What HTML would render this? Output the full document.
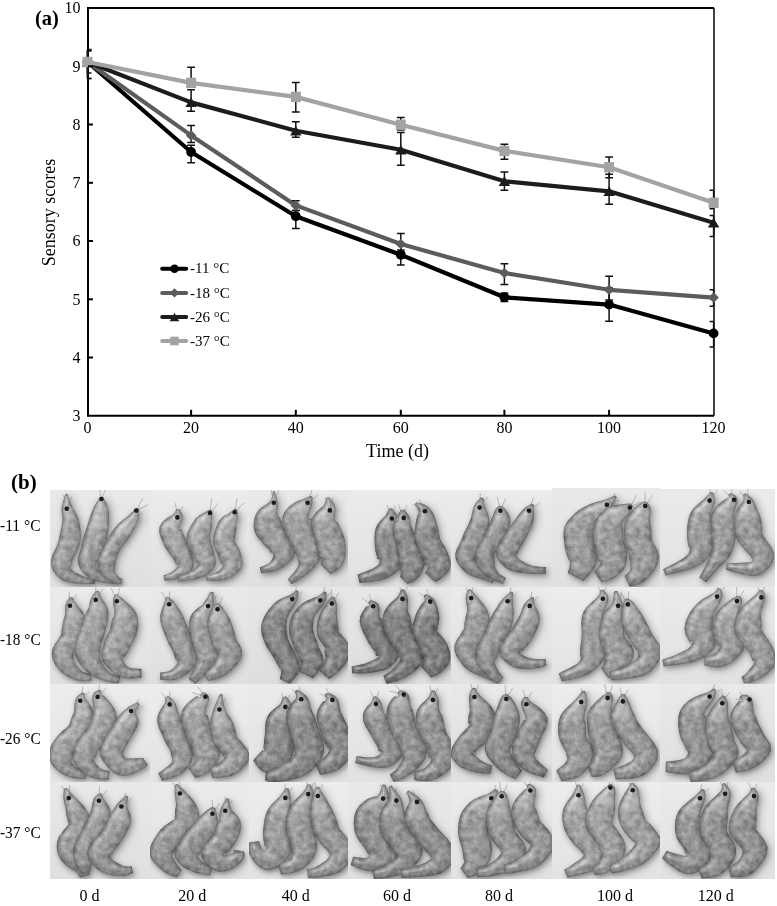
<!DOCTYPE html>
<html><head><meta charset="utf-8"><style>
html,body{margin:0;padding:0;background:#fff;}
svg{display:block;filter:grayscale(1);}
text{font-family:"Liberation Serif", serif;fill:#000;}
</style></head><body>
<svg width="777" height="906" viewBox="0 0 777 906">
<path d="M714.0 8.0V415.8" stroke="#2e2e2e" stroke-width="1.8" fill="none"/>
<path d="M714.0 415.8H88.0V8.0H714.0" stroke="#000" stroke-width="2" fill="none"/>
<polyline points="87.5,62.0 191.1,152.0 295.8,216.3 400.8,254.8 504.4,297.3 609.1,304.6 713.6,333.4" fill="none" stroke="#000000" stroke-width="4.2" stroke-linejoin="round"/>
<path d="M87.5 49.5V78.6M87.5 49.5H91.5M87.5 78.6H91.5" stroke="#111" stroke-width="1.5" fill="none"/>
<path d="M191.1 145.3V162.8M187.2 145.3H195.0M187.2 162.8H195.0" stroke="#111" stroke-width="1.5" fill="none"/>
<path d="M295.8 210.6V228.4M291.9 210.6H299.7M291.9 228.4H299.7" stroke="#111" stroke-width="1.5" fill="none"/>
<path d="M400.8 244V265M396.9 244H404.7M396.9 265H404.7" stroke="#111" stroke-width="1.5" fill="none"/>
<path d="M504.4 293V301.4M500.5 293H508.3M500.5 301.4H508.3" stroke="#111" stroke-width="1.5" fill="none"/>
<path d="M609.1 288V321.2M605.2 288H613.0M605.2 321.2H613.0" stroke="#111" stroke-width="1.5" fill="none"/>
<path d="M713.6 321.5V346.9M709.6 321.5H713.6M709.6 346.9H713.6" stroke="#111" stroke-width="1.5" fill="none"/>
<circle cx="87.5" cy="62.0" r="4.9" fill="#000"/>
<circle cx="191.1" cy="152.0" r="4.9" fill="#000"/>
<circle cx="295.8" cy="216.3" r="4.9" fill="#000"/>
<circle cx="400.8" cy="254.8" r="4.9" fill="#000"/>
<circle cx="504.4" cy="297.3" r="4.9" fill="#000"/>
<circle cx="609.1" cy="304.6" r="4.9" fill="#000"/>
<circle cx="713.6" cy="333.4" r="4.9" fill="#000"/>
<polyline points="87.5,62.0 191.1,135.4 295.8,205.4 400.8,244.0 504.4,273.0 609.1,289.8 713.6,297.6" fill="none" stroke="#5c5c5c" stroke-width="4.2" stroke-linejoin="round"/>
<path d="M87.5 50V78.6M87.5 50H91.5M87.5 78.6H91.5" stroke="#111" stroke-width="1.5" fill="none"/>
<path d="M191.1 125.5V142.5M187.2 125.5H195.0M187.2 142.5H195.0" stroke="#111" stroke-width="1.5" fill="none"/>
<path d="M295.8 200.7V210.6M291.9 200.7H299.7M291.9 210.6H299.7" stroke="#111" stroke-width="1.5" fill="none"/>
<path d="M400.8 233.5V250M396.9 233.5H404.7M396.9 250H404.7" stroke="#111" stroke-width="1.5" fill="none"/>
<path d="M504.4 263.7V284.6M500.5 263.7H508.3M500.5 284.6H508.3" stroke="#111" stroke-width="1.5" fill="none"/>
<path d="M609.1 276.3V300M605.2 276.3H613.0M605.2 300H613.0" stroke="#111" stroke-width="1.5" fill="none"/>
<path d="M713.6 289.7V306.2M709.6 289.7H713.6M709.6 306.2H713.6" stroke="#111" stroke-width="1.5" fill="none"/>
<path d="M87.5 56.7L92.8 62.0L87.5 67.3L82.2 62.0Z" fill="#5c5c5c"/>
<path d="M191.1 130.1L196.4 135.4L191.1 140.7L185.8 135.4Z" fill="#5c5c5c"/>
<path d="M295.8 200.1L301.1 205.4L295.8 210.7L290.5 205.4Z" fill="#5c5c5c"/>
<path d="M400.8 238.7L406.1 244.0L400.8 249.3L395.5 244.0Z" fill="#5c5c5c"/>
<path d="M504.4 267.7L509.7 273.0L504.4 278.3L499.1 273.0Z" fill="#5c5c5c"/>
<path d="M609.1 284.5L614.4 289.8L609.1 295.1L603.8 289.8Z" fill="#5c5c5c"/>
<path d="M713.6 292.3L718.9 297.6L713.6 302.9L708.3 297.6Z" fill="#5c5c5c"/>
<polyline points="87.5,62.0 191.1,102.4 295.8,130.7 400.8,149.7 504.4,181.3 609.1,191.3 713.6,222.7" fill="none" stroke="#1c1c1c" stroke-width="4.2" stroke-linejoin="round"/>
<path d="M87.5 62V73M87.5 62H91.5M87.5 73H91.5" stroke="#111" stroke-width="1.5" fill="none"/>
<path d="M191.1 89.8V111.2M187.2 89.8H195.0M187.2 111.2H195.0" stroke="#111" stroke-width="1.5" fill="none"/>
<path d="M295.8 121.8V137.3M291.9 121.8H299.7M291.9 137.3H299.7" stroke="#111" stroke-width="1.5" fill="none"/>
<path d="M400.8 132.4V165.2M396.9 132.4H404.7M396.9 165.2H404.7" stroke="#111" stroke-width="1.5" fill="none"/>
<path d="M504.4 172.1V190.2M500.5 172.1H508.3M500.5 190.2H508.3" stroke="#111" stroke-width="1.5" fill="none"/>
<path d="M609.1 174.2V204.2M605.2 174.2H613.0M605.2 204.2H613.0" stroke="#111" stroke-width="1.5" fill="none"/>
<path d="M713.6 215.4V236.6M709.6 215.4H713.6M709.6 236.6H713.6" stroke="#111" stroke-width="1.5" fill="none"/>
<path d="M87.5 57.0L93.2 66.7L81.8 66.7Z" fill="#1c1c1c"/>
<path d="M191.1 97.4L196.8 107.1L185.4 107.1Z" fill="#1c1c1c"/>
<path d="M295.8 125.7L301.5 135.4L290.1 135.4Z" fill="#1c1c1c"/>
<path d="M400.8 144.7L406.5 154.4L395.1 154.4Z" fill="#1c1c1c"/>
<path d="M504.4 176.3L510.1 186.0L498.7 186.0Z" fill="#1c1c1c"/>
<path d="M609.1 186.3L614.8 196.0L603.4 196.0Z" fill="#1c1c1c"/>
<path d="M713.6 217.7L719.3 227.4L707.9 227.4Z" fill="#1c1c1c"/>
<polyline points="87.5,62.0 191.1,82.9 295.8,96.9 400.8,124.8 504.4,150.9 609.1,167.2 713.6,202.8" fill="none" stroke="#a3a3a3" stroke-width="4.2" stroke-linejoin="round"/>
<path d="M87.5 51V62M87.5 51H91.5M87.5 62H91.5" stroke="#111" stroke-width="1.5" fill="none"/>
<path d="M191.1 67.2V84M187.2 67.2H195.0M187.2 84H195.0" stroke="#111" stroke-width="1.5" fill="none"/>
<path d="M295.8 82.6V111.9M291.9 82.6H299.7M291.9 111.9H299.7" stroke="#111" stroke-width="1.5" fill="none"/>
<path d="M400.8 117.5V130M396.9 117.5H404.7M396.9 130H404.7" stroke="#111" stroke-width="1.5" fill="none"/>
<path d="M504.4 144.3V159.2M500.5 144.3H508.3M500.5 159.2H508.3" stroke="#111" stroke-width="1.5" fill="none"/>
<path d="M609.1 156.9V177.7M605.2 156.9H613.0M605.2 177.7H613.0" stroke="#111" stroke-width="1.5" fill="none"/>
<path d="M713.6 190.3V208.8M709.6 190.3H713.6M709.6 208.8H713.6" stroke="#111" stroke-width="1.5" fill="none"/>
<rect x="82.5" y="56.8" width="10" height="10.4" fill="#a3a3a3"/>
<rect x="186.1" y="77.7" width="10" height="10.4" fill="#a3a3a3"/>
<rect x="290.8" y="91.7" width="10" height="10.4" fill="#a3a3a3"/>
<rect x="395.8" y="119.6" width="10" height="10.4" fill="#a3a3a3"/>
<rect x="499.4" y="145.7" width="10" height="10.4" fill="#a3a3a3"/>
<rect x="604.1" y="162.0" width="10" height="10.4" fill="#a3a3a3"/>
<rect x="708.6" y="197.6" width="10" height="10.4" fill="#a3a3a3"/>
<text x="80.5" y="421.2" text-anchor="end" font-size="16">3</text>
<path d="M88.0 357.5H93.0" stroke="#000" stroke-width="2"/>
<text x="80.5" y="362.9" text-anchor="end" font-size="16">4</text>
<path d="M88.0 299.3H93.0" stroke="#000" stroke-width="2"/>
<text x="80.5" y="304.7" text-anchor="end" font-size="16">5</text>
<path d="M88.0 241.0H93.0" stroke="#000" stroke-width="2"/>
<text x="80.5" y="246.4" text-anchor="end" font-size="16">6</text>
<path d="M88.0 182.8H93.0" stroke="#000" stroke-width="2"/>
<text x="80.5" y="188.2" text-anchor="end" font-size="16">7</text>
<path d="M88.0 124.5H93.0" stroke="#000" stroke-width="2"/>
<text x="80.5" y="129.9" text-anchor="end" font-size="16">8</text>
<path d="M88.0 66.3H93.0" stroke="#000" stroke-width="2"/>
<text x="80.5" y="71.7" text-anchor="end" font-size="16">9</text>
<text x="80.5" y="13.4" text-anchor="end" font-size="16">10</text>
<text x="87.5" y="432.8" text-anchor="middle" font-size="16">0</text>
<path d="M191.1 415.8V409.8" stroke="#000" stroke-width="2"/>
<text x="191.1" y="432.8" text-anchor="middle" font-size="16">20</text>
<path d="M295.8 415.8V409.8" stroke="#000" stroke-width="2"/>
<text x="295.8" y="432.8" text-anchor="middle" font-size="16">40</text>
<path d="M400.8 415.8V409.8" stroke="#000" stroke-width="2"/>
<text x="400.8" y="432.8" text-anchor="middle" font-size="16">60</text>
<path d="M504.4 415.8V409.8" stroke="#000" stroke-width="2"/>
<text x="504.4" y="432.8" text-anchor="middle" font-size="16">80</text>
<path d="M609.1 415.8V409.8" stroke="#000" stroke-width="2"/>
<text x="609.1" y="432.8" text-anchor="middle" font-size="16">100</text>
<text x="713.6" y="432.8" text-anchor="middle" font-size="16">120</text>
<text x="397.5" y="456.7" text-anchor="middle" font-size="18">Time (d)</text>
<text transform="translate(54.5,212.6) rotate(-90)" text-anchor="middle" font-size="18">Sensory scores</text>
<text x="35" y="24.8" font-size="20.5" font-weight="bold">(a)</text>
<path d="M162.2 268.7H186.2" stroke="#000000" stroke-width="4" stroke-linecap="round"/>
<circle cx="174.5" cy="268.7" r="4.3" fill="#000000"/>
<text x="190" y="273.4" font-size="15">-11 °C</text>
<path d="M162.2 292.9H186.2" stroke="#5c5c5c" stroke-width="4" stroke-linecap="round"/>
<path d="M174.5 288.2L179.2 292.9L174.5 297.59999999999997L169.8 292.9Z" fill="#5c5c5c"/>
<text x="190" y="297.6" font-size="15">-18 °C</text>
<path d="M162.2 317.0H186.2" stroke="#1c1c1c" stroke-width="4" stroke-linecap="round"/>
<path d="M174.5 312.7L179.3 321.3L169.7 321.3Z" fill="#1c1c1c"/>
<text x="190" y="321.7" font-size="15">-26 °C</text>
<path d="M162.2 341.0H186.2" stroke="#a3a3a3" stroke-width="4" stroke-linecap="round"/>
<rect x="170.2" y="336.7" width="8.6" height="8.6" fill="#a3a3a3"/>
<text x="190" y="345.7" font-size="15">-37 °C</text>
<defs><filter id="bl" x="-50%" y="-50%" width="200%" height="200%"><feGaussianBlur stdDeviation="0.6"/></filter>
<filter id="bl2" x="-50%" y="-50%" width="200%" height="200%"><feGaussianBlur stdDeviation="1.8"/></filter>
<filter id="gsh" x="-30%" y="-30%" width="160%" height="160%"><feGaussianBlur stdDeviation="4.5"/><feOffset dx="2.5" dy="3"/></filter>
<filter id="shr" x="-30%" y="-30%" width="160%" height="160%" color-interpolation-filters="sRGB">
<feGaussianBlur in="SourceAlpha" stdDeviation="2.2" result="b"/>
<feOffset in="b" dx="1.2" dy="1.5" result="o"/>
<feFlood flood-color="#000" flood-opacity="0.28"/>
<feComposite in2="o" operator="in" result="sh"/>
<feGaussianBlur in="SourceAlpha" stdDeviation="1.8" result="ib"/>
<feComposite in="SourceAlpha" in2="ib" operator="out" result="edge"/>
<feFlood flood-color="#1a1a1a" flood-opacity="0.7"/>
<feComposite in2="edge" operator="in" result="edgec"/>
<feTurbulence type="fractalNoise" baseFrequency="0.18" numOctaves="3" seed="3" result="n"/>
<feColorMatrix in="n" type="matrix" values="1.3 0 0 0 -0.05  1.3 0 0 0 -0.05  1.3 0 0 0 -0.05  0 0 0 0 0.22" result="nw"/>
<feComposite in="nw" in2="SourceAlpha" operator="in" result="tex"/>
<feGaussianBlur in="SourceGraphic" stdDeviation="0.5" result="sg"/>
<feGaussianBlur in="SourceAlpha" stdDeviation="3" result="hb"/>
<feSpecularLighting in="hb" surfaceScale="5" specularConstant="0.55" specularExponent="10" lighting-color="#ffffff" result="spec"><feDistantLight azimuth="235" elevation="40"/></feSpecularLighting>
<feComposite in="spec" in2="SourceAlpha" operator="in" result="specIn"/>
<feMerge><feMergeNode in="sg"/><feMergeNode in="tex"/></feMerge>
<feComposite in2="specIn" operator="arithmetic" k1="0" k2="1" k3="0.35" k4="0" result="lit"/>
<feMerge><feMergeNode in="sh"/><feMergeNode in="lit"/><feMergeNode in="edgec"/></feMerge>
</filter>
<clipPath id="c00"><rect x="50" y="490" width="100" height="97"/></clipPath>
<clipPath id="c01"><rect x="150" y="490" width="99" height="97"/></clipPath>
<clipPath id="c02"><rect x="249" y="490" width="99" height="97"/></clipPath>
<clipPath id="c03"><rect x="348" y="490" width="103" height="97"/></clipPath>
<clipPath id="c04"><rect x="451" y="490" width="101" height="97"/></clipPath>
<clipPath id="c05"><rect x="552" y="488" width="108" height="99"/></clipPath>
<clipPath id="c06"><rect x="660" y="489" width="115" height="98"/></clipPath>
<clipPath id="c10"><rect x="50" y="587" width="100" height="97"/></clipPath>
<clipPath id="c11"><rect x="150" y="587" width="99" height="97"/></clipPath>
<clipPath id="c12"><rect x="249" y="587" width="99" height="97"/></clipPath>
<clipPath id="c13"><rect x="348" y="587" width="103" height="97"/></clipPath>
<clipPath id="c14"><rect x="451" y="587" width="101" height="97"/></clipPath>
<clipPath id="c15"><rect x="552" y="587" width="108" height="97"/></clipPath>
<clipPath id="c16"><rect x="660" y="587" width="115" height="97"/></clipPath>
<clipPath id="c20"><rect x="50" y="684" width="100" height="98"/></clipPath>
<clipPath id="c21"><rect x="150" y="684" width="99" height="98"/></clipPath>
<clipPath id="c22"><rect x="249" y="684" width="99" height="98"/></clipPath>
<clipPath id="c23"><rect x="348" y="684" width="103" height="98"/></clipPath>
<clipPath id="c24"><rect x="451" y="684" width="101" height="98"/></clipPath>
<clipPath id="c25"><rect x="552" y="684" width="108" height="98"/></clipPath>
<clipPath id="c26"><rect x="660" y="684" width="115" height="98"/></clipPath>
<clipPath id="c30"><rect x="50" y="782" width="100" height="97"/></clipPath>
<clipPath id="c31"><rect x="150" y="782" width="99" height="97"/></clipPath>
<clipPath id="c32"><rect x="249" y="782" width="99" height="97"/></clipPath>
<clipPath id="c33"><rect x="348" y="782" width="103" height="97"/></clipPath>
<clipPath id="c34"><rect x="451" y="782" width="101" height="97"/></clipPath>
<clipPath id="c35"><rect x="552" y="782" width="108" height="97"/></clipPath>
<clipPath id="c36"><rect x="660" y="782" width="115" height="97"/></clipPath>
</defs>
<linearGradient id="g00" x1="0" y1="0" x2="0" y2="1"><stop offset="0" stop-color="#e9e9e9"/><stop offset="1" stop-color="#dfdfdf"/></linearGradient>
<g clip-path="url(#c00)"><rect x="50" y="490" width="100" height="97" fill="url(#g00)"/>
<g transform="translate(50,490)">
<g filter="url(#gsh)" opacity="0.22">
<path d="M13.7 4.0 L13.3 5.5 L12.7 7.6 L12.0 10.1 L11.3 12.9 L10.8 15.9 L10.6 18.9 L11.0 21.9 L11.6 24.6 L12.1 26.9 L12.4 29.0 L12.4 30.8 L12.2 32.7 L11.8 35.2 L11.4 38.0 L10.8 40.9 L10.1 43.7 L9.5 46.5 L9.0 48.9 L8.5 51.1 L7.6 54.0 L6.2 57.2 L4.5 60.8 L2.6 64.8 L1.4 69.2 L1.1 73.3 L1.7 77.0 L3.0 80.6 L5.2 83.8 L7.8 86.5 L10.6 89.1 L14.1 91.0 L17.8 92.1 L21.4 92.8 L24.9 93.2 L28.2 93.4 L31.1 93.7 L33.8 94.0 L36.6 94.1 L39.2 94.1 L41.5 94.1 L43.4 94.1 L44.7 94.1 L45.3 89.9 L43.9 89.6 L42.0 89.2 L39.9 88.7 L37.6 88.0 L35.2 87.3 L32.9 86.3 L30.4 85.1 L27.6 83.8 L24.8 82.3 L22.5 80.8 L20.9 79.4 L20.2 78.3 L20.0 77.5 L20.3 76.4 L21.0 75.5 L21.4 74.6 L21.7 73.5 L21.8 72.4 L22.0 71.1 L22.6 68.9 L24.1 65.9 L25.9 62.4 L28.0 58.5 L29.6 54.1 L30.4 49.9 L30.6 45.9 L30.5 42.0 L30.2 38.2 L29.7 34.7 L29.0 31.3 L28.1 27.9 L26.9 24.8 L25.7 22.4 L24.7 20.3 L24.0 18.6 L23.4 17.1 L22.7 15.1 L22.0 12.7 L21.2 10.1 L20.6 7.7 L20.1 5.6 L19.7 4.0Z" fill="#000"/>
<path d="M47.5 6.8 L46.9 8.1 L46.0 9.8 L45.0 11.7 L43.9 13.8 L42.9 16.0 L41.9 18.3 L41.1 20.8 L40.3 23.8 L39.5 26.9 L38.7 30.1 L37.9 33.3 L37.1 36.3 L36.2 39.4 L35.2 42.5 L34.2 45.7 L33.2 48.8 L32.3 51.8 L31.7 54.4 L31.5 56.5 L31.1 58.7 L30.2 61.2 L29.1 64.2 L27.9 67.9 L27.8 72.2 L28.9 76.0 L30.6 79.2 L32.8 81.8 L35.1 84.3 L37.5 86.5 L40.2 88.5 L43.5 90.0 L46.9 91.1 L50.4 91.9 L53.8 92.5 L57.0 93.0 L59.7 93.3 L62.2 93.5 L64.6 93.5 L66.7 93.3 L68.4 93.1 L69.8 92.9 L70.8 92.8 L70.8 88.6 L69.7 88.4 L68.3 88.3 L66.7 88.1 L65.0 87.8 L63.2 87.4 L61.3 86.7 L59.0 85.7 L56.2 84.5 L53.4 83.2 L50.8 81.7 L48.7 80.2 L47.4 78.9 L46.5 77.7 L45.8 76.3 L45.5 74.8 L45.8 73.4 L46.3 72.3 L46.8 71.8 L47.1 71.8 L47.3 71.2 L48.1 69.7 L49.6 67.6 L51.5 64.9 L53.3 61.6 L54.5 58.3 L55.4 55.0 L56.2 51.5 L56.9 48.0 L57.5 44.4 L58.1 40.9 L58.6 37.3 L59.1 33.7 L59.5 30.1 L59.7 26.7 L59.8 23.4 L59.7 20.3 L59.3 17.4 L58.6 14.7 L57.7 12.2 L56.8 10.1 L56.0 8.4 L55.5 7.2Z" fill="#000"/>
<path d="M84.7 17.0 L83.7 18.0 L82.5 19.4 L81.0 21.0 L79.5 22.7 L78.1 24.3 L76.7 25.8 L75.2 27.2 L73.4 28.8 L71.5 30.6 L69.4 32.7 L67.2 35.0 L65.2 37.4 L63.3 40.0 L61.5 42.7 L59.8 45.6 L58.1 48.6 L56.4 51.5 L54.8 54.3 L53.3 56.9 L51.9 59.5 L50.5 62.2 L49.3 64.9 L48.3 67.9 L47.7 71.1 L47.7 74.3 L48.3 77.4 L49.3 80.2 L50.7 82.7 L52.2 84.9 L54.1 86.8 L56.0 88.8 L58.2 90.2 L60.2 91.3 L62.2 92.0 L63.9 92.5 L65.4 93.0 L66.8 93.4 L68.3 93.6 L69.5 93.6 L70.5 93.6 L71.2 93.5 L71.6 93.5 L72.4 89.3 L71.8 89.1 L71.1 88.8 L70.5 88.5 L69.8 88.2 L69.3 87.7 L68.6 87.0 L67.7 86.1 L66.7 84.9 L65.7 83.7 L64.9 82.5 L64.4 81.5 L64.3 80.6 L64.5 79.3 L64.7 77.9 L64.8 76.5 L65.1 75.1 L65.3 73.9 L65.5 72.9 L65.6 71.7 L65.9 70.2 L66.3 68.3 L66.9 66.2 L67.8 64.0 L68.8 61.7 L70.0 59.5 L71.5 57.1 L73.4 54.7 L75.3 52.3 L77.1 49.9 L78.8 47.6 L80.3 45.4 L81.9 43.2 L83.5 40.9 L85.1 38.5 L86.7 36.0 L88.1 33.4 L89.3 30.7 L90.1 28.0 L90.7 25.5 L91.0 23.2 L91.1 21.4 L91.3 20.0Z" fill="#000"/>
</g>
<g filter="url(#shr)">
<path d="M15.7 4.0 L15.1 5.5 L14.4 7.6 L13.5 10.1 L12.7 12.9 L12.0 15.8 L11.6 18.8 L11.7 21.7 L12.1 24.4 L12.5 26.8 L12.6 28.9 L12.5 30.8 L12.2 32.7 L11.8 35.2 L11.3 38.0 L10.7 40.9 L10.1 43.7 L9.5 46.5 L9.0 48.9 L8.5 51.1 L7.6 54.0 L6.2 57.2 L4.5 60.8 L2.6 64.8 L1.4 69.2 L1.1 73.3 L1.7 77.0 L3.0 80.6 L5.2 83.8 L7.8 86.5 L10.6 89.1 L14.1 91.0 L17.8 92.1 L21.4 92.8 L24.9 93.2 L28.2 93.4 L31.1 93.7 L33.8 94.0 L36.6 94.1 L39.2 94.1 L41.5 94.1 L43.4 94.1 L44.7 94.1 L45.3 89.9 L43.9 89.6 L42.0 89.2 L39.9 88.7 L37.6 88.0 L35.2 87.3 L32.9 86.3 L30.4 85.1 L27.6 83.8 L24.8 82.3 L22.5 80.8 L20.9 79.4 L20.2 78.3 L20.0 77.5 L20.3 76.4 L21.0 75.5 L21.4 74.6 L21.7 73.5 L21.8 72.4 L22.0 71.1 L22.6 68.9 L24.1 65.9 L25.9 62.4 L28.0 58.5 L29.6 54.1 L30.4 49.9 L30.7 45.9 L30.6 42.0 L30.2 38.2 L29.7 34.7 L29.0 31.3 L28.0 27.9 L26.7 24.9 L25.3 22.5 L24.1 20.5 L23.2 18.8 L22.4 17.2 L21.5 15.2 L20.6 12.7 L19.7 10.1 L18.9 7.7 L18.2 5.5 L17.7 4.0Z" fill="#8e8e8e"/>
<path d="M10.3 46.9Q19.7 49.7 29.5 49.5M7.6 54.2Q16.2 59.6 26.0 62.2M3.4 64.3Q11.7 69.3 21.2 71.6M3.4 79.7Q12.3 79.5 20.6 76.4M13.3 91.0Q18.7 86.1 21.6 79.4M24.8 93.4Q27.7 88.9 27.7 83.5" stroke="#5a5a5a" stroke-width="0.9" stroke-opacity="0.22" fill="none"/>
</g>
<path d="M15.9 4.0 L15.5 5.5 L14.8 7.6 L14.1 10.1 L13.5 12.9 L12.9 15.8 L12.7 18.6 L12.7 21.5 L13.0 24.5 L13.4 27.4 L13.8 30.1 L14.1 32.2 L14.3 33.8 L26.9 30.2 L26.2 28.7 L25.3 26.7 L24.2 24.4 L23.2 21.9 L22.2 19.5 L21.3 17.4 L20.6 15.2 L19.8 12.7 L19.1 10.1 L18.5 7.7 L17.9 5.5 L17.5 4.0Z" fill="#ffffff" opacity="0.22" filter="url(#bl2)"/>
<path d="M16.7 18.7L13.7 4.7M16.7 18.7L21.7 6.7" stroke="#8a8a8a" stroke-width="0.9" stroke-opacity="0.6" fill="none"/>
<circle cx="16.7" cy="18.7" r="2.3" fill="#1a1a1a" filter="url(#bl)"/>
<g filter="url(#shr)">
<path d="M50.1 6.9 L49.3 8.2 L48.3 9.8 L47.0 11.8 L45.7 13.9 L44.4 16.1 L43.3 18.4 L42.2 21.0 L41.1 23.9 L40.1 27.0 L39.0 30.2 L38.0 33.3 L37.1 36.3 L36.1 39.4 L35.1 42.5 L34.1 45.7 L33.1 48.8 L32.3 51.8 L31.7 54.4 L31.5 56.5 L31.1 58.7 L30.2 61.2 L29.1 64.2 L27.9 67.9 L27.8 72.2 L28.9 76.0 L30.6 79.2 L32.8 81.8 L35.1 84.3 L37.5 86.5 L40.2 88.5 L43.5 90.0 L46.9 91.1 L50.4 91.9 L53.8 92.5 L57.0 93.0 L59.7 93.3 L62.2 93.5 L64.6 93.5 L66.7 93.3 L68.4 93.1 L69.8 92.9 L70.8 92.8 L70.8 88.6 L69.7 88.4 L68.3 88.3 L66.7 88.1 L65.0 87.8 L63.2 87.4 L61.3 86.7 L59.0 85.7 L56.2 84.5 L53.4 83.2 L50.8 81.7 L48.7 80.2 L47.4 78.9 L46.5 77.7 L45.8 76.3 L45.5 74.8 L45.8 73.4 L46.3 72.3 L46.8 71.8 L47.1 71.8 L47.3 71.2 L48.1 69.7 L49.6 67.6 L51.5 64.9 L53.3 61.6 L54.5 58.3 L55.4 55.0 L56.3 51.6 L57.0 48.0 L57.6 44.4 L58.1 40.9 L58.5 37.3 L58.8 33.6 L58.9 30.0 L58.9 26.5 L58.7 23.2 L58.3 20.2 L57.7 17.3 L56.8 14.6 L55.7 12.1 L54.5 10.0 L53.6 8.3 L52.9 7.1Z" fill="#8e8e8e"/>
<path d="M34.8 46.0Q44.8 50.1 55.5 51.3M32.2 54.9Q42.1 59.4 52.8 61.1M29.6 63.8Q37.6 69.1 46.8 71.6M30.7 78.5Q38.7 77.7 45.7 74.0M39.6 88.4Q44.9 84.7 48.0 79.0M53.7 92.7Q56.5 89.0 56.4 84.3" stroke="#5a5a5a" stroke-width="0.9" stroke-opacity="0.22" fill="none"/>
</g>
<path d="M50.4 7.0 L49.8 8.2 L48.9 9.9 L47.9 11.8 L46.8 14.0 L45.7 16.2 L44.8 18.6 L43.8 21.3 L42.7 24.8 L41.6 28.4 L40.6 31.9 L39.7 35.0 L39.1 37.1 L56.1 40.1 L56.3 37.9 L56.5 34.7 L56.7 31.0 L56.9 27.1 L57.0 23.3 L56.8 20.0 L56.4 17.2 L55.7 14.5 L54.8 12.1 L53.9 10.0 L53.1 8.3 L52.6 7.0Z" fill="#ffffff" opacity="0.22" filter="url(#bl2)"/>
<path d="M51.5 9.0L48.5 -5.0M51.5 9.0L56.5 -3.0" stroke="#8a8a8a" stroke-width="0.9" stroke-opacity="0.6" fill="none"/>
<circle cx="51.5" cy="9" r="2.3" fill="#1a1a1a" filter="url(#bl)"/>
<g filter="url(#shr)">
<path d="M86.9 18.0 L85.8 18.9 L84.3 20.2 L82.7 21.7 L80.9 23.3 L79.2 24.9 L77.6 26.4 L75.9 27.7 L73.9 29.2 L71.8 30.9 L69.6 32.8 L67.3 35.0 L65.2 37.4 L63.3 40.0 L61.5 42.7 L59.7 45.6 L58.1 48.6 L56.4 51.5 L54.8 54.3 L53.3 56.9 L51.9 59.5 L50.5 62.2 L49.3 64.9 L48.3 67.9 L47.7 71.1 L47.7 74.3 L48.3 77.4 L49.3 80.2 L50.7 82.7 L52.2 84.9 L54.1 86.8 L56.0 88.8 L58.2 90.2 L60.2 91.3 L62.2 92.0 L63.9 92.5 L65.4 93.0 L66.8 93.4 L68.3 93.6 L69.5 93.6 L70.5 93.6 L71.2 93.5 L71.6 93.5 L72.4 89.3 L71.8 89.1 L71.1 88.8 L70.5 88.5 L69.8 88.2 L69.3 87.7 L68.6 87.0 L67.7 86.1 L66.7 84.9 L65.7 83.7 L64.9 82.5 L64.4 81.5 L64.3 80.6 L64.5 79.3 L64.7 77.9 L64.8 76.5 L65.1 75.1 L65.3 73.9 L65.5 72.9 L65.6 71.7 L65.9 70.2 L66.3 68.3 L66.9 66.2 L67.8 64.0 L68.8 61.7 L70.0 59.5 L71.6 57.1 L73.4 54.8 L75.3 52.4 L77.2 49.9 L78.8 47.6 L80.3 45.3 L81.7 43.0 L83.2 40.6 L84.6 38.1 L86.0 35.5 L87.2 32.8 L88.2 30.1 L88.8 27.4 L89.0 24.7 L89.1 22.4 L89.1 20.4 L89.1 19.0Z" fill="#8e8e8e"/>
<path d="M61.1 42.4Q67.5 48.8 75.7 52.7M56.2 51.2Q62.4 56.8 70.2 59.8M52.1 59.4Q58.8 64.2 66.7 66.3M49.0 67.7Q56.6 71.3 64.9 72.0M49.1 76.9Q56.8 77.8 64.3 75.6M55.5 88.6Q61.1 86.3 65.0 81.7" stroke="#5a5a5a" stroke-width="0.9" stroke-opacity="0.22" fill="none"/>
</g>
<path d="M87.1 18.1 L86.1 19.1 L84.8 20.5 L83.3 22.0 L81.7 23.8 L80.1 25.5 L78.6 27.0 L76.8 28.7 L74.6 30.8 L72.3 32.9 L70.1 35.0 L68.2 36.8 L66.8 38.1 L77.2 46.9 L78.2 45.3 L79.7 43.2 L81.4 40.5 L83.2 37.7 L84.9 34.9 L86.2 32.2 L87.3 29.6 L88.0 27.0 L88.4 24.4 L88.6 22.2 L88.8 20.3 L88.9 18.9Z" fill="#ffffff" opacity="0.22" filter="url(#bl2)"/>
<path d="M86.2 20.6L93.0 8.0M86.2 20.6L97.8 14.7" stroke="#8a8a8a" stroke-width="0.9" stroke-opacity="0.6" fill="none"/>
<circle cx="86.2" cy="20.6" r="2.3" fill="#1a1a1a" filter="url(#bl)"/>
</g></g>
<linearGradient id="g01" x1="0" y1="0" x2="0" y2="1"><stop offset="0" stop-color="#ebebeb"/><stop offset="1" stop-color="#e1e1e1"/></linearGradient>
<g clip-path="url(#c01)"><rect x="150" y="490" width="99" height="97" fill="url(#g01)"/>
<g transform="translate(150,490)">
<g filter="url(#gsh)" opacity="0.22">
<path d="M24.0 19.0 L23.7 20.1 L23.4 21.3 L22.9 22.6 L22.3 23.6 L21.7 24.5 L21.5 24.8 L21.2 25.3 L19.7 26.0 L17.7 27.3 L15.2 29.4 L12.0 32.4 L9.5 37.2 L9.4 42.2 L10.4 46.2 L11.7 49.7 L13.1 52.7 L14.4 55.5 L15.6 58.1 L17.4 60.8 L19.4 63.4 L21.2 65.7 L22.7 67.8 L23.7 69.5 L24.4 71.0 L25.1 72.5 L25.8 73.9 L26.1 74.7 L26.3 74.9 L26.8 74.6 L28.1 74.5 L28.5 75.0 L28.0 76.1 L26.9 77.5 L25.4 79.0 L23.8 80.4 L22.4 81.6 L21.1 82.5 L19.5 83.3 L17.8 84.0 L16.1 84.6 L14.6 85.1 L13.5 85.5 L14.5 90.5 L15.6 90.5 L17.2 90.4 L19.1 90.4 L21.3 90.2 L23.7 89.8 L26.0 89.2 L28.3 88.5 L30.7 87.6 L33.2 86.6 L35.7 85.2 L38.2 83.4 L40.7 80.9 L43.0 77.8 L43.8 74.3 L43.5 71.3 L42.9 68.7 L42.3 66.4 L41.6 64.0 L40.4 61.3 L39.0 58.5 L37.8 55.9 L36.7 53.4 L36.0 51.1 L35.4 48.9 L34.4 46.5 L33.2 43.9 L32.4 41.6 L31.8 39.8 L31.7 38.9 L31.3 39.2 L29.9 39.8 L28.9 39.0 L29.4 37.4 L30.5 35.3 L31.8 32.8 L33.3 30.0 L34.0 27.1 L33.9 24.6 L33.4 22.5 L32.8 20.9 L32.3 19.7 L32.0 19.0Z" fill="#000"/>
<path d="M58.0 18.3 L57.2 18.9 L56.1 19.7 L54.8 20.6 L53.4 21.6 L52.1 22.6 L51.1 23.5 L50.4 24.0 L49.8 24.4 L48.9 25.1 L47.7 26.3 L46.3 27.7 L45.1 29.3 L43.9 31.2 L42.5 33.5 L40.7 36.3 L38.9 39.7 L37.2 43.6 L36.4 48.4 L37.1 53.3 L38.7 57.3 L40.4 60.5 L41.9 63.1 L42.9 65.2 L43.7 67.1 L44.7 69.3 L45.9 71.3 L46.5 72.7 L46.7 73.3 L47.0 72.8 L48.0 72.2 L49.0 72.7 L48.8 73.7 L48.0 75.0 L46.9 76.5 L45.4 78.0 L43.7 79.4 L41.6 80.7 L38.7 82.2 L35.4 83.5 L32.2 84.7 L29.4 85.7 L27.4 86.5 L28.6 91.5 L30.7 91.3 L33.6 91.0 L37.2 90.6 L41.0 90.1 L44.7 89.5 L48.1 88.6 L51.0 87.5 L53.8 86.3 L56.4 84.8 L58.9 82.9 L61.2 80.6 L64.0 77.8 L65.7 73.8 L65.7 69.8 L64.9 66.8 L64.1 64.4 L63.7 62.4 L63.3 60.3 L62.4 57.6 L61.3 54.7 L60.5 52.1 L60.2 50.1 L60.3 48.7 L60.4 48.4 L60.1 47.8 L60.0 46.2 L60.1 43.9 L60.6 41.4 L61.3 38.9 L61.9 36.7 L62.1 35.2 L61.8 34.4 L61.7 33.8 L62.0 33.1 L62.4 31.9 L62.9 30.5 L63.3 29.0 L63.5 27.4 L63.7 25.7 L63.8 24.1 L63.9 22.7 L64.0 21.7Z" fill="#000"/>
<path d="M82.6 17.6 L81.8 18.4 L80.6 19.6 L79.3 21.0 L77.9 22.4 L76.7 23.7 L75.9 24.6 L75.5 24.8 L75.0 24.9 L74.0 25.6 L72.5 27.0 L70.6 28.9 L69.0 31.1 L67.7 33.6 L66.5 36.4 L65.3 39.7 L64.2 43.3 L63.3 47.2 L62.9 51.6 L63.7 56.0 L65.3 59.6 L66.9 62.4 L67.9 64.5 L68.2 66.1 L68.4 67.5 L69.1 69.5 L70.1 71.6 L70.7 73.2 L71.0 74.1 L71.4 74.0 L72.5 73.4 L73.9 73.8 L73.7 74.9 L73.1 76.3 L72.0 77.9 L70.7 79.4 L69.3 80.7 L67.7 81.8 L65.3 82.8 L62.6 83.7 L59.8 84.4 L57.4 85.0 L55.7 85.5 L56.3 90.5 L58.0 90.6 L60.5 90.7 L63.5 90.8 L66.7 90.9 L70.1 90.7 L73.3 90.1 L76.2 89.2 L79.1 88.2 L81.9 86.8 L84.7 85.0 L87.3 82.5 L90.5 79.4 L92.3 75.0 L92.4 70.8 L91.7 67.4 L90.9 64.5 L90.3 62.2 L89.6 59.9 L88.2 57.1 L86.4 54.7 L85.3 52.8 L84.8 51.4 L84.8 50.7 L84.9 50.4 L84.7 49.5 L84.8 47.4 L85.1 44.9 L85.6 42.2 L86.1 39.7 L86.4 37.7 L86.2 36.7 L85.7 36.3 L85.7 35.9 L86.2 35.0 L87.1 33.4 L88.1 31.4 L88.8 29.4 L89.1 27.3 L89.2 25.2 L89.3 23.3 L89.4 21.6 L89.4 20.4Z" fill="#000"/>
</g>
<g filter="url(#shr)">
<path d="M26.6 19.0 L26.1 20.0 L25.5 21.2 L24.8 22.5 L23.9 23.8 L23.0 24.7 L22.4 25.2 L21.7 25.7 L20.1 26.3 L17.9 27.6 L15.4 29.5 L12.1 32.4 L9.5 37.2 L9.3 42.2 L10.3 46.2 L11.7 49.7 L13.1 52.7 L14.3 55.5 L15.6 58.1 L17.4 60.8 L19.4 63.4 L21.2 65.7 L22.7 67.8 L23.7 69.5 L24.4 71.0 L25.1 72.5 L25.8 73.9 L26.1 74.7 L26.3 74.9 L26.8 74.6 L28.1 74.5 L28.5 75.0 L28.0 76.1 L26.9 77.5 L25.4 79.0 L23.8 80.4 L22.4 81.6 L21.1 82.5 L19.5 83.3 L17.8 84.0 L16.1 84.6 L14.6 85.1 L13.5 85.5 L14.5 90.5 L15.6 90.5 L17.2 90.4 L19.1 90.4 L21.3 90.2 L23.7 89.8 L26.0 89.2 L28.3 88.5 L30.7 87.6 L33.2 86.6 L35.7 85.2 L38.2 83.4 L40.7 80.9 L43.0 77.8 L43.8 74.3 L43.5 71.3 L42.9 68.7 L42.3 66.4 L41.6 64.0 L40.4 61.3 L39.0 58.5 L37.8 55.9 L36.7 53.4 L36.0 51.1 L35.4 48.9 L34.4 46.5 L33.3 43.9 L32.4 41.6 L31.9 39.8 L31.7 38.8 L31.3 39.2 L29.8 39.8 L28.8 38.8 L29.2 37.2 L30.1 35.0 L31.2 32.4 L32.4 29.6 L32.8 26.8 L32.3 24.4 L31.5 22.5 L30.6 21.0 L29.9 19.8 L29.4 19.0Z" fill="#949494"/>
<path d="M14.5 55.4Q25.0 52.3 34.3 46.5M19.0 63.5Q28.8 59.7 37.1 53.3M23.9 69.8Q32.8 66.7 40.3 61.0M26.4 74.0Q34.8 72.7 42.3 68.5M27.8 75.3Q32.5 80.4 39.0 83.1M23.6 80.2Q24.7 85.2 28.5 88.7" stroke="#5a5a5a" stroke-width="0.9" stroke-opacity="0.22" fill="none"/>
</g>
<path d="M26.9 19.0 L26.5 19.9 L26.0 21.2 L25.5 22.5 L24.7 23.8 L24.0 24.9 L23.3 25.8 L22.3 26.9 L20.8 28.4 L19.0 29.9 L17.1 31.5 L15.4 32.9 L14.3 33.9 L26.5 42.5 L27.0 41.1 L27.8 39.1 L28.8 36.7 L29.7 34.1 L30.7 31.5 L31.5 29.0 L31.8 26.6 L31.5 24.4 L30.8 22.5 L30.1 21.0 L29.5 19.8 L29.1 19.0Z" fill="#ffffff" opacity="0.22" filter="url(#bl2)"/>
<path d="M27.4 27.4L25.4 13.2M27.4 27.4L33.2 15.8" stroke="#8a8a8a" stroke-width="0.9" stroke-opacity="0.6" fill="none"/>
<circle cx="27.4" cy="27.4" r="2.3" fill="#1a1a1a" filter="url(#bl)"/>
<g filter="url(#shr)">
<path d="M59.9 19.4 L59.0 19.9 L57.8 20.6 L56.3 21.4 L54.7 22.3 L53.2 23.2 L52.0 24.0 L51.1 24.4 L50.3 24.7 L49.2 25.4 L47.9 26.4 L46.4 27.8 L45.1 29.3 L43.9 31.2 L42.4 33.5 L40.6 36.3 L38.8 39.7 L37.2 43.6 L36.4 48.4 L37.1 53.3 L38.7 57.3 L40.4 60.5 L41.9 63.1 L42.9 65.2 L43.7 67.1 L44.7 69.3 L45.9 71.3 L46.5 72.7 L46.7 73.3 L47.0 72.8 L48.0 72.2 L49.0 72.7 L48.8 73.7 L48.0 75.0 L46.9 76.5 L45.4 78.0 L43.7 79.4 L41.6 80.7 L38.7 82.2 L35.4 83.5 L32.2 84.7 L29.4 85.7 L27.4 86.5 L28.6 91.5 L30.7 91.3 L33.6 91.0 L37.2 90.6 L41.0 90.1 L44.7 89.5 L48.1 88.6 L51.0 87.5 L53.8 86.3 L56.4 84.8 L58.9 82.9 L61.2 80.6 L64.0 77.8 L65.7 73.8 L65.7 69.8 L64.9 66.8 L64.1 64.4 L63.7 62.4 L63.3 60.3 L62.4 57.6 L61.3 54.7 L60.5 52.1 L60.2 50.1 L60.3 48.7 L60.4 48.4 L60.1 47.8 L60.0 46.2 L60.2 43.9 L60.7 41.4 L61.4 38.9 L61.9 36.7 L62.0 35.2 L61.6 34.3 L61.4 33.6 L61.4 32.7 L61.7 31.5 L62.0 30.0 L62.2 28.4 L62.2 26.6 L62.2 24.8 L62.1 23.1 L62.1 21.6 L62.1 20.6Z" fill="#949494"/>
<path d="M39.1 56.6Q49.8 55.1 59.8 50.7M43.4 65.4Q53.3 62.8 62.0 57.4M46.2 71.3Q55.5 69.2 63.8 64.4M48.3 73.2Q54.4 78.0 62.0 80.2M46.4 76.4Q49.1 82.3 54.2 86.4M38.5 81.9Q38.4 86.6 41.1 90.4" stroke="#5a5a5a" stroke-width="0.9" stroke-opacity="0.22" fill="none"/>
</g>
<path d="M60.2 19.5 L59.3 20.1 L58.2 20.9 L56.9 21.8 L55.5 22.8 L54.1 23.8 L52.9 24.6 L51.9 25.5 L50.8 26.5 L49.8 27.4 L48.9 28.3 L48.1 29.0 L47.5 29.5 L59.5 36.5 L59.6 35.7 L59.9 34.7 L60.2 33.5 L60.5 32.1 L60.8 30.7 L61.1 29.4 L61.3 27.9 L61.4 26.2 L61.6 24.5 L61.7 22.8 L61.8 21.5 L61.8 20.5Z" fill="#ffffff" opacity="0.22" filter="url(#bl2)"/>
<path d="M60.0 23.0L61.6 8.8M60.0 23.0L68.5 13.2" stroke="#8a8a8a" stroke-width="0.9" stroke-opacity="0.6" fill="none"/>
<circle cx="60" cy="23" r="2.3" fill="#1a1a1a" filter="url(#bl)"/>
<g filter="url(#shr)">
<path d="M84.8 18.5 L83.9 19.3 L82.5 20.4 L81.0 21.7 L79.4 23.0 L77.9 24.2 L76.8 25.1 L76.2 25.3 L75.4 25.3 L74.3 25.8 L72.7 27.1 L70.7 28.9 L69.0 31.1 L67.7 33.5 L66.5 36.4 L65.3 39.7 L64.1 43.3 L63.3 47.2 L62.9 51.6 L63.7 56.0 L65.3 59.6 L66.9 62.4 L67.9 64.5 L68.2 66.1 L68.4 67.5 L69.1 69.5 L70.1 71.6 L70.7 73.2 L71.0 74.1 L71.4 74.0 L72.5 73.4 L73.9 73.8 L73.7 74.9 L73.1 76.3 L72.0 77.9 L70.7 79.4 L69.3 80.7 L67.7 81.8 L65.3 82.8 L62.6 83.7 L59.8 84.4 L57.4 85.0 L55.7 85.5 L56.3 90.5 L58.0 90.6 L60.5 90.7 L63.5 90.8 L66.7 90.9 L70.1 90.7 L73.3 90.1 L76.2 89.2 L79.1 88.2 L81.9 86.8 L84.7 85.0 L87.3 82.5 L90.5 79.4 L92.3 75.0 L92.4 70.8 L91.7 67.4 L90.9 64.5 L90.3 62.2 L89.6 59.9 L88.2 57.1 L86.4 54.7 L85.3 52.8 L84.8 51.4 L84.8 50.7 L84.9 50.4 L84.8 49.5 L84.8 47.4 L85.2 44.9 L85.7 42.2 L86.2 39.7 L86.4 37.7 L86.1 36.6 L85.5 36.1 L85.4 35.6 L85.7 34.5 L86.4 32.9 L87.2 30.9 L87.6 28.9 L87.6 26.7 L87.6 24.5 L87.4 22.5 L87.3 20.7 L87.2 19.5Z" fill="#949494"/>
<path d="M64.0 50.6Q73.8 52.5 83.8 51.4M67.8 64.8Q77.9 60.9 86.5 54.5M70.6 71.6Q81.0 69.5 90.4 64.6M72.4 75.2Q82.0 76.0 91.3 73.8M72.5 76.3Q76.4 82.6 82.5 86.8M67.3 81.6Q67.4 86.7 70.4 90.8" stroke="#5a5a5a" stroke-width="0.9" stroke-opacity="0.22" fill="none"/>
</g>
<path d="M85.1 18.6 L84.2 19.4 L83.0 20.6 L81.6 22.0 L80.2 23.4 L78.8 24.7 L77.8 25.7 L76.9 26.6 L75.8 27.5 L74.7 28.3 L73.7 29.1 L72.8 29.9 L72.1 30.5 L83.3 38.3 L83.5 37.6 L83.9 36.5 L84.5 35.2 L85.0 33.6 L85.6 32.0 L86.2 30.3 L86.6 28.4 L86.8 26.3 L86.9 24.2 L86.9 22.3 L86.9 20.6 L86.9 19.4Z" fill="#ffffff" opacity="0.22" filter="url(#bl2)"/>
<path d="M84.7 22.3L87.0 8.2M84.7 22.3L93.8 13.0" stroke="#8a8a8a" stroke-width="0.9" stroke-opacity="0.6" fill="none"/>
<circle cx="84.7" cy="22.3" r="2.3" fill="#1a1a1a" filter="url(#bl)"/>
</g></g>
<linearGradient id="g02" x1="0" y1="0" x2="0" y2="1"><stop offset="0" stop-color="#e9e9e9"/><stop offset="1" stop-color="#dfdfdf"/></linearGradient>
<g clip-path="url(#c02)"><rect x="249" y="490" width="99" height="97" fill="url(#g02)"/>
<g transform="translate(249,490)">
<g filter="url(#gsh)" opacity="0.22">
<path d="M22.8 1.4 L22.6 2.7 L22.4 4.4 L22.1 6.4 L21.6 8.4 L20.9 10.2 L20.1 11.5 L19.0 12.6 L17.5 13.8 L15.4 15.2 L12.8 17.1 L9.9 19.7 L7.5 23.3 L6.1 26.7 L5.2 30.2 L4.7 33.9 L4.9 38.0 L5.8 42.2 L8.1 46.6 L11.4 50.6 L14.3 54.1 L17.0 56.8 L19.3 58.8 L20.7 60.1 L21.1 60.7 L20.9 61.4 L21.0 62.0 L21.1 62.2 L21.6 62.2 L22.4 62.2 L23.4 62.6 L24.4 63.7 L24.6 65.2 L24.2 67.0 L23.4 68.8 L22.5 70.6 L21.5 72.1 L20.3 73.2 L18.5 74.3 L16.4 75.3 L14.2 76.2 L12.2 76.8 L10.8 77.4 L12.2 83.2 L13.6 83.1 L15.7 82.9 L18.2 82.6 L21.0 82.3 L24.0 81.7 L26.9 80.7 L29.6 79.5 L32.2 78.2 L34.9 76.6 L37.5 74.6 L40.1 72.4 L42.8 69.8 L44.8 66.6 L46.0 63.0 L46.3 59.3 L45.8 55.6 L44.6 52.3 L42.5 48.9 L40.0 45.2 L37.5 41.9 L35.2 39.3 L33.4 37.2 L32.3 35.8 L32.7 35.0 L33.2 34.4 L33.0 33.4 L32.6 32.2 L32.1 30.8 L31.5 29.1 L30.7 27.7 L29.5 26.7 L28.6 24.9 L28.3 22.5 L28.6 19.8 L29.2 16.9 L29.5 13.9 L29.3 11.0 L28.8 8.4 L28.2 6.0 L27.6 4.0 L27.1 2.4 L26.8 1.2Z" fill="#000"/>
<path d="M59.5 4.6 L58.8 5.0 L57.9 5.6 L56.8 6.3 L55.5 7.1 L54.1 8.0 L52.7 8.8 L50.9 9.6 L48.6 10.7 L45.7 12.2 L42.6 14.5 L39.0 17.6 L35.3 22.1 L33.6 27.4 L33.5 32.2 L34.3 36.4 L35.3 40.2 L36.4 43.4 L37.7 46.8 L39.7 50.4 L42.0 53.6 L43.9 56.3 L45.2 58.6 L45.8 60.2 L45.7 61.1 L45.8 61.8 L46.2 62.7 L46.7 63.7 L47.2 64.8 L47.7 66.2 L48.1 67.7 L48.6 69.1 L49.1 70.3 L49.5 71.7 L49.8 73.2 L49.6 74.8 L49.0 76.4 L47.9 78.5 L46.1 80.9 L44.1 83.4 L42.0 85.8 L40.2 87.9 L38.9 89.4 L42.7 94.0 L44.4 93.0 L46.8 91.6 L49.6 89.9 L52.6 88.0 L55.5 86.1 L58.0 84.2 L60.1 82.3 L62.1 80.6 L64.1 78.8 L66.1 76.8 L67.7 74.6 L69.1 72.3 L70.3 69.9 L71.3 67.2 L72.1 64.2 L72.5 60.9 L72.4 57.4 L71.5 53.5 L69.7 49.6 L67.6 46.3 L66.0 43.5 L64.8 41.0 L64.4 38.9 L64.3 37.2 L63.9 35.1 L63.3 32.7 L63.0 30.7 L62.8 29.3 L62.5 28.6 L61.5 28.9 L59.7 28.6 L59.2 27.1 L59.8 25.0 L60.9 22.5 L62.2 19.8 L63.3 17.2 L64.1 15.0 L64.5 13.1 L64.8 11.5 L65.0 10.1 L65.1 9.1 L65.3 8.2Z" fill="#000"/>
<path d="M75.1 8.2 L74.9 9.5 L74.7 11.1 L74.2 12.8 L73.7 14.5 L72.9 15.8 L72.2 16.6 L71.6 17.3 L70.5 18.5 L68.7 20.4 L66.3 23.0 L63.7 26.7 L62.2 31.8 L62.5 37.0 L63.5 41.3 L64.7 44.9 L65.7 48.0 L66.2 50.5 L66.5 52.4 L66.8 54.4 L67.4 56.4 L67.8 58.0 L68.2 59.4 L68.6 60.6 L68.8 61.7 L69.1 63.0 L69.3 64.4 L69.6 65.8 L69.9 67.0 L70.2 68.1 L71.0 68.6 L72.3 69.1 L72.8 69.8 L72.7 70.8 L72.4 72.0 L71.9 73.3 L71.4 74.3 L81.4 83.7 L82.1 83.4 L83.3 83.1 L85.0 82.2 L87.0 80.9 L89.3 79.0 L92.0 76.6 L93.7 73.9 L94.8 71.3 L95.7 68.6 L96.2 65.9 L96.6 63.1 L96.8 60.3 L96.7 57.4 L96.4 54.6 L96.1 52.0 L95.6 49.5 L95.0 47.1 L94.1 44.4 L92.7 41.2 L91.2 38.1 L89.9 35.5 L89.0 33.3 L88.6 31.9 L88.2 31.8 L87.3 31.9 L86.3 30.7 L86.0 28.6 L86.4 26.0 L87.2 22.9 L87.8 19.4 L87.4 16.1 L86.5 13.3 L85.4 11.1 L84.3 9.2 L83.5 7.9 L82.9 7.0Z" fill="#000"/>
</g>
<g filter="url(#shr)">
<path d="M24.1 1.3 L23.8 2.6 L23.6 4.3 L23.2 6.3 L22.6 8.4 L21.8 10.3 L20.8 11.7 L19.6 12.8 L17.9 14.0 L15.7 15.4 L13.0 17.2 L10.0 19.8 L7.5 23.3 L6.1 26.7 L5.1 30.2 L4.7 33.9 L4.8 38.0 L5.8 42.2 L8.1 46.6 L11.4 50.6 L14.3 54.1 L17.0 56.8 L19.3 58.8 L20.7 60.1 L21.1 60.7 L20.9 61.4 L21.0 62.0 L21.1 62.2 L21.6 62.2 L22.4 62.2 L23.4 62.6 L24.4 63.7 L24.6 65.2 L24.2 67.0 L23.4 68.8 L22.5 70.6 L21.5 72.1 L20.3 73.2 L18.5 74.3 L16.4 75.3 L14.2 76.2 L12.2 76.8 L10.8 77.4 L12.2 83.2 L13.6 83.1 L15.7 82.9 L18.2 82.6 L21.0 82.3 L24.0 81.7 L26.9 80.7 L29.6 79.5 L32.2 78.2 L34.9 76.6 L37.5 74.6 L40.1 72.4 L42.8 69.8 L44.8 66.6 L46.0 63.0 L46.3 59.3 L45.8 55.6 L44.6 52.3 L42.5 48.9 L40.0 45.2 L37.5 41.9 L35.2 39.3 L33.4 37.2 L32.3 35.8 L32.7 35.0 L33.2 34.4 L33.1 33.4 L32.7 32.2 L32.1 30.8 L31.5 29.1 L30.7 27.7 L29.4 26.6 L28.4 24.8 L28.1 22.3 L28.3 19.6 L28.6 16.7 L28.8 13.7 L28.5 10.9 L27.8 8.4 L27.1 6.1 L26.5 4.1 L25.9 2.4 L25.5 1.3Z" fill="#8a8a8a"/>
<path d="M6.5 41.1Q19.8 39.8 32.5 35.5M13.4 54.3Q24.8 46.8 34.3 37.1M20.7 61.2Q31.4 53.8 40.0 44.1M22.4 62.9Q34.0 62.2 45.0 58.6M23.9 64.2Q31.6 69.4 40.6 71.9M22.1 70.5Q24.9 76.1 30.0 79.6" stroke="#5a5a5a" stroke-width="0.9" stroke-opacity="0.22" fill="none"/>
</g>
<path d="M24.2 1.3 L24.0 2.6 L23.8 4.3 L23.6 6.3 L23.1 8.4 L22.5 10.3 L21.6 11.9 L20.3 13.5 L18.5 15.3 L16.5 17.2 L14.5 19.0 L12.7 20.5 L11.3 21.7 L26.9 29.3 L26.9 27.7 L27.1 25.3 L27.4 22.4 L27.7 19.3 L27.9 16.3 L28.0 13.5 L27.8 10.8 L27.3 8.4 L26.7 6.1 L26.2 4.1 L25.7 2.5 L25.4 1.3Z" fill="#ffffff" opacity="0.22" filter="url(#bl2)"/>
<path d="M24.8 12.7L21.8 -1.3M24.8 12.7L29.8 0.7" stroke="#8a8a8a" stroke-width="0.9" stroke-opacity="0.6" fill="none"/>
<circle cx="24.8" cy="12.7" r="2.3" fill="#1a1a1a" filter="url(#bl)"/>
<g filter="url(#shr)">
<path d="M61.4 5.8 L60.6 6.2 L59.5 6.7 L58.2 7.2 L56.7 7.9 L55.1 8.7 L53.5 9.4 L51.6 10.1 L49.0 11.1 L46.0 12.5 L42.8 14.7 L39.1 17.7 L35.3 22.1 L33.5 27.4 L33.5 32.2 L34.2 36.4 L35.3 40.2 L36.4 43.5 L37.7 46.8 L39.7 50.4 L42.0 53.6 L43.9 56.3 L45.2 58.6 L45.8 60.2 L45.7 61.1 L45.8 61.8 L46.2 62.7 L46.7 63.7 L47.2 64.8 L47.7 66.2 L48.1 67.7 L48.6 69.1 L49.1 70.3 L49.5 71.7 L49.8 73.2 L49.6 74.8 L49.0 76.4 L47.9 78.5 L46.1 80.9 L44.1 83.4 L42.0 85.8 L40.2 87.9 L38.9 89.4 L42.7 94.0 L44.4 93.0 L46.8 91.6 L49.6 89.9 L52.6 88.0 L55.5 86.1 L58.0 84.2 L60.1 82.3 L62.1 80.6 L64.1 78.8 L66.1 76.8 L67.7 74.6 L69.1 72.3 L70.3 69.9 L71.3 67.2 L72.1 64.2 L72.5 60.9 L72.4 57.4 L71.5 53.5 L69.7 49.6 L67.6 46.3 L66.0 43.5 L64.8 41.0 L64.4 38.9 L64.3 37.2 L63.9 35.1 L63.4 32.7 L63.1 30.7 L62.9 29.3 L62.6 28.6 L61.5 28.9 L59.6 28.6 L59.0 27.0 L59.5 24.7 L60.4 22.1 L61.6 19.3 L62.5 16.6 L63.1 14.3 L63.3 12.3 L63.4 10.6 L63.4 9.1 L63.4 7.9 L63.4 7.0Z" fill="#8a8a8a"/>
<path d="M37.2 43.1Q50.6 40.7 63.1 35.5M43.5 56.6Q55.7 51.2 66.4 43.2M46.8 61.7Q59.1 58.7 70.4 52.9M48.3 65.3Q59.2 67.5 70.2 66.7M49.3 70.8Q57.1 75.0 65.9 76.3M47.5 78.4Q50.7 83.4 55.9 86.2" stroke="#5a5a5a" stroke-width="0.9" stroke-opacity="0.22" fill="none"/>
</g>
<path d="M61.6 5.9 L60.9 6.3 L59.9 6.9 L58.7 7.6 L57.4 8.4 L55.9 9.2 L54.3 10.3 L52.3 11.6 L49.8 13.3 L47.1 15.2 L44.6 17.0 L42.4 18.6 L40.9 19.7 L55.9 31.3 L56.6 29.6 L57.6 27.1 L58.7 24.1 L59.9 21.1 L60.9 18.2 L61.7 15.7 L62.3 13.7 L62.7 11.9 L62.9 10.3 L63.0 8.9 L63.1 7.8 L63.2 6.9Z" fill="#ffffff" opacity="0.22" filter="url(#bl2)"/>
<path d="M58.6 12.7L63.3 -0.8M58.6 12.7L69.1 5.0" stroke="#8a8a8a" stroke-width="0.9" stroke-opacity="0.6" fill="none"/>
<circle cx="58.6" cy="12.7" r="2.3" fill="#1a1a1a" filter="url(#bl)"/>
<g filter="url(#shr)">
<path d="M77.6 7.8 L77.3 9.0 L76.8 10.7 L76.2 12.5 L75.4 14.3 L74.4 15.9 L73.4 16.8 L72.5 17.6 L71.1 18.8 L69.1 20.6 L66.5 23.1 L63.9 26.7 L62.2 31.8 L62.4 37.0 L63.4 41.3 L64.6 44.9 L65.6 48.0 L66.2 50.5 L66.5 52.4 L66.8 54.4 L67.4 56.4 L67.8 58.0 L68.2 59.4 L68.6 60.6 L68.8 61.7 L69.1 63.0 L69.3 64.4 L69.6 65.8 L69.9 67.0 L70.2 68.1 L71.0 68.6 L72.3 69.1 L72.8 69.8 L72.7 70.8 L72.4 72.0 L71.9 73.3 L71.4 74.3 L81.4 83.7 L82.1 83.4 L83.3 83.1 L85.0 82.2 L87.0 80.9 L89.3 79.0 L92.0 76.6 L93.7 73.9 L94.8 71.3 L95.7 68.6 L96.2 65.9 L96.6 63.1 L96.8 60.3 L96.7 57.4 L96.4 54.6 L96.1 52.0 L95.6 49.5 L95.0 47.1 L94.1 44.4 L92.7 41.2 L91.2 38.1 L90.0 35.4 L89.1 33.3 L88.6 31.9 L88.2 31.8 L87.1 31.9 L86.0 30.6 L85.6 28.4 L85.8 25.7 L86.3 22.6 L86.6 19.2 L85.9 16.0 L84.8 13.5 L83.4 11.4 L82.1 9.7 L81.1 8.3 L80.4 7.4Z" fill="#8a8a8a"/>
<path d="M64.0 40.6Q76.7 38.7 88.5 34.0M66.1 47.9Q79.0 44.5 90.8 38.2M67.4 52.5Q80.8 49.8 93.2 44.3M69.0 58.0Q82.3 56.5 94.9 52.0M70.5 63.3Q82.9 64.6 95.2 62.8M70.9 67.6Q82.2 70.6 93.8 70.7" stroke="#5a5a5a" stroke-width="0.9" stroke-opacity="0.22" fill="none"/>
</g>
<path d="M77.9 7.8 L77.6 9.0 L77.3 10.6 L76.9 12.4 L76.3 14.2 L75.5 15.9 L74.7 17.2 L73.6 18.6 L72.2 20.6 L70.5 22.8 L68.8 25.0 L67.3 26.9 L66.1 28.3 L84.3 35.3 L84.3 33.6 L84.5 31.2 L84.8 28.3 L85.1 25.1 L85.3 21.9 L85.3 18.8 L84.8 16.0 L83.8 13.6 L82.7 11.5 L81.6 9.8 L80.7 8.4 L80.1 7.4Z" fill="#ffffff" opacity="0.22" filter="url(#bl2)"/>
<path d="M80.9 20.4L75.9 7.0M80.9 20.4L84.1 7.8" stroke="#8a8a8a" stroke-width="0.9" stroke-opacity="0.6" fill="none"/>
<circle cx="80.9" cy="20.4" r="2.3" fill="#1a1a1a" filter="url(#bl)"/>
</g></g>
<linearGradient id="g03" x1="0" y1="0" x2="0" y2="1"><stop offset="0" stop-color="#ebebeb"/><stop offset="1" stop-color="#e1e1e1"/></linearGradient>
<g clip-path="url(#c03)"><rect x="348" y="490" width="103" height="97" fill="url(#g03)"/>
<g transform="translate(348,490)">
<g filter="url(#gsh)" opacity="0.22">
<path d="M37.5 19.2 L37.3 20.4 L37.1 21.8 L36.8 23.3 L36.3 24.7 L35.7 25.9 L35.3 26.5 L35.0 27.0 L34.4 28.0 L33.0 29.6 L31.2 31.8 L29.2 34.7 L27.7 38.5 L27.0 42.3 L26.7 45.9 L26.6 49.4 L26.7 52.8 L26.9 55.9 L27.1 59.0 L27.8 62.5 L28.7 65.7 L29.3 68.1 L29.4 69.5 L29.4 69.5 L30.0 68.9 L31.1 69.1 L32.1 70.2 L32.1 71.2 L31.8 72.4 L31.0 73.9 L29.7 75.4 L27.5 77.0 L24.0 78.9 L19.9 80.7 L15.7 82.3 L12.1 83.7 L9.5 84.8 L11.7 93.0 L14.3 92.7 L18.2 92.3 L22.8 91.8 L27.7 91.1 L32.4 90.2 L36.7 89.0 L40.3 87.5 L43.6 85.8 L46.7 83.6 L49.3 80.9 L52.3 78.2 L54.8 74.3 L55.9 69.3 L55.3 64.7 L54.2 61.3 L53.3 58.7 L52.8 56.7 L52.5 55.0 L52.0 52.6 L51.4 49.7 L50.8 47.0 L50.2 44.5 L49.8 42.5 L49.3 41.1 L48.7 40.3 L48.3 39.0 L48.4 37.2 L49.0 35.1 L49.9 32.6 L50.7 29.5 L50.6 26.5 L50.0 23.9 L49.2 21.8 L48.4 20.1 L47.7 18.8 L47.3 18.0Z" fill="#000"/>
<path d="M49.4 20.4 L49.2 21.3 L48.8 22.5 L48.4 23.8 L47.9 25.2 L47.5 26.6 L47.0 27.8 L46.6 28.8 L46.1 30.1 L45.5 32.2 L44.8 34.8 L44.5 38.1 L44.8 41.8 L45.7 45.5 L46.7 49.1 L47.7 52.5 L48.5 55.6 L49.0 58.4 L49.2 60.7 L49.4 62.9 L49.8 65.2 L50.1 67.1 L50.4 68.9 L50.5 70.4 L50.7 71.6 L50.9 72.6 L51.1 73.9 L51.2 75.3 L51.4 76.7 L51.5 78.2 L51.9 79.4 L52.8 80.5 L53.0 81.5 L52.9 82.8 L52.7 84.3 L52.3 85.6 L52.0 86.7 L59.4 93.7 L60.3 93.4 L61.6 93.1 L63.4 92.5 L65.5 91.4 L67.6 89.7 L70.1 87.8 L71.8 85.7 L73.2 83.5 L74.5 80.9 L75.5 78.1 L76.3 75.0 L76.7 71.6 L76.7 68.3 L76.3 65.2 L75.7 62.1 L75.0 59.2 L74.0 56.3 L72.8 53.3 L71.1 50.0 L69.1 46.9 L67.3 44.0 L65.7 41.4 L64.6 39.2 L64.0 37.8 L63.7 36.9 L63.4 35.8 L63.2 34.5 L63.1 32.8 L63.2 30.6 L63.0 28.2 L62.5 26.0 L61.8 24.2 L61.1 22.6 L60.4 21.3 L59.8 20.2 L59.4 19.4Z" fill="#000"/>
<path d="M65.5 16.0 L66.4 17.1 L67.5 18.6 L68.6 20.1 L69.5 21.7 L70.0 23.1 L69.5 24.2 L68.8 25.3 L68.3 26.9 L68.0 28.9 L67.7 31.4 L67.5 34.2 L67.3 36.8 L67.1 39.0 L66.8 41.2 L66.5 43.8 L66.4 46.8 L66.7 50.2 L67.6 53.9 L69.2 57.4 L70.9 60.5 L72.3 63.0 L73.4 65.3 L74.0 67.1 L74.5 68.9 L75.5 71.0 L76.6 73.2 L77.4 74.9 L77.7 75.9 L77.9 76.0 L78.6 74.8 L80.4 74.4 L80.9 75.7 L80.2 77.5 L79.2 79.5 L78.0 81.4 L77.2 82.9 L87.2 92.1 L88.4 91.4 L90.3 90.3 L92.7 88.7 L95.4 86.5 L98.5 83.6 L101.8 79.2 L102.7 73.9 L102.0 69.6 L100.8 66.2 L99.7 63.3 L98.8 60.9 L97.9 58.5 L96.4 55.9 L94.6 53.4 L93.1 51.2 L92.2 49.4 L91.7 47.9 L91.6 46.9 L91.4 45.9 L91.1 44.5 L90.7 42.6 L90.3 40.2 L89.8 37.5 L89.1 34.8 L88.4 32.4 L87.8 29.8 L87.1 27.0 L86.1 24.0 L84.7 20.9 L82.5 17.8 L79.8 15.4 L77.2 13.5 L74.7 12.3 L72.5 11.5 L70.8 11.0 L69.7 10.6Z" fill="#000"/>
</g>
<g filter="url(#shr)">
<path d="M40.7 18.8 L40.3 19.9 L39.7 21.4 L39.0 23.0 L38.2 24.6 L37.2 25.9 L36.5 26.7 L35.8 27.3 L34.9 28.3 L33.4 29.8 L31.5 31.9 L29.3 34.7 L27.7 38.5 L26.9 42.3 L26.6 45.9 L26.6 49.4 L26.7 52.8 L26.8 55.9 L27.1 59.0 L27.8 62.5 L28.7 65.7 L29.3 68.1 L29.4 69.5 L29.4 69.5 L30.0 68.9 L31.1 69.1 L32.1 70.2 L32.1 71.2 L31.8 72.4 L31.0 73.9 L29.7 75.4 L27.5 77.0 L24.0 78.9 L19.9 80.7 L15.7 82.3 L12.1 83.7 L9.5 84.8 L11.7 93.0 L14.3 92.7 L18.2 92.3 L22.8 91.8 L27.7 91.1 L32.4 90.2 L36.7 89.0 L40.3 87.5 L43.6 85.8 L46.7 83.6 L49.3 80.9 L52.3 78.2 L54.8 74.3 L55.9 69.3 L55.3 64.7 L54.2 61.3 L53.3 58.7 L52.8 56.7 L52.5 55.0 L52.0 52.6 L51.4 49.7 L50.8 47.0 L50.3 44.5 L49.8 42.5 L49.3 41.1 L48.6 40.2 L48.1 38.9 L48.0 37.0 L48.4 34.8 L49.1 32.3 L49.5 29.3 L49.1 26.4 L48.1 24.1 L46.9 22.1 L45.8 20.5 L44.8 19.3 L44.1 18.4Z" fill="#767676"/>
<path d="M28.0 55.7Q39.6 55.7 50.9 52.7M29.5 65.4Q41.4 63.7 52.5 59.0M30.8 70.8Q42.8 70.9 54.5 68.0M31.2 71.4Q38.5 78.6 47.6 83.4M29.0 75.3Q31.9 83.0 37.4 89.1M19.7 80.4Q19.9 86.6 22.9 92.1" stroke="#5a5a5a" stroke-width="0.9" stroke-opacity="0.22" fill="none"/>
</g>
<path d="M41.0 18.8 L40.7 19.9 L40.3 21.3 L39.8 22.9 L39.2 24.6 L38.4 26.0 L37.7 27.0 L36.9 28.3 L35.8 30.0 L34.5 31.9 L33.2 33.7 L31.9 35.4 L31.0 36.7 L46.0 42.9 L46.2 41.6 L46.5 39.6 L47.1 37.1 L47.6 34.4 L48.0 31.7 L48.3 29.0 L47.9 26.4 L47.1 24.1 L46.1 22.2 L45.2 20.6 L44.3 19.3 L43.8 18.4Z" fill="#ffffff" opacity="0.22" filter="url(#bl2)"/>
<path d="M43.8 28.5L38.9 15.1M43.8 28.5L47.1 15.9" stroke="#8a8a8a" stroke-width="0.9" stroke-opacity="0.6" fill="none"/>
<circle cx="43.8" cy="28.5" r="2.3" fill="#1a1a1a" filter="url(#bl)"/>
<g filter="url(#shr)">
<path d="M52.7 20.1 L52.2 21.0 L51.5 22.2 L50.7 23.6 L49.8 25.1 L49.0 26.6 L48.2 27.8 L47.5 28.9 L46.8 30.3 L45.9 32.2 L45.1 34.8 L44.6 38.1 L44.8 41.8 L45.6 45.5 L46.7 49.1 L47.6 52.5 L48.5 55.7 L49.0 58.4 L49.2 60.7 L49.4 62.9 L49.8 65.2 L50.1 67.1 L50.4 68.9 L50.5 70.4 L50.7 71.6 L50.9 72.6 L51.1 73.9 L51.2 75.3 L51.4 76.7 L51.5 78.2 L51.9 79.4 L52.8 80.5 L53.0 81.5 L52.9 82.8 L52.7 84.3 L52.3 85.6 L52.0 86.7 L59.4 93.7 L60.3 93.4 L61.6 93.1 L63.4 92.5 L65.5 91.4 L67.6 89.7 L70.1 87.8 L71.8 85.7 L73.2 83.5 L74.5 80.9 L75.5 78.1 L76.3 75.0 L76.7 71.6 L76.7 68.3 L76.3 65.2 L75.7 62.1 L75.0 59.2 L74.0 56.3 L72.8 53.3 L71.1 50.0 L69.2 46.9 L67.3 44.0 L65.8 41.4 L64.6 39.2 L64.0 37.8 L63.6 36.9 L63.1 35.8 L62.7 34.4 L62.4 32.7 L62.2 30.5 L61.8 28.2 L61.0 26.1 L59.9 24.4 L58.8 22.8 L57.7 21.5 L56.8 20.5 L56.1 19.7Z" fill="#767676"/>
<path d="M47.8 52.4Q58.1 49.6 67.2 44.1M49.5 58.6Q60.6 55.6 70.6 49.9M50.8 65.1Q62.8 63.6 74.0 59.2M51.6 69.0Q63.6 68.5 75.1 65.0M52.1 73.3Q63.5 75.3 75.1 74.4M51.9 77.2Q61.9 81.5 72.7 83.0" stroke="#5a5a5a" stroke-width="0.9" stroke-opacity="0.22" fill="none"/>
</g>
<path d="M53.0 20.0 L52.6 20.9 L52.1 22.1 L51.5 23.5 L50.8 25.0 L50.2 26.5 L49.6 28.0 L49.0 29.7 L48.4 31.8 L47.8 34.0 L47.2 36.1 L46.8 38.0 L46.4 39.3 L62.4 40.3 L62.2 39.0 L62.0 37.1 L61.7 34.8 L61.3 32.4 L60.9 30.1 L60.4 28.0 L59.8 26.1 L58.9 24.4 L58.0 22.9 L57.1 21.6 L56.3 20.6 L55.8 19.8Z" fill="#ffffff" opacity="0.22" filter="url(#bl2)"/>
<path d="M55.7 27.9L50.5 14.6M55.7 27.9L58.7 15.3" stroke="#8a8a8a" stroke-width="0.9" stroke-opacity="0.6" fill="none"/>
<circle cx="55.7" cy="27.9" r="2.3" fill="#1a1a1a" filter="url(#bl)"/>
<g filter="url(#shr)">
<path d="M66.9 14.2 L67.6 15.4 L68.6 17.0 L69.7 18.8 L70.5 20.7 L70.9 22.3 L70.5 23.7 L69.7 25.0 L69.1 26.7 L68.5 28.9 L68.0 31.4 L67.6 34.2 L67.3 36.8 L67.0 39.0 L66.7 41.2 L66.5 43.8 L66.4 46.8 L66.7 50.2 L67.6 53.9 L69.2 57.4 L70.9 60.5 L72.3 63.0 L73.4 65.3 L74.0 67.1 L74.5 68.9 L75.5 71.0 L76.6 73.2 L77.4 74.9 L77.7 75.9 L77.9 76.0 L78.6 74.8 L80.4 74.4 L80.9 75.7 L80.2 77.5 L79.2 79.5 L78.0 81.4 L77.2 82.9 L87.2 92.1 L88.4 91.4 L90.3 90.3 L92.7 88.7 L95.4 86.5 L98.5 83.6 L101.8 79.2 L102.7 73.9 L102.0 69.6 L100.8 66.2 L99.7 63.3 L98.8 60.9 L97.9 58.5 L96.4 55.9 L94.6 53.4 L93.1 51.2 L92.2 49.4 L91.7 47.9 L91.6 46.9 L91.5 45.9 L91.2 44.5 L90.8 42.6 L90.4 40.2 L89.8 37.5 L89.1 34.8 L88.3 32.4 L87.5 29.9 L86.6 27.0 L85.4 24.1 L83.8 21.1 L81.5 18.3 L78.8 16.1 L76.2 14.6 L73.7 13.6 L71.4 13.1 L69.6 12.7 L68.3 12.4Z" fill="#767676"/>
<path d="M67.7 43.6Q78.7 44.7 89.6 42.8M68.2 52.9Q79.9 51.9 91.0 47.9M71.9 63.2Q83.5 58.4 93.5 51.1M74.7 69.0Q86.8 65.1 97.7 58.4M78.0 75.1Q89.7 71.9 100.2 66.0M79.4 76.7Q90.2 78.5 101.0 77.3" stroke="#5a5a5a" stroke-width="0.9" stroke-opacity="0.22" fill="none"/>
</g>
<path d="M67.0 14.1 L67.8 15.2 L68.9 16.6 L70.1 18.3 L71.1 20.1 L71.7 21.7 L71.5 23.1 L71.0 24.7 L70.7 27.0 L70.3 29.6 L69.9 32.3 L69.6 34.8 L69.5 36.7 L86.9 34.9 L86.4 33.4 L85.8 31.1 L84.9 28.1 L83.9 24.9 L82.5 21.8 L80.5 18.9 L78.0 16.7 L75.6 15.2 L73.3 14.2 L71.1 13.5 L69.4 13.0 L68.2 12.5Z" fill="#ffffff" opacity="0.22" filter="url(#bl2)"/>
<path d="M76.9 21.2L64.3 14.4M76.9 21.2L71.0 9.6" stroke="#8a8a8a" stroke-width="0.9" stroke-opacity="0.6" fill="none"/>
<circle cx="76.9" cy="21.2" r="2.3" fill="#1a1a1a" filter="url(#bl)"/>
</g></g>
<linearGradient id="g04" x1="0" y1="0" x2="0" y2="1"><stop offset="0" stop-color="#ebebeb"/><stop offset="1" stop-color="#e1e1e1"/></linearGradient>
<g clip-path="url(#c04)"><rect x="451" y="490" width="101" height="97" fill="url(#g04)"/>
<g transform="translate(451,490)">
<g filter="url(#gsh)" opacity="0.22">
<path d="M27.6 6.7 L27.0 7.5 L26.1 8.7 L25.0 10.3 L23.9 12.2 L22.7 14.4 L21.7 17.0 L21.0 19.8 L20.6 22.6 L20.3 25.2 L19.9 27.4 L19.4 29.2 L19.0 30.6 L18.3 32.4 L17.3 34.5 L16.2 36.9 L14.8 39.5 L13.4 42.2 L12.3 44.7 L11.6 47.1 L10.6 49.7 L9.2 52.6 L7.5 55.8 L5.6 59.4 L4.4 63.8 L4.6 68.3 L6.0 72.1 L7.9 75.1 L10.0 77.7 L11.9 80.0 L14.1 82.1 L16.8 84.0 L19.7 85.5 L22.6 86.7 L25.4 87.5 L27.9 88.3 L30.1 89.0 L32.3 89.8 L34.6 90.6 L36.7 91.3 L38.7 91.9 L40.2 92.4 L41.4 92.8 L44.4 86.6 L43.3 85.9 L41.9 85.0 L40.3 83.9 L38.5 82.7 L36.7 81.4 L34.9 80.0 L32.9 78.5 L30.8 76.9 L28.7 75.4 L27.0 73.8 L25.7 72.5 L24.9 71.3 L24.2 70.1 L23.4 68.8 L23.3 67.5 L23.6 66.6 L24.0 66.1 L24.2 66.2 L24.1 65.8 L24.5 64.5 L25.8 62.4 L27.6 60.0 L29.9 57.1 L31.9 54.1 L33.3 51.1 L34.4 48.1 L35.5 44.9 L36.6 41.5 L37.5 38.1 L38.2 34.4 L38.5 30.5 L38.1 27.0 L37.4 24.0 L36.7 21.6 L36.0 19.7 L35.5 18.2 L35.1 16.8 L34.9 15.0 L34.8 13.3 L34.7 11.6 L34.8 10.1 L34.8 8.9Z" fill="#000"/>
<path d="M45.4 16.0 L45.1 16.5 L44.6 17.1 L44.1 17.8 L43.5 18.7 L42.9 19.7 L42.4 21.2 L42.0 23.2 L41.7 25.0 L41.3 26.6 L40.8 27.9 L40.4 29.0 L40.1 30.0 L39.5 31.6 L38.6 33.9 L37.3 36.5 L35.8 39.4 L34.3 42.2 L33.0 44.8 L32.1 47.1 L30.9 49.4 L29.4 52.0 L27.6 54.7 L25.7 57.9 L24.2 61.8 L23.7 65.8 L24.1 69.4 L25.0 72.7 L26.2 75.6 L27.5 78.1 L29.2 80.3 L31.3 82.3 L33.3 84.2 L35.5 85.7 L37.6 87.0 L39.6 88.0 L41.5 89.1 L43.5 90.2 L45.6 91.3 L47.6 92.2 L49.3 93.0 L50.7 93.6 L51.7 94.0 L54.9 88.0 L53.8 87.4 L52.5 86.6 L50.9 85.8 L49.3 84.8 L48.0 83.7 L46.9 82.5 L45.9 81.1 L45.0 79.4 L44.3 77.7 L43.8 76.1 L43.5 74.7 L43.6 73.1 L43.5 71.5 L43.4 69.8 L43.3 68.3 L43.3 67.1 L43.4 66.2 L43.4 65.6 L43.3 64.9 L43.6 63.5 L44.7 61.6 L46.3 59.4 L48.3 56.8 L50.2 54.0 L51.7 51.1 L53.1 48.2 L54.7 45.0 L56.2 41.8 L57.6 38.5 L58.7 35.0 L59.3 31.4 L59.1 28.1 L58.5 25.4 L57.7 23.3 L57.0 21.8 L56.4 20.8 L55.9 19.7 L55.3 18.7 L54.7 17.8 L54.2 17.1 L53.7 16.5 L53.4 16.0Z" fill="#000"/>
<path d="M79.0 12.5 L78.4 13.0 L77.5 13.7 L76.4 14.6 L75.1 15.6 L73.8 16.8 L72.4 18.2 L71.0 19.8 L69.7 21.4 L68.5 23.1 L67.4 24.7 L66.3 26.4 L65.1 28.3 L63.7 30.5 L61.8 33.0 L59.6 35.7 L57.4 38.6 L55.3 41.5 L53.5 44.1 L52.2 46.5 L50.9 48.8 L49.3 51.2 L47.6 54.0 L45.9 57.4 L45.0 61.5 L45.3 65.5 L46.7 69.0 L48.8 72.0 L51.3 74.6 L53.7 77.0 L56.5 78.9 L59.8 80.4 L63.2 81.4 L66.8 82.2 L70.4 82.7 L73.8 83.1 L77.1 83.5 L80.5 83.7 L84.0 83.9 L87.3 84.0 L90.4 84.0 L92.9 84.0 L94.7 84.0 L95.1 77.2 L93.2 77.1 L90.6 76.9 L87.7 76.7 L84.6 76.4 L81.6 75.9 L78.9 75.1 L76.3 74.0 L73.5 72.6 L70.8 71.1 L68.5 69.5 L66.7 67.9 L65.7 66.7 L65.2 65.7 L64.9 64.8 L65.2 64.0 L66.0 63.4 L66.6 63.1 L66.8 63.3 L66.7 63.4 L66.5 62.8 L67.0 61.4 L68.1 59.5 L69.7 57.2 L71.3 54.7 L72.6 52.0 L74.1 49.1 L75.7 46.0 L77.4 42.8 L79.0 39.6 L80.5 36.7 L81.7 34.0 L82.5 31.5 L83.1 29.2 L83.4 27.1 L83.6 25.3 L83.6 23.8 L83.8 22.2 L83.9 20.7 L84.2 19.3 L84.4 18.0 L84.6 16.9 L84.8 16.1Z" fill="#000"/>
</g>
<g filter="url(#shr)">
<path d="M29.9 7.4 L29.2 8.2 L28.1 9.4 L26.8 10.8 L25.3 12.5 L23.9 14.6 L22.7 17.1 L21.8 19.8 L21.3 22.6 L20.7 25.1 L20.2 27.4 L19.5 29.2 L19.0 30.6 L18.3 32.4 L17.3 34.5 L16.1 36.9 L14.8 39.5 L13.4 42.2 L12.3 44.7 L11.6 47.1 L10.6 49.7 L9.2 52.6 L7.5 55.8 L5.6 59.4 L4.4 63.8 L4.6 68.3 L6.0 72.1 L7.9 75.1 L10.0 77.7 L11.9 80.0 L14.1 82.1 L16.8 84.0 L19.7 85.5 L22.6 86.7 L25.4 87.5 L27.9 88.3 L30.1 89.0 L32.3 89.8 L34.6 90.6 L36.7 91.3 L38.7 91.9 L40.2 92.4 L41.4 92.8 L44.4 86.6 L43.3 85.9 L41.9 85.0 L40.3 83.9 L38.5 82.7 L36.7 81.4 L34.9 80.0 L32.9 78.5 L30.8 76.9 L28.7 75.4 L27.0 73.8 L25.7 72.5 L24.9 71.3 L24.2 70.1 L23.4 68.8 L23.3 67.5 L23.6 66.6 L24.0 66.1 L24.2 66.2 L24.1 65.8 L24.5 64.5 L25.8 62.4 L27.6 60.0 L29.9 57.1 L31.9 54.1 L33.3 51.1 L34.4 48.1 L35.6 44.9 L36.6 41.6 L37.6 38.1 L38.2 34.4 L38.3 30.5 L37.8 27.0 L36.9 24.1 L36.0 21.6 L35.2 19.7 L34.5 18.1 L33.9 16.5 L33.4 14.6 L33.0 12.7 L32.8 10.9 L32.6 9.4 L32.5 8.2Z" fill="#828282"/>
<path d="M13.5 42.3Q22.7 48.0 33.1 51.0M10.1 49.5Q18.4 56.1 28.1 60.2M6.4 58.8Q14.2 64.0 23.3 66.4M7.6 74.6Q16.2 72.7 23.6 68.1M16.1 84.0Q22.4 79.3 26.4 72.5M25.2 87.8Q29.4 82.9 30.9 76.6" stroke="#5a5a5a" stroke-width="0.9" stroke-opacity="0.22" fill="none"/>
</g>
<path d="M30.2 7.5 L29.5 8.4 L28.6 9.5 L27.4 11.0 L26.1 12.8 L24.9 14.8 L23.9 17.1 L23.1 19.8 L22.4 22.7 L21.8 25.8 L21.3 28.6 L20.9 31.0 L20.6 32.6 L36.6 32.4 L36.2 30.6 L35.7 28.3 L35.0 25.6 L34.4 22.8 L33.8 20.2 L33.3 18.1 L32.9 16.3 L32.6 14.4 L32.4 12.5 L32.3 10.8 L32.3 9.3 L32.2 8.1Z" fill="#ffffff" opacity="0.22" filter="url(#bl2)"/>
<path d="M28.6 17.6L29.3 3.3M28.6 17.6L36.5 7.3" stroke="#8a8a8a" stroke-width="0.9" stroke-opacity="0.6" fill="none"/>
<circle cx="28.6" cy="17.6" r="2.3" fill="#1a1a1a" filter="url(#bl)"/>
<g filter="url(#shr)">
<path d="M48.0 16.0 L47.5 16.5 L46.8 17.1 L46.0 17.8 L45.1 18.7 L44.2 19.7 L43.5 21.2 L42.9 23.1 L42.3 25.0 L41.7 26.6 L41.1 27.9 L40.5 29.0 L40.1 30.0 L39.5 31.6 L38.5 33.9 L37.2 36.5 L35.8 39.3 L34.3 42.2 L33.0 44.8 L32.1 47.1 L30.9 49.4 L29.4 52.0 L27.6 54.7 L25.7 57.9 L24.2 61.8 L23.7 65.8 L24.1 69.4 L25.0 72.7 L26.2 75.6 L27.5 78.1 L29.2 80.3 L31.3 82.3 L33.3 84.2 L35.5 85.7 L37.6 87.0 L39.6 88.0 L41.5 89.1 L43.5 90.2 L45.6 91.3 L47.6 92.2 L49.3 93.0 L50.7 93.6 L51.7 94.0 L54.9 88.0 L53.8 87.4 L52.5 86.6 L50.9 85.8 L49.3 84.8 L48.0 83.7 L46.9 82.5 L45.9 81.1 L45.0 79.4 L44.3 77.7 L43.8 76.1 L43.5 74.7 L43.6 73.1 L43.5 71.5 L43.4 69.8 L43.3 68.3 L43.3 67.1 L43.4 66.2 L43.4 65.6 L43.3 64.9 L43.6 63.5 L44.7 61.6 L46.3 59.4 L48.3 56.8 L50.2 54.0 L51.7 51.1 L53.2 48.2 L54.7 45.0 L56.2 41.8 L57.6 38.5 L58.7 35.0 L59.2 31.4 L58.9 28.1 L58.0 25.4 L57.0 23.3 L56.1 21.9 L55.3 20.8 L54.6 19.7 L53.7 18.7 L52.8 17.8 L52.0 17.1 L51.3 16.5 L50.8 16.0Z" fill="#828282"/>
<path d="M32.8 44.9Q40.9 50.7 50.4 53.9M29.1 51.6Q36.2 58.0 45.0 62.0M26.3 57.4Q33.8 62.8 42.7 65.5M25.6 72.1Q34.4 72.0 42.7 68.9M29.0 80.0Q37.0 78.1 43.8 73.4M37.3 87.1Q42.4 84.3 45.3 79.3" stroke="#5a5a5a" stroke-width="0.9" stroke-opacity="0.22" fill="none"/>
</g>
<path d="M48.3 16.0 L47.9 16.5 L47.3 17.1 L46.7 17.8 L46.0 18.7 L45.3 19.7 L44.6 21.0 L44.0 22.7 L43.4 24.8 L42.8 27.1 L42.2 29.3 L41.7 31.2 L41.4 32.5 L57.4 32.5 L57.1 31.2 L56.6 29.3 L56.0 27.1 L55.4 24.8 L54.8 22.7 L54.2 21.0 L53.5 19.7 L52.8 18.7 L52.1 17.8 L51.5 17.1 L50.9 16.5 L50.5 16.0Z" fill="#ffffff" opacity="0.22" filter="url(#bl2)"/>
<path d="M49.4 20.8L46.4 6.8M49.4 20.8L54.4 8.8" stroke="#8a8a8a" stroke-width="0.9" stroke-opacity="0.6" fill="none"/>
<circle cx="49.4" cy="20.8" r="2.3" fill="#1a1a1a" filter="url(#bl)"/>
<g filter="url(#shr)">
<path d="M80.9 13.7 L80.1 14.1 L79.1 14.7 L77.8 15.4 L76.3 16.3 L74.8 17.4 L73.2 18.6 L71.7 20.1 L70.2 21.7 L68.9 23.2 L67.6 24.8 L66.4 26.5 L65.1 28.3 L63.6 30.4 L61.7 32.9 L59.6 35.7 L57.4 38.6 L55.3 41.5 L53.5 44.1 L52.2 46.5 L50.9 48.8 L49.3 51.2 L47.6 54.0 L45.9 57.4 L45.0 61.5 L45.3 65.5 L46.7 69.0 L48.8 72.0 L51.3 74.6 L53.7 77.0 L56.5 78.9 L59.8 80.4 L63.2 81.4 L66.8 82.2 L70.4 82.7 L73.8 83.1 L77.1 83.5 L80.5 83.7 L84.0 83.9 L87.3 84.0 L90.4 84.0 L92.9 84.0 L94.7 84.0 L95.1 77.2 L93.2 77.1 L90.6 76.9 L87.7 76.7 L84.6 76.4 L81.6 75.9 L78.9 75.1 L76.3 74.0 L73.5 72.6 L70.8 71.1 L68.5 69.5 L66.7 67.9 L65.7 66.7 L65.2 65.7 L64.9 64.8 L65.2 64.0 L66.0 63.4 L66.6 63.1 L66.8 63.3 L66.7 63.4 L66.5 62.8 L67.0 61.4 L68.1 59.5 L69.7 57.2 L71.3 54.7 L72.6 52.0 L74.1 49.1 L75.8 46.0 L77.4 42.8 L79.0 39.7 L80.5 36.7 L81.6 34.0 L82.3 31.4 L82.7 29.0 L82.9 26.9 L82.9 25.0 L82.8 23.4 L82.8 21.7 L82.8 20.0 L82.8 18.4 L82.8 17.0 L82.9 15.8 L82.9 14.9Z" fill="#828282"/>
<path d="M53.1 43.9Q61.6 50.7 71.7 54.9M49.2 50.8Q57.4 57.6 67.2 61.8M47.1 68.1Q56.6 67.7 65.6 64.3M55.7 78.9Q62.2 73.8 66.5 66.7M66.5 82.4Q70.2 77.2 71.1 70.8M76.9 83.7Q79.5 79.7 79.1 74.9" stroke="#5a5a5a" stroke-width="0.9" stroke-opacity="0.22" fill="none"/>
</g>
<path d="M81.1 13.8 L80.4 14.3 L79.4 14.9 L78.3 15.7 L77.0 16.7 L75.6 17.8 L74.2 19.1 L72.8 20.7 L71.2 22.7 L69.6 24.7 L68.2 26.7 L67.0 28.4 L66.1 29.5 L79.5 35.5 L79.8 34.0 L80.2 32.0 L80.7 29.6 L81.1 27.2 L81.5 24.8 L81.8 22.9 L82.0 21.3 L82.1 19.7 L82.3 18.1 L82.4 16.8 L82.6 15.7 L82.7 14.8Z" fill="#ffffff" opacity="0.22" filter="url(#bl2)"/>
<path d="M78.0 20.8L82.6 7.3M78.0 20.8L88.5 13.1" stroke="#8a8a8a" stroke-width="0.9" stroke-opacity="0.6" fill="none"/>
<circle cx="78" cy="20.8" r="2.3" fill="#1a1a1a" filter="url(#bl)"/>
</g></g>
<linearGradient id="g05" x1="0" y1="0" x2="0" y2="1"><stop offset="0" stop-color="#e9e9e9"/><stop offset="1" stop-color="#dfdfdf"/></linearGradient>
<g clip-path="url(#c05)"><rect x="552" y="488" width="108" height="99" fill="url(#g05)"/>
<g transform="translate(552,490)">
<g filter="url(#gsh)" opacity="0.22">
<path d="M61.7 3.8 L60.4 4.5 L58.8 5.4 L56.9 6.4 L54.9 7.5 L52.7 8.5 L50.6 9.4 L48.5 10.2 L46.1 11.0 L43.4 11.9 L40.6 13.0 L37.6 14.3 L34.9 15.7 L32.5 17.0 L29.7 18.5 L26.4 20.5 L22.9 23.2 L19.3 26.9 L15.2 31.5 L12.3 37.2 L11.5 42.6 L11.6 47.4 L12.1 51.6 L12.6 55.0 L13.0 58.3 L13.9 62.1 L15.1 65.6 L16.0 68.2 L16.3 69.7 L16.4 70.1 L16.9 69.7 L17.8 70.4 L18.1 72.6 L17.9 75.4 L17.3 78.3 L16.4 80.9 L15.8 82.9 L31.4 91.1 L32.5 89.8 L34.3 87.8 L36.7 85.2 L39.3 82.1 L42.1 78.4 L44.3 73.7 L45.0 68.3 L44.3 63.8 L43.3 60.4 L42.7 58.0 L42.6 56.3 L42.6 54.5 L42.4 51.6 L42.1 48.4 L41.9 45.6 L41.8 43.6 L41.6 42.6 L40.4 42.5 L39.4 42.1 L40.0 41.2 L41.4 39.7 L43.5 37.8 L46.1 35.5 L48.5 33.1 L50.3 30.9 L52.0 28.9 L53.8 26.7 L55.6 24.5 L57.4 22.2 L59.2 20.0 L60.8 17.8 L62.3 15.5 L63.6 13.4 L64.7 11.5 L65.7 9.9 L66.3 8.8Z" fill="#000"/>
<path d="M77.8 11.4 L76.8 11.6 L75.4 11.8 L73.8 12.1 L71.9 12.5 L69.9 13.0 L67.9 13.5 L66.0 13.9 L63.6 14.3 L60.6 15.0 L57.1 16.3 L53.4 18.6 L50.0 21.9 L46.7 25.4 L44.4 29.0 L42.7 33.0 L41.6 37.0 L40.9 41.1 L40.6 45.7 L41.2 50.7 L42.4 55.1 L43.6 58.8 L44.5 61.8 L44.9 63.8 L45.0 65.3 L45.3 67.0 L45.6 68.9 L45.9 70.1 L46.4 70.7 L47.4 71.0 L49.1 71.4 L49.3 72.0 L48.6 73.6 L47.1 75.7 L45.3 77.9 L43.4 79.9 L42.1 81.4 L49.7 92.6 L51.3 92.1 L53.8 91.4 L57.0 90.3 L60.6 88.8 L64.3 86.6 L67.7 83.2 L71.3 79.6 L73.4 75.6 L74.4 71.7 L74.7 68.1 L74.8 65.0 L74.6 61.5 L73.7 57.4 L72.5 53.5 L71.4 50.3 L70.7 47.6 L70.6 45.9 L70.6 44.9 L70.6 43.5 L70.6 41.6 L70.7 39.8 L70.6 38.0 L70.4 36.4 L69.6 35.3 L69.4 34.7 L69.7 33.7 L70.8 32.1 L72.3 30.3 L74.2 28.4 L76.1 26.5 L77.5 24.8 L78.6 23.2 L79.7 21.8 L80.7 20.5 L81.6 19.4 L82.2 18.6Z" fill="#000"/>
<path d="M89.5 10.6 L88.9 11.0 L88.1 11.5 L87.2 12.1 L86.3 12.9 L85.2 13.8 L84.2 14.9 L83.1 16.3 L81.6 18.1 L79.6 20.5 L77.5 23.3 L75.4 26.6 L73.7 30.4 L72.6 34.2 L72.0 38.0 L71.8 41.8 L71.8 45.6 L72.1 49.4 L72.7 53.5 L74.1 58.0 L75.9 61.9 L77.1 64.9 L77.5 67.1 L77.1 68.0 L76.8 67.8 L77.2 68.4 L77.8 70.1 L78.2 72.3 L78.4 74.7 L78.6 77.0 L78.7 78.6 L78.7 79.5 L78.1 80.7 L76.9 82.1 L75.3 83.5 L73.7 84.8 L72.4 85.9 L77.8 96.5 L79.1 96.3 L81.0 96.0 L83.7 95.3 L86.9 94.3 L90.4 92.5 L93.7 89.8 L96.6 86.9 L99.3 84.0 L101.9 80.6 L104.2 76.8 L105.9 72.4 L106.8 67.2 L105.8 61.5 L103.7 57.0 L101.6 53.7 L100.3 51.2 L99.8 49.5 L99.7 48.3 L99.5 46.5 L99.3 44.1 L99.2 41.7 L99.1 39.3 L99.0 37.1 L98.7 35.2 L98.4 33.5 L98.2 31.3 L98.3 28.8 L98.7 26.2 L99.3 23.5 L99.8 21.1 L99.9 19.0 L99.8 17.4 L99.5 16.0 L99.1 14.9 L98.8 14.1 L98.5 13.4Z" fill="#000"/>
</g>
<g filter="url(#shr)">
<path d="M63.2 5.4 L61.9 6.0 L60.2 6.7 L58.1 7.6 L55.8 8.5 L53.5 9.4 L51.3 10.2 L49.0 10.9 L46.4 11.5 L43.7 12.3 L40.7 13.2 L37.7 14.3 L34.9 15.7 L32.4 16.9 L29.6 18.4 L26.4 20.5 L22.9 23.2 L19.3 26.9 L15.2 31.5 L12.3 37.2 L11.5 42.6 L11.6 47.4 L12.1 51.6 L12.6 55.0 L13.0 58.3 L13.9 62.1 L15.1 65.6 L16.0 68.2 L16.3 69.7 L16.4 70.1 L16.9 69.7 L17.8 70.4 L18.1 72.6 L17.9 75.4 L17.3 78.3 L16.4 80.9 L15.8 82.9 L31.4 91.1 L32.5 89.8 L34.3 87.8 L36.7 85.2 L39.3 82.1 L42.1 78.4 L44.3 73.7 L45.0 68.3 L44.3 63.8 L43.3 60.4 L42.7 58.0 L42.6 56.3 L42.6 54.5 L42.4 51.6 L42.1 48.4 L41.9 45.6 L41.8 43.6 L41.6 42.6 L40.4 42.5 L39.4 42.1 L40.0 41.2 L41.5 39.7 L43.6 37.8 L46.1 35.6 L48.5 33.1 L50.3 30.9 L51.9 28.6 L53.5 26.3 L55.2 23.9 L56.9 21.6 L58.5 19.2 L60.0 16.8 L61.3 14.5 L62.5 12.2 L63.4 10.1 L64.2 8.4 L64.8 7.2Z" fill="#888888"/>
<path d="M26.3 19.6Q32.7 31.0 41.6 40.5M16.2 30.0Q27.0 38.3 39.4 44.0M13.1 46.9Q26.8 48.0 40.4 46.2M14.4 57.8Q28.0 57.9 41.2 55.0M16.9 68.1Q30.1 65.7 42.4 60.5M18.0 71.4Q30.6 73.2 43.2 72.0" stroke="#5a5a5a" stroke-width="0.9" stroke-opacity="0.22" fill="none"/>
</g>
<path d="M63.3 5.6 L62.1 6.2 L60.5 7.1 L58.5 8.1 L56.4 9.1 L54.2 10.2 L52.0 11.1 L49.5 12.1 L46.7 13.2 L43.7 14.4 L40.8 15.6 L38.3 16.5 L36.5 17.2 L46.9 31.6 L48.1 30.1 L49.8 28.1 L51.8 25.7 L54.0 23.1 L56.0 20.6 L57.8 18.3 L59.3 16.1 L60.8 13.9 L62.0 11.7 L63.1 9.8 L64.0 8.2 L64.7 7.0Z" fill="#ffffff" opacity="0.22" filter="url(#bl2)"/>
<path d="M54.9 14.7L63.2 3.0M54.9 14.7L67.1 10.2" stroke="#8a8a8a" stroke-width="0.9" stroke-opacity="0.6" fill="none"/>
<circle cx="54.9" cy="14.7" r="2.3" fill="#1a1a1a" filter="url(#bl)"/>
<g filter="url(#shr)">
<path d="M79.2 13.7 L78.1 13.8 L76.6 13.8 L74.9 13.8 L72.8 14.0 L70.6 14.2 L68.5 14.5 L66.4 14.7 L63.9 14.9 L60.8 15.4 L57.3 16.6 L53.5 18.7 L50.0 21.9 L46.7 25.3 L44.3 29.0 L42.6 32.9 L41.5 37.0 L40.9 41.1 L40.6 45.7 L41.2 50.7 L42.4 55.1 L43.6 58.8 L44.5 61.8 L44.9 63.8 L45.0 65.3 L45.3 67.0 L45.6 68.9 L45.9 70.1 L46.4 70.7 L47.4 71.0 L49.1 71.4 L49.3 72.0 L48.6 73.6 L47.1 75.7 L45.3 77.9 L43.4 79.9 L42.1 81.4 L49.7 92.6 L51.3 92.1 L53.8 91.4 L57.0 90.3 L60.6 88.8 L64.3 86.6 L67.7 83.2 L71.3 79.6 L73.4 75.6 L74.4 71.7 L74.7 68.1 L74.8 65.0 L74.6 61.5 L73.7 57.4 L72.5 53.5 L71.4 50.3 L70.7 47.6 L70.6 45.9 L70.6 44.9 L70.6 43.5 L70.7 41.7 L70.7 39.8 L70.7 38.0 L70.4 36.5 L69.6 35.3 L69.3 34.7 L69.6 33.4 L70.5 31.7 L72.0 29.7 L73.8 27.6 L75.5 25.5 L76.7 23.6 L77.7 21.8 L78.7 20.1 L79.5 18.5 L80.2 17.2 L80.8 16.3Z" fill="#888888"/>
<path d="M42.9 36.7Q55.8 40.8 69.3 42.0M42.4 49.5Q56.0 49.8 69.4 47.0M44.4 58.4Q58.0 56.0 70.6 50.6M46.5 65.7Q60.1 64.9 73.1 61.1M47.3 70.8Q60.1 72.4 73.0 71.0M48.2 72.3Q55.9 80.4 65.4 86.2" stroke="#5a5a5a" stroke-width="0.9" stroke-opacity="0.22" fill="none"/>
</g>
<path d="M79.4 14.0 L78.3 14.1 L76.9 14.3 L75.2 14.5 L73.3 14.8 L71.2 15.1 L69.1 15.7 L66.7 16.4 L63.9 17.4 L61.0 18.4 L58.2 19.4 L55.9 20.3 L54.3 20.8 L65.3 36.4 L66.4 35.0 L68.0 33.1 L69.8 30.8 L71.7 28.5 L73.5 26.2 L74.9 24.3 L76.1 22.7 L77.2 21.0 L78.3 19.5 L79.2 18.1 L80.0 16.9 L80.6 16.0Z" fill="#ffffff" opacity="0.22" filter="url(#bl2)"/>
<path d="M77.9 17.5L84.6 4.9M77.9 17.5L89.4 11.5" stroke="#8a8a8a" stroke-width="0.9" stroke-opacity="0.6" fill="none"/>
<circle cx="77.9" cy="17.5" r="2.3" fill="#1a1a1a" filter="url(#bl)"/>
<g filter="url(#shr)">
<path d="M92.4 11.5 L91.6 11.9 L90.6 12.3 L89.4 12.8 L88.1 13.5 L86.7 14.3 L85.4 15.4 L84.0 16.7 L82.2 18.5 L80.1 20.7 L77.8 23.4 L75.5 26.6 L73.7 30.4 L72.5 34.2 L71.9 37.9 L71.7 41.8 L71.8 45.6 L72.1 49.4 L72.7 53.5 L74.1 58.0 L75.9 61.9 L77.1 64.9 L77.5 67.1 L77.1 68.0 L76.8 67.8 L77.2 68.4 L77.8 70.1 L78.2 72.3 L78.4 74.7 L78.6 77.0 L78.7 78.6 L78.7 79.5 L78.1 80.7 L76.9 82.1 L75.3 83.5 L73.7 84.8 L72.4 85.9 L77.8 96.5 L79.1 96.3 L81.0 96.0 L83.7 95.3 L86.9 94.3 L90.4 92.5 L93.7 89.8 L96.6 86.9 L99.3 84.0 L101.9 80.6 L104.2 76.8 L105.9 72.4 L106.8 67.2 L105.8 61.5 L103.7 57.0 L101.6 53.7 L100.3 51.2 L99.8 49.5 L99.7 48.3 L99.5 46.5 L99.4 44.1 L99.3 41.7 L99.2 39.3 L99.1 37.1 L98.7 35.2 L98.2 33.4 L97.9 31.2 L97.8 28.6 L98.0 25.9 L98.4 23.1 L98.6 20.6 L98.5 18.5 L98.0 16.8 L97.3 15.3 L96.6 14.1 L96.0 13.2 L95.6 12.5Z" fill="#888888"/>
<path d="M73.1 45.2Q85.6 46.4 98.0 44.5M74.5 57.0Q87.3 55.2 99.3 50.5M78.2 67.5Q91.2 63.4 102.9 56.5M78.4 69.2Q92.0 69.0 105.2 65.8M78.6 73.0Q89.6 77.9 101.5 79.9M77.8 79.0Q85.4 85.5 94.6 89.4" stroke="#5a5a5a" stroke-width="0.9" stroke-opacity="0.22" fill="none"/>
</g>
<path d="M92.7 11.6 L92.1 12.0 L91.2 12.5 L90.2 13.1 L89.1 13.8 L87.9 14.7 L86.6 16.0 L85.2 17.8 L83.4 20.2 L81.6 22.9 L79.8 25.5 L78.3 27.7 L77.2 29.3 L95.2 36.3 L95.5 34.5 L95.9 31.8 L96.4 28.7 L96.8 25.5 L97.2 22.5 L97.4 20.0 L97.3 18.1 L97.0 16.5 L96.5 15.1 L96.0 14.0 L95.6 13.1 L95.3 12.4Z" fill="#ffffff" opacity="0.22" filter="url(#bl2)"/>
<path d="M93.2 16.0L93.0 1.7M93.2 16.0L100.5 5.2" stroke="#8a8a8a" stroke-width="0.9" stroke-opacity="0.6" fill="none"/>
<circle cx="93.2" cy="16" r="2.3" fill="#1a1a1a" filter="url(#bl)"/>
</g></g>
<linearGradient id="g06" x1="0" y1="0" x2="0" y2="1"><stop offset="0" stop-color="#ebebeb"/><stop offset="1" stop-color="#e1e1e1"/></linearGradient>
<g clip-path="url(#c06)"><rect x="660" y="489" width="115" height="98" fill="url(#g06)"/>
<g transform="translate(660,490)">
<g filter="url(#gsh)" opacity="0.22">
<path d="M48.0 1.6 L47.5 2.5 L46.9 3.5 L46.2 4.6 L45.5 5.6 L44.7 6.7 L44.0 7.8 L43.0 9.1 L41.2 10.7 L39.1 12.7 L36.7 15.1 L33.9 17.9 L31.4 21.5 L29.6 25.3 L28.6 29.1 L27.9 32.7 L27.5 36.1 L27.2 39.2 L27.0 42.3 L27.0 46.0 L27.4 49.6 L27.8 52.6 L28.1 54.8 L28.4 56.0 L29.1 56.8 L29.7 58.0 L30.1 59.5 L29.9 60.8 L29.2 62.4 L28.0 64.2 L26.1 66.1 L23.3 68.4 L19.2 70.8 L14.6 73.4 L10.0 75.7 L6.0 77.8 L3.2 79.2 L5.6 85.6 L8.6 84.8 L13.0 83.8 L18.1 82.5 L23.5 81.1 L28.6 79.5 L33.1 77.9 L36.7 76.2 L39.9 74.4 L42.9 72.3 L45.6 69.7 L48.4 67.0 L50.9 63.6 L52.8 59.2 L53.4 54.7 L53.4 50.8 L53.2 47.5 L53.1 44.8 L53.0 42.5 L52.9 39.6 L52.7 36.6 L52.5 33.8 L52.2 31.4 L51.9 29.4 L51.4 27.7 L51.0 26.0 L51.0 23.8 L51.8 21.3 L52.9 18.7 L54.0 16.0 L55.2 13.4 L56.0 10.9 L56.3 8.6 L56.2 6.7 L56.1 5.1 L55.8 4.0 L55.6 3.2Z" fill="#000"/>
<path d="M66.8 5.8 L67.1 6.8 L67.6 7.8 L67.6 8.5 L66.8 9.0 L65.9 8.6 L65.6 8.0 L65.3 8.5 L63.6 9.7 L61.2 11.6 L58.5 14.2 L55.2 17.4 L52.3 21.8 L50.9 26.8 L50.6 31.4 L50.9 35.5 L51.2 39.2 L51.5 42.2 L51.6 44.8 L51.6 47.6 L51.7 50.5 L51.7 53.1 L51.8 55.6 L51.9 57.8 L52.0 59.7 L52.1 61.6 L51.8 63.6 L50.8 65.7 L49.6 68.0 L48.3 70.4 L46.9 73.0 L45.6 75.7 L44.1 78.4 L42.7 81.2 L41.3 83.7 L40.2 85.9 L39.4 87.4 L46.4 92.2 L47.6 90.8 L49.1 88.9 L50.9 86.7 L52.9 84.3 L54.9 81.9 L56.7 79.8 L58.4 78.0 L60.3 76.3 L62.4 74.3 L64.6 72.1 L67.0 69.5 L69.4 66.5 L71.2 63.1 L72.6 59.7 L73.7 56.3 L74.5 52.9 L75.1 49.6 L75.6 46.0 L75.8 41.9 L75.8 37.8 L75.7 34.1 L75.5 31.0 L75.4 28.7 L74.9 27.4 L74.1 26.0 L73.9 23.7 L74.7 21.1 L75.7 18.3 L77.0 15.2 L78.4 12.0 L78.5 8.2 L77.0 5.3 L75.0 3.6 L73.7 2.6 L72.8 2.2 L72.4 2.0Z" fill="#000"/>
<path d="M81.3 5.6 L81.7 6.6 L82.1 7.8 L82.3 9.1 L82.2 10.5 L81.8 11.8 L81.1 12.8 L80.2 14.0 L79.0 15.8 L77.7 18.1 L76.2 21.0 L75.0 24.5 L74.3 28.1 L74.0 31.5 L74.0 34.9 L74.2 38.8 L74.9 42.9 L76.2 47.3 L78.5 51.9 L82.0 56.2 L85.1 60.1 L88.0 63.2 L90.4 65.5 L91.4 67.0 L90.7 67.2 L90.7 66.8 L91.4 67.3 L92.2 68.4 L92.7 69.8 L92.5 70.7 L92.7 71.2 L92.4 71.7 L90.8 72.3 L88.1 72.6 L84.9 72.8 L81.7 72.8 L78.8 72.9 L76.4 73.1 L74.2 73.2 L72.0 73.2 L70.1 73.1 L68.4 73.1 L67.1 73.0 L66.1 79.8 L67.2 80.1 L68.8 80.6 L70.8 81.2 L73.0 81.9 L75.5 82.5 L78.0 83.1 L80.6 83.7 L83.7 84.5 L87.3 85.2 L91.1 85.8 L95.3 85.9 L99.7 84.8 L103.6 82.5 L106.7 79.6 L109.8 76.4 L112.3 72.5 L113.8 67.7 L113.5 62.0 L110.8 56.8 L107.9 52.6 L105.5 49.0 L103.4 45.9 L101.9 43.6 L102.1 41.7 L102.3 40.0 L102.1 37.8 L101.8 35.4 L101.4 32.6 L100.9 29.7 L100.3 27.1 L99.5 25.0 L98.6 22.7 L97.7 20.1 L96.9 17.2 L96.0 14.2 L94.9 11.2 L93.4 8.5 L91.8 6.4 L90.2 4.8 L88.9 3.6 L88.0 2.8 L87.5 2.2Z" fill="#000"/>
</g>
<g filter="url(#shr)">
<path d="M50.5 2.1 L49.8 2.9 L49.0 3.9 L48.0 4.9 L46.9 6.1 L45.8 7.2 L44.8 8.2 L43.6 9.5 L41.7 11.0 L39.4 12.9 L36.9 15.2 L34.0 18.0 L31.4 21.5 L29.6 25.3 L28.5 29.1 L27.8 32.7 L27.4 36.1 L27.2 39.2 L27.0 42.3 L27.0 46.0 L27.4 49.6 L27.8 52.6 L28.1 54.8 L28.4 56.0 L29.1 56.8 L29.7 58.0 L30.1 59.5 L29.9 60.8 L29.2 62.4 L28.0 64.2 L26.1 66.1 L23.3 68.4 L19.2 70.8 L14.6 73.4 L10.0 75.7 L6.0 77.8 L3.2 79.2 L5.6 85.6 L8.6 84.8 L13.0 83.8 L18.1 82.5 L23.5 81.1 L28.6 79.5 L33.1 77.9 L36.7 76.2 L39.9 74.4 L42.9 72.3 L45.6 69.7 L48.4 67.0 L50.9 63.6 L52.8 59.2 L53.4 54.7 L53.4 50.8 L53.2 47.5 L53.1 44.8 L53.0 42.5 L52.9 39.6 L52.8 36.6 L52.5 33.8 L52.3 31.4 L51.9 29.4 L51.4 27.7 L50.9 26.0 L50.8 23.7 L51.5 21.1 L52.5 18.4 L53.4 15.6 L54.4 13.0 L54.9 10.4 L54.8 8.2 L54.4 6.3 L53.9 4.7 L53.5 3.6 L53.1 2.7Z" fill="#8a8a8a"/>
<path d="M28.5 39.2Q40.1 40.9 51.7 39.5M28.6 49.5Q40.4 50.1 51.9 47.7M29.5 57.8Q39.7 61.7 50.5 62.6M29.1 61.0Q35.5 67.8 43.7 72.1M22.9 68.1Q24.6 74.6 29.0 79.7M14.4 73.1Q15.0 78.5 18.3 82.8" stroke="#5a5a5a" stroke-width="0.9" stroke-opacity="0.22" fill="none"/>
</g>
<path d="M50.7 2.2 L50.2 3.0 L49.5 4.0 L48.6 5.1 L47.7 6.3 L46.7 7.5 L45.7 8.8 L44.3 10.5 L42.4 12.6 L40.2 15.0 L38.1 17.3 L36.3 19.3 L35.0 20.7 L47.8 28.5 L48.4 26.7 L49.4 24.2 L50.5 21.2 L51.7 18.1 L52.7 15.1 L53.5 12.4 L54.0 10.1 L54.0 8.0 L53.8 6.2 L53.4 4.7 L53.1 3.5 L52.9 2.6Z" fill="#ffffff" opacity="0.22" filter="url(#bl2)"/>
<path d="M49.6 10.6L50.3 -3.7M49.6 10.6L57.5 0.3" stroke="#8a8a8a" stroke-width="0.9" stroke-opacity="0.6" fill="none"/>
<circle cx="49.6" cy="10.6" r="2.3" fill="#1a1a1a" filter="url(#bl)"/>
<g filter="url(#shr)">
<path d="M68.6 4.6 L68.7 5.5 L69.0 6.6 L69.0 7.6 L68.2 8.5 L67.1 8.6 L66.6 8.3 L65.9 8.9 L64.1 10.1 L61.5 11.8 L58.7 14.3 L55.3 17.4 L52.3 21.8 L50.8 26.8 L50.6 31.4 L50.8 35.5 L51.2 39.2 L51.5 42.2 L51.6 44.8 L51.6 47.6 L51.7 50.5 L51.7 53.1 L51.8 55.6 L51.9 57.8 L52.0 59.7 L52.1 61.6 L51.8 63.6 L50.8 65.7 L49.6 68.0 L48.3 70.4 L46.9 73.0 L45.6 75.7 L44.1 78.4 L42.7 81.2 L41.3 83.7 L40.2 85.9 L39.4 87.4 L46.4 92.2 L47.6 90.8 L49.1 88.9 L50.9 86.7 L52.9 84.3 L54.9 81.9 L56.7 79.8 L58.4 78.0 L60.3 76.3 L62.4 74.3 L64.6 72.1 L67.0 69.5 L69.4 66.5 L71.2 63.1 L72.6 59.7 L73.7 56.3 L74.5 52.9 L75.1 49.6 L75.6 46.0 L75.9 41.9 L75.8 37.8 L75.7 34.1 L75.6 31.0 L75.4 28.7 L74.9 27.4 L74.0 26.0 L73.7 23.6 L74.4 20.9 L75.3 18.0 L76.3 14.9 L77.4 11.7 L77.2 8.3 L75.6 5.8 L73.7 4.5 L72.3 3.8 L71.2 3.5 L70.6 3.2Z" fill="#8a8a8a"/>
<path d="M52.4 39.2Q63.6 40.0 74.6 37.7M52.8 45.2Q63.6 46.9 74.4 45.6M52.7 53.5Q62.5 56.2 72.7 55.9M52.1 60.3Q60.2 64.5 69.3 65.9M50.4 65.6Q55.8 71.2 62.8 74.5M46.7 72.7Q50.9 77.6 56.9 80.1" stroke="#5a5a5a" stroke-width="0.9" stroke-opacity="0.22" fill="none"/>
</g>
<path d="M68.8 4.4 L69.0 5.3 L69.3 6.3 L69.5 7.3 L69.0 8.2 L68.2 8.5 L67.6 8.7 L66.6 9.9 L64.8 12.0 L62.6 14.4 L60.2 16.7 L58.1 18.8 L56.6 20.3 L70.6 28.9 L71.2 27.0 L72.1 24.3 L73.3 21.0 L74.6 17.6 L75.6 14.3 L76.4 11.3 L76.2 8.3 L74.8 6.0 L73.2 4.8 L71.9 4.1 L71.0 3.7 L70.4 3.4Z" fill="#ffffff" opacity="0.22" filter="url(#bl2)"/>
<path d="M74.0 9.8L63.2 0.4M74.0 9.8L70.8 -2.8" stroke="#8a8a8a" stroke-width="0.9" stroke-opacity="0.6" fill="none"/>
<circle cx="74" cy="9.8" r="2.3" fill="#1a1a1a" filter="url(#bl)"/>
<g filter="url(#shr)">
<path d="M83.3 4.5 L83.5 5.5 L83.7 6.8 L83.8 8.3 L83.6 9.9 L83.0 11.4 L82.1 12.7 L81.0 14.0 L79.7 15.8 L78.1 18.2 L76.5 21.0 L75.1 24.5 L74.3 28.1 L74.0 31.5 L73.9 34.9 L74.2 38.8 L74.9 42.9 L76.2 47.3 L78.5 51.9 L82.0 56.2 L85.1 60.1 L88.0 63.2 L90.4 65.5 L91.4 67.0 L90.7 67.2 L90.7 66.8 L91.4 67.3 L92.2 68.4 L92.7 69.8 L92.5 70.7 L92.7 71.2 L92.4 71.7 L90.8 72.3 L88.1 72.6 L84.9 72.8 L81.7 72.8 L78.8 72.9 L76.4 73.1 L74.2 73.2 L72.0 73.2 L70.1 73.1 L68.4 73.1 L67.1 73.0 L66.1 79.8 L67.2 80.1 L68.8 80.6 L70.8 81.2 L73.0 81.9 L75.5 82.5 L78.0 83.1 L80.6 83.7 L83.7 84.5 L87.3 85.2 L91.1 85.8 L95.3 85.9 L99.7 84.8 L103.6 82.5 L106.7 79.6 L109.8 76.4 L112.3 72.5 L113.8 67.7 L113.5 62.0 L110.8 56.8 L107.9 52.6 L105.5 49.0 L103.4 45.9 L101.9 43.6 L102.1 41.7 L102.3 40.0 L102.1 37.8 L101.9 35.4 L101.5 32.6 L101.0 29.7 L100.3 27.1 L99.4 25.0 L98.4 22.7 L97.3 20.1 L96.2 17.2 L95.1 14.2 L93.9 11.3 L92.2 8.8 L90.4 7.0 L88.7 5.6 L87.3 4.6 L86.2 3.9 L85.5 3.3Z" fill="#8a8a8a"/>
<path d="M78.3 50.8Q90.8 48.2 102.3 42.8M87.5 63.6Q97.7 57.2 106.0 48.5M91.7 68.1Q101.9 63.2 110.4 55.7M92.0 69.3Q100.5 73.8 110.0 75.6M91.4 71.6Q92.4 79.3 96.3 86.0M84.9 72.4Q82.8 78.5 83.7 84.8" stroke="#5a5a5a" stroke-width="0.9" stroke-opacity="0.22" fill="none"/>
</g>
<path d="M83.5 4.4 L83.7 5.4 L84.0 6.6 L84.3 8.1 L84.2 9.6 L83.9 11.2 L83.3 12.6 L82.5 14.4 L81.4 16.9 L80.1 19.8 L78.8 22.6 L77.7 25.1 L77.0 26.9 L97.6 28.3 L97.1 26.6 L96.4 24.0 L95.6 20.8 L94.7 17.5 L93.8 14.3 L92.7 11.4 L91.3 9.1 L89.7 7.3 L88.2 5.9 L86.9 4.8 L85.9 4.0 L85.3 3.4Z" fill="#ffffff" opacity="0.22" filter="url(#bl2)"/>
<path d="M88.8 12.0L79.5 1.1M88.8 12.0L87.5 -0.9" stroke="#8a8a8a" stroke-width="0.9" stroke-opacity="0.6" fill="none"/>
<circle cx="88.8" cy="12" r="2.3" fill="#1a1a1a" filter="url(#bl)"/>
</g></g>
<linearGradient id="g10" x1="0" y1="0" x2="0" y2="1"><stop offset="0" stop-color="#ebebeb"/><stop offset="1" stop-color="#e1e1e1"/></linearGradient>
<g clip-path="url(#c10)"><rect x="50" y="587" width="100" height="97" fill="url(#g10)"/>
<g transform="translate(50,587)">
<g filter="url(#gsh)" opacity="0.22">
<path d="M17.2 10.0 L16.9 10.7 L16.3 11.8 L15.7 13.3 L15.0 15.1 L14.4 17.3 L14.2 19.8 L14.3 22.6 L14.6 25.2 L14.7 27.7 L14.5 29.8 L14.0 31.5 L13.5 32.8 L13.1 34.4 L12.8 36.5 L12.4 38.7 L12.0 40.9 L11.7 43.0 L11.5 44.8 L11.6 46.5 L10.6 48.5 L9.0 51.1 L7.0 54.2 L4.5 57.7 L2.4 62.2 L1.8 66.8 L2.3 70.9 L3.6 74.7 L5.3 77.9 L7.5 80.8 L9.8 83.4 L12.4 86.0 L15.3 88.1 L18.5 89.9 L21.6 91.3 L24.6 92.5 L27.6 93.5 L30.6 94.1 L33.5 94.2 L36.1 94.1 L38.3 93.8 L40.0 93.5 L41.1 93.4 L41.3 86.6 L39.9 86.4 L38.2 86.2 L36.3 86.0 L34.5 85.6 L32.9 85.0 L31.6 84.1 L30.2 82.8 L28.5 81.0 L26.9 79.0 L25.4 77.0 L24.3 75.1 L23.6 73.6 L23.3 72.0 L23.2 70.3 L23.3 68.9 L23.4 67.7 L23.6 66.9 L23.4 66.6 L23.0 66.1 L23.4 64.6 L25.0 62.6 L27.2 59.9 L29.7 56.7 L32.3 53.0 L33.9 49.3 L34.9 45.7 L35.5 42.2 L35.9 38.6 L35.8 35.2 L35.5 31.6 L34.4 27.9 L32.8 24.7 L31.1 22.2 L29.6 20.2 L28.5 18.6 L27.8 17.6 L27.2 16.5 L26.6 15.3 L26.1 14.0 L25.7 12.8 L25.4 11.6 L25.2 10.6Z" fill="#000"/>
<path d="M43.7 3.3 L43.3 4.1 L42.6 5.3 L41.9 6.8 L41.0 8.6 L40.2 10.6 L39.5 13.0 L39.1 15.6 L38.8 18.1 L38.5 20.2 L37.9 21.9 L37.3 23.2 L36.8 24.4 L36.2 26.0 L35.3 28.3 L34.3 31.0 L33.0 33.9 L31.8 37.1 L30.7 40.1 L29.8 42.8 L28.8 45.6 L27.4 48.9 L26.0 52.5 L24.8 56.8 L24.3 61.6 L24.9 66.1 L26.1 70.2 L27.8 73.8 L30.0 77.0 L32.3 79.8 L34.8 82.5 L37.4 85.0 L40.4 87.2 L43.5 89.1 L46.7 90.7 L49.8 92.1 L52.9 93.3 L56.1 94.3 L59.3 94.9 L62.4 95.4 L65.1 95.7 L67.3 95.9 L68.8 96.0 L70.2 89.4 L68.6 88.9 L66.5 88.3 L64.0 87.6 L61.6 86.7 L59.4 85.6 L57.7 84.3 L56.2 82.6 L54.6 80.6 L53.1 78.3 L51.9 76.0 L50.9 73.9 L50.2 71.9 L49.8 70.0 L49.7 67.9 L49.7 66.0 L49.9 64.4 L50.1 63.0 L50.3 62.0 L50.4 61.1 L50.5 59.5 L51.1 57.1 L52.0 54.2 L53.3 50.9 L54.3 47.5 L55.1 44.4 L55.8 41.2 L56.6 37.9 L57.4 34.4 L58.1 30.8 L58.4 27.0 L58.2 23.2 L57.3 19.9 L56.1 17.3 L55.0 15.3 L54.2 13.9 L53.5 12.8 L52.9 11.5 L52.5 10.0 L52.1 8.4 L51.8 6.9 L51.7 5.5 L51.5 4.5Z" fill="#000"/>
<path d="M62.0 8.9 L61.9 9.6 L61.8 10.5 L61.8 11.7 L61.8 13.1 L61.9 14.8 L62.2 16.9 L62.9 19.3 L63.6 22.0 L64.1 24.7 L64.2 27.2 L63.8 29.3 L63.1 30.6 L62.4 31.7 L62.0 33.2 L61.6 34.8 L61.2 36.6 L60.8 38.5 L60.4 40.1 L60.3 41.4 L60.0 43.0 L59.1 45.0 L57.8 47.4 L56.2 50.1 L55.0 52.9 L54.4 55.3 L53.7 57.8 L52.6 60.9 L51.5 64.8 L51.2 69.6 L52.8 74.8 L55.9 78.6 L58.9 81.6 L61.9 84.4 L65.1 86.7 L68.5 88.8 L72.1 90.4 L76.1 91.3 L80.0 91.5 L83.7 91.3 L87.0 91.0 L89.6 90.6 L91.4 90.4 L91.4 82.0 L89.4 81.8 L86.7 81.7 L83.7 81.5 L80.8 81.1 L78.5 80.5 L77.1 79.6 L75.9 78.3 L74.5 76.4 L73.2 74.3 L72.3 72.1 L72.3 70.1 L73.4 69.2 L74.4 69.8 L74.7 70.0 L75.1 69.1 L76.0 67.5 L77.5 65.2 L78.8 62.9 L79.6 61.0 L80.3 59.1 L81.5 56.9 L83.1 54.2 L84.9 51.0 L86.4 47.5 L87.2 44.1 L87.7 40.8 L88.0 37.3 L87.9 33.6 L87.4 29.9 L86.1 26.0 L84.0 22.3 L81.4 19.2 L79.0 16.7 L76.7 14.6 L75.0 12.9 L73.8 11.5 L72.8 10.4 L71.8 9.4 L71.0 8.5 L70.3 7.7 L69.7 7.0 L69.2 6.5Z" fill="#000"/>
</g>
<g filter="url(#shr)">
<path d="M19.8 10.2 L19.3 11.0 L18.5 12.0 L17.5 13.4 L16.6 15.1 L15.7 17.2 L15.2 19.7 L15.1 22.4 L15.2 25.1 L15.1 27.5 L14.7 29.8 L14.1 31.4 L13.5 32.8 L13.1 34.4 L12.7 36.5 L12.4 38.7 L12.0 40.9 L11.7 43.0 L11.5 44.8 L11.6 46.5 L10.6 48.5 L9.0 51.1 L7.0 54.2 L4.5 57.7 L2.4 62.2 L1.8 66.8 L2.3 70.9 L3.6 74.7 L5.3 77.9 L7.5 80.8 L9.8 83.4 L12.4 86.0 L15.3 88.1 L18.5 89.9 L21.6 91.3 L24.6 92.5 L27.6 93.5 L30.6 94.1 L33.5 94.2 L36.1 94.1 L38.3 93.8 L40.0 93.5 L41.1 93.4 L41.3 86.6 L39.9 86.4 L38.2 86.2 L36.3 86.0 L34.5 85.6 L32.9 85.0 L31.6 84.1 L30.2 82.8 L28.5 81.0 L26.9 79.0 L25.4 77.0 L24.3 75.1 L23.6 73.6 L23.3 72.0 L23.2 70.3 L23.3 68.9 L23.4 67.7 L23.6 66.9 L23.4 66.6 L23.0 66.1 L23.4 64.6 L25.0 62.6 L27.2 59.9 L29.7 56.7 L32.3 53.0 L33.9 49.3 L34.9 45.7 L35.6 42.2 L35.9 38.6 L35.9 35.2 L35.5 31.6 L34.3 28.0 L32.6 24.8 L30.7 22.3 L29.1 20.4 L27.8 18.9 L26.8 17.7 L25.9 16.6 L25.0 15.3 L24.2 13.9 L23.5 12.5 L23.0 11.3 L22.6 10.4Z" fill="#8e8e8e"/>
<path d="M11.6 45.6Q21.4 50.3 32.2 52.2M8.5 50.6Q16.1 58.0 25.5 63.0M3.5 61.3Q12.4 65.8 22.3 67.5M5.4 77.4Q14.8 75.5 23.2 70.9M11.7 85.9Q19.3 81.7 25.0 75.2M21.2 91.5Q26.3 87.1 28.9 80.9" stroke="#5a5a5a" stroke-width="0.9" stroke-opacity="0.22" fill="none"/>
</g>
<path d="M20.1 10.2 L19.6 11.0 L19.0 12.1 L18.2 13.5 L17.4 15.1 L16.7 17.1 L16.3 19.4 L16.2 22.0 L16.2 24.8 L16.2 27.8 L16.3 30.6 L16.3 32.9 L16.3 34.5 L32.7 29.9 L31.8 28.5 L30.6 26.5 L29.2 24.2 L27.9 21.8 L26.6 19.7 L25.7 18.0 L24.9 16.7 L24.2 15.3 L23.6 13.8 L23.0 12.5 L22.6 11.3 L22.3 10.4Z" fill="#ffffff" opacity="0.22" filter="url(#bl2)"/>
<path d="M20.0 18.7L19.0 4.4M20.0 18.7L26.6 7.5" stroke="#8a8a8a" stroke-width="0.9" stroke-opacity="0.6" fill="none"/>
<circle cx="20" cy="18.7" r="2.3" fill="#1a1a1a" filter="url(#bl)"/>
<g filter="url(#shr)">
<path d="M46.2 3.7 L45.6 4.5 L44.7 5.7 L43.7 7.1 L42.6 8.8 L41.5 10.7 L40.6 13.0 L39.9 15.5 L39.4 18.0 L38.9 20.1 L38.2 21.8 L37.4 23.2 L36.8 24.4 L36.1 26.0 L35.2 28.3 L34.2 31.0 L33.0 33.9 L31.7 37.1 L30.7 40.1 L29.8 42.8 L28.8 45.6 L27.4 48.9 L26.0 52.5 L24.8 56.8 L24.3 61.6 L24.9 66.1 L26.1 70.2 L27.8 73.8 L30.0 77.0 L32.3 79.8 L34.8 82.5 L37.4 85.0 L40.4 87.2 L43.5 89.1 L46.7 90.7 L49.8 92.1 L52.9 93.3 L56.1 94.3 L59.3 94.9 L62.4 95.4 L65.1 95.7 L67.3 95.9 L68.8 96.0 L70.2 89.4 L68.6 88.9 L66.5 88.3 L64.0 87.6 L61.6 86.7 L59.4 85.6 L57.7 84.3 L56.2 82.6 L54.6 80.6 L53.1 78.3 L51.9 76.0 L50.9 73.9 L50.2 71.9 L49.8 70.0 L49.7 67.9 L49.7 66.0 L49.9 64.4 L50.1 63.0 L50.3 62.0 L50.4 61.1 L50.5 59.5 L51.1 57.1 L52.0 54.2 L53.3 50.9 L54.3 47.5 L55.1 44.4 L55.9 41.2 L56.7 37.9 L57.5 34.4 L58.1 30.8 L58.4 27.0 L58.1 23.2 L57.0 20.0 L55.7 17.4 L54.4 15.4 L53.3 14.0 L52.4 12.8 L51.7 11.4 L50.9 9.8 L50.3 8.1 L49.7 6.5 L49.3 5.1 L49.0 4.1Z" fill="#8e8e8e"/>
<path d="M30.3 43.2Q41.1 48.3 52.8 50.5M27.0 52.3Q37.8 57.4 49.6 59.7M26.0 65.3Q37.6 66.1 49.0 63.8M29.9 76.5Q40.4 73.8 49.8 68.4M39.8 87.3Q47.2 82.7 52.5 75.9M49.4 92.2Q54.2 88.2 56.5 82.5" stroke="#5a5a5a" stroke-width="0.9" stroke-opacity="0.22" fill="none"/>
</g>
<path d="M46.5 3.7 L46.0 4.6 L45.2 5.8 L44.4 7.2 L43.4 8.9 L42.5 10.8 L41.7 12.9 L41.1 15.3 L40.6 17.9 L40.0 20.6 L39.6 23.1 L39.2 25.1 L38.9 26.6 L56.3 24.8 L55.7 23.4 L54.9 21.4 L53.9 19.2 L52.9 16.8 L52.0 14.7 L51.3 12.9 L50.6 11.4 L50.1 9.7 L49.6 8.0 L49.2 6.4 L48.9 5.1 L48.7 4.1Z" fill="#ffffff" opacity="0.22" filter="url(#bl2)"/>
<path d="M45.7 12.9L45.7 -1.4M45.7 12.9L53.1 2.2" stroke="#8a8a8a" stroke-width="0.9" stroke-opacity="0.6" fill="none"/>
<circle cx="45.7" cy="12.9" r="2.3" fill="#1a1a1a" filter="url(#bl)"/>
<g filter="url(#shr)">
<path d="M64.3 8.1 L64.1 8.9 L63.8 9.9 L63.4 11.1 L63.2 12.6 L63.0 14.4 L63.1 16.5 L63.6 19.0 L64.1 21.7 L64.4 24.5 L64.4 27.1 L63.9 29.3 L63.1 30.6 L62.4 31.7 L61.9 33.2 L61.6 34.8 L61.2 36.6 L60.8 38.5 L60.4 40.1 L60.3 41.4 L60.0 43.0 L59.1 45.0 L57.8 47.4 L56.2 50.1 L55.0 52.9 L54.4 55.3 L53.7 57.8 L52.6 60.9 L51.5 64.8 L51.2 69.6 L52.8 74.8 L55.9 78.6 L58.9 81.6 L61.9 84.4 L65.1 86.7 L68.5 88.8 L72.1 90.4 L76.1 91.3 L80.0 91.5 L83.7 91.3 L87.0 91.0 L89.6 90.6 L91.4 90.4 L91.4 82.0 L89.4 81.8 L86.7 81.7 L83.7 81.5 L80.8 81.1 L78.5 80.5 L77.1 79.6 L75.9 78.3 L74.5 76.4 L73.2 74.3 L72.3 72.1 L72.3 70.1 L73.4 69.2 L74.4 69.8 L74.7 70.0 L75.1 69.1 L76.0 67.5 L77.5 65.2 L78.8 62.9 L79.6 61.0 L80.3 59.1 L81.5 56.9 L83.1 54.2 L84.9 51.0 L86.4 47.5 L87.2 44.1 L87.8 40.8 L88.1 37.3 L88.0 33.6 L87.4 29.9 L86.1 26.0 L83.9 22.3 L81.2 19.3 L78.6 16.9 L76.3 14.9 L74.3 13.2 L72.9 11.9 L71.7 10.8 L70.4 9.9 L69.3 9.1 L68.3 8.4 L67.5 7.8 L66.9 7.3Z" fill="#8e8e8e"/>
<path d="M60.5 42.2Q72.1 47.7 84.7 50.2M57.7 47.1Q68.4 54.6 80.4 59.4M54.0 57.8Q64.3 64.0 75.8 67.5M53.3 73.2Q63.3 73.5 72.9 70.8M61.3 84.3Q68.5 80.5 73.8 74.3M71.3 90.4Q75.9 85.8 77.9 79.6" stroke="#5a5a5a" stroke-width="0.9" stroke-opacity="0.22" fill="none"/>
</g>
<path d="M64.6 8.0 L64.5 8.8 L64.2 9.7 L64.0 10.9 L63.9 12.3 L63.9 14.0 L64.0 15.9 L64.3 18.4 L64.8 21.3 L65.4 24.5 L66.0 27.6 L66.4 30.2 L66.8 32.0 L82.4 24.6 L81.2 23.2 L79.5 21.1 L77.5 18.8 L75.4 16.4 L73.5 14.2 L72.0 12.5 L70.8 11.2 L69.7 10.1 L68.7 9.3 L67.9 8.5 L67.2 7.9 L66.6 7.4Z" fill="#ffffff" opacity="0.22" filter="url(#bl2)"/>
<path d="M66.9 14.2L61.2 1.1M66.9 14.2L69.4 1.5" stroke="#8a8a8a" stroke-width="0.9" stroke-opacity="0.6" fill="none"/>
<circle cx="66.9" cy="14.2" r="2.3" fill="#1a1a1a" filter="url(#bl)"/>
</g></g>
<linearGradient id="g11" x1="0" y1="0" x2="0" y2="1"><stop offset="0" stop-color="#e9e9e9"/><stop offset="1" stop-color="#dfdfdf"/></linearGradient>
<g clip-path="url(#c11)"><rect x="150" y="587" width="99" height="97" fill="url(#g11)"/>
<g transform="translate(150,587)">
<g filter="url(#gsh)" opacity="0.22">
<path d="M13.2 11.6 L13.2 12.4 L13.3 13.4 L13.2 14.6 L13.1 15.8 L12.8 17.2 L12.4 18.7 L11.9 20.4 L11.3 22.5 L10.6 25.0 L10.2 28.1 L10.2 31.5 L10.7 35.1 L11.7 38.7 L12.9 42.3 L14.2 45.9 L15.7 49.4 L17.0 52.6 L18.3 55.7 L19.8 58.7 L21.4 61.5 L22.6 63.9 L23.5 65.9 L23.9 67.4 L24.2 68.6 L24.6 69.8 L25.1 71.1 L25.6 72.2 L26.2 73.1 L27.0 74.0 L27.8 75.0 L27.6 76.1 L26.8 77.5 L25.6 79.1 L24.1 80.7 L22.5 82.1 L21.1 83.1 L19.7 83.9 L17.8 84.6 L15.7 85.0 L13.5 85.3 L11.5 85.6 L10.1 85.8 L10.3 92.6 L11.7 92.7 L13.6 93.0 L16.0 93.2 L18.8 93.3 L21.8 93.2 L24.7 92.7 L27.6 91.7 L30.3 90.6 L33.1 89.2 L35.9 87.6 L38.6 85.5 L41.0 83.0 L43.6 80.3 L45.5 77.2 L46.7 73.8 L47.4 70.5 L47.5 67.2 L47.2 63.8 L46.3 60.3 L44.9 57.0 L43.5 54.1 L42.2 51.4 L41.2 48.9 L40.3 46.3 L39.1 43.3 L37.7 40.1 L36.3 36.8 L34.9 33.7 L33.7 30.9 L32.7 28.5 L31.8 26.6 L30.7 24.6 L29.5 22.4 L28.3 20.2 L27.0 17.9 L25.8 15.7 L24.5 13.8 L23.3 12.2 L22.2 11.0 L21.2 10.0 L20.5 9.3 L20.0 8.8Z" fill="#000"/>
<path d="M58.7 4.0 L58.0 5.5 L57.0 7.5 L55.8 9.9 L54.5 12.3 L53.3 14.6 L52.2 16.5 L51.3 17.8 L49.8 19.1 L47.8 20.7 L45.4 22.9 L42.5 25.9 L40.2 30.2 L39.4 34.8 L39.3 39.1 L39.6 43.2 L40.1 47.0 L40.5 50.3 L41.1 53.6 L42.0 57.2 L43.2 60.5 L44.2 63.2 L44.8 65.2 L45.0 66.3 L45.4 66.6 L46.1 67.2 L46.7 68.6 L46.9 70.6 L46.7 73.0 L45.9 75.5 L45.1 78.0 L44.3 80.4 L43.1 83.0 L41.8 85.6 L40.5 88.1 L39.4 90.2 L38.6 91.8 L45.4 96.8 L46.6 95.6 L48.3 93.9 L50.4 91.9 L52.6 89.7 L54.8 87.3 L56.9 85.0 L58.7 83.1 L60.7 81.1 L63.0 78.8 L65.4 76.2 L67.7 72.8 L69.2 68.4 L69.5 63.6 L68.7 59.4 L67.7 56.0 L66.9 53.1 L66.4 50.7 L65.9 48.4 L65.3 45.4 L64.4 42.2 L63.5 39.1 L62.9 36.5 L62.3 34.5 L61.8 33.4 L60.8 32.7 L60.1 31.4 L60.4 29.6 L61.3 27.3 L62.4 24.6 L63.8 21.7 L64.6 18.7 L65.1 15.7 L65.5 12.7 L65.7 10.0 L65.9 7.8 L66.1 6.2Z" fill="#000"/>
<path d="M63.5 15.9 L63.2 16.5 L62.8 17.2 L62.2 18.2 L61.7 19.5 L61.1 21.0 L60.5 22.7 L59.9 24.5 L59.1 26.6 L58.3 29.0 L57.6 31.8 L57.2 34.8 L57.3 38.0 L57.7 41.3 L58.4 44.7 L59.3 48.0 L60.3 51.3 L61.2 54.4 L62.4 57.6 L64.0 60.9 L65.7 63.8 L66.7 66.0 L66.6 67.2 L66.1 67.1 L66.2 65.9 L67.2 65.8 L67.7 67.2 L67.4 69.1 L66.4 71.2 L65.2 73.4 L64.2 75.3 L63.0 77.1 L61.4 79.2 L59.3 81.4 L57.2 83.5 L55.3 85.4 L53.9 86.7 L58.1 94.1 L59.9 93.6 L62.4 93.0 L65.6 92.2 L69.0 91.1 L72.6 89.6 L75.8 87.7 L78.7 85.5 L81.3 83.2 L84.0 80.5 L86.7 77.5 L89.6 74.0 L91.8 69.1 L91.9 63.3 L90.0 58.7 L88.0 55.5 L86.5 53.1 L85.8 51.2 L85.4 49.4 L84.8 47.0 L83.8 44.1 L82.9 41.1 L82.0 38.2 L81.1 35.6 L80.3 33.4 L79.5 31.5 L78.5 29.5 L77.4 27.6 L76.3 25.6 L75.3 23.7 L74.5 21.9 L73.8 20.6 L73.1 19.4 L72.6 18.4 L72.1 17.6 L71.8 16.8 L71.5 16.1Z" fill="#000"/>
</g>
<g filter="url(#shr)">
<path d="M15.4 10.7 L15.3 11.5 L15.1 12.6 L14.8 13.9 L14.5 15.3 L14.0 16.9 L13.4 18.5 L12.7 20.2 L11.9 22.4 L11.1 25.0 L10.4 28.0 L10.3 31.4 L10.7 35.1 L11.6 38.7 L12.8 42.3 L14.2 45.9 L15.6 49.4 L17.0 52.6 L18.3 55.7 L19.8 58.7 L21.4 61.5 L22.6 63.9 L23.5 65.9 L23.9 67.4 L24.2 68.6 L24.6 69.8 L25.1 71.1 L25.6 72.2 L26.2 73.1 L27.0 74.0 L27.8 75.0 L27.6 76.1 L26.8 77.5 L25.6 79.1 L24.1 80.7 L22.5 82.1 L21.1 83.1 L19.7 83.9 L17.8 84.6 L15.7 85.0 L13.5 85.3 L11.5 85.6 L10.1 85.8 L10.3 92.6 L11.7 92.7 L13.6 93.0 L16.0 93.2 L18.8 93.3 L21.8 93.2 L24.7 92.7 L27.6 91.7 L30.3 90.6 L33.1 89.2 L35.9 87.6 L38.6 85.5 L41.0 83.0 L43.6 80.3 L45.5 77.2 L46.7 73.8 L47.4 70.5 L47.5 67.2 L47.2 63.8 L46.3 60.3 L44.9 57.0 L43.5 54.1 L42.2 51.4 L41.2 48.9 L40.3 46.3 L39.1 43.3 L37.7 40.1 L36.3 36.8 L35.0 33.7 L33.8 30.8 L32.7 28.5 L31.7 26.6 L30.5 24.6 L29.1 22.5 L27.7 20.3 L26.2 18.0 L24.8 15.9 L23.3 14.1 L21.9 12.7 L20.5 11.7 L19.4 10.8 L18.5 10.2 L17.8 9.7Z" fill="#8a8a8a"/>
<path d="M17.3 52.5Q28.6 49.4 38.8 43.4M21.4 61.5Q32.5 57.8 42.3 51.4M24.7 67.8Q35.6 65.3 45.4 59.9M26.6 72.8Q36.1 74.5 45.7 73.2M26.9 76.3Q32.2 82.0 39.3 85.3M22.1 81.9Q23.7 87.6 27.9 91.9" stroke="#5a5a5a" stroke-width="0.9" stroke-opacity="0.22" fill="none"/>
</g>
<path d="M15.6 10.6 L15.6 11.4 L15.5 12.5 L15.4 13.7 L15.2 15.1 L14.9 16.6 L14.6 18.3 L14.2 20.4 L13.8 23.2 L13.4 26.2 L12.9 29.1 L12.6 31.6 L12.4 33.4 L31.0 30.2 L30.2 28.7 L29.1 26.4 L27.8 23.7 L26.3 20.9 L24.9 18.3 L23.6 16.1 L22.4 14.4 L21.1 13.0 L20.0 11.9 L19.0 11.0 L18.1 10.3 L17.6 9.8Z" fill="#ffffff" opacity="0.22" filter="url(#bl2)"/>
<path d="M19.1 17.2L11.6 5.0M19.1 17.2L19.8 4.2" stroke="#8a8a8a" stroke-width="0.9" stroke-opacity="0.6" fill="none"/>
<circle cx="19.1" cy="17.2" r="2.3" fill="#1a1a1a" filter="url(#bl)"/>
<g filter="url(#shr)">
<path d="M61.1 4.7 L60.2 6.1 L59.0 8.1 L57.5 10.4 L56.0 12.8 L54.4 15.1 L53.1 16.9 L51.9 18.2 L50.2 19.4 L48.1 20.9 L45.6 23.0 L42.6 26.0 L40.2 30.2 L39.3 34.8 L39.2 39.1 L39.5 43.2 L40.0 47.0 L40.5 50.3 L41.1 53.6 L42.0 57.2 L43.2 60.5 L44.2 63.2 L44.8 65.2 L45.0 66.3 L45.4 66.6 L46.1 67.2 L46.7 68.6 L46.9 70.6 L46.7 73.0 L45.9 75.5 L45.1 78.0 L44.3 80.4 L43.1 83.0 L41.8 85.6 L40.5 88.1 L39.4 90.2 L38.6 91.8 L45.4 96.8 L46.6 95.6 L48.3 93.9 L50.4 91.9 L52.6 89.7 L54.8 87.3 L56.9 85.0 L58.7 83.1 L60.7 81.1 L63.0 78.8 L65.4 76.2 L67.7 72.8 L69.2 68.4 L69.5 63.6 L68.7 59.4 L67.7 56.0 L66.9 53.1 L66.4 50.7 L65.9 48.4 L65.3 45.4 L64.4 42.2 L63.6 39.1 L62.9 36.5 L62.4 34.5 L61.8 33.4 L60.7 32.7 L59.9 31.3 L60.1 29.4 L60.8 27.0 L61.8 24.2 L62.9 21.3 L63.5 18.3 L63.7 15.2 L63.7 12.2 L63.7 9.4 L63.7 7.1 L63.7 5.5Z" fill="#8a8a8a"/>
<path d="M40.6 42.8Q51.8 42.6 62.6 39.5M41.5 50.2Q53.2 49.4 64.3 45.6M43.9 60.2Q55.5 58.2 66.2 53.4M46.3 67.0Q57.5 66.4 68.2 62.8M46.7 70.9Q54.3 76.1 63.2 78.6M44.8 77.8Q50.2 82.8 57.2 85.2" stroke="#5a5a5a" stroke-width="0.9" stroke-opacity="0.22" fill="none"/>
</g>
<path d="M61.4 4.8 L60.6 6.2 L59.5 8.2 L58.2 10.6 L56.7 13.0 L55.3 15.4 L54.0 17.4 L52.5 19.3 L50.8 21.3 L49.0 23.3 L47.2 25.2 L45.6 26.8 L44.4 28.0 L57.6 35.6 L58.0 34.1 L58.6 31.9 L59.5 29.4 L60.4 26.5 L61.3 23.6 L62.0 20.8 L62.6 18.0 L62.9 15.0 L63.1 12.0 L63.3 9.3 L63.3 7.0 L63.4 5.4Z" fill="#ffffff" opacity="0.22" filter="url(#bl2)"/>
<path d="M58.0 19.1L59.3 4.8M58.0 19.1L66.4 9.2" stroke="#8a8a8a" stroke-width="0.9" stroke-opacity="0.6" fill="none"/>
<circle cx="58" cy="19.1" r="2.3" fill="#1a1a1a" filter="url(#bl)"/>
<g filter="url(#shr)">
<path d="M66.1 16.0 L65.6 16.5 L64.9 17.3 L64.1 18.2 L63.3 19.5 L62.4 20.9 L61.6 22.6 L60.7 24.4 L59.7 26.5 L58.7 29.0 L57.9 31.7 L57.3 34.8 L57.3 38.0 L57.7 41.4 L58.4 44.7 L59.3 48.1 L60.3 51.3 L61.2 54.4 L62.4 57.6 L64.0 60.9 L65.7 63.8 L66.7 66.0 L66.6 67.2 L66.1 67.1 L66.2 65.9 L67.2 65.8 L67.7 67.2 L67.4 69.1 L66.4 71.2 L65.2 73.4 L64.2 75.3 L63.0 77.1 L61.4 79.2 L59.3 81.4 L57.2 83.5 L55.3 85.4 L53.9 86.7 L58.1 94.1 L59.9 93.6 L62.4 93.0 L65.6 92.2 L69.0 91.1 L72.6 89.6 L75.8 87.7 L78.7 85.5 L81.3 83.2 L84.0 80.5 L86.7 77.5 L89.6 74.0 L91.8 69.1 L91.9 63.3 L90.0 58.7 L88.0 55.5 L86.5 53.1 L85.8 51.2 L85.4 49.4 L84.8 47.0 L83.9 44.0 L83.0 41.1 L82.1 38.2 L81.2 35.6 L80.3 33.4 L79.4 31.5 L78.2 29.6 L77.0 27.6 L75.7 25.6 L74.5 23.7 L73.4 22.0 L72.5 20.6 L71.6 19.4 L70.7 18.4 L70.0 17.5 L69.4 16.7 L68.9 16.0Z" fill="#8a8a8a"/>
<path d="M61.9 54.2Q73.5 52.1 84.1 47.2M64.0 60.4Q75.5 57.4 85.9 51.7M67.5 67.9Q79.0 64.3 89.2 58.0M67.2 67.7Q76.6 73.7 87.3 77.0M65.8 71.1Q73.0 78.4 82.0 83.3M62.4 77.1Q66.7 84.4 73.2 89.7" stroke="#5a5a5a" stroke-width="0.9" stroke-opacity="0.22" fill="none"/>
</g>
<path d="M66.4 16.0 L66.0 16.6 L65.4 17.3 L64.8 18.3 L64.1 19.4 L63.4 20.9 L62.8 22.6 L62.1 24.8 L61.5 27.4 L60.8 30.1 L60.2 32.8 L59.7 35.1 L59.3 36.7 L78.3 34.7 L77.6 33.2 L76.6 31.1 L75.5 28.7 L74.3 26.1 L73.2 23.8 L72.2 22.0 L71.5 20.6 L70.7 19.4 L70.1 18.4 L69.5 17.4 L69.0 16.7 L68.6 16.0Z" fill="#ffffff" opacity="0.22" filter="url(#bl2)"/>
<path d="M67.5 22.3L64.5 8.3M67.5 22.3L72.5 10.3" stroke="#8a8a8a" stroke-width="0.9" stroke-opacity="0.6" fill="none"/>
<circle cx="67.5" cy="22.3" r="2.3" fill="#1a1a1a" filter="url(#bl)"/>
</g></g>
<linearGradient id="g12" x1="0" y1="0" x2="0" y2="1"><stop offset="0" stop-color="#e7e7e7"/><stop offset="1" stop-color="#dddddd"/></linearGradient>
<g clip-path="url(#c12)"><rect x="249" y="587" width="99" height="97" fill="url(#g12)"/>
<g transform="translate(249,587)">
<g filter="url(#gsh)" opacity="0.22">
<path d="M45.7 2.3 L44.9 3.1 L43.9 4.1 L42.7 5.2 L41.6 6.3 L40.2 7.3 L38.9 8.1 L37.3 8.9 L35.2 9.9 L32.7 11.1 L29.9 12.7 L27.0 14.8 L24.3 17.3 L22.0 20.1 L19.8 22.7 L17.6 25.7 L15.7 28.9 L14.0 32.5 L12.7 36.5 L12.2 40.6 L12.4 44.5 L13.1 48.2 L14.1 51.5 L15.2 54.5 L16.5 57.6 L18.3 60.9 L20.4 63.9 L22.2 66.7 L23.9 69.3 L25.1 71.6 L26.2 73.7 L27.6 75.9 L29.0 78.0 L29.9 79.7 L30.4 80.9 L30.5 81.4 L30.8 81.3 L31.6 81.6 L32.1 83.3 L32.2 85.6 L31.8 88.1 L31.3 90.3 L30.8 92.0 L40.6 96.6 L41.5 95.5 L43.0 93.9 L45.0 91.8 L47.2 89.2 L49.4 85.9 L50.8 81.7 L50.6 77.4 L49.6 73.9 L48.2 71.0 L47.0 68.5 L46.1 66.2 L45.2 63.9 L43.8 61.2 L42.1 58.5 L40.6 55.9 L39.5 53.5 L38.8 51.3 L38.5 49.4 L38.1 47.4 L37.7 45.3 L37.5 43.5 L37.4 42.1 L37.4 40.9 L37.3 39.9 L37.1 38.7 L37.1 36.9 L37.4 34.8 L37.9 32.6 L38.5 30.3 L39.3 28.5 L40.1 26.9 L41.1 25.1 L42.6 23.0 L44.3 20.8 L46.1 18.5 L47.7 16.1 L48.9 13.6 L49.8 11.4 L50.4 9.4 L50.8 7.7 L51.0 6.3 L51.1 5.3Z" fill="#000"/>
<path d="M73.6 3.7 L72.8 4.4 L71.8 5.4 L70.8 6.4 L69.8 7.5 L68.5 8.4 L67.1 9.2 L65.2 10.1 L62.7 11.2 L59.5 12.7 L56.1 14.5 L52.6 16.9 L49.4 20.0 L46.7 23.3 L44.4 26.5 L42.5 30.1 L41.2 34.0 L40.3 38.0 L40.0 42.3 L40.5 46.9 L41.7 51.2 L43.0 55.0 L44.3 58.3 L45.3 61.2 L46.3 64.0 L47.7 67.0 L49.2 69.7 L50.2 71.9 L50.5 73.4 L50.4 74.0 L50.4 73.6 L51.1 73.8 L51.6 75.5 L51.6 77.9 L51.2 80.5 L50.5 82.8 L50.0 84.6 L64.0 91.2 L64.9 89.9 L66.4 88.1 L68.4 85.7 L70.7 82.7 L73.0 79.0 L74.4 74.2 L73.9 69.2 L72.4 65.4 L70.8 62.4 L69.6 60.0 L68.9 58.0 L68.3 55.8 L67.3 53.0 L66.0 50.0 L65.0 47.3 L64.4 44.8 L64.1 43.0 L64.0 41.7 L63.9 40.3 L63.9 38.5 L64.0 36.6 L64.1 34.7 L64.3 32.7 L64.6 31.0 L65.3 29.4 L66.7 27.5 L68.8 25.2 L71.1 22.8 L73.4 20.2 L75.5 17.6 L77.0 15.0 L78.0 12.6 L78.7 10.6 L79.0 8.8 L79.1 7.5 L79.2 6.5Z" fill="#000"/>
<path d="M80.6 9.4 L80.2 10.1 L79.8 10.8 L79.2 11.6 L78.6 12.6 L77.9 13.8 L77.1 15.2 L76.2 16.9 L75.0 19.1 L73.6 21.6 L72.1 24.4 L70.7 27.5 L69.7 30.6 L68.9 33.6 L68.3 36.5 L67.9 39.7 L67.7 43.1 L68.0 46.6 L69.2 50.6 L71.6 54.4 L73.8 57.6 L75.5 60.0 L76.8 61.8 L76.9 62.9 L76.0 63.2 L75.6 63.6 L75.6 64.5 L75.8 65.5 L76.0 66.7 L76.2 68.0 L76.6 69.5 L76.8 71.4 L75.8 73.8 L74.4 76.6 L72.8 79.4 L71.4 81.9 L70.3 83.8 L80.1 92.0 L81.6 90.8 L83.9 89.1 L86.7 86.9 L89.6 84.4 L92.5 81.4 L95.4 78.3 L97.6 75.1 L99.1 71.7 L100.1 68.1 L100.5 64.4 L100.2 60.7 L99.0 56.6 L96.4 52.6 L93.8 49.5 L91.7 47.1 L90.2 45.5 L89.5 44.4 L89.8 43.6 L89.8 42.7 L89.5 41.3 L89.2 39.5 L88.9 37.4 L88.6 35.2 L88.3 33.0 L88.1 30.8 L88.0 28.4 L88.0 25.7 L88.1 23.0 L88.3 20.3 L88.5 18.0 L88.4 16.0 L88.3 14.4 L88.1 13.1 L87.8 12.0 L87.6 11.2 L87.4 10.6Z" fill="#000"/>
</g>
<g filter="url(#shr)">
<path d="M47.5 3.3 L46.6 4.0 L45.4 4.9 L44.1 5.9 L42.6 7.0 L41.1 7.9 L39.5 8.7 L37.8 9.4 L35.6 10.3 L32.9 11.4 L30.1 12.8 L27.1 14.8 L24.3 17.3 L22.0 20.0 L19.7 22.7 L17.6 25.7 L15.7 28.9 L14.0 32.5 L12.7 36.5 L12.2 40.6 L12.4 44.5 L13.1 48.2 L14.1 51.5 L15.2 54.5 L16.5 57.6 L18.3 60.9 L20.4 63.9 L22.2 66.7 L23.9 69.3 L25.1 71.6 L26.2 73.7 L27.6 75.9 L29.0 78.0 L29.9 79.7 L30.4 80.9 L30.5 81.4 L30.8 81.3 L31.6 81.6 L32.1 83.3 L32.2 85.6 L31.8 88.1 L31.3 90.3 L30.8 92.0 L40.6 96.6 L41.5 95.5 L43.0 93.9 L45.0 91.8 L47.2 89.2 L49.4 85.9 L50.8 81.7 L50.6 77.4 L49.6 73.9 L48.2 71.0 L47.0 68.5 L46.1 66.2 L45.2 63.9 L43.8 61.2 L42.1 58.5 L40.6 55.9 L39.5 53.5 L38.8 51.3 L38.5 49.4 L38.1 47.4 L37.7 45.3 L37.5 43.5 L37.4 42.1 L37.4 40.9 L37.3 39.9 L37.1 38.7 L37.2 36.9 L37.5 34.9 L38.0 32.6 L38.6 30.3 L39.3 28.5 L40.0 26.8 L41.0 24.9 L42.4 22.7 L44.0 20.4 L45.6 18.0 L47.1 15.5 L48.1 13.0 L48.7 10.7 L49.1 8.7 L49.2 6.9 L49.3 5.4 L49.3 4.3Z" fill="#707070"/>
<path d="M14.9 32.2Q25.1 37.0 36.1 39.0M14.1 47.5Q25.5 47.3 36.6 44.2M16.8 57.1Q28.0 54.9 38.2 49.9M23.5 69.6Q33.8 65.2 42.5 58.2M27.4 75.9Q37.5 72.4 46.3 66.3M31.5 82.1Q41.0 80.8 49.6 76.7" stroke="#5a5a5a" stroke-width="0.9" stroke-opacity="0.22" fill="none"/>
</g>
<path d="M47.6 3.4 L46.8 4.1 L45.8 5.1 L44.6 6.2 L43.3 7.3 L41.8 8.4 L40.2 9.4 L38.3 10.6 L35.9 12.1 L33.2 13.6 L30.6 15.1 L28.4 16.4 L26.8 17.4 L36.8 28.4 L37.9 27.0 L39.4 24.9 L41.2 22.4 L43.2 19.8 L44.9 17.2 L46.4 14.8 L47.4 12.5 L48.1 10.3 L48.6 8.4 L48.9 6.7 L49.0 5.2 L49.2 4.2Z" fill="#ffffff" opacity="0.22" filter="url(#bl2)"/>
<path d="M43.3 12.1L48.1 -1.4M43.3 12.1L53.8 4.5" stroke="#8a8a8a" stroke-width="0.9" stroke-opacity="0.6" fill="none"/>
<circle cx="43.3" cy="12.1" r="2.3" fill="#1a1a1a" filter="url(#bl)"/>
<g filter="url(#shr)">
<path d="M75.4 4.6 L74.6 5.3 L73.4 6.2 L72.2 7.1 L70.9 8.2 L69.3 9.1 L67.7 9.8 L65.7 10.6 L63.0 11.7 L59.8 13.0 L56.2 14.7 L52.7 17.0 L49.4 20.0 L46.6 23.2 L44.3 26.5 L42.5 30.1 L41.2 34.0 L40.3 38.0 L40.0 42.3 L40.5 46.9 L41.7 51.2 L43.0 55.0 L44.3 58.3 L45.3 61.2 L46.3 64.0 L47.7 67.0 L49.2 69.7 L50.2 71.9 L50.5 73.4 L50.4 74.0 L50.4 73.6 L51.1 73.8 L51.6 75.5 L51.6 77.9 L51.2 80.5 L50.5 82.8 L50.0 84.6 L64.0 91.2 L64.9 89.9 L66.4 88.1 L68.4 85.7 L70.7 82.7 L73.0 79.0 L74.4 74.2 L73.9 69.2 L72.4 65.4 L70.8 62.4 L69.6 60.0 L68.9 58.0 L68.3 55.8 L67.3 53.0 L66.0 50.0 L65.0 47.3 L64.4 44.8 L64.1 43.0 L64.0 41.7 L63.9 40.3 L64.0 38.5 L64.1 36.7 L64.2 34.7 L64.4 32.7 L64.6 31.0 L65.3 29.4 L66.6 27.3 L68.5 24.9 L70.8 22.3 L73.0 19.6 L74.9 17.0 L76.2 14.3 L76.9 11.9 L77.3 9.8 L77.4 8.1 L77.4 6.6 L77.4 5.6Z" fill="#707070"/>
<path d="M43.3 29.8Q52.8 34.8 63.3 37.0M41.2 41.5Q51.9 43.5 62.8 42.5M43.5 54.5Q54.5 52.5 64.6 47.7M45.8 61.2Q56.8 58.5 66.8 53.1M50.4 72.1Q61.2 68.5 70.6 62.2M51.7 75.0Q62.6 75.4 73.1 72.8" stroke="#5a5a5a" stroke-width="0.9" stroke-opacity="0.22" fill="none"/>
</g>
<path d="M75.6 4.7 L74.8 5.4 L73.8 6.4 L72.7 7.4 L71.5 8.5 L70.0 9.6 L68.4 10.6 L66.2 11.9 L63.3 13.6 L60.0 15.4 L56.9 17.1 L54.2 18.6 L52.3 19.7 L61.7 31.3 L63.1 29.7 L65.2 27.3 L67.6 24.6 L70.1 21.6 L72.4 18.8 L74.2 16.2 L75.5 13.8 L76.3 11.5 L76.8 9.6 L77.0 7.9 L77.1 6.5 L77.2 5.5Z" fill="#ffffff" opacity="0.22" filter="url(#bl2)"/>
<path d="M71.3 13.4L76.1 -0.1M71.3 13.4L81.8 5.8" stroke="#8a8a8a" stroke-width="0.9" stroke-opacity="0.6" fill="none"/>
<circle cx="71.3" cy="13.4" r="2.3" fill="#1a1a1a" filter="url(#bl)"/>
<g filter="url(#shr)">
<path d="M82.8 9.8 L82.3 10.4 L81.6 11.1 L80.8 11.9 L79.9 12.9 L79.0 14.1 L78.0 15.4 L76.9 17.1 L75.5 19.2 L73.9 21.7 L72.3 24.5 L70.8 27.5 L69.7 30.6 L68.8 33.6 L68.2 36.5 L67.8 39.7 L67.7 43.1 L68.0 46.6 L69.2 50.6 L71.6 54.4 L73.8 57.6 L75.5 60.0 L76.8 61.8 L76.9 62.9 L76.0 63.2 L75.6 63.6 L75.6 64.5 L75.8 65.5 L76.0 66.7 L76.2 68.0 L76.6 69.5 L76.8 71.4 L75.8 73.8 L74.4 76.6 L72.8 79.4 L71.4 81.9 L70.3 83.8 L80.1 92.0 L81.6 90.8 L83.9 89.1 L86.7 86.9 L89.6 84.4 L92.5 81.4 L95.4 78.3 L97.6 75.1 L99.1 71.7 L100.1 68.1 L100.5 64.4 L100.2 60.7 L99.0 56.6 L96.4 52.6 L93.8 49.5 L91.7 47.1 L90.2 45.5 L89.5 44.4 L89.8 43.6 L89.8 42.7 L89.5 41.3 L89.2 39.5 L88.9 37.5 L88.7 35.2 L88.3 33.0 L88.0 30.8 L87.8 28.3 L87.7 25.6 L87.7 22.8 L87.7 20.1 L87.6 17.8 L87.4 15.8 L86.9 14.2 L86.4 12.8 L85.9 11.7 L85.5 10.9 L85.2 10.2Z" fill="#707070"/>
<path d="M68.7 42.6Q78.7 43.7 88.5 41.8M70.9 53.7Q81.1 50.7 90.2 45.1M76.6 62.6Q86.2 56.8 94.0 48.7M76.8 64.2Q88.2 63.6 99.0 60.2M76.6 68.8Q86.5 73.0 97.2 74.4M75.2 73.7Q81.8 80.3 90.2 84.4" stroke="#5a5a5a" stroke-width="0.9" stroke-opacity="0.22" fill="none"/>
</g>
<path d="M83.0 9.8 L82.6 10.4 L82.1 11.1 L81.4 12.0 L80.6 13.0 L79.8 14.2 L78.9 15.7 L77.9 17.7 L76.5 20.3 L75.2 23.2 L73.8 25.9 L72.7 28.3 L71.9 30.0 L86.1 33.6 L86.2 31.8 L86.3 29.1 L86.5 26.0 L86.6 22.9 L86.7 19.9 L86.7 17.5 L86.5 15.6 L86.2 14.0 L85.9 12.7 L85.5 11.7 L85.2 10.8 L85.0 10.2Z" fill="#ffffff" opacity="0.22" filter="url(#bl2)"/>
<path d="M82.8 16.6L82.4 2.3M82.8 16.6L89.9 5.7" stroke="#8a8a8a" stroke-width="0.9" stroke-opacity="0.6" fill="none"/>
<circle cx="82.8" cy="16.6" r="2.3" fill="#1a1a1a" filter="url(#bl)"/>
</g></g>
<linearGradient id="g13" x1="0" y1="0" x2="0" y2="1"><stop offset="0" stop-color="#e7e7e7"/><stop offset="1" stop-color="#dddddd"/></linearGradient>
<g clip-path="url(#c13)"><rect x="348" y="587" width="103" height="97" fill="url(#g13)"/>
<g transform="translate(348,587)">
<g filter="url(#gsh)" opacity="0.22">
<path d="M18.6 18.0 L19.3 18.7 L20.0 19.4 L20.4 19.9 L20.2 20.1 L19.3 20.1 L18.2 19.5 L17.8 19.4 L16.9 20.7 L15.4 22.8 L13.6 25.8 L12.0 29.9 L11.7 34.8 L12.9 39.4 L14.4 43.3 L16.1 46.8 L17.7 50.2 L19.2 53.2 L20.6 56.0 L22.6 58.7 L24.4 61.5 L26.1 63.6 L27.4 65.3 L27.7 66.5 L27.6 67.2 L27.9 68.0 L28.3 68.7 L28.8 68.7 L29.9 68.4 L31.5 68.5 L32.0 68.6 L31.5 69.4 L29.8 70.7 L27.3 72.2 L24.4 73.6 L21.4 74.8 L18.7 75.9 L16.1 76.9 L13.4 77.6 L10.5 78.2 L7.8 78.8 L5.4 79.2 L3.7 79.5 L4.3 86.3 L6.0 86.3 L8.4 86.3 L11.3 86.4 L14.5 86.4 L17.8 86.2 L21.1 85.9 L24.3 85.4 L27.8 84.8 L31.5 84.1 L35.2 83.2 L38.7 81.9 L42.2 80.0 L45.2 77.1 L48.3 73.9 L50.0 70.1 L50.3 66.5 L50.1 63.3 L49.4 60.2 L47.7 56.9 L45.6 54.0 L44.1 51.3 L42.6 49.0 L41.3 47.0 L40.4 44.8 L38.9 42.3 L37.2 39.5 L35.6 36.9 L34.3 34.4 L33.6 32.5 L33.3 31.6 L32.8 31.3 L32.1 30.1 L31.8 28.0 L31.9 25.4 L32.3 22.5 L32.2 18.9 L30.5 15.5 L28.2 13.5 L26.4 12.2 L24.9 11.5 L24.1 11.3 L23.8 11.2Z" fill="#000"/>
<path d="M50.4 3.0 L50.2 4.0 L50.0 5.3 L49.6 6.7 L49.1 8.1 L48.5 9.3 L47.8 10.3 L46.8 11.4 L45.3 13.0 L43.3 15.0 L40.9 17.5 L38.4 20.7 L36.4 24.5 L35.3 28.3 L34.7 31.9 L34.4 35.9 L34.7 40.0 L35.5 44.3 L37.4 48.9 L40.4 53.1 L43.2 57.0 L45.5 60.0 L47.5 62.4 L48.7 63.9 L48.4 65.2 L48.6 66.5 L49.1 67.9 L49.5 68.8 L50.0 69.4 L50.8 69.7 L52.1 70.0 L53.1 71.1 L52.6 72.6 L51.5 74.5 L50.0 76.6 L48.2 78.7 L46.5 80.6 L44.9 82.3 L43.0 83.9 L40.8 85.4 L38.7 86.8 L36.8 88.0 L35.4 88.9 L38.8 96.7 L40.4 96.3 L42.5 95.8 L45.2 95.1 L48.2 94.2 L51.3 93.1 L54.3 91.8 L57.1 90.4 L60.0 88.8 L63.0 87.0 L66.1 84.8 L69.1 81.9 L72.5 78.6 L75.1 74.4 L76.4 70.0 L76.6 65.7 L76.2 61.7 L75.2 58.0 L73.6 54.2 L70.7 50.3 L68.2 46.7 L65.9 43.8 L64.0 41.6 L63.0 39.9 L63.4 38.7 L63.6 37.6 L63.4 36.1 L63.1 34.3 L62.7 32.3 L62.3 30.2 L61.8 28.5 L61.0 27.0 L60.3 25.0 L60.1 22.4 L60.2 19.6 L60.7 16.6 L61.0 13.5 L60.9 10.6 L60.5 8.1 L59.8 6.1 L59.2 4.4 L58.7 3.3 L58.4 2.4Z" fill="#000"/>
<path d="M74.3 10.1 L74.7 11.1 L75.2 12.1 L75.6 13.1 L75.7 14.1 L75.0 15.0 L74.1 15.6 L73.3 16.5 L72.4 18.1 L71.2 20.2 L70.0 22.5 L68.8 25.0 L67.9 27.2 L67.3 29.1 L66.7 31.3 L65.7 34.2 L64.7 37.7 L63.9 42.1 L64.3 47.4 L66.3 52.3 L68.8 56.1 L70.6 59.2 L72.0 61.7 L72.4 63.6 L72.1 65.0 L72.3 66.8 L72.8 68.8 L73.0 70.4 L73.2 71.3 L73.4 71.4 L74.6 70.5 L76.8 70.5 L76.9 71.6 L76.2 73.5 L75.1 75.7 L73.9 77.8 L72.9 79.4 L83.5 90.4 L84.8 89.8 L87.0 88.9 L89.8 87.5 L93.0 85.4 L96.3 82.3 L100.4 78.1 L102.2 72.8 L102.3 68.1 L101.5 64.1 L100.4 60.6 L99.3 57.6 L97.7 54.4 L95.1 51.0 L92.5 48.1 L90.5 45.7 L89.1 44.0 L89.0 42.9 L89.5 42.8 L89.6 42.9 L89.4 42.0 L89.6 40.1 L90.1 37.6 L90.9 34.5 L91.3 31.2 L91.1 28.2 L90.7 25.4 L90.2 22.5 L89.6 19.5 L88.9 16.6 L87.9 13.6 L86.2 10.9 L84.1 9.0 L82.5 7.6 L81.1 6.7 L80.1 6.2 L79.5 5.9Z" fill="#000"/>
</g>
<g filter="url(#shr)">
<path d="M20.3 15.8 L20.7 16.6 L21.2 17.5 L21.5 18.4 L21.4 19.2 L20.5 19.6 L19.3 19.5 L18.5 19.6 L17.4 20.8 L15.8 22.9 L13.8 25.9 L12.1 29.9 L11.7 34.8 L12.8 39.4 L14.3 43.3 L16.0 46.9 L17.7 50.2 L19.2 53.2 L20.6 56.0 L22.6 58.7 L24.4 61.5 L26.1 63.6 L27.4 65.3 L27.7 66.5 L27.6 67.2 L27.9 68.0 L28.3 68.7 L28.8 68.7 L29.9 68.4 L31.5 68.5 L32.0 68.6 L31.5 69.4 L29.8 70.7 L27.3 72.2 L24.4 73.6 L21.4 74.8 L18.7 75.9 L16.1 76.9 L13.4 77.6 L10.5 78.2 L7.8 78.8 L5.4 79.2 L3.7 79.5 L4.3 86.3 L6.0 86.3 L8.4 86.3 L11.3 86.4 L14.5 86.4 L17.8 86.2 L21.1 85.9 L24.3 85.4 L27.8 84.8 L31.5 84.1 L35.2 83.2 L38.7 81.9 L42.2 80.0 L45.2 77.1 L48.3 73.9 L50.0 70.1 L50.3 66.5 L50.1 63.3 L49.4 60.2 L47.7 56.9 L45.6 54.0 L44.1 51.3 L42.6 49.0 L41.3 47.0 L40.4 44.8 L38.9 42.3 L37.2 39.5 L35.6 36.8 L34.4 34.4 L33.6 32.5 L33.3 31.6 L32.7 31.3 L31.9 30.0 L31.4 27.9 L31.4 25.3 L31.5 22.3 L31.1 18.9 L29.3 16.0 L27.0 14.4 L25.2 13.7 L23.7 13.4 L22.7 13.4 L22.1 13.4Z" fill="#666666"/>
<path d="M20.2 56.0Q31.2 51.7 40.8 44.8M25.6 64.1Q35.9 58.7 44.5 50.8M28.9 68.2Q39.4 67.1 49.1 63.1M30.9 69.1Q36.1 75.5 43.3 79.5M27.0 71.9Q28.0 78.7 31.8 84.4M18.5 75.7Q18.4 81.3 21.3 86.1" stroke="#5a5a5a" stroke-width="0.9" stroke-opacity="0.22" fill="none"/>
</g>
<path d="M20.5 15.5 L20.9 16.2 L21.5 17.1 L21.9 17.9 L22.0 18.7 L21.3 19.3 L20.5 19.5 L19.7 20.5 L18.7 22.6 L17.4 25.0 L16.1 27.5 L15.0 29.7 L14.1 31.3 L30.9 35.1 L30.8 33.5 L30.7 31.0 L30.8 28.0 L30.7 24.8 L30.5 21.8 L29.9 18.9 L28.4 16.4 L26.5 14.9 L24.9 14.1 L23.5 13.8 L22.5 13.7 L21.9 13.7Z" fill="#ffffff" opacity="0.22" filter="url(#bl2)"/>
<path d="M25.2 19.2L13.7 10.6M25.2 19.2L21.1 6.9" stroke="#8a8a8a" stroke-width="0.9" stroke-opacity="0.6" fill="none"/>
<circle cx="25.2" cy="19.2" r="2.3" fill="#1a1a1a" filter="url(#bl)"/>
<g filter="url(#shr)">
<path d="M53.0 2.8 L52.6 3.8 L52.1 5.1 L51.5 6.6 L50.7 8.1 L49.8 9.4 L48.8 10.6 L47.6 11.7 L45.8 13.2 L43.6 15.1 L41.1 17.5 L38.5 20.7 L36.4 24.5 L35.2 28.3 L34.6 31.9 L34.4 35.9 L34.6 40.0 L35.5 44.3 L37.4 48.9 L40.4 53.1 L43.2 57.0 L45.5 60.0 L47.5 62.4 L48.7 63.9 L48.4 65.2 L48.6 66.5 L49.1 67.9 L49.5 68.8 L50.0 69.4 L50.8 69.7 L52.1 70.0 L53.1 71.1 L52.6 72.6 L51.5 74.5 L50.0 76.6 L48.2 78.7 L46.5 80.6 L44.9 82.3 L43.0 83.9 L40.8 85.4 L38.7 86.8 L36.8 88.0 L35.4 88.9 L38.8 96.7 L40.4 96.3 L42.5 95.8 L45.2 95.1 L48.2 94.2 L51.3 93.1 L54.3 91.8 L57.1 90.4 L60.0 88.8 L63.0 87.0 L66.1 84.8 L69.1 81.9 L72.5 78.6 L75.1 74.4 L76.4 70.0 L76.6 65.7 L76.2 61.7 L75.2 58.0 L73.6 54.2 L70.7 50.3 L68.2 46.7 L65.9 43.8 L64.0 41.6 L63.0 39.9 L63.4 38.7 L63.6 37.6 L63.4 36.1 L63.2 34.3 L62.8 32.3 L62.4 30.2 L61.8 28.5 L60.9 27.0 L60.1 24.9 L59.7 22.3 L59.7 19.3 L59.9 16.3 L60.0 13.2 L59.6 10.5 L58.9 8.1 L58.0 6.2 L57.1 4.6 L56.3 3.5 L55.8 2.6Z" fill="#666666"/>
<path d="M37.4 47.6Q50.8 45.2 63.4 40.0M44.9 60.5Q56.6 53.1 66.5 43.4M49.0 65.9Q61.7 61.0 73.0 53.5M51.3 70.3Q63.3 71.2 75.0 69.0M51.8 72.6Q58.4 79.8 66.9 84.7M47.8 78.4Q51.4 85.5 57.4 90.7" stroke="#5a5a5a" stroke-width="0.9" stroke-opacity="0.22" fill="none"/>
</g>
<path d="M53.3 2.8 L53.0 3.8 L52.6 5.1 L52.2 6.5 L51.5 8.1 L50.8 9.5 L49.9 10.9 L48.6 12.6 L46.9 14.8 L45.0 17.2 L43.0 19.5 L41.3 21.5 L40.1 23.0 L58.1 30.0 L58.2 28.2 L58.3 25.6 L58.5 22.4 L58.8 19.0 L58.9 15.8 L58.9 12.9 L58.7 10.4 L58.1 8.1 L57.3 6.2 L56.6 4.7 L55.9 3.5 L55.5 2.6Z" fill="#ffffff" opacity="0.22" filter="url(#bl2)"/>
<path d="M54.4 11.9L51.4 -2.1M54.4 11.9L59.4 -0.1" stroke="#8a8a8a" stroke-width="0.9" stroke-opacity="0.6" fill="none"/>
<circle cx="54.4" cy="11.9" r="2.3" fill="#1a1a1a" filter="url(#bl)"/>
<g filter="url(#shr)">
<path d="M76.0 8.8 L76.2 9.7 L76.6 10.9 L76.9 12.1 L76.8 13.4 L76.1 14.6 L75.2 15.4 L74.2 16.5 L73.0 18.2 L71.7 20.2 L70.3 22.5 L68.9 25.0 L67.9 27.2 L67.3 29.1 L66.6 31.3 L65.7 34.2 L64.6 37.7 L63.9 42.1 L64.3 47.4 L66.3 52.3 L68.8 56.1 L70.6 59.2 L72.0 61.7 L72.4 63.6 L72.1 65.0 L72.3 66.8 L72.8 68.8 L73.0 70.4 L73.2 71.3 L73.4 71.4 L74.6 70.5 L76.8 70.5 L76.9 71.6 L76.2 73.5 L75.1 75.7 L73.9 77.8 L72.9 79.4 L83.5 90.4 L84.8 89.8 L87.0 88.9 L89.8 87.5 L93.0 85.4 L96.3 82.3 L100.4 78.1 L102.2 72.8 L102.3 68.1 L101.5 64.1 L100.4 60.6 L99.3 57.6 L97.7 54.4 L95.1 51.0 L92.5 48.1 L90.5 45.7 L89.1 44.0 L89.0 42.9 L89.5 42.8 L89.6 42.9 L89.5 42.0 L89.7 40.1 L90.2 37.6 L90.9 34.5 L91.3 31.2 L91.0 28.2 L90.5 25.4 L89.8 22.4 L89.0 19.5 L88.0 16.6 L86.8 13.8 L85.0 11.3 L82.9 9.7 L81.2 8.6 L79.7 8.0 L78.6 7.6 L77.8 7.2Z" fill="#666666"/>
<path d="M65.8 37.3Q76.7 41.3 88.3 42.4M66.2 51.2Q78.1 49.0 89.1 44.1M71.5 62.3Q83.1 56.1 93.0 47.4M72.7 65.5Q85.5 61.1 97.1 53.9M74.3 70.7Q87.7 68.7 100.3 63.8M75.0 72.5Q87.3 75.8 100.0 76.1" stroke="#5a5a5a" stroke-width="0.9" stroke-opacity="0.22" fill="none"/>
</g>
<path d="M76.2 8.6 L76.5 9.5 L76.9 10.6 L77.3 11.8 L77.5 13.0 L77.0 14.3 L76.3 15.2 L75.5 16.6 L74.5 18.8 L73.3 21.4 L72.0 24.0 L70.9 26.3 L70.2 28.0 L89.0 30.4 L88.7 28.8 L88.3 26.3 L87.8 23.2 L87.3 20.0 L86.6 16.9 L85.7 14.0 L84.2 11.7 L82.3 10.1 L80.8 9.0 L79.4 8.3 L78.4 7.8 L77.6 7.4Z" fill="#ffffff" opacity="0.22" filter="url(#bl2)"/>
<path d="M82.2 14.6L71.1 5.6M82.2 14.6L78.6 2.1" stroke="#8a8a8a" stroke-width="0.9" stroke-opacity="0.6" fill="none"/>
<circle cx="82.2" cy="14.6" r="2.3" fill="#1a1a1a" filter="url(#bl)"/>
</g></g>
<linearGradient id="g14" x1="0" y1="0" x2="0" y2="1"><stop offset="0" stop-color="#ebebeb"/><stop offset="1" stop-color="#e1e1e1"/></linearGradient>
<g clip-path="url(#c14)"><rect x="451" y="587" width="101" height="97" fill="url(#g14)"/>
<g transform="translate(451,587)">
<g filter="url(#gsh)" opacity="0.22">
<path d="M14.4 3.4 L14.2 4.3 L14.0 5.4 L13.8 7.0 L13.7 8.8 L13.7 10.9 L14.0 13.3 L14.6 16.0 L15.3 18.7 L15.8 21.4 L16.0 24.0 L15.8 26.1 L15.3 27.8 L14.9 29.6 L14.5 31.6 L14.0 33.5 L13.6 35.4 L13.3 37.1 L13.4 38.5 L13.8 40.1 L12.7 42.3 L10.9 45.2 L8.7 48.8 L5.9 52.8 L3.6 58.1 L3.6 63.8 L5.2 68.4 L7.4 72.0 L9.6 75.0 L11.5 77.7 L13.6 80.1 L16.2 82.4 L19.1 84.3 L22.1 85.9 L25.1 87.3 L28.0 88.5 L30.8 89.6 L33.7 90.8 L36.8 91.9 L39.9 92.9 L42.6 93.7 L44.9 94.4 L46.4 94.9 L49.8 87.1 L48.2 86.3 L46.1 85.2 L43.7 83.9 L41.2 82.5 L38.8 81.0 L36.8 79.4 L35.0 77.6 L33.2 75.7 L31.5 73.6 L30.1 71.7 L29.0 69.8 L28.0 68.1 L26.8 66.3 L25.5 64.5 L24.8 62.8 L24.8 61.5 L25.1 61.0 L25.0 61.5 L24.4 61.5 L25.0 60.0 L27.2 57.8 L29.8 55.0 L32.8 51.4 L36.0 47.3 L37.7 43.0 L38.5 39.0 L38.7 35.1 L38.4 31.4 L37.7 27.8 L36.7 24.2 L35.0 20.5 L32.9 17.3 L30.8 14.6 L28.9 12.3 L27.5 10.4 L26.4 8.9 L25.6 7.5 L24.7 6.2 L23.9 4.9 L23.2 3.7 L22.5 2.7 L22.0 1.8Z" fill="#000"/>
<path d="M58.0 3.5 L57.3 4.3 L56.3 5.3 L55.0 6.6 L53.6 8.1 L52.0 10.0 L50.4 12.0 L48.9 14.3 L47.4 16.8 L46.0 19.3 L44.6 21.8 L43.3 24.3 L42.1 26.6 L40.8 29.1 L39.5 31.7 L38.2 34.4 L36.9 37.0 L35.8 39.5 L34.9 41.8 L34.1 43.9 L33.2 46.2 L32.0 48.6 L30.5 51.1 L28.9 53.9 L27.4 56.9 L26.4 59.7 L25.7 62.4 L25.0 65.3 L24.5 68.5 L24.5 72.0 L25.4 75.7 L27.1 79.1 L29.3 81.9 L31.5 84.1 L33.4 86.1 L35.2 87.8 L36.9 89.4 L38.7 91.1 L40.7 92.7 L42.5 94.0 L44.2 95.2 L45.6 96.1 L46.5 96.7 L52.3 90.5 L51.5 89.5 L50.4 88.3 L49.3 86.8 L48.1 85.3 L47.1 83.7 L46.3 82.2 L45.5 80.4 L44.6 78.4 L43.9 76.5 L43.8 74.6 L44.2 73.2 L44.8 72.5 L45.3 72.0 L45.7 71.3 L46.1 70.2 L46.6 68.8 L47.3 67.1 L48.0 65.3 L48.6 63.7 L49.4 61.9 L50.7 59.8 L52.4 57.5 L54.3 54.8 L56.1 51.8 L57.6 48.8 L58.7 45.7 L59.7 42.5 L60.6 39.4 L61.3 36.3 L61.9 33.2 L62.4 30.0 L62.7 26.9 L62.9 23.9 L62.9 21.1 L62.8 18.7 L62.8 16.6 L62.8 14.6 L63.0 12.7 L63.2 11.0 L63.6 9.3 L63.9 7.9 L64.2 6.9Z" fill="#000"/>
<path d="M78.5 8.9 L78.0 9.6 L77.1 10.6 L75.9 11.9 L74.6 13.5 L73.2 15.4 L71.9 17.8 L70.9 20.6 L70.2 23.2 L69.6 25.5 L68.9 27.3 L68.3 28.7 L67.8 29.7 L67.2 31.1 L66.2 33.1 L65.0 35.2 L63.7 37.5 L62.2 39.9 L60.9 42.1 L59.7 43.9 L58.0 45.9 L55.9 48.5 L53.7 51.5 L51.2 55.1 L48.5 59.6 L48.1 65.0 L49.7 69.4 L52.6 72.7 L55.2 75.3 L57.9 77.4 L60.8 79.2 L64.1 80.5 L67.5 81.2 L70.9 81.7 L74.2 81.8 L77.3 81.9 L80.3 81.8 L83.3 81.5 L86.4 81.0 L89.2 80.4 L91.8 79.7 L93.9 79.1 L95.3 78.8 L94.5 72.0 L92.8 72.1 L90.7 72.2 L88.2 72.2 L85.6 72.2 L83.1 72.0 L80.9 71.6 L78.6 71.0 L76.1 70.2 L73.6 69.3 L71.5 68.3 L69.9 67.3 L69.2 66.4 L68.8 65.5 L68.6 64.6 L69.0 63.8 L70.2 63.4 L71.2 63.9 L71.1 65.2 L70.2 65.4 L70.8 64.4 L72.5 62.6 L74.7 60.3 L77.2 57.4 L79.5 54.1 L81.3 51.2 L82.9 48.3 L84.4 45.3 L85.8 42.1 L87.1 38.9 L88.2 35.3 L88.7 31.5 L88.4 27.9 L87.7 25.0 L86.9 22.8 L86.1 21.1 L85.5 20.0 L85.1 18.8 L84.8 17.3 L84.8 15.7 L84.9 14.2 L85.1 12.9 L85.3 11.9Z" fill="#000"/>
</g>
<g filter="url(#shr)">
<path d="M16.9 2.9 L16.6 3.8 L16.1 5.0 L15.6 6.6 L15.2 8.4 L14.9 10.6 L14.9 13.0 L15.3 15.7 L15.8 18.5 L16.2 21.3 L16.2 23.9 L15.9 26.1 L15.3 27.8 L14.8 29.6 L14.4 31.6 L14.0 33.5 L13.6 35.4 L13.3 37.1 L13.4 38.5 L13.8 40.1 L12.7 42.3 L10.9 45.2 L8.7 48.8 L5.9 52.8 L3.6 58.1 L3.6 63.8 L5.2 68.4 L7.4 72.0 L9.6 75.0 L11.5 77.7 L13.6 80.1 L16.2 82.4 L19.1 84.3 L22.1 85.9 L25.1 87.3 L28.0 88.5 L30.8 89.6 L33.7 90.8 L36.8 91.9 L39.9 92.9 L42.6 93.7 L44.9 94.4 L46.4 94.9 L49.8 87.1 L48.2 86.3 L46.1 85.2 L43.7 83.9 L41.2 82.5 L38.8 81.0 L36.8 79.4 L35.0 77.6 L33.2 75.7 L31.5 73.6 L30.1 71.7 L29.0 69.8 L28.0 68.1 L26.8 66.3 L25.5 64.5 L24.8 62.8 L24.8 61.5 L25.1 61.0 L25.0 61.5 L24.4 61.5 L25.0 60.0 L27.2 57.8 L29.8 55.0 L32.8 51.4 L36.0 47.3 L37.8 43.0 L38.5 39.0 L38.8 35.1 L38.5 31.4 L37.8 27.8 L36.7 24.2 L34.9 20.6 L32.7 17.4 L30.5 14.8 L28.4 12.5 L26.8 10.7 L25.5 9.2 L24.4 7.9 L23.2 6.5 L22.1 5.3 L21.1 4.1 L20.2 3.1 L19.5 2.3Z" fill="#868686"/>
<path d="M12.9 40.6Q22.6 47.1 33.7 50.9M10.4 44.8Q18.1 52.7 27.6 58.3M4.9 56.8Q13.8 61.2 23.7 62.8M8.9 75.0Q18.3 71.0 26.2 64.5M18.5 84.5Q25.7 79.0 30.7 71.5M27.7 88.7Q32.7 83.9 35.3 77.4" stroke="#5a5a5a" stroke-width="0.9" stroke-opacity="0.22" fill="none"/>
</g>
<path d="M17.1 2.8 L16.9 3.7 L16.6 4.9 L16.3 6.5 L16.0 8.2 L15.8 10.3 L15.9 12.5 L16.2 15.2 L16.7 18.2 L17.2 21.5 L17.7 24.6 L18.1 27.2 L18.4 29.0 L33.6 23.0 L32.5 21.4 L31.0 19.2 L29.3 16.7 L27.5 14.0 L25.8 11.6 L24.5 9.7 L23.4 8.1 L22.4 6.7 L21.4 5.4 L20.6 4.2 L19.8 3.2 L19.3 2.4Z" fill="#ffffff" opacity="0.22" filter="url(#bl2)"/>
<path d="M20.2 11.1L14.1 -1.8M20.2 11.1L22.3 -1.7" stroke="#8a8a8a" stroke-width="0.9" stroke-opacity="0.6" fill="none"/>
<circle cx="20.2" cy="11.1" r="2.3" fill="#1a1a1a" filter="url(#bl)"/>
<g filter="url(#shr)">
<path d="M60.0 4.6 L59.2 5.3 L58.0 6.2 L56.5 7.4 L54.9 8.8 L53.1 10.4 L51.4 12.4 L49.7 14.6 L48.0 17.0 L46.4 19.4 L44.8 21.9 L43.4 24.3 L42.1 26.6 L40.8 29.1 L39.4 31.7 L38.1 34.3 L36.9 37.0 L35.8 39.5 L34.9 41.8 L34.1 43.9 L33.2 46.2 L32.0 48.6 L30.5 51.1 L28.9 53.9 L27.4 56.9 L26.4 59.7 L25.7 62.4 L25.0 65.3 L24.5 68.5 L24.5 72.0 L25.4 75.7 L27.1 79.1 L29.3 81.9 L31.5 84.1 L33.4 86.1 L35.2 87.8 L36.9 89.4 L38.7 91.1 L40.7 92.7 L42.5 94.0 L44.2 95.2 L45.6 96.1 L46.5 96.7 L52.3 90.5 L51.5 89.5 L50.4 88.3 L49.3 86.8 L48.1 85.3 L47.1 83.7 L46.3 82.2 L45.5 80.4 L44.6 78.4 L43.9 76.5 L43.8 74.6 L44.2 73.2 L44.8 72.5 L45.3 72.0 L45.7 71.3 L46.1 70.2 L46.6 68.8 L47.3 67.1 L48.0 65.3 L48.6 63.7 L49.4 61.9 L50.7 59.8 L52.4 57.5 L54.3 54.8 L56.1 51.8 L57.6 48.8 L58.8 45.7 L59.8 42.5 L60.6 39.4 L61.3 36.3 L61.9 33.2 L62.3 30.0 L62.5 26.8 L62.5 23.8 L62.3 21.0 L62.1 18.4 L61.8 16.2 L61.7 14.2 L61.7 12.1 L61.8 10.2 L61.9 8.4 L62.1 6.9 L62.2 5.8Z" fill="#868686"/>
<path d="M37.2 37.2Q47.3 42.7 58.5 45.4M33.8 44.1Q43.5 50.7 54.7 54.6M30.3 50.7Q39.2 57.8 49.6 62.3M26.4 62.3Q35.6 67.0 45.9 68.9M26.1 74.8Q35.2 75.6 44.1 73.4M33.0 86.2Q39.8 83.5 45.0 78.3" stroke="#5a5a5a" stroke-width="0.9" stroke-opacity="0.22" fill="none"/>
</g>
<path d="M60.2 4.7 L59.5 5.5 L58.4 6.4 L57.0 7.7 L55.5 9.1 L54.0 10.8 L52.4 12.8 L50.8 15.1 L49.2 17.9 L47.5 20.8 L46.0 23.6 L44.7 26.0 L43.9 27.6 L60.1 32.2 L60.3 30.3 L60.4 27.6 L60.5 24.5 L60.6 21.3 L60.7 18.3 L60.8 15.8 L60.8 13.8 L61.0 11.8 L61.2 9.9 L61.5 8.2 L61.8 6.8 L62.0 5.7Z" fill="#ffffff" opacity="0.22" filter="url(#bl2)"/>
<path d="M56.6 14.3L60.1 0.4M56.6 14.3L66.4 5.8" stroke="#8a8a8a" stroke-width="0.9" stroke-opacity="0.6" fill="none"/>
<circle cx="56.6" cy="14.3" r="2.3" fill="#1a1a1a" filter="url(#bl)"/>
<g filter="url(#shr)">
<path d="M80.7 9.9 L80.0 10.6 L78.9 11.4 L77.5 12.6 L76.0 14.0 L74.4 15.7 L72.9 18.0 L71.7 20.6 L70.8 23.2 L70.0 25.5 L69.2 27.4 L68.4 28.7 L67.8 29.7 L67.1 31.1 L66.1 33.0 L65.0 35.2 L63.6 37.5 L62.2 39.9 L60.9 42.1 L59.7 43.9 L58.0 45.9 L55.9 48.5 L53.7 51.5 L51.2 55.1 L48.5 59.6 L48.1 65.0 L49.7 69.4 L52.6 72.7 L55.2 75.3 L57.9 77.4 L60.8 79.2 L64.1 80.5 L67.5 81.2 L70.9 81.7 L74.2 81.8 L77.3 81.9 L80.3 81.8 L83.3 81.5 L86.4 81.0 L89.2 80.4 L91.8 79.7 L93.9 79.1 L95.3 78.8 L94.5 72.0 L92.8 72.1 L90.7 72.2 L88.2 72.2 L85.6 72.2 L83.1 72.0 L80.9 71.6 L78.6 71.0 L76.1 70.2 L73.6 69.3 L71.5 68.3 L69.9 67.3 L69.2 66.4 L68.8 65.5 L68.6 64.6 L69.0 63.8 L70.2 63.4 L71.2 63.9 L71.1 65.2 L70.2 65.4 L70.8 64.4 L72.5 62.6 L74.7 60.3 L77.2 57.4 L79.5 54.1 L81.3 51.2 L82.9 48.3 L84.5 45.3 L85.9 42.2 L87.2 38.9 L88.2 35.3 L88.6 31.4 L88.2 27.9 L87.3 25.0 L86.2 22.8 L85.3 21.1 L84.5 19.8 L83.9 18.4 L83.4 16.8 L83.2 15.0 L83.1 13.4 L83.1 12.0 L83.1 10.9Z" fill="#868686"/>
<path d="M60.2 42.1Q69.4 49.4 80.2 54.1M55.5 48.0Q63.2 56.7 72.9 63.2M49.8 58.4Q59.2 63.8 69.8 66.4M54.4 75.0Q62.8 71.2 69.5 64.9M67.0 81.5Q70.9 75.3 71.9 68.0M77.1 82.2Q79.4 76.6 78.8 70.7" stroke="#5a5a5a" stroke-width="0.9" stroke-opacity="0.22" fill="none"/>
</g>
<path d="M81.0 10.0 L80.3 10.7 L79.3 11.6 L78.1 12.8 L76.7 14.3 L75.3 16.0 L74.1 18.1 L73.0 20.5 L72.0 23.2 L71.1 26.0 L70.4 28.6 L69.7 30.8 L69.2 32.2 L86.8 32.8 L86.4 31.2 L85.8 29.0 L85.2 26.5 L84.5 23.9 L83.8 21.5 L83.3 19.7 L82.9 18.2 L82.7 16.5 L82.6 14.8 L82.7 13.2 L82.8 11.8 L82.8 10.8Z" fill="#ffffff" opacity="0.22" filter="url(#bl2)"/>
<path d="M78.7 18.9L80.8 4.7M78.7 18.9L87.6 9.4" stroke="#8a8a8a" stroke-width="0.9" stroke-opacity="0.6" fill="none"/>
<circle cx="78.7" cy="18.9" r="2.3" fill="#1a1a1a" filter="url(#bl)"/>
</g></g>
<linearGradient id="g15" x1="0" y1="0" x2="0" y2="1"><stop offset="0" stop-color="#ededed"/><stop offset="1" stop-color="#e3e3e3"/></linearGradient>
<g clip-path="url(#c15)"><rect x="552" y="587" width="108" height="97" fill="url(#g15)"/>
<g transform="translate(552,587)">
<g filter="url(#gsh)" opacity="0.22">
<path d="M45.7 3.9 L45.9 5.1 L46.0 6.5 L45.8 7.7 L45.4 8.7 L44.8 9.4 L44.5 9.7 L44.0 10.7 L42.3 12.4 L40.0 14.6 L37.3 17.4 L34.2 20.8 L31.4 25.1 L29.9 30.0 L29.5 34.6 L29.6 38.7 L29.7 42.5 L29.8 45.7 L29.7 48.6 L29.4 51.7 L29.1 54.9 L28.7 57.6 L28.4 59.9 L28.3 61.7 L28.2 63.5 L28.1 65.6 L28.2 67.7 L28.7 69.6 L28.9 71.3 L28.5 72.8 L27.6 74.4 L25.5 76.4 L21.9 78.7 L17.7 81.0 L13.3 83.2 L9.5 85.0 L6.8 86.4 L9.8 94.4 L12.6 93.8 L16.7 92.9 L21.6 91.8 L26.8 90.5 L31.9 88.9 L36.4 87.0 L40.2 84.5 L43.4 81.8 L46.4 79.0 L49.0 76.1 L50.9 73.2 L52.4 70.1 L53.6 66.4 L54.2 62.4 L54.3 58.7 L54.1 55.3 L53.8 52.1 L53.7 48.8 L53.5 44.9 L53.2 41.0 L52.9 37.5 L52.6 34.5 L52.4 32.1 L52.0 30.5 L51.5 28.8 L51.6 26.2 L52.7 23.5 L54.1 20.4 L55.6 17.3 L57.1 13.9 L57.5 10.2 L56.8 7.1 L55.5 4.9 L54.3 3.3 L53.5 2.3 L53.1 1.7Z" fill="#000"/>
<path d="M60.0 4.6 L59.9 6.3 L59.8 8.6 L59.5 11.3 L59.2 14.0 L58.7 16.4 L58.1 18.1 L57.5 19.0 L56.7 19.9 L55.6 21.1 L54.0 22.9 L52.1 25.4 L50.6 28.5 L49.6 31.7 L48.6 35.1 L47.8 38.9 L47.2 43.1 L46.8 47.5 L47.2 52.5 L49.1 57.5 L51.5 61.5 L53.3 64.5 L53.9 66.8 L53.0 67.7 L51.9 66.5 L52.1 65.5 L52.7 66.0 L53.0 67.4 L53.0 69.2 L52.6 71.3 L52.3 72.8 L52.3 73.9 L52.3 75.2 L51.8 76.8 L51.0 78.5 L50.2 80.1 L49.4 81.4 L56.4 91.0 L57.5 90.9 L59.3 90.8 L61.6 90.4 L64.4 89.6 L67.4 88.0 L70.1 85.8 L72.3 83.5 L74.5 81.2 L76.9 78.4 L79.3 74.8 L81.2 70.3 L81.7 64.3 L79.5 58.3 L76.3 54.4 L73.8 51.7 L72.4 49.6 L72.2 48.3 L72.4 47.7 L72.2 46.5 L71.9 44.2 L71.8 41.3 L71.8 38.3 L71.9 35.2 L71.8 32.7 L71.4 31.0 L70.9 29.5 L70.9 27.7 L71.3 25.4 L71.8 22.7 L71.9 19.5 L71.5 16.3 L70.8 13.2 L69.9 10.2 L69.1 7.5 L68.4 5.3 L68.0 3.8Z" fill="#000"/>
<path d="M70.6 13.4 L70.5 14.0 L70.4 14.7 L70.2 15.5 L70.0 16.5 L69.8 17.7 L69.6 19.3 L69.4 21.4 L69.1 24.0 L69.0 27.1 L69.0 30.5 L69.4 34.0 L70.3 37.5 L71.5 40.8 L72.9 44.0 L74.4 47.1 L76.0 50.1 L77.5 52.9 L79.3 55.8 L81.5 58.8 L83.6 61.5 L85.4 63.6 L86.6 65.0 L86.2 65.8 L85.6 65.5 L85.6 65.3 L85.9 66.0 L86.2 67.3 L86.2 68.8 L85.8 70.2 L85.3 71.2 L84.8 72.0 L83.6 73.1 L81.9 74.4 L79.7 75.7 L77.1 77.0 L74.5 78.3 L71.8 79.6 L68.7 80.9 L65.4 82.1 L62.2 83.2 L59.5 84.1 L57.5 84.8 L59.3 93.2 L61.3 93.0 L64.2 92.8 L67.6 92.6 L71.3 92.3 L75.1 91.8 L78.5 91.3 L81.6 90.8 L84.7 90.3 L88.0 89.6 L91.4 88.5 L94.9 86.9 L98.3 84.6 L101.1 81.8 L103.6 78.7 L106.0 75.5 L107.9 71.8 L109.1 67.5 L109.2 62.5 L107.4 57.6 L104.7 54.0 L102.7 50.9 L101.0 48.4 L99.6 46.4 L98.7 44.4 L97.6 42.0 L96.2 39.4 L94.8 36.7 L93.5 34.1 L92.2 31.6 L91.1 29.3 L89.9 27.1 L88.5 24.8 L86.9 22.3 L85.3 19.8 L83.8 17.5 L82.4 15.5 L81.2 13.9 L80.1 12.8 L79.2 11.9 L78.4 11.3 L77.9 10.9 L77.4 10.6Z" fill="#000"/>
</g>
<g filter="url(#shr)">
<path d="M48.1 3.2 L48.0 4.3 L47.9 5.7 L47.6 7.2 L46.9 8.5 L46.1 9.4 L45.4 10.0 L44.6 11.1 L42.8 12.7 L40.3 14.8 L37.5 17.6 L34.2 20.8 L31.4 25.1 L29.9 30.0 L29.4 34.6 L29.5 38.7 L29.7 42.5 L29.8 45.7 L29.7 48.6 L29.4 51.7 L29.1 54.9 L28.7 57.6 L28.4 59.9 L28.3 61.7 L28.2 63.5 L28.1 65.6 L28.2 67.7 L28.7 69.6 L28.9 71.3 L28.5 72.8 L27.6 74.4 L25.5 76.4 L21.9 78.7 L17.7 81.0 L13.3 83.2 L9.5 85.0 L6.8 86.4 L9.8 94.4 L12.6 93.8 L16.7 92.9 L21.6 91.8 L26.8 90.5 L31.9 88.9 L36.4 87.0 L40.2 84.5 L43.4 81.8 L46.4 79.0 L49.0 76.1 L50.9 73.2 L52.4 70.1 L53.6 66.4 L54.2 62.4 L54.3 58.7 L54.1 55.3 L53.8 52.1 L53.7 48.8 L53.5 44.9 L53.2 41.0 L52.9 37.5 L52.7 34.5 L52.5 32.1 L52.0 30.5 L51.4 28.7 L51.4 26.1 L52.4 23.3 L53.6 20.1 L55.0 16.9 L56.2 13.6 L56.2 10.1 L55.2 7.4 L53.8 5.4 L52.4 4.0 L51.3 3.1 L50.7 2.4Z" fill="#8a8a8a"/>
<path d="M30.9 42.5Q41.6 43.3 52.1 41.0M30.6 51.7Q41.6 53.4 52.6 52.2M29.6 60.4Q41.2 62.7 53.0 61.9M28.4 68.3Q38.1 73.3 48.8 75.5M26.7 74.6Q30.9 81.7 37.3 86.8M21.6 78.4Q23.0 85.2 27.1 90.8" stroke="#5a5a5a" stroke-width="0.9" stroke-opacity="0.22" fill="none"/>
</g>
<path d="M48.4 3.1 L48.3 4.2 L48.4 5.6 L48.2 7.0 L47.7 8.4 L47.1 9.5 L46.5 10.5 L45.3 12.1 L43.5 14.5 L41.2 17.3 L38.9 19.9 L36.8 22.2 L35.3 23.9 L48.1 31.7 L48.8 29.7 L50.0 26.9 L51.5 23.5 L52.9 19.9 L54.2 16.4 L55.1 13.1 L55.2 10.1 L54.4 7.5 L53.1 5.6 L51.9 4.2 L51.0 3.2 L50.4 2.5Z" fill="#ffffff" opacity="0.22" filter="url(#bl2)"/>
<path d="M50.8 11.8L45.7 -1.6M50.8 11.8L53.9 -0.8" stroke="#8a8a8a" stroke-width="0.9" stroke-opacity="0.6" fill="none"/>
<circle cx="50.8" cy="11.8" r="2.3" fill="#1a1a1a" filter="url(#bl)"/>
<g filter="url(#shr)">
<path d="M62.6 4.3 L62.3 6.0 L61.9 8.4 L61.4 11.1 L60.8 13.9 L60.0 16.4 L59.1 18.2 L58.2 19.2 L57.3 20.1 L56.0 21.2 L54.2 23.0 L52.2 25.5 L50.6 28.5 L49.5 31.7 L48.6 35.1 L47.8 38.9 L47.1 43.1 L46.8 47.5 L47.2 52.5 L49.1 57.5 L51.5 61.5 L53.3 64.5 L53.9 66.8 L53.0 67.7 L51.9 66.5 L52.1 65.5 L52.7 66.0 L53.0 67.4 L53.0 69.2 L52.6 71.3 L52.3 72.8 L52.3 73.9 L52.3 75.2 L51.8 76.8 L51.0 78.5 L50.2 80.1 L49.4 81.4 L56.4 91.0 L57.5 90.9 L59.3 90.8 L61.6 90.4 L64.4 89.6 L67.4 88.0 L70.1 85.8 L72.3 83.5 L74.5 81.2 L76.9 78.4 L79.3 74.8 L81.2 70.3 L81.7 64.3 L79.5 58.3 L76.3 54.4 L73.8 51.7 L72.4 49.6 L72.2 48.3 L72.4 47.7 L72.2 46.5 L72.0 44.2 L71.9 41.3 L71.9 38.3 L72.0 35.2 L71.8 32.7 L71.3 31.0 L70.7 29.4 L70.5 27.5 L70.7 25.2 L71.0 22.5 L70.9 19.4 L70.2 16.3 L69.2 13.3 L68.1 10.4 L67.0 7.8 L66.0 5.6 L65.4 4.1Z" fill="#8a8a8a"/>
<path d="M48.9 38.8Q59.6 41.6 70.7 41.5M48.1 46.9Q59.5 48.5 71.0 47.1M50.9 61.2Q62.7 56.9 73.1 49.9M53.9 67.5Q65.9 61.8 76.3 53.6M53.1 67.0Q65.6 71.8 78.8 73.8M51.9 71.1Q61.7 78.7 72.9 83.7" stroke="#5a5a5a" stroke-width="0.9" stroke-opacity="0.22" fill="none"/>
</g>
<path d="M62.9 4.3 L62.7 6.0 L62.4 8.3 L62.1 11.0 L61.6 13.8 L61.0 16.4 L60.3 18.3 L59.4 19.9 L58.3 21.6 L57.0 23.3 L55.7 25.0 L54.4 26.5 L53.5 27.7 L68.9 33.5 L68.9 32.2 L69.0 30.3 L69.3 27.9 L69.6 25.2 L69.8 22.3 L69.7 19.3 L69.2 16.3 L68.4 13.4 L67.4 10.5 L66.5 7.9 L65.7 5.7 L65.1 4.1Z" fill="#ffffff" opacity="0.22" filter="url(#bl2)"/>
<path d="M66.1 18.8L61.1 5.4M66.1 18.8L69.3 6.2" stroke="#8a8a8a" stroke-width="0.9" stroke-opacity="0.6" fill="none"/>
<circle cx="66.1" cy="18.8" r="2.3" fill="#1a1a1a" filter="url(#bl)"/>
<g filter="url(#shr)">
<path d="M72.8 12.5 L72.6 13.1 L72.3 13.9 L71.9 14.8 L71.4 16.0 L71.0 17.4 L70.6 19.1 L70.1 21.2 L69.7 23.9 L69.4 27.0 L69.3 30.4 L69.5 34.0 L70.3 37.5 L71.4 40.8 L72.8 44.0 L74.3 47.1 L75.9 50.1 L77.5 52.9 L79.3 55.8 L81.5 58.8 L83.6 61.5 L85.4 63.6 L86.6 65.0 L86.2 65.8 L85.6 65.5 L85.6 65.3 L85.9 66.0 L86.2 67.3 L86.2 68.8 L85.8 70.2 L85.3 71.2 L84.8 72.0 L83.6 73.1 L81.9 74.4 L79.7 75.7 L77.1 77.0 L74.5 78.3 L71.8 79.6 L68.7 80.9 L65.4 82.1 L62.2 83.2 L59.5 84.1 L57.5 84.8 L59.3 93.2 L61.3 93.0 L64.2 92.8 L67.6 92.6 L71.3 92.3 L75.1 91.8 L78.5 91.3 L81.6 90.8 L84.7 90.3 L88.0 89.6 L91.4 88.5 L94.9 86.9 L98.3 84.6 L101.1 81.8 L103.6 78.7 L106.0 75.5 L107.9 71.8 L109.1 67.5 L109.2 62.5 L107.4 57.6 L104.7 54.0 L102.7 50.9 L101.0 48.4 L99.6 46.4 L98.7 44.4 L97.6 42.0 L96.3 39.3 L94.9 36.7 L93.6 34.0 L92.3 31.5 L91.1 29.3 L89.8 27.2 L88.3 24.8 L86.5 22.4 L84.8 20.0 L83.0 17.7 L81.4 15.7 L80.0 14.3 L78.7 13.3 L77.6 12.6 L76.6 12.1 L75.8 11.8 L75.2 11.5Z" fill="#8a8a8a"/>
<path d="M80.7 58.8Q91.4 53.8 100.4 46.4M86.5 65.9Q96.5 60.7 104.8 53.1M86.5 67.0Q96.7 70.4 107.3 70.8M84.3 71.4Q90.8 79.0 99.3 84.4M81.4 74.0Q83.6 82.6 88.4 89.9M71.5 79.3Q72.0 86.1 75.3 92.1" stroke="#5a5a5a" stroke-width="0.9" stroke-opacity="0.22" fill="none"/>
</g>
<path d="M73.0 12.4 L72.9 13.0 L72.7 13.7 L72.4 14.6 L72.1 15.7 L71.9 17.0 L71.7 18.8 L71.6 21.2 L71.6 24.3 L71.6 27.7 L71.7 31.1 L71.8 34.0 L71.9 36.0 L89.5 30.8 L88.5 29.1 L87.0 26.6 L85.3 23.7 L83.5 20.8 L81.8 18.1 L80.3 16.0 L79.1 14.6 L78.0 13.5 L77.0 12.8 L76.1 12.3 L75.5 11.9 L75.0 11.6Z" fill="#ffffff" opacity="0.22" filter="url(#bl2)"/>
<path d="M75.8 17.4L68.5 5.1M75.8 17.4L76.7 4.4" stroke="#8a8a8a" stroke-width="0.9" stroke-opacity="0.6" fill="none"/>
<circle cx="75.8" cy="17.4" r="2.3" fill="#1a1a1a" filter="url(#bl)"/>
</g></g>
<linearGradient id="g16" x1="0" y1="0" x2="0" y2="1"><stop offset="0" stop-color="#ebebeb"/><stop offset="1" stop-color="#e1e1e1"/></linearGradient>
<g clip-path="url(#c16)"><rect x="660" y="587" width="115" height="97" fill="url(#g16)"/>
<g transform="translate(660,587)">
<g filter="url(#gsh)" opacity="0.22">
<path d="M55.3 0.9 L54.8 1.9 L54.3 3.0 L53.8 3.9 L53.3 4.6 L52.8 5.4 L52.1 6.2 L50.5 7.2 L48.1 8.5 L45.2 10.3 L42.0 12.4 L38.7 15.1 L35.7 18.3 L32.8 21.5 L30.5 24.8 L28.4 28.4 L26.7 32.3 L25.3 36.4 L24.5 41.4 L25.4 47.1 L27.7 51.6 L29.5 54.6 L30.3 56.5 L29.9 56.5 L30.1 54.5 L31.7 53.7 L32.9 54.5 L32.8 55.6 L32.2 57.0 L31.2 58.6 L30.0 60.1 L28.6 61.4 L26.7 62.7 L24.3 64.0 L21.7 65.3 L19.0 66.5 L16.4 67.6 L13.8 68.7 L11.1 69.8 L8.4 70.7 L5.9 71.6 L3.8 72.3 L2.2 72.9 L3.8 79.5 L5.4 79.3 L7.6 79.0 L10.3 78.7 L13.3 78.3 L16.3 77.9 L19.2 77.4 L22.0 76.9 L25.0 76.5 L28.2 75.9 L31.5 75.2 L34.8 74.3 L38.0 73.1 L40.9 71.8 L43.8 70.3 L46.7 68.4 L49.5 65.8 L52.8 62.8 L55.7 57.9 L55.7 51.5 L53.8 46.9 L52.3 43.9 L51.7 41.8 L52.2 41.1 L52.5 41.4 L52.3 40.8 L52.3 38.9 L52.4 36.6 L52.6 34.1 L53.0 31.5 L53.1 29.1 L53.8 27.0 L55.0 24.6 L56.7 21.8 L58.5 18.9 L60.3 15.9 L61.9 13.0 L63.2 10.2 L63.9 7.7 L64.0 5.5 L63.7 3.8 L63.3 2.7 L63.1 2.1Z" fill="#000"/>
<path d="M74.0 8.8 L73.7 9.6 L73.3 10.3 L72.9 10.4 L72.5 10.4 L72.1 10.6 L71.6 11.2 L70.4 12.2 L68.4 13.7 L66.0 15.7 L63.3 18.1 L60.4 20.9 L57.5 24.2 L55.5 27.8 L54.1 31.4 L53.2 35.0 L52.7 38.6 L52.6 42.2 L52.9 46.3 L54.2 50.9 L56.2 54.8 L57.5 57.7 L58.1 59.5 L57.9 59.5 L58.7 57.8 L60.5 57.7 L60.6 58.9 L59.8 60.6 L58.6 62.4 L57.1 64.2 L56.0 65.5 L55.0 66.5 L53.2 67.5 L50.9 68.3 L48.4 68.9 L46.0 69.3 L44.3 69.8 L44.5 78.2 L46.1 78.6 L48.3 79.1 L51.2 79.7 L54.6 80.2 L58.4 80.2 L62.4 79.5 L65.9 78.2 L69.4 76.5 L72.8 74.5 L76.2 71.8 L79.5 68.4 L83.3 63.6 L84.4 57.0 L83.0 51.7 L81.3 48.0 L80.3 45.2 L80.1 43.4 L80.3 42.5 L80.3 41.1 L80.1 39.1 L79.8 37.2 L79.5 35.3 L79.2 33.5 L78.7 32.0 L78.1 30.2 L78.3 27.8 L79.2 25.1 L80.3 22.4 L81.3 19.6 L82.4 17.0 L83.2 14.8 L83.5 12.7 L83.2 10.9 L82.7 9.7 L82.3 9.3 L82.0 9.2Z" fill="#000"/>
<path d="M96.6 3.2 L96.4 4.2 L96.2 5.2 L95.7 5.9 L95.2 6.5 L94.7 7.0 L94.2 7.8 L93.2 9.1 L91.1 10.9 L88.5 13.3 L85.7 16.0 L82.5 19.1 L79.7 22.7 L77.8 26.3 L76.2 29.9 L75.0 33.9 L74.3 38.4 L74.5 43.2 L76.1 48.5 L79.3 53.3 L82.4 57.3 L85.2 60.7 L87.7 63.5 L89.6 65.6 L90.3 67.5 L90.9 69.4 L91.7 71.4 L92.1 72.8 L92.3 73.6 L92.7 73.7 L93.8 73.5 L95.1 74.3 L94.6 75.8 L93.3 77.8 L91.6 80.0 L89.8 82.1 L88.3 84.0 L87.2 85.4 L86.1 86.6 L84.9 87.6 L83.7 88.6 L82.5 89.4 L81.6 90.1 L84.2 96.3 L85.2 96.2 L86.5 96.1 L88.4 95.8 L90.5 95.4 L92.9 94.6 L95.3 93.6 L97.7 92.4 L100.5 91.1 L103.6 89.3 L106.7 87.1 L109.8 84.1 L113.4 80.5 L115.4 75.8 L115.8 71.2 L115.1 67.1 L113.9 63.6 L112.6 60.3 L110.9 56.9 L108.4 53.2 L105.9 49.5 L103.6 46.3 L101.7 43.6 L100.9 41.5 L101.5 40.3 L101.8 39.6 L101.7 38.5 L101.4 36.9 L101.2 35.0 L101.1 32.7 L100.9 30.5 L100.6 28.3 L100.8 25.5 L101.9 22.4 L103.2 19.2 L104.5 16.0 L105.8 13.0 L106.6 10.1 L106.6 7.5 L106.1 5.4 L105.4 4.0 L104.9 3.2 L104.6 2.8Z" fill="#000"/>
</g>
<g filter="url(#shr)">
<path d="M57.8 1.3 L57.2 2.1 L56.5 3.2 L55.7 4.2 L54.7 5.1 L53.8 5.9 L52.8 6.7 L51.0 7.6 L48.5 8.9 L45.5 10.5 L42.1 12.6 L38.7 15.2 L35.7 18.3 L32.8 21.5 L30.4 24.8 L28.4 28.4 L26.6 32.2 L25.3 36.4 L24.5 41.4 L25.4 47.1 L27.7 51.6 L29.5 54.6 L30.3 56.5 L29.9 56.5 L30.1 54.5 L31.7 53.7 L32.9 54.5 L32.8 55.6 L32.2 57.0 L31.2 58.6 L30.0 60.1 L28.6 61.4 L26.7 62.7 L24.3 64.0 L21.7 65.3 L19.0 66.5 L16.4 67.6 L13.8 68.7 L11.1 69.8 L8.4 70.7 L5.9 71.6 L3.8 72.3 L2.2 72.9 L3.8 79.5 L5.4 79.3 L7.6 79.0 L10.3 78.7 L13.3 78.3 L16.3 77.9 L19.2 77.4 L22.0 76.9 L25.0 76.5 L28.2 75.9 L31.5 75.2 L34.8 74.3 L38.0 73.1 L40.9 71.8 L43.8 70.3 L46.7 68.4 L49.5 65.8 L52.8 62.8 L55.7 57.9 L55.7 51.5 L53.8 46.9 L52.3 43.9 L51.7 41.8 L52.2 41.1 L52.5 41.4 L52.3 40.8 L52.3 38.9 L52.4 36.6 L52.7 34.1 L53.0 31.5 L53.1 29.1 L53.7 27.0 L54.8 24.5 L56.4 21.6 L58.1 18.5 L59.8 15.5 L61.2 12.5 L62.2 9.7 L62.4 7.2 L62.1 5.2 L61.5 3.6 L60.9 2.5 L60.6 1.7Z" fill="#8c8c8c"/>
<path d="M26.6 35.9Q38.5 40.0 51.0 41.2M27.8 50.8Q40.2 48.1 51.6 42.6M31.2 56.6Q43.0 57.7 54.6 55.8M31.5 56.9Q36.9 64.7 44.5 70.4M26.3 62.4Q27.7 69.6 31.9 75.5M18.9 66.1Q19.1 72.1 22.1 77.3" stroke="#5a5a5a" stroke-width="0.9" stroke-opacity="0.22" fill="none"/>
</g>
<path d="M58.1 1.3 L57.6 2.2 L57.0 3.2 L56.3 4.3 L55.5 5.3 L54.7 6.3 L53.6 7.4 L51.7 8.8 L49.0 10.7 L45.9 12.9 L42.9 15.0 L40.3 16.8 L38.4 18.1 L50.4 29.3 L51.5 27.4 L53.2 24.7 L55.2 21.4 L57.2 18.0 L59.0 14.7 L60.4 11.8 L61.3 9.3 L61.7 7.0 L61.5 5.1 L61.0 3.5 L60.6 2.5 L60.3 1.7Z" fill="#ffffff" opacity="0.22" filter="url(#bl2)"/>
<path d="M57.0 9.6L57.8 -4.7M57.0 9.6L65.0 -0.7" stroke="#8a8a8a" stroke-width="0.9" stroke-opacity="0.6" fill="none"/>
<circle cx="57" cy="9.6" r="2.3" fill="#1a1a1a" filter="url(#bl)"/>
<g filter="url(#shr)">
<path d="M76.6 8.9 L76.1 9.5 L75.5 10.1 L74.8 10.5 L74.0 10.7 L73.2 11.0 L72.4 11.6 L71.0 12.6 L68.9 14.0 L66.3 15.9 L63.5 18.2 L60.5 20.9 L57.5 24.2 L55.4 27.8 L54.1 31.4 L53.2 35.0 L52.7 38.6 L52.6 42.2 L52.9 46.3 L54.2 50.9 L56.2 54.8 L57.5 57.7 L58.1 59.5 L57.9 59.5 L58.7 57.8 L60.5 57.7 L60.6 58.9 L59.8 60.6 L58.6 62.4 L57.1 64.2 L56.0 65.5 L55.0 66.5 L53.2 67.5 L50.9 68.3 L48.4 68.9 L46.0 69.3 L44.3 69.8 L44.5 78.2 L46.1 78.6 L48.3 79.1 L51.2 79.7 L54.6 80.2 L58.4 80.2 L62.4 79.5 L65.9 78.2 L69.4 76.5 L72.8 74.5 L76.2 71.8 L79.5 68.4 L83.3 63.6 L84.4 57.0 L83.0 51.7 L81.3 48.0 L80.3 45.2 L80.1 43.4 L80.3 42.5 L80.3 41.1 L80.1 39.1 L79.9 37.2 L79.6 35.3 L79.3 33.6 L78.7 32.0 L78.0 30.1 L78.1 27.7 L78.9 24.9 L79.8 22.0 L80.8 19.2 L81.6 16.6 L82.1 14.3 L81.9 12.4 L81.3 10.8 L80.5 9.8 L79.9 9.4 L79.4 9.1Z" fill="#8c8c8c"/>
<path d="M53.9 41.8Q66.4 43.2 78.9 41.5M54.8 49.8Q67.5 48.6 79.5 44.6M59.0 60.0Q71.1 57.0 82.0 51.2M59.6 58.7Q69.4 64.4 80.4 67.4M57.9 62.3Q62.8 70.5 70.0 76.7M54.3 66.3Q55.3 73.9 59.2 80.4" stroke="#5a5a5a" stroke-width="0.9" stroke-opacity="0.22" fill="none"/>
</g>
<path d="M76.9 9.0 L76.5 9.5 L76.0 10.1 L75.4 10.5 L74.8 10.9 L74.1 11.3 L73.2 12.2 L71.8 13.6 L69.6 15.7 L67.2 18.0 L64.8 20.3 L62.7 22.2 L61.3 23.6 L74.9 32.6 L75.6 30.7 L76.6 28.0 L77.8 24.9 L78.9 21.6 L80.0 18.5 L80.8 16.0 L81.2 14.0 L81.1 12.2 L80.7 10.8 L80.0 9.9 L79.5 9.4 L79.1 9.0Z" fill="#ffffff" opacity="0.22" filter="url(#bl2)"/>
<path d="M77.0 14.1L76.7 -0.2M77.0 14.1L84.2 3.3" stroke="#8a8a8a" stroke-width="0.9" stroke-opacity="0.6" fill="none"/>
<circle cx="77" cy="14.1" r="2.3" fill="#1a1a1a" filter="url(#bl)"/>
<g filter="url(#shr)">
<path d="M99.2 3.1 L98.8 3.9 L98.3 4.9 L97.6 5.8 L96.8 6.6 L95.9 7.3 L95.1 8.2 L93.8 9.5 L91.5 11.2 L88.8 13.5 L85.9 16.1 L82.6 19.2 L79.7 22.7 L77.7 26.3 L76.2 29.8 L74.9 33.9 L74.3 38.4 L74.5 43.2 L76.1 48.5 L79.3 53.3 L82.4 57.3 L85.2 60.7 L87.7 63.5 L89.6 65.6 L90.3 67.5 L90.9 69.4 L91.7 71.4 L92.1 72.8 L92.3 73.6 L92.7 73.7 L93.8 73.5 L95.1 74.3 L94.6 75.8 L93.3 77.8 L91.6 80.0 L89.8 82.1 L88.3 84.0 L87.2 85.4 L86.1 86.6 L84.9 87.6 L83.7 88.6 L82.5 89.4 L81.6 90.1 L84.2 96.3 L85.2 96.2 L86.5 96.1 L88.4 95.8 L90.5 95.4 L92.9 94.6 L95.3 93.6 L97.7 92.4 L100.5 91.1 L103.6 89.3 L106.7 87.1 L109.8 84.1 L113.4 80.5 L115.4 75.8 L115.8 71.2 L115.1 67.1 L113.9 63.6 L112.6 60.3 L110.9 56.9 L108.4 53.2 L105.9 49.5 L103.6 46.3 L101.7 43.6 L100.9 41.5 L101.5 40.3 L101.8 39.6 L101.7 38.5 L101.5 36.9 L101.2 35.0 L101.1 32.7 L100.9 30.5 L100.5 28.2 L100.6 25.4 L101.6 22.2 L102.8 18.9 L103.9 15.6 L104.9 12.6 L105.4 9.8 L105.0 7.4 L104.2 5.5 L103.3 4.3 L102.5 3.5 L102.0 2.9Z" fill="#8c8c8c"/>
<path d="M75.7 42.1Q88.3 42.9 100.7 40.7M81.6 57.3Q92.9 51.7 102.6 43.6M89.4 66.5Q99.9 60.6 108.6 52.3M92.3 71.6Q103.3 68.9 113.3 63.4M93.9 75.0Q103.3 78.5 113.3 79.0M91.3 79.8Q94.9 86.5 100.9 91.3" stroke="#5a5a5a" stroke-width="0.9" stroke-opacity="0.22" fill="none"/>
</g>
<path d="M99.5 3.1 L99.2 3.9 L98.8 4.9 L98.3 5.8 L97.6 6.7 L96.9 7.6 L96.0 8.7 L94.5 10.4 L92.3 12.9 L89.8 15.6 L87.2 18.3 L84.9 20.6 L83.4 22.3 L97.2 30.9 L98.0 28.8 L99.1 25.8 L100.5 22.3 L101.9 18.6 L103.1 15.1 L104.0 12.1 L104.4 9.6 L104.2 7.3 L103.5 5.6 L102.8 4.3 L102.1 3.5 L101.7 2.9Z" fill="#ffffff" opacity="0.22" filter="url(#bl2)"/>
<path d="M101.4 10.4L96.9 -3.2M101.4 10.4L105.1 -2.1" stroke="#8a8a8a" stroke-width="0.9" stroke-opacity="0.6" fill="none"/>
<circle cx="101.4" cy="10.4" r="2.3" fill="#1a1a1a" filter="url(#bl)"/>
</g></g>
<linearGradient id="g20" x1="0" y1="0" x2="0" y2="1"><stop offset="0" stop-color="#ededed"/><stop offset="1" stop-color="#e3e3e3"/></linearGradient>
<g clip-path="url(#c20)"><rect x="50" y="684" width="100" height="98" fill="url(#g20)"/>
<g transform="translate(50,684)">
<g filter="url(#gsh)" opacity="0.22">
<path d="M30.2 7.5 L29.7 8.0 L28.9 8.8 L27.7 10.0 L26.3 11.6 L24.9 13.9 L24.0 16.8 L23.8 20.0 L23.8 23.1 L23.8 26.0 L23.6 28.5 L23.1 30.4 L22.5 31.6 L22.0 33.0 L21.4 34.7 L20.9 36.4 L20.3 38.1 L19.8 39.8 L19.2 41.3 L18.2 42.4 L16.4 44.0 L13.8 46.1 L10.8 48.7 L7.6 52.0 L4.7 56.0 L2.1 59.8 L0.4 63.6 L-0.5 67.7 L-0.8 71.9 L-0.2 76.1 L1.6 80.3 L4.7 83.8 L7.6 86.6 L10.5 88.7 L13.4 90.4 L16.3 91.7 L19.2 92.8 L22.4 93.7 L25.7 94.3 L28.8 94.6 L31.5 94.7 L33.8 94.8 L35.3 94.9 L36.7 86.5 L35.1 86.1 L32.9 85.6 L30.4 84.9 L28.0 84.2 L26.0 83.2 L24.6 82.2 L23.3 80.9 L22.0 79.2 L20.9 77.5 L20.3 76.0 L20.4 74.8 L21.6 74.1 L22.5 73.7 L23.0 72.9 L23.3 71.8 L23.6 70.4 L23.8 68.9 L23.7 67.6 L24.4 66.7 L26.0 65.3 L28.4 63.3 L31.3 60.8 L34.5 57.6 L37.4 53.9 L39.8 50.4 L41.6 47.1 L43.0 43.6 L43.9 40.1 L44.4 36.6 L44.5 32.8 L43.8 28.7 L42.5 25.0 L41.0 21.9 L39.6 19.4 L38.7 17.6 L38.0 16.6 L37.4 15.9 L36.9 14.9 L36.5 13.8 L36.4 12.6 L36.7 11.4 L36.8 10.5Z" fill="#000"/>
<path d="M47.2 4.7 L46.8 5.0 L46.1 5.4 L44.7 6.4 L43.0 8.1 L41.6 10.8 L41.2 14.2 L41.9 17.6 L42.7 20.9 L43.3 24.2 L43.4 27.1 L43.0 29.4 L42.2 30.7 L41.6 32.1 L41.1 34.0 L40.6 36.0 L40.0 38.0 L39.6 40.0 L39.6 41.6 L39.2 42.7 L37.9 44.1 L35.8 46.2 L33.2 48.8 L30.3 52.2 L27.6 56.2 L25.2 59.8 L23.7 63.5 L22.7 67.4 L22.3 71.7 L22.9 76.1 L24.9 80.6 L28.2 84.1 L31.2 87.1 L34.3 89.4 L37.5 91.2 L40.5 92.8 L43.5 94.0 L46.7 95.0 L49.9 95.5 L52.8 95.7 L55.4 95.7 L57.3 95.6 L58.7 95.6 L59.7 87.2 L58.2 86.8 L56.2 86.5 L54.1 86.0 L52.1 85.3 L50.3 84.5 L49.1 83.6 L47.8 82.1 L46.2 80.2 L44.8 78.2 L43.7 76.3 L43.3 74.8 L44.5 73.8 L45.5 73.5 L46.0 72.9 L46.2 71.9 L46.5 70.5 L47.0 68.9 L47.0 67.4 L47.6 66.6 L49.1 65.4 L51.5 63.5 L54.5 61.0 L57.7 57.7 L60.8 53.6 L63.4 49.6 L65.0 45.7 L66.1 41.5 L66.7 37.3 L66.7 33.0 L66.0 28.5 L64.1 23.8 L61.6 20.0 L59.0 16.9 L56.9 14.4 L55.4 12.5 L54.8 11.6 L54.2 11.6 L53.4 11.4 L52.7 10.8 L52.6 10.0 L52.9 9.0 L53.2 8.1Z" fill="#000"/>
<path d="M86.5 16.8 L85.5 17.3 L84.1 18.1 L82.2 19.2 L80.2 20.4 L78.1 22.0 L76.0 23.9 L73.6 26.0 L71.7 28.2 L70.2 30.0 L69.0 31.5 L68.2 32.6 L67.6 33.8 L66.6 35.7 L65.0 38.0 L63.0 40.8 L60.9 43.8 L58.7 46.9 L56.8 49.9 L55.5 52.4 L54.2 55.0 L52.5 58.0 L50.8 61.6 L49.6 66.3 L50.2 71.6 L52.3 76.0 L55.0 79.6 L57.6 83.1 L60.7 86.3 L64.3 89.1 L69.1 91.3 L74.4 91.8 L79.0 91.0 L83.0 89.6 L86.6 88.1 L89.4 86.6 L91.6 85.5 L93.5 84.6 L95.2 83.5 L96.5 82.4 L97.3 81.4 L97.5 80.9 L97.6 80.7 L92.8 73.7 L92.0 74.0 L91.4 74.3 L91.0 74.3 L90.6 74.2 L90.0 74.1 L88.6 74.1 L86.1 74.2 L83.0 74.4 L79.8 74.5 L77.0 74.4 L75.2 74.0 L75.1 73.5 L75.2 73.2 L74.4 72.3 L73.4 70.9 L72.6 69.3 L72.7 67.8 L73.4 67.4 L73.8 68.2 L73.6 68.3 L73.6 67.3 L74.3 65.5 L75.6 63.2 L77.0 60.7 L78.0 58.3 L79.5 55.7 L81.3 52.8 L83.1 49.7 L85.0 46.6 L86.8 43.4 L88.2 40.0 L88.6 36.9 L88.4 34.4 L87.8 32.6 L87.0 31.3 L86.2 30.1 L86.4 28.8 L87.1 27.3 L88.2 25.7 L89.3 24.2 L90.3 22.9 L91.1 21.8Z" fill="#000"/>
</g>
<g filter="url(#shr)">
<path d="M32.3 8.5 L31.6 9.0 L30.6 9.7 L29.3 10.7 L27.7 12.1 L26.2 14.1 L25.1 16.8 L24.6 19.9 L24.4 23.0 L24.3 25.9 L23.9 28.5 L23.2 30.4 L22.5 31.6 L21.9 33.0 L21.3 34.7 L20.8 36.3 L20.3 38.0 L19.8 39.8 L19.2 41.3 L18.2 42.4 L16.4 44.0 L13.8 46.1 L10.8 48.7 L7.6 52.0 L4.7 56.0 L2.1 59.8 L0.4 63.6 L-0.5 67.7 L-0.8 71.9 L-0.2 76.1 L1.6 80.3 L4.7 83.8 L7.6 86.6 L10.5 88.7 L13.4 90.4 L16.3 91.7 L19.2 92.8 L22.4 93.7 L25.7 94.3 L28.8 94.6 L31.5 94.7 L33.8 94.8 L35.3 94.9 L36.7 86.5 L35.1 86.1 L32.9 85.6 L30.4 84.9 L28.0 84.2 L26.0 83.2 L24.6 82.2 L23.3 80.9 L22.0 79.2 L20.9 77.5 L20.3 76.0 L20.4 74.8 L21.6 74.1 L22.5 73.7 L23.0 72.9 L23.3 71.8 L23.6 70.4 L23.8 68.9 L23.7 67.6 L24.4 66.7 L26.0 65.3 L28.4 63.3 L31.3 60.8 L34.5 57.6 L37.4 53.9 L39.8 50.4 L41.7 47.1 L43.1 43.6 L44.0 40.1 L44.4 36.6 L44.5 32.8 L43.7 28.7 L42.2 25.0 L40.6 22.0 L39.1 19.6 L37.8 17.8 L36.9 16.6 L36.1 15.7 L35.4 14.5 L34.9 13.1 L34.7 11.7 L34.7 10.5 L34.7 9.5Z" fill="#8c8c8c"/>
<path d="M18.2 41.7Q27.5 48.9 38.4 53.5M13.4 45.6Q19.9 55.7 28.8 63.8M4.8 54.9Q13.3 63.0 23.6 68.7M0.6 67.3Q11.0 71.2 22.1 72.2M3.9 83.1Q13.1 80.7 21.1 75.5M15.9 91.8Q21.0 87.1 23.7 80.7" stroke="#5a5a5a" stroke-width="0.9" stroke-opacity="0.22" fill="none"/>
</g>
<path d="M32.6 8.6 L31.9 9.2 L31.0 9.9 L29.8 10.9 L28.5 12.3 L27.2 14.2 L26.2 16.7 L25.8 19.6 L25.5 22.8 L25.3 26.2 L25.2 29.4 L25.1 32.0 L25.0 33.8 L42.0 30.6 L41.2 28.9 L40.1 26.4 L38.9 23.7 L37.6 20.9 L36.6 18.4 L35.8 16.7 L35.1 15.5 L34.6 14.2 L34.4 12.9 L34.3 11.5 L34.4 10.3 L34.4 9.4Z" fill="#ffffff" opacity="0.22" filter="url(#bl2)"/>
<path d="M30.2 16.7L33.0 2.7M30.2 16.7L39.5 7.6" stroke="#8a8a8a" stroke-width="0.9" stroke-opacity="0.6" fill="none"/>
<circle cx="30.2" cy="16.7" r="2.3" fill="#1a1a1a" filter="url(#bl)"/>
<g filter="url(#shr)">
<path d="M49.1 5.8 L48.5 6.1 L47.6 6.5 L46.2 7.2 L44.4 8.5 L42.9 10.8 L42.3 14.0 L42.6 17.4 L43.2 20.7 L43.6 24.0 L43.7 27.1 L43.1 29.4 L42.2 30.7 L41.5 32.1 L41.0 34.0 L40.5 36.0 L40.0 38.0 L39.6 40.0 L39.6 41.6 L39.2 42.7 L37.9 44.1 L35.8 46.2 L33.2 48.8 L30.3 52.2 L27.6 56.2 L25.2 59.8 L23.7 63.5 L22.7 67.4 L22.3 71.7 L22.9 76.1 L24.9 80.6 L28.2 84.1 L31.2 87.1 L34.3 89.4 L37.5 91.2 L40.5 92.8 L43.5 94.0 L46.7 95.0 L49.9 95.5 L52.8 95.7 L55.4 95.7 L57.3 95.6 L58.7 95.6 L59.7 87.2 L58.2 86.8 L56.2 86.5 L54.1 86.0 L52.1 85.3 L50.3 84.5 L49.1 83.6 L47.8 82.1 L46.2 80.2 L44.8 78.2 L43.7 76.3 L43.3 74.8 L44.5 73.8 L45.5 73.5 L46.0 72.9 L46.2 71.9 L46.5 70.5 L47.0 68.9 L47.0 67.4 L47.6 66.6 L49.1 65.4 L51.5 63.5 L54.5 61.0 L57.7 57.7 L60.8 53.6 L63.4 49.6 L65.1 45.7 L66.2 41.5 L66.7 37.3 L66.7 33.0 L66.0 28.5 L64.0 23.8 L61.3 20.1 L58.7 17.1 L56.4 14.6 L54.7 12.8 L53.7 11.8 L52.9 11.5 L52.0 10.9 L51.2 10.0 L51.1 8.9 L51.2 7.9 L51.3 7.0Z" fill="#8c8c8c"/>
<path d="M38.8 42.3Q49.6 49.0 61.6 52.9M35.3 45.7Q42.6 55.9 52.0 64.0M27.7 55.1Q36.4 63.0 46.9 68.5M23.8 67.0Q34.1 71.1 45.1 72.3M27.4 83.6Q36.5 80.8 44.2 75.4M40.1 92.9Q45.3 88.3 48.1 81.9" stroke="#5a5a5a" stroke-width="0.9" stroke-opacity="0.22" fill="none"/>
</g>
<path d="M49.4 5.9 L48.8 6.3 L47.9 6.7 L46.7 7.5 L45.2 8.8 L43.9 10.9 L43.4 13.7 L43.5 16.8 L43.9 20.4 L44.5 24.2 L45.1 27.8 L45.5 30.8 L45.8 32.9 L62.4 26.3 L61.1 24.5 L59.3 22.0 L57.3 19.1 L55.4 16.3 L53.7 13.7 L52.6 12.1 L51.9 11.4 L51.2 10.7 L50.7 9.7 L50.7 8.7 L50.9 7.7 L51.0 6.9Z" fill="#ffffff" opacity="0.22" filter="url(#bl2)"/>
<path d="M47.6 12.9L50.0 -1.2M47.6 12.9L56.7 3.6" stroke="#8a8a8a" stroke-width="0.9" stroke-opacity="0.6" fill="none"/>
<circle cx="47.6" cy="12.9" r="2.3" fill="#1a1a1a" filter="url(#bl)"/>
<g filter="url(#shr)">
<path d="M88.0 18.4 L86.9 18.9 L85.3 19.5 L83.3 20.3 L81.2 21.4 L78.9 22.7 L76.7 24.4 L74.3 26.3 L72.3 28.3 L70.6 30.1 L69.3 31.6 L68.3 32.6 L67.6 33.8 L66.6 35.6 L64.9 38.0 L62.9 40.7 L60.9 43.8 L58.7 46.9 L56.8 49.9 L55.5 52.4 L54.2 55.0 L52.5 58.0 L50.8 61.6 L49.6 66.3 L50.2 71.6 L52.3 76.0 L55.0 79.6 L57.6 83.1 L60.7 86.3 L64.3 89.1 L69.1 91.3 L74.4 91.8 L79.0 91.0 L83.0 89.6 L86.6 88.1 L89.4 86.6 L91.6 85.5 L93.5 84.6 L95.2 83.5 L96.5 82.4 L97.3 81.4 L97.5 80.9 L97.6 80.7 L92.8 73.7 L92.0 74.0 L91.4 74.3 L91.0 74.3 L90.6 74.2 L90.0 74.1 L88.6 74.1 L86.1 74.2 L83.0 74.4 L79.8 74.5 L77.0 74.4 L75.2 74.0 L75.1 73.5 L75.2 73.2 L74.4 72.3 L73.4 70.9 L72.6 69.3 L72.7 67.8 L73.4 67.4 L73.8 68.2 L73.6 68.3 L73.6 67.3 L74.3 65.5 L75.6 63.2 L77.0 60.7 L78.0 58.3 L79.5 55.7 L81.3 52.8 L83.2 49.8 L85.0 46.6 L86.8 43.4 L88.1 40.0 L88.4 36.9 L88.0 34.3 L87.2 32.5 L86.3 31.0 L85.5 29.6 L85.6 28.1 L86.2 26.3 L87.1 24.5 L88.1 22.8 L89.0 21.3 L89.6 20.2Z" fill="#8c8c8c"/>
<path d="M58.5 46.4Q67.6 53.9 78.3 58.8M54.1 54.8Q63.5 61.6 74.4 65.8M51.0 65.0Q61.4 68.7 72.4 69.4M56.8 82.9Q66.3 78.2 74.2 71.1M67.5 91.2Q73.4 83.1 76.7 73.6M82.9 90.1Q82.9 81.8 80.0 74.0" stroke="#5a5a5a" stroke-width="0.9" stroke-opacity="0.22" fill="none"/>
</g>
<path d="M88.2 18.6 L87.1 19.1 L85.5 19.8 L83.7 20.8 L81.7 21.9 L79.6 23.2 L77.6 24.9 L75.5 26.8 L73.6 29.0 L71.8 31.3 L70.3 33.4 L69.2 35.0 L68.3 36.0 L86.1 41.2 L86.0 39.6 L85.8 37.5 L85.5 35.3 L85.2 33.0 L84.9 30.9 L84.6 29.1 L84.9 27.6 L85.7 25.8 L86.7 24.1 L87.8 22.5 L88.8 21.1 L89.4 20.0Z" fill="#ffffff" opacity="0.22" filter="url(#bl2)"/>
<path d="M81.1 27.0L88.9 15.0M81.1 27.0L93.1 22.1" stroke="#8a8a8a" stroke-width="0.9" stroke-opacity="0.6" fill="none"/>
<circle cx="81.1" cy="27" r="2.3" fill="#1a1a1a" filter="url(#bl)"/>
</g></g>
<linearGradient id="g21" x1="0" y1="0" x2="0" y2="1"><stop offset="0" stop-color="#ededed"/><stop offset="1" stop-color="#e3e3e3"/></linearGradient>
<g clip-path="url(#c21)"><rect x="150" y="684" width="99" height="98" fill="url(#g21)"/>
<g transform="translate(150,684)">
<g filter="url(#gsh)" opacity="0.22">
<path d="M12.6 14.7 L13.0 15.6 L13.4 16.7 L13.6 17.9 L13.6 19.0 L13.3 20.1 L12.8 21.1 L12.0 22.2 L11.0 23.9 L9.7 26.3 L8.4 29.5 L7.4 33.3 L7.4 37.6 L8.3 41.7 L9.7 45.4 L11.1 48.8 L12.6 52.0 L14.0 54.9 L15.3 57.8 L16.9 60.8 L18.6 63.6 L19.9 66.0 L20.7 67.9 L20.9 69.2 L21.0 70.1 L21.2 71.3 L21.4 72.6 L21.8 73.8 L22.2 75.0 L22.7 76.5 L22.4 77.5 L21.4 79.1 L19.2 81.2 L16.2 83.6 L13.1 85.8 L10.3 87.8 L8.3 89.2 L12.1 96.8 L14.3 96.1 L17.6 95.2 L21.5 94.0 L25.7 92.5 L29.9 90.6 L33.6 88.1 L36.4 84.9 L39.2 81.9 L41.1 78.4 L42.2 74.8 L42.7 71.3 L42.6 67.5 L41.8 63.5 L40.2 59.9 L38.7 56.8 L37.4 54.1 L36.5 51.7 L35.7 49.2 L34.7 46.4 L33.6 43.3 L32.6 40.4 L31.8 37.7 L31.2 35.4 L30.8 33.8 L30.2 32.5 L29.5 30.8 L28.7 28.5 L28.0 25.8 L27.4 22.8 L26.6 19.7 L25.4 17.0 L24.1 14.9 L22.7 13.3 L21.6 12.1 L21.0 11.3 L20.6 10.7Z" fill="#000"/>
<path d="M48.3 13.5 L49.0 14.3 L49.5 15.0 L49.1 15.1 L47.5 14.4 L45.9 12.6 L46.0 11.4 L45.6 12.0 L43.8 13.4 L41.2 15.6 L38.2 18.5 L34.7 22.2 L31.9 27.3 L31.1 32.8 L31.5 37.5 L32.4 41.8 L33.6 45.7 L34.7 49.2 L35.9 52.7 L37.6 56.6 L39.6 60.2 L41.2 63.4 L42.3 66.0 L42.6 67.8 L42.5 68.7 L42.6 69.5 L43.0 70.5 L43.6 71.5 L44.3 72.7 L44.9 74.0 L45.7 75.1 L45.7 76.0 L44.9 77.6 L43.4 79.4 L41.7 81.3 L40.0 83.0 L38.7 84.3 L45.3 94.1 L46.8 93.6 L49.0 92.9 L51.8 91.8 L54.9 90.4 L58.3 88.3 L61.3 85.5 L64.2 82.6 L66.5 79.6 L68.3 76.1 L69.5 72.2 L69.9 68.2 L69.5 63.7 L68.0 59.1 L65.9 55.2 L63.9 51.9 L62.4 48.9 L61.5 46.4 L60.9 44.1 L60.1 41.3 L59.2 38.3 L58.6 35.6 L58.2 33.3 L57.9 31.8 L57.3 31.3 L56.1 30.6 L55.6 28.5 L56.2 25.7 L57.3 22.8 L58.5 19.7 L60.0 16.6 L60.6 12.8 L58.5 9.1 L56.0 7.2 L54.3 6.5 L53.7 6.6 L53.7 6.9Z" fill="#000"/>
<path d="M68.4 9.6 L67.7 11.2 L66.8 13.4 L65.6 16.1 L64.5 19.1 L63.3 22.3 L62.4 25.4 L61.7 28.4 L61.0 31.3 L60.4 34.3 L60.0 37.3 L59.8 40.3 L59.8 43.3 L60.1 46.2 L60.7 49.3 L61.5 52.5 L62.7 55.9 L64.1 59.2 L66.4 62.8 L69.1 66.4 L71.7 69.7 L74.0 72.2 L75.5 73.9 L75.5 74.5 L73.9 73.1 L74.1 71.0 L75.4 70.7 L76.0 71.4 L75.6 72.4 L74.7 73.7 L73.9 75.0 L72.7 76.3 L70.4 78.1 L67.5 79.9 L64.4 81.7 L61.6 83.2 L59.6 84.3 L62.6 94.1 L64.7 93.9 L67.9 93.8 L71.7 93.5 L75.9 93.0 L80.1 92.2 L84.1 90.6 L87.4 88.7 L90.3 86.4 L93.1 83.6 L96.1 80.4 L98.8 75.9 L99.3 69.5 L96.2 63.8 L93.1 60.0 L90.6 57.1 L88.4 54.8 L86.9 53.2 L86.4 51.8 L86.3 50.1 L85.8 48.0 L85.2 45.7 L84.5 43.3 L83.7 40.8 L82.8 38.3 L81.7 36.0 L80.6 33.9 L79.4 31.9 L78.3 29.8 L77.3 27.7 L76.4 25.6 L75.7 23.2 L75.2 20.4 L74.8 17.5 L74.6 14.7 L74.4 12.2 L74.2 10.4Z" fill="#000"/>
</g>
<g filter="url(#shr)">
<path d="M15.2 13.4 L15.3 14.4 L15.4 15.6 L15.4 17.0 L15.1 18.4 L14.6 19.8 L13.8 21.0 L12.8 22.2 L11.6 24.0 L10.1 26.4 L8.6 29.5 L7.5 33.3 L7.4 37.6 L8.3 41.7 L9.6 45.4 L11.1 48.8 L12.6 52.0 L14.0 54.9 L15.3 57.8 L16.9 60.8 L18.6 63.6 L19.9 66.0 L20.7 67.9 L20.9 69.2 L21.0 70.1 L21.2 71.3 L21.4 72.6 L21.8 73.8 L22.2 75.0 L22.7 76.5 L22.4 77.5 L21.4 79.1 L19.2 81.2 L16.2 83.6 L13.1 85.8 L10.3 87.8 L8.3 89.2 L12.1 96.8 L14.3 96.1 L17.6 95.2 L21.5 94.0 L25.7 92.5 L29.9 90.6 L33.6 88.1 L36.4 84.9 L39.2 81.9 L41.1 78.4 L42.2 74.8 L42.7 71.3 L42.6 67.5 L41.8 63.5 L40.2 59.9 L38.7 56.8 L37.4 54.1 L36.5 51.7 L35.7 49.2 L34.8 46.4 L33.6 43.3 L32.7 40.4 L31.9 37.7 L31.2 35.4 L30.8 33.8 L30.1 32.5 L29.2 30.8 L28.3 28.4 L27.5 25.7 L26.6 22.8 L25.6 19.8 L24.1 17.4 L22.5 15.5 L21.0 14.2 L19.6 13.2 L18.7 12.5 L18.0 12.0Z" fill="#8a8a8a"/>
<path d="M12.9 51.8Q23.7 49.0 33.4 43.5M16.8 60.5Q27.3 57.6 36.5 52.0M21.1 68.2Q31.1 65.2 39.8 59.5M22.3 71.7Q32.0 72.8 41.6 70.8M21.9 76.9Q28.9 82.0 37.2 84.5M18.8 81.0Q21.2 87.7 26.1 92.7" stroke="#5a5a5a" stroke-width="0.9" stroke-opacity="0.22" fill="none"/>
</g>
<path d="M15.5 13.3 L15.6 14.2 L15.9 15.4 L16.0 16.7 L15.9 18.1 L15.5 19.6 L15.0 20.9 L14.3 22.7 L13.3 25.3 L12.2 28.1 L11.1 30.9 L10.2 33.3 L9.5 35.1 L28.7 36.3 L28.2 34.6 L27.6 32.0 L27.0 29.0 L26.2 25.7 L25.3 22.6 L24.4 19.9 L23.2 17.6 L21.8 15.8 L20.4 14.5 L19.2 13.5 L18.3 12.7 L17.7 12.1Z" fill="#ffffff" opacity="0.22" filter="url(#bl2)"/>
<path d="M19.7 20.4L11.7 8.5M19.7 20.4L19.9 7.4" stroke="#8a8a8a" stroke-width="0.9" stroke-opacity="0.6" fill="none"/>
<circle cx="19.7" cy="20.4" r="2.3" fill="#1a1a1a" filter="url(#bl)"/>
<g filter="url(#shr)">
<path d="M50.1 11.3 L50.3 12.1 L50.7 13.0 L50.4 13.6 L49.1 13.6 L47.4 12.6 L47.0 11.8 L46.3 12.4 L44.3 13.8 L41.5 15.9 L38.4 18.6 L34.8 22.2 L31.9 27.3 L31.0 32.8 L31.4 37.6 L32.4 41.9 L33.6 45.7 L34.7 49.2 L35.9 52.7 L37.6 56.6 L39.6 60.2 L41.2 63.4 L42.3 66.0 L42.6 67.8 L42.5 68.7 L42.6 69.5 L43.0 70.5 L43.6 71.5 L44.3 72.7 L44.9 74.0 L45.7 75.1 L45.7 76.0 L44.9 77.6 L43.4 79.4 L41.7 81.3 L40.0 83.0 L38.7 84.3 L45.3 94.1 L46.8 93.6 L49.0 92.9 L51.8 91.8 L54.9 90.4 L58.3 88.3 L61.3 85.5 L64.2 82.6 L66.5 79.6 L68.3 76.1 L69.5 72.2 L69.9 68.2 L69.5 63.7 L68.0 59.1 L65.9 55.2 L63.9 51.9 L62.4 48.9 L61.5 46.4 L60.9 44.1 L60.1 41.3 L59.2 38.3 L58.6 35.5 L58.2 33.3 L57.9 31.8 L57.3 31.3 L56.0 30.6 L55.4 28.4 L55.8 25.5 L56.8 22.5 L57.8 19.3 L59.0 16.2 L59.1 12.7 L57.0 9.9 L54.7 8.7 L53.2 8.5 L52.4 8.8 L51.9 9.1Z" fill="#8a8a8a"/>
<path d="M34.3 45.3Q46.8 43.4 58.5 38.7M37.7 56.0Q50.1 52.9 61.4 47.0M41.2 63.5Q53.3 58.9 64.0 51.7M43.8 69.4Q56.4 67.6 68.2 63.0M44.6 72.4Q55.8 75.3 67.3 75.2M44.7 75.7Q52.8 81.6 62.3 84.9" stroke="#5a5a5a" stroke-width="0.9" stroke-opacity="0.22" fill="none"/>
</g>
<path d="M50.2 11.1 L50.5 11.8 L50.9 12.5 L50.8 13.1 L49.9 13.2 L48.6 12.6 L48.1 12.4 L47.0 13.6 L45.1 15.8 L42.8 18.4 L40.4 20.9 L38.3 23.2 L36.8 24.8 L52.4 33.8 L53.0 31.8 L53.9 28.9 L55.1 25.4 L56.2 21.8 L57.2 18.5 L57.9 15.6 L57.9 12.7 L56.2 10.2 L54.3 9.2 L52.9 9.0 L52.2 9.2 L51.8 9.3Z" fill="#ffffff" opacity="0.22" filter="url(#bl2)"/>
<path d="M55.4 12.7L41.7 8.4M55.4 12.7L47.4 2.4" stroke="#8a8a8a" stroke-width="0.9" stroke-opacity="0.6" fill="none"/>
<circle cx="55.4" cy="12.7" r="2.3" fill="#1a1a1a" filter="url(#bl)"/>
<g filter="url(#shr)">
<path d="M70.3 9.8 L69.5 11.4 L68.4 13.7 L67.2 16.3 L65.8 19.3 L64.5 22.4 L63.5 25.4 L62.5 28.4 L61.6 31.3 L60.8 34.3 L60.2 37.3 L59.9 40.3 L59.8 43.3 L60.1 46.2 L60.6 49.3 L61.4 52.6 L62.6 55.9 L64.1 59.2 L66.4 62.8 L69.1 66.4 L71.7 69.7 L74.0 72.2 L75.5 73.9 L75.5 74.5 L73.9 73.1 L74.1 71.0 L75.4 70.7 L76.0 71.4 L75.6 72.4 L74.7 73.7 L73.9 75.0 L72.7 76.3 L70.4 78.1 L67.5 79.9 L64.4 81.7 L61.6 83.2 L59.6 84.3 L62.6 94.1 L64.7 93.9 L67.9 93.8 L71.7 93.5 L75.9 93.0 L80.1 92.2 L84.1 90.6 L87.4 88.7 L90.3 86.4 L93.1 83.6 L96.1 80.4 L98.8 75.9 L99.3 69.5 L96.2 63.8 L93.1 60.0 L90.6 57.1 L88.4 54.8 L86.9 53.2 L86.4 51.8 L86.3 50.1 L85.8 48.0 L85.2 45.7 L84.5 43.3 L83.7 40.8 L82.8 38.3 L81.6 36.1 L80.3 34.0 L79.0 31.9 L77.6 29.9 L76.4 27.7 L75.3 25.6 L74.5 23.1 L73.8 20.3 L73.3 17.2 L72.9 14.4 L72.6 11.9 L72.3 10.2Z" fill="#8a8a8a"/>
<path d="M62.1 52.1Q73.7 50.6 84.5 46.1M65.7 62.1Q77.0 58.7 87.1 52.5M73.6 72.7Q83.3 65.7 91.0 56.5M75.5 75.0Q87.1 72.7 97.7 67.6M74.7 72.5Q82.0 80.6 91.2 86.3M71.9 76.1Q75.1 85.0 80.9 92.3" stroke="#5a5a5a" stroke-width="0.9" stroke-opacity="0.22" fill="none"/>
</g>
<path d="M70.5 9.9 L69.8 11.5 L68.9 13.7 L67.8 16.4 L66.6 19.4 L65.5 22.5 L64.6 25.5 L64.0 28.7 L63.4 32.0 L63.0 35.2 L62.6 38.2 L62.2 40.6 L61.9 42.2 L80.7 39.4 L79.9 37.7 L78.8 35.5 L77.5 33.0 L76.2 30.4 L75.1 27.8 L74.2 25.5 L73.5 23.0 L73.0 20.2 L72.7 17.2 L72.4 14.3 L72.3 11.9 L72.1 10.1Z" fill="#ffffff" opacity="0.22" filter="url(#bl2)"/>
<path d="M69.4 25.5L68.1 11.2M69.4 25.5L75.8 14.2" stroke="#8a8a8a" stroke-width="0.9" stroke-opacity="0.6" fill="none"/>
<circle cx="69.4" cy="25.5" r="2.3" fill="#1a1a1a" filter="url(#bl)"/>
</g></g>
<linearGradient id="g22" x1="0" y1="0" x2="0" y2="1"><stop offset="0" stop-color="#ebebeb"/><stop offset="1" stop-color="#e1e1e1"/></linearGradient>
<g clip-path="url(#c22)"><rect x="249" y="684" width="99" height="98" fill="url(#g22)"/>
<g transform="translate(249,684)">
<g filter="url(#gsh)" opacity="0.22">
<path d="M30.8 13.3 L30.7 14.6 L30.5 16.1 L30.3 17.8 L29.8 19.3 L29.2 20.5 L28.7 21.1 L28.2 21.7 L27.2 22.8 L25.5 24.3 L23.1 26.4 L20.4 29.3 L18.1 33.3 L16.8 37.6 L16.3 41.5 L16.1 45.0 L16.0 48.0 L15.9 50.5 L15.6 52.8 L15.3 55.5 L15.0 58.6 L14.7 61.3 L14.6 63.5 L14.7 65.0 L15.4 65.8 L16.3 66.7 L16.3 67.4 L16.3 68.0 L16.6 68.3 L17.5 68.5 L19.7 68.8 L21.4 69.8 L20.8 70.0 L19.0 69.4 L17.0 68.3 L15.0 67.1 L13.5 66.3 L4.3 76.3 L5.1 77.5 L6.2 79.4 L7.9 81.8 L10.1 84.5 L13.3 87.3 L18.5 89.2 L24.0 88.9 L28.2 87.6 L31.7 85.5 L34.8 83.0 L37.5 80.0 L40.6 76.8 L43.0 72.8 L44.3 68.7 L45.0 64.8 L45.3 61.1 L45.5 57.6 L45.6 54.2 L45.5 50.4 L45.1 46.7 L44.7 43.6 L44.2 41.0 L43.8 39.2 L43.1 38.1 L42.2 37.2 L41.5 35.5 L41.5 33.3 L42.1 30.8 L43.1 28.0 L43.9 24.7 L43.9 21.4 L43.3 18.6 L42.5 16.2 L41.6 14.4 L41.0 13.0 L40.6 12.1Z" fill="#000"/>
<path d="M44.3 8.4 L44.8 9.6 L45.3 11.0 L45.8 12.6 L45.9 14.2 L45.3 15.6 L44.4 16.5 L43.4 17.3 L42.2 18.9 L40.7 21.3 L39.0 24.5 L37.7 28.5 L37.1 33.2 L37.6 37.6 L38.6 41.6 L39.7 45.1 L40.7 48.2 L41.5 51.0 L42.2 53.8 L43.2 57.0 L44.4 60.1 L45.0 62.5 L45.1 64.0 L44.9 64.4 L45.1 64.4 L45.5 65.3 L45.8 66.7 L46.2 68.3 L46.1 69.8 L45.5 71.1 L44.6 72.5 L42.6 74.4 L39.3 76.7 L35.1 79.1 L30.8 81.5 L26.8 83.5 L23.7 85.1 L21.9 86.1 L20.9 86.7 L20.2 87.1 L19.5 87.4 L18.4 87.4 L17.2 87.5 L16.0 95.9 L16.4 96.2 L17.1 96.8 L18.7 97.5 L21.1 98.2 L24.0 98.5 L27.3 98.3 L31.2 97.8 L36.0 97.0 L41.4 96.0 L46.9 94.6 L52.4 92.9 L57.4 90.5 L61.7 87.4 L65.2 83.9 L68.4 80.2 L71.2 76.5 L73.2 72.5 L74.7 68.0 L75.1 62.7 L74.1 57.7 L72.6 53.8 L71.3 50.6 L70.5 48.1 L69.8 45.6 L68.8 42.6 L67.7 39.4 L66.7 36.4 L65.9 33.9 L65.3 31.8 L64.9 30.4 L64.2 29.3 L63.3 27.3 L62.5 24.6 L61.9 21.4 L61.2 17.9 L60.0 14.1 L58.0 10.9 L55.6 8.7 L53.6 7.1 L52.0 5.8 L50.7 5.0 L49.9 4.4Z" fill="#000"/>
<path d="M74.4 12.9 L75.0 13.9 L75.9 14.9 L76.4 16.0 L76.5 16.8 L75.8 17.4 L74.2 17.3 L73.3 17.4 L72.3 18.7 L70.9 21.1 L69.3 24.3 L67.9 28.4 L67.5 33.3 L68.2 38.0 L69.3 42.1 L70.6 45.7 L71.7 49.0 L72.6 51.9 L73.5 54.7 L75.0 57.7 L76.7 60.6 L77.9 62.7 L78.4 64.2 L78.5 64.6 L78.8 64.1 L79.5 64.0 L80.2 64.9 L80.5 66.3 L79.8 67.7 L78.9 69.2 L78.1 70.5 L77.1 71.9 L75.3 73.6 L72.9 75.5 L70.4 77.2 L68.1 78.8 L66.4 80.0 L71.2 90.8 L73.0 90.5 L75.7 89.9 L79.1 89.2 L82.7 88.2 L86.5 86.8 L90.1 84.9 L93.0 82.6 L95.6 80.2 L97.9 77.3 L100.6 74.3 L103.0 70.7 L104.6 65.9 L104.7 60.7 L103.5 56.2 L102.2 52.6 L101.0 49.6 L100.3 47.1 L99.7 44.7 L98.5 41.7 L96.9 38.6 L95.5 35.8 L94.4 33.3 L93.6 31.4 L93.1 30.3 L92.5 29.4 L91.8 27.8 L91.3 25.2 L91.1 22.2 L90.8 18.7 L89.8 14.7 L87.1 11.4 L84.5 9.4 L82.2 8.3 L80.4 7.7 L79.2 7.6 L78.4 7.5Z" fill="#000"/>
</g>
<g filter="url(#shr)">
<path d="M34.0 12.9 L33.6 14.1 L33.1 15.7 L32.5 17.5 L31.7 19.2 L30.7 20.6 L29.9 21.4 L29.0 22.0 L27.7 23.1 L25.8 24.5 L23.3 26.5 L20.5 29.3 L18.1 33.3 L16.7 37.6 L16.2 41.5 L16.1 45.0 L16.0 48.0 L15.9 50.5 L15.6 52.8 L15.3 55.5 L15.0 58.6 L14.7 61.3 L14.6 63.5 L14.7 65.0 L15.4 65.8 L16.3 66.7 L16.3 67.4 L16.3 68.0 L16.6 68.3 L17.5 68.5 L19.7 68.8 L21.4 69.8 L20.8 70.0 L19.0 69.4 L17.0 68.3 L15.0 67.1 L13.5 66.3 L4.3 76.3 L5.1 77.5 L6.2 79.4 L7.9 81.8 L10.1 84.5 L13.3 87.3 L18.5 89.2 L24.0 88.9 L28.2 87.6 L31.7 85.5 L34.8 83.0 L37.5 80.0 L40.6 76.8 L43.0 72.8 L44.3 68.7 L45.0 64.8 L45.3 61.1 L45.5 57.6 L45.6 54.2 L45.5 50.4 L45.2 46.7 L44.8 43.6 L44.3 41.0 L43.9 39.2 L43.1 38.1 L42.1 37.1 L41.3 35.4 L41.2 33.1 L41.6 30.5 L42.3 27.6 L42.7 24.4 L42.4 21.3 L41.4 18.7 L40.2 16.5 L39.0 14.8 L38.1 13.4 L37.4 12.5Z" fill="#727272"/>
<path d="M17.5 44.9Q30.5 45.8 43.3 43.7M17.1 53.1Q30.6 55.0 44.1 53.9M16.5 58.8Q30.1 61.3 43.9 60.8M15.5 66.0Q28.5 70.4 42.2 71.8M15.2 67.6Q24.7 76.4 35.9 82.8M17.3 68.4Q17.6 79.2 20.9 89.6" stroke="#5a5a5a" stroke-width="0.9" stroke-opacity="0.22" fill="none"/>
</g>
<path d="M34.3 12.9 L34.1 14.1 L33.7 15.6 L33.3 17.4 L32.7 19.1 L31.9 20.6 L31.1 21.8 L30.1 23.0 L28.6 24.8 L26.9 26.7 L25.1 28.6 L23.4 30.3 L22.2 31.6 L39.0 39.8 L39.2 38.2 L39.5 35.9 L40.1 33.1 L40.7 30.1 L41.2 27.0 L41.5 24.0 L41.2 21.2 L40.4 18.7 L39.4 16.6 L38.4 14.9 L37.6 13.5 L37.1 12.5Z" fill="#ffffff" opacity="0.22" filter="url(#bl2)"/>
<path d="M36.3 22.9L32.5 9.1M36.3 22.9L40.6 10.6" stroke="#8a8a8a" stroke-width="0.9" stroke-opacity="0.6" fill="none"/>
<circle cx="36.3" cy="22.9" r="2.3" fill="#1a1a1a" filter="url(#bl)"/>
<g filter="url(#shr)">
<path d="M46.1 7.1 L46.4 8.3 L46.8 9.9 L47.2 11.6 L47.2 13.4 L46.6 15.1 L45.5 16.3 L44.3 17.3 L42.9 19.0 L41.2 21.4 L39.3 24.5 L37.8 28.5 L37.1 33.2 L37.6 37.7 L38.5 41.6 L39.6 45.1 L40.7 48.2 L41.5 51.0 L42.2 53.8 L43.2 57.0 L44.4 60.1 L45.0 62.5 L45.1 64.0 L44.9 64.4 L45.1 64.4 L45.5 65.3 L45.8 66.7 L46.2 68.3 L46.1 69.8 L45.5 71.1 L44.6 72.5 L42.6 74.4 L39.3 76.7 L35.1 79.1 L30.8 81.5 L26.8 83.5 L23.7 85.1 L21.9 86.1 L20.9 86.7 L20.2 87.1 L19.5 87.4 L18.4 87.4 L17.2 87.5 L16.0 95.9 L16.4 96.2 L17.1 96.8 L18.7 97.5 L21.1 98.2 L24.0 98.5 L27.3 98.3 L31.2 97.8 L36.0 97.0 L41.4 96.0 L46.9 94.6 L52.4 92.9 L57.4 90.5 L61.7 87.4 L65.2 83.9 L68.4 80.2 L71.2 76.5 L73.2 72.5 L74.7 68.0 L75.1 62.7 L74.1 57.7 L72.6 53.8 L71.3 50.6 L70.5 48.1 L69.8 45.6 L68.8 42.6 L67.7 39.4 L66.7 36.4 L66.0 33.9 L65.4 31.8 L64.9 30.4 L64.0 29.3 L63.0 27.3 L62.0 24.6 L61.2 21.3 L60.3 17.9 L58.9 14.3 L56.7 11.4 L54.3 9.5 L52.3 8.0 L50.5 7.0 L49.1 6.3 L48.1 5.7Z" fill="#727272"/>
<path d="M43.0 53.4Q56.4 51.1 69.0 46.0M46.4 64.6Q60.0 62.3 72.7 57.1M46.0 67.6Q58.0 73.0 71.0 75.5M44.3 71.4Q52.6 80.4 62.9 87.2M38.8 76.3Q41.8 86.3 47.5 95.0M30.5 81.1Q32.0 89.7 36.2 97.4" stroke="#5a5a5a" stroke-width="0.9" stroke-opacity="0.22" fill="none"/>
</g>
<path d="M46.3 7.0 L46.7 8.1 L47.2 9.6 L47.7 11.2 L47.9 13.0 L47.6 14.8 L46.9 16.1 L46.0 17.8 L44.8 20.3 L43.4 23.2 L42.0 26.1 L40.8 28.7 L39.9 30.6 L62.1 33.0 L61.6 31.2 L61.1 28.4 L60.4 25.0 L59.7 21.4 L58.7 17.8 L57.5 14.5 L55.7 11.8 L53.6 9.9 L51.8 8.4 L50.1 7.3 L48.8 6.5 L47.9 5.8Z" fill="#ffffff" opacity="0.22" filter="url(#bl2)"/>
<path d="M52.2 15.3L42.6 4.6M52.2 15.3L50.6 2.4" stroke="#8a8a8a" stroke-width="0.9" stroke-opacity="0.6" fill="none"/>
<circle cx="52.2" cy="15.3" r="2.3" fill="#1a1a1a" filter="url(#bl)"/>
<g filter="url(#shr)">
<path d="M75.7 11.2 L76.2 12.1 L76.9 13.3 L77.4 14.6 L77.5 15.9 L76.9 16.8 L75.4 17.1 L74.3 17.5 L73.0 18.9 L71.4 21.2 L69.6 24.3 L68.0 28.4 L67.5 33.3 L68.2 38.0 L69.3 42.1 L70.5 45.8 L71.7 49.1 L72.6 51.9 L73.5 54.7 L75.0 57.7 L76.7 60.6 L77.9 62.7 L78.4 64.2 L78.5 64.6 L78.8 64.1 L79.5 64.0 L80.2 64.9 L80.5 66.3 L79.8 67.7 L78.9 69.2 L78.1 70.5 L77.1 71.9 L75.3 73.6 L72.9 75.5 L70.4 77.2 L68.1 78.8 L66.4 80.0 L71.2 90.8 L73.0 90.5 L75.7 89.9 L79.1 89.2 L82.7 88.2 L86.5 86.8 L90.1 84.9 L93.0 82.6 L95.6 80.2 L97.9 77.3 L100.6 74.3 L103.0 70.7 L104.6 65.9 L104.7 60.7 L103.5 56.2 L102.2 52.6 L101.0 49.6 L100.3 47.1 L99.7 44.7 L98.5 41.7 L96.9 38.6 L95.6 35.8 L94.4 33.3 L93.6 31.3 L93.1 30.3 L92.4 29.4 L91.5 27.7 L90.8 25.1 L90.3 22.0 L89.8 18.6 L88.6 14.9 L85.9 12.0 L83.4 10.4 L81.2 9.6 L79.4 9.3 L78.0 9.3 L77.1 9.2Z" fill="#727272"/>
<path d="M72.0 48.9Q84.9 45.2 96.6 38.8M74.0 54.4Q87.1 51.1 99.2 45.0M78.3 62.9Q90.6 59.0 101.7 52.4M80.0 65.2Q91.0 68.8 102.5 69.5M79.0 67.8Q86.8 75.2 96.3 80.1M76.3 71.8Q80.6 80.2 87.3 86.9" stroke="#5a5a5a" stroke-width="0.9" stroke-opacity="0.22" fill="none"/>
</g>
<path d="M75.8 11.0 L76.4 11.8 L77.1 12.9 L77.8 14.1 L78.1 15.3 L77.8 16.3 L76.7 17.0 L75.8 18.1 L74.8 20.4 L73.5 23.1 L72.2 25.9 L71.0 28.4 L70.1 30.3 L90.5 33.3 L90.2 31.5 L89.9 28.8 L89.5 25.4 L89.1 21.8 L88.4 18.3 L87.3 15.0 L85.0 12.5 L82.8 10.9 L80.8 10.1 L79.1 9.7 L77.8 9.6 L77.0 9.4Z" fill="#ffffff" opacity="0.22" filter="url(#bl2)"/>
<path d="M83.4 15.9L70.6 9.4M83.4 15.9L77.3 4.4" stroke="#8a8a8a" stroke-width="0.9" stroke-opacity="0.6" fill="none"/>
<circle cx="83.4" cy="15.9" r="2.3" fill="#1a1a1a" filter="url(#bl)"/>
</g></g>
<linearGradient id="g23" x1="0" y1="0" x2="0" y2="1"><stop offset="0" stop-color="#ebebeb"/><stop offset="1" stop-color="#e1e1e1"/></linearGradient>
<g clip-path="url(#c23)"><rect x="348" y="684" width="103" height="98" fill="url(#g23)"/>
<g transform="translate(348,684)">
<g filter="url(#gsh)" opacity="0.22">
<path d="M22.7 13.6 L22.7 14.4 L22.6 15.5 L22.4 16.6 L22.0 17.8 L21.5 18.9 L20.9 19.7 L20.1 20.6 L19.0 22.0 L17.5 24.1 L16.0 27.1 L14.9 31.1 L15.0 35.7 L16.5 39.9 L18.3 43.4 L20.1 46.5 L21.8 49.4 L23.3 52.0 L24.6 54.6 L26.3 57.4 L28.0 60.1 L29.4 62.6 L30.3 64.7 L30.4 66.1 L30.1 66.6 L30.1 66.7 L30.5 66.9 L31.3 67.0 L32.5 67.3 L33.6 67.8 L34.1 68.0 L34.2 68.6 L33.6 69.5 L32.3 70.6 L30.6 71.6 L28.5 72.5 L26.4 73.1 L23.9 73.4 L20.6 73.4 L17.1 73.2 L13.7 72.8 L10.7 72.5 L8.6 72.2 L7.4 79.0 L9.4 79.5 L12.3 80.2 L15.7 81.1 L19.4 82.0 L23.2 82.8 L26.6 83.3 L29.7 83.5 L32.8 83.7 L36.0 83.6 L39.1 83.2 L42.3 82.3 L45.5 80.6 L48.3 78.2 L51.2 75.5 L53.6 72.3 L54.9 68.6 L55.3 64.8 L54.7 60.8 L53.0 56.9 L50.8 53.6 L48.8 50.9 L47.0 48.3 L45.6 45.9 L44.4 43.6 L42.9 40.9 L41.1 38.2 L39.7 35.6 L38.7 33.3 L38.1 31.6 L38.0 30.7 L37.6 30.5 L36.8 29.6 L36.0 27.9 L35.6 25.6 L35.3 22.9 L34.9 20.1 L34.1 17.6 L33.1 15.7 L32.2 14.2 L31.3 13.0 L30.7 12.2 L30.3 11.6Z" fill="#000"/>
<path d="M48.5 10.8 L49.0 11.6 L49.6 12.4 L49.6 13.0 L48.9 13.3 L47.5 13.2 L46.0 12.5 L45.2 12.5 L44.2 13.8 L42.7 15.9 L41.0 18.8 L39.5 22.6 L38.7 26.9 L38.7 30.9 L39.1 34.6 L39.8 38.5 L40.7 42.3 L42.0 46.0 L43.6 49.9 L46.0 53.9 L48.5 57.4 L50.5 60.5 L51.9 63.0 L52.3 65.0 L52.0 66.0 L52.1 66.7 L52.4 67.7 L53.0 68.7 L53.6 69.8 L54.1 71.2 L54.7 72.6 L55.1 74.3 L54.4 76.1 L53.4 78.2 L52.0 80.4 L50.5 82.5 L49.2 84.3 L48.1 85.7 L46.9 86.9 L45.5 87.9 L44.1 88.9 L42.9 89.7 L41.9 90.4 L45.7 98.0 L46.7 97.7 L48.1 97.3 L50.0 96.7 L52.1 95.8 L54.5 94.8 L56.8 93.5 L59.1 92.1 L61.6 90.6 L64.3 88.7 L67.1 86.6 L69.8 84.0 L72.7 81.2 L75.0 78.1 L76.9 74.8 L78.2 71.2 L79.0 67.2 L78.9 63.1 L78.0 58.6 L75.7 54.2 L73.1 50.6 L70.9 47.4 L69.1 44.7 L68.1 42.3 L67.8 40.3 L67.3 38.1 L66.7 35.4 L66.2 32.8 L65.7 30.2 L65.2 27.9 L64.7 26.1 L64.1 24.9 L63.4 23.1 L62.9 20.8 L62.7 18.0 L62.5 15.0 L62.0 11.5 L59.9 8.2 L57.3 6.2 L55.1 5.1 L53.5 4.9 L52.7 5.0 L52.3 5.2Z" fill="#000"/>
<path d="M80.9 6.8 L80.7 7.8 L80.4 9.2 L80.0 10.6 L79.5 12.0 L78.9 13.5 L78.1 14.6 L77.2 15.8 L75.7 17.3 L73.7 19.4 L71.4 22.1 L69.2 25.8 L67.9 30.3 L67.7 34.7 L68.2 38.8 L69.0 42.8 L70.0 46.5 L71.2 50.1 L72.6 53.7 L74.6 57.4 L76.8 60.7 L78.5 63.5 L79.6 65.8 L80.0 67.6 L79.9 68.8 L80.2 70.3 L80.6 72.0 L80.9 73.2 L81.3 73.8 L82.1 74.2 L83.5 74.6 L83.8 75.5 L83.1 77.1 L81.8 78.9 L80.2 80.8 L78.4 82.6 L77.0 83.9 L75.8 84.8 L74.1 85.6 L72.0 86.2 L69.8 86.6 L67.8 86.9 L66.2 87.3 L66.4 95.7 L67.7 96.0 L69.7 96.4 L72.3 96.8 L75.3 97.1 L78.7 97.1 L82.2 96.5 L85.5 95.4 L88.8 94.2 L92.2 92.5 L95.6 90.5 L98.9 87.9 L102.1 84.6 L105.2 80.7 L106.8 76.3 L107.3 72.1 L107.2 68.3 L106.6 64.8 L105.7 61.2 L103.8 57.3 L101.6 54.0 L99.7 51.1 L98.3 48.6 L97.6 46.5 L97.2 44.5 L96.6 42.1 L95.9 39.4 L95.3 36.7 L94.8 34.2 L94.4 32.1 L93.9 30.7 L93.1 29.8 L92.2 28.2 L91.6 25.9 L91.4 23.2 L91.6 20.2 L91.7 17.2 L91.4 14.4 L90.9 12.1 L90.3 10.1 L89.7 8.5 L89.2 7.3 L88.9 6.4Z" fill="#000"/>
</g>
<g filter="url(#shr)">
<path d="M25.2 12.9 L24.9 13.8 L24.6 14.9 L24.2 16.2 L23.6 17.5 L22.8 18.7 L22.0 19.7 L21.0 20.7 L19.6 22.1 L17.9 24.2 L16.2 27.1 L15.0 31.1 L15.0 35.7 L16.4 39.9 L18.2 43.4 L20.1 46.5 L21.8 49.4 L23.3 52.1 L24.6 54.6 L26.3 57.4 L28.0 60.1 L29.4 62.6 L30.3 64.7 L30.4 66.1 L30.1 66.6 L30.1 66.7 L30.5 66.9 L31.3 67.0 L32.5 67.3 L33.6 67.8 L34.1 68.0 L34.2 68.6 L33.6 69.5 L32.3 70.6 L30.6 71.6 L28.5 72.5 L26.4 73.1 L23.9 73.4 L20.6 73.4 L17.1 73.2 L13.7 72.8 L10.7 72.5 L8.6 72.2 L7.4 79.0 L9.4 79.5 L12.3 80.2 L15.7 81.1 L19.4 82.0 L23.2 82.8 L26.6 83.3 L29.7 83.5 L32.8 83.7 L36.0 83.6 L39.1 83.2 L42.3 82.3 L45.5 80.6 L48.3 78.2 L51.2 75.5 L53.6 72.3 L54.9 68.6 L55.3 64.8 L54.7 60.8 L53.0 56.9 L50.8 53.6 L48.8 50.9 L47.0 48.3 L45.6 45.9 L44.4 43.6 L42.9 40.9 L41.2 38.2 L39.8 35.6 L38.7 33.3 L38.2 31.6 L38.0 30.7 L37.5 30.5 L36.5 29.6 L35.6 27.8 L35.0 25.5 L34.5 22.8 L33.8 20.1 L32.8 17.8 L31.6 16.0 L30.4 14.6 L29.3 13.6 L28.4 12.8 L27.8 12.3Z" fill="#7e7e7e"/>
<path d="M24.3 54.7Q35.2 50.4 44.7 43.5M29.0 63.1Q39.9 58.0 49.2 50.4M31.4 67.4Q42.9 67.3 54.0 64.2M32.7 68.3Q40.2 74.3 49.3 77.6M30.3 71.3Q30.3 78.0 33.2 84.0M23.6 73.1Q22.0 78.1 23.4 83.1" stroke="#5a5a5a" stroke-width="0.9" stroke-opacity="0.22" fill="none"/>
</g>
<path d="M25.4 12.9 L25.3 13.7 L25.1 14.8 L24.8 16.0 L24.4 17.3 L23.8 18.6 L23.1 19.9 L22.3 21.5 L21.2 23.7 L20.0 26.1 L18.8 28.5 L17.8 30.6 L17.0 32.0 L36.0 34.4 L35.6 32.8 L35.1 30.6 L34.6 27.9 L34.0 25.0 L33.3 22.3 L32.7 19.9 L31.8 17.9 L30.8 16.2 L29.8 14.8 L28.8 13.7 L28.1 12.9 L27.6 12.3Z" fill="#ffffff" opacity="0.22" filter="url(#bl2)"/>
<path d="M27.9 19.9L22.3 6.7M27.9 19.9L30.6 7.2" stroke="#8a8a8a" stroke-width="0.9" stroke-opacity="0.6" fill="none"/>
<circle cx="27.9" cy="19.9" r="2.3" fill="#1a1a1a" filter="url(#bl)"/>
<g filter="url(#shr)">
<path d="M49.7 9.0 L50.0 9.8 L50.5 10.7 L50.5 11.7 L50.0 12.4 L48.7 12.7 L47.2 12.4 L46.2 12.7 L44.9 13.9 L43.2 16.0 L41.3 18.9 L39.6 22.6 L38.7 26.9 L38.6 30.9 L39.0 34.7 L39.7 38.5 L40.7 42.3 L42.0 46.0 L43.6 49.9 L46.0 53.9 L48.5 57.4 L50.5 60.5 L51.9 63.0 L52.3 65.0 L52.0 66.0 L52.1 66.7 L52.4 67.7 L53.0 68.7 L53.6 69.8 L54.1 71.2 L54.7 72.6 L55.1 74.3 L54.4 76.1 L53.4 78.2 L52.0 80.4 L50.5 82.5 L49.2 84.3 L48.1 85.7 L46.9 86.9 L45.5 87.9 L44.1 88.9 L42.9 89.7 L41.9 90.4 L45.7 98.0 L46.7 97.7 L48.1 97.3 L50.0 96.7 L52.1 95.8 L54.5 94.8 L56.8 93.5 L59.1 92.1 L61.6 90.6 L64.3 88.7 L67.1 86.6 L69.8 84.0 L72.7 81.2 L75.0 78.1 L76.9 74.8 L78.2 71.2 L79.0 67.2 L78.9 63.1 L78.0 58.6 L75.7 54.2 L73.1 50.6 L70.9 47.4 L69.1 44.7 L68.1 42.3 L67.8 40.3 L67.4 38.1 L66.8 35.4 L66.3 32.8 L65.8 30.2 L65.3 27.9 L64.7 26.1 L63.9 24.9 L63.1 23.1 L62.4 20.6 L62.0 17.9 L61.6 14.9 L60.8 11.6 L58.7 8.7 L56.2 7.1 L54.2 6.5 L52.6 6.6 L51.7 6.8 L51.1 7.0Z" fill="#7e7e7e"/>
<path d="M43.8 49.2Q56.2 46.5 67.6 41.0M49.9 60.9Q61.5 55.2 71.5 47.0M53.2 66.7Q65.5 63.7 76.8 57.9M54.1 69.5Q65.5 71.4 77.1 70.4M54.3 74.5Q61.7 80.4 70.6 83.7M51.6 80.2Q55.7 86.5 62.0 90.8" stroke="#5a5a5a" stroke-width="0.9" stroke-opacity="0.22" fill="none"/>
</g>
<path d="M49.9 8.8 L50.2 9.5 L50.7 10.3 L50.9 11.2 L50.7 11.8 L49.7 12.3 L48.6 12.4 L47.7 13.4 L46.5 15.5 L45.2 18.0 L43.8 20.6 L42.5 22.9 L41.7 24.6 L61.7 28.4 L61.5 26.7 L61.3 24.1 L61.0 21.0 L60.6 17.7 L60.2 14.5 L59.4 11.6 L57.7 9.1 L55.6 7.6 L53.8 7.0 L52.4 7.0 L51.5 7.1 L50.9 7.2Z" fill="#ffffff" opacity="0.22" filter="url(#bl2)"/>
<path d="M55.7 10.6L41.8 7.1M55.7 10.6L47.1 0.8" stroke="#8a8a8a" stroke-width="0.9" stroke-opacity="0.6" fill="none"/>
<circle cx="55.7" cy="10.6" r="2.3" fill="#1a1a1a" filter="url(#bl)"/>
<g filter="url(#shr)">
<path d="M83.5 6.7 L83.1 7.7 L82.6 9.0 L81.9 10.5 L81.1 12.0 L80.2 13.6 L79.2 14.8 L77.9 16.0 L76.2 17.5 L74.1 19.5 L71.6 22.2 L69.3 25.8 L67.9 30.3 L67.7 34.7 L68.1 38.8 L68.9 42.8 L70.0 46.5 L71.2 50.1 L72.6 53.7 L74.6 57.4 L76.8 60.7 L78.5 63.5 L79.6 65.8 L80.0 67.6 L79.9 68.8 L80.2 70.3 L80.6 72.0 L80.9 73.2 L81.3 73.8 L82.1 74.2 L83.5 74.6 L83.8 75.5 L83.1 77.1 L81.8 78.9 L80.2 80.8 L78.4 82.6 L77.0 83.9 L75.8 84.8 L74.1 85.6 L72.0 86.2 L69.8 86.6 L67.8 86.9 L66.2 87.3 L66.4 95.7 L67.7 96.0 L69.7 96.4 L72.3 96.8 L75.3 97.1 L78.7 97.1 L82.2 96.5 L85.5 95.4 L88.8 94.2 L92.2 92.5 L95.6 90.5 L98.9 87.9 L102.1 84.6 L105.2 80.7 L106.8 76.3 L107.3 72.1 L107.2 68.3 L106.6 64.8 L105.7 61.2 L103.8 57.3 L101.6 54.0 L99.7 51.1 L98.3 48.6 L97.6 46.5 L97.2 44.5 L96.6 42.1 L96.0 39.4 L95.4 36.7 L94.9 34.2 L94.5 32.1 L93.9 30.7 L93.0 29.7 L91.9 28.1 L91.2 25.7 L90.9 22.9 L90.8 20.0 L90.6 17.0 L90.1 14.3 L89.3 12.1 L88.4 10.2 L87.5 8.6 L86.8 7.4 L86.3 6.5Z" fill="#7e7e7e"/>
<path d="M72.9 53.0Q85.4 50.5 96.9 45.2M78.1 63.8Q89.9 58.6 100.1 50.8M80.9 69.2Q93.3 66.4 104.7 60.8M82.5 74.8Q94.0 76.6 105.7 75.3M82.4 77.1Q88.3 84.9 96.4 90.5M78.0 82.3Q80.7 89.8 85.9 95.7" stroke="#5a5a5a" stroke-width="0.9" stroke-opacity="0.22" fill="none"/>
</g>
<path d="M83.8 6.7 L83.5 7.6 L83.1 9.0 L82.6 10.5 L81.9 12.0 L81.2 13.6 L80.3 15.1 L79.1 16.9 L77.5 19.2 L75.7 21.7 L74.0 24.1 L72.4 26.2 L71.3 27.7 L90.5 33.3 L90.4 31.5 L90.2 29.0 L90.1 25.9 L90.0 22.6 L89.8 19.5 L89.5 16.7 L89.1 14.2 L88.5 12.1 L87.7 10.2 L87.0 8.7 L86.4 7.5 L86.0 6.5Z" fill="#ffffff" opacity="0.22" filter="url(#bl2)"/>
<path d="M84.9 15.9L81.9 1.9M84.9 15.9L89.9 3.9" stroke="#8a8a8a" stroke-width="0.9" stroke-opacity="0.6" fill="none"/>
<circle cx="84.9" cy="15.9" r="2.3" fill="#1a1a1a" filter="url(#bl)"/>
</g></g>
<linearGradient id="g24" x1="0" y1="0" x2="0" y2="1"><stop offset="0" stop-color="#e9e9e9"/><stop offset="1" stop-color="#dfdfdf"/></linearGradient>
<g clip-path="url(#c24)"><rect x="451" y="684" width="101" height="98" fill="url(#g24)"/>
<g transform="translate(451,684)">
<g filter="url(#gsh)" opacity="0.22">
<path d="M18.8 3.9 L18.5 4.7 L18.1 5.8 L17.6 7.5 L17.1 9.6 L16.8 12.0 L17.0 14.9 L17.5 18.0 L18.1 21.2 L18.5 24.3 L18.6 27.2 L18.2 29.6 L17.6 31.5 L17.4 33.7 L17.4 36.0 L17.3 37.8 L17.3 38.9 L17.5 39.7 L18.5 40.1 L18.8 41.0 L17.4 42.7 L15.1 45.1 L12.2 47.9 L9.2 51.2 L6.5 54.8 L4.3 57.9 L2.5 60.8 L0.7 64.2 L-0.2 68.6 L0.5 73.4 L3.7 77.8 L7.0 81.1 L10.4 83.5 L13.8 85.1 L17.1 86.3 L20.2 87.3 L23.2 88.1 L26.4 88.8 L29.7 89.3 L32.8 89.6 L35.5 89.8 L37.8 89.8 L39.3 89.9 L41.3 81.7 L39.7 81.0 L37.6 80.2 L35.2 79.2 L32.7 78.1 L30.6 77.0 L28.8 75.7 L26.9 74.2 L24.9 72.4 L23.1 70.6 L21.8 69.0 L21.5 67.9 L22.3 67.8 L24.2 68.6 L24.8 69.9 L24.5 70.5 L24.1 70.0 L24.3 68.7 L24.7 67.4 L25.8 66.3 L27.8 64.5 L30.8 62.1 L34.1 59.2 L37.6 55.4 L41.3 50.9 L44.1 45.8 L45.1 40.9 L45.1 36.3 L44.4 32.4 L43.5 29.0 L42.2 25.7 L40.1 22.1 L37.4 18.9 L34.9 16.3 L32.6 14.2 L30.9 12.4 L29.8 11.1 L29.1 10.0 L28.4 8.7 L27.8 7.5 L27.4 6.2 L27.1 4.9 L26.8 3.9Z" fill="#000"/>
<path d="M52.1 9.5 L51.8 9.6 L51.4 9.8 L50.7 10.5 L49.9 11.7 L49.1 13.1 L48.3 15.1 L47.5 17.6 L46.7 20.6 L45.7 23.6 L44.7 26.6 L43.8 29.3 L43.0 31.4 L42.4 33.3 L41.8 35.4 L41.2 37.8 L40.5 40.3 L39.8 43.0 L39.3 45.4 L39.0 47.3 L38.4 49.5 L37.2 52.4 L35.5 55.8 L34.0 60.4 L33.9 65.9 L35.5 70.9 L37.9 74.7 L40.6 77.8 L42.8 80.6 L45.1 83.0 L47.5 85.3 L50.4 87.6 L53.7 89.7 L57.0 91.5 L60.0 92.9 L62.6 94.1 L64.3 94.9 L70.9 87.1 L69.7 85.4 L68.0 83.2 L66.2 80.6 L64.4 77.9 L62.9 75.4 L61.7 73.3 L60.6 71.1 L59.4 69.0 L58.6 67.0 L58.5 65.2 L59.0 64.1 L59.7 64.1 L59.8 64.6 L59.7 64.0 L60.2 62.4 L61.4 60.0 L63.1 56.9 L64.7 53.4 L65.7 50.3 L66.6 47.5 L67.4 44.4 L68.2 41.0 L68.7 37.5 L68.8 33.6 L68.3 29.6 L67.2 25.8 L65.9 22.3 L64.5 19.2 L63.2 16.7 L62.3 14.9 L61.6 13.7 L61.0 13.0 L60.5 12.7 L60.0 12.4 L59.8 11.9 L59.7 11.3Z" fill="#000"/>
<path d="M71.5 12.4 L71.2 12.8 L70.6 13.5 L69.7 14.9 L69.0 17.0 L68.8 19.7 L69.6 22.8 L71.1 25.9 L72.5 29.1 L73.9 32.0 L74.7 34.5 L74.0 36.4 L72.6 36.3 L72.3 35.5 L72.3 36.4 L71.7 38.4 L70.4 41.1 L68.6 44.2 L66.9 47.4 L65.8 50.2 L64.9 52.9 L63.7 55.8 L62.4 59.1 L61.2 63.0 L60.8 67.3 L61.4 71.2 L62.6 74.8 L64.6 77.9 L67.1 80.6 L69.4 83.1 L72.2 85.5 L75.7 87.6 L79.6 89.3 L83.7 90.7 L87.5 91.8 L90.6 92.7 L92.8 93.4 L97.0 86.0 L95.2 84.4 L92.7 82.3 L89.9 79.8 L87.1 77.2 L85.0 74.9 L83.8 73.1 L83.3 71.8 L82.9 70.7 L83.4 69.6 L84.0 68.9 L84.5 68.3 L84.8 67.9 L84.9 67.5 L85.1 66.3 L85.7 64.4 L86.7 62.0 L88.1 59.2 L89.1 56.6 L89.8 54.3 L90.9 51.7 L92.6 48.6 L94.5 44.8 L96.3 40.1 L96.4 33.9 L93.5 28.4 L89.8 24.9 L86.9 22.1 L84.1 20.0 L82.0 18.5 L81.2 17.6 L81.0 17.2 L80.5 16.9 L79.9 16.4 L79.5 15.6 L79.4 14.6 L79.3 13.6Z" fill="#000"/>
</g>
<g filter="url(#shr)">
<path d="M21.4 3.9 L20.9 4.8 L20.3 5.9 L19.5 7.5 L18.7 9.4 L18.1 11.8 L17.9 14.6 L18.2 17.7 L18.6 20.9 L18.8 24.1 L18.8 27.1 L18.3 29.6 L17.6 31.5 L17.3 33.7 L17.3 36.0 L17.2 37.8 L17.2 38.9 L17.5 39.6 L18.5 40.1 L18.8 41.0 L17.4 42.7 L15.1 45.1 L12.2 47.9 L9.2 51.2 L6.5 54.8 L4.3 57.9 L2.5 60.8 L0.7 64.2 L-0.2 68.6 L0.5 73.4 L3.7 77.8 L7.0 81.1 L10.4 83.5 L13.8 85.1 L17.1 86.3 L20.2 87.3 L23.2 88.1 L26.4 88.8 L29.7 89.3 L32.8 89.6 L35.5 89.8 L37.8 89.8 L39.3 89.9 L41.3 81.7 L39.7 81.0 L37.6 80.2 L35.2 79.2 L32.7 78.1 L30.6 77.0 L28.8 75.7 L26.9 74.2 L24.9 72.4 L23.1 70.6 L21.8 69.0 L21.5 67.9 L22.3 67.8 L24.2 68.6 L24.8 69.9 L24.5 70.5 L24.1 70.0 L24.3 68.7 L24.7 67.4 L25.8 66.3 L27.8 64.5 L30.8 62.1 L34.1 59.2 L37.6 55.4 L41.3 50.9 L44.1 45.8 L45.2 40.9 L45.2 36.3 L44.5 32.4 L43.6 29.0 L42.2 25.7 L40.0 22.1 L37.2 19.0 L34.5 16.5 L32.1 14.4 L30.2 12.7 L28.9 11.4 L27.8 10.2 L26.8 8.9 L25.9 7.5 L25.2 6.1 L24.7 4.9 L24.2 3.9Z" fill="#7c7c7c"/>
<path d="M17.9 41.6Q29.4 46.9 41.9 49.4M14.5 44.7Q21.8 54.7 31.3 62.5M9.2 50.3Q16.4 59.8 25.8 67.2M1.8 63.6Q12.1 68.8 23.4 71.2M9.6 83.5Q17.2 77.2 22.7 69.0M19.9 87.6Q24.9 81.4 27.2 73.8" stroke="#5a5a5a" stroke-width="0.9" stroke-opacity="0.22" fill="none"/>
</g>
<path d="M21.7 3.9 L21.3 4.8 L20.8 5.9 L20.1 7.5 L19.5 9.4 L19.1 11.7 L19.0 14.3 L19.3 17.3 L19.7 20.7 L20.1 24.2 L20.6 27.6 L21.0 30.4 L21.2 32.4 L38.6 24.8 L37.3 23.2 L35.4 21.0 L33.2 18.5 L31.1 15.9 L29.2 13.6 L27.8 11.7 L26.8 10.3 L26.0 8.9 L25.3 7.5 L24.7 6.1 L24.3 4.9 L23.9 3.9Z" fill="#ffffff" opacity="0.22" filter="url(#bl2)"/>
<path d="M23.4 13.0L19.5 -0.8M23.4 13.0L27.6 0.7" stroke="#8a8a8a" stroke-width="0.9" stroke-opacity="0.6" fill="none"/>
<circle cx="23.4" cy="13" r="2.3" fill="#1a1a1a" filter="url(#bl)"/>
<g filter="url(#shr)">
<path d="M54.6 10.1 L54.1 10.3 L53.4 10.4 L52.5 10.9 L51.4 11.8 L50.4 13.2 L49.4 15.1 L48.4 17.6 L47.3 20.5 L46.2 23.6 L45.0 26.6 L43.9 29.3 L43.0 31.4 L42.3 33.2 L41.7 35.4 L41.1 37.8 L40.5 40.3 L39.8 43.0 L39.3 45.4 L39.0 47.3 L38.4 49.5 L37.2 52.4 L35.5 55.8 L34.0 60.4 L33.9 65.9 L35.5 70.9 L37.9 74.7 L40.6 77.8 L42.8 80.6 L45.1 83.0 L47.5 85.3 L50.4 87.6 L53.7 89.7 L57.0 91.5 L60.0 92.9 L62.6 94.1 L64.3 94.9 L70.9 87.1 L69.7 85.4 L68.0 83.2 L66.2 80.6 L64.4 77.9 L62.9 75.4 L61.7 73.3 L60.6 71.1 L59.4 69.0 L58.6 67.0 L58.5 65.2 L59.0 64.1 L59.7 64.1 L59.8 64.6 L59.7 64.0 L60.2 62.4 L61.4 60.0 L63.1 56.9 L64.7 53.4 L65.8 50.3 L66.6 47.5 L67.5 44.4 L68.2 41.0 L68.7 37.5 L68.8 33.6 L68.2 29.6 L67.0 25.8 L65.5 22.4 L63.9 19.3 L62.4 16.8 L61.2 14.9 L60.3 13.7 L59.5 12.8 L58.7 12.3 L58.0 11.8 L57.6 11.2 L57.2 10.7Z" fill="#7c7c7c"/>
<path d="M40.6 43.2Q52.4 48.1 64.9 50.1M39.2 47.9Q50.6 53.5 62.9 56.2M36.4 55.4Q47.1 61.3 58.9 64.5M36.0 69.7Q47.6 69.0 58.6 65.3M42.2 80.7Q52.0 76.0 60.1 68.9M49.7 87.7Q57.6 82.6 63.5 75.3" stroke="#5a5a5a" stroke-width="0.9" stroke-opacity="0.22" fill="none"/>
</g>
<path d="M54.8 10.2 L54.4 10.4 L53.9 10.6 L53.1 11.1 L52.2 11.9 L51.4 13.2 L50.5 15.0 L49.7 17.5 L48.7 20.8 L47.8 24.3 L46.9 27.8 L46.1 30.8 L45.5 32.9 L66.3 32.1 L65.6 30.1 L64.5 27.1 L63.4 23.7 L62.1 20.3 L61.0 17.2 L60.1 15.0 L59.3 13.6 L58.6 12.7 L58.0 12.1 L57.5 11.7 L57.2 11.1 L57.0 10.6Z" fill="#ffffff" opacity="0.22" filter="url(#bl2)"/>
<path d="M55.3 15.0L54.1 0.7M55.3 15.0L61.8 3.7" stroke="#8a8a8a" stroke-width="0.9" stroke-opacity="0.6" fill="none"/>
<circle cx="55.3" cy="15" r="2.3" fill="#1a1a1a" filter="url(#bl)"/>
<g filter="url(#shr)">
<path d="M74.0 12.8 L73.5 13.3 L72.7 14.0 L71.6 15.2 L70.6 17.0 L70.0 19.5 L70.5 22.4 L71.7 25.5 L73.0 28.7 L74.1 31.8 L74.9 34.4 L74.1 36.4 L72.6 36.3 L72.3 35.5 L72.3 36.4 L71.7 38.4 L70.4 41.1 L68.6 44.2 L66.9 47.4 L65.8 50.2 L64.9 52.9 L63.7 55.8 L62.4 59.1 L61.2 63.0 L60.8 67.3 L61.4 71.2 L62.6 74.8 L64.6 77.9 L67.1 80.6 L69.4 83.1 L72.2 85.5 L75.7 87.6 L79.6 89.3 L83.7 90.7 L87.5 91.8 L90.6 92.7 L92.8 93.4 L97.0 86.0 L95.2 84.4 L92.7 82.3 L89.9 79.8 L87.1 77.2 L85.0 74.9 L83.8 73.1 L83.3 71.8 L82.9 70.7 L83.4 69.6 L84.0 68.9 L84.5 68.3 L84.8 67.9 L84.9 67.5 L85.1 66.3 L85.7 64.4 L86.7 62.0 L88.1 59.2 L89.1 56.6 L89.8 54.3 L90.9 51.7 L92.6 48.6 L94.6 44.9 L96.3 40.1 L96.4 33.9 L93.4 28.5 L89.7 25.0 L86.6 22.3 L83.7 20.3 L81.4 18.9 L80.3 18.0 L79.7 17.5 L78.9 16.9 L78.1 16.1 L77.5 15.1 L77.1 14.1 L76.8 13.2Z" fill="#7c7c7c"/>
<path d="M70.3 41.0Q80.0 47.7 91.0 51.8M66.1 50.5Q76.4 56.1 87.8 59.0M64.1 55.7Q74.1 61.5 85.2 64.5M62.4 70.4Q73.0 71.3 83.5 69.2M68.7 83.0Q77.2 78.7 84.0 71.9M79.2 89.5Q84.6 84.1 87.5 77.0" stroke="#5a5a5a" stroke-width="0.9" stroke-opacity="0.22" fill="none"/>
</g>
<path d="M74.3 12.8 L73.9 13.4 L73.1 14.1 L72.2 15.3 L71.4 17.0 L71.0 19.3 L71.3 21.9 L72.2 24.7 L73.4 28.0 L74.6 31.5 L75.9 34.8 L76.9 37.6 L77.6 39.5 L91.4 30.7 L89.9 29.2 L87.7 27.1 L85.3 24.7 L82.8 22.3 L80.8 20.1 L79.5 18.5 L78.7 17.7 L78.0 16.9 L77.4 16.0 L77.0 15.0 L76.7 14.0 L76.5 13.2Z" fill="#ffffff" opacity="0.22" filter="url(#bl2)"/>
<path d="M75.4 20.2L72.4 6.2M75.4 20.2L80.4 8.2" stroke="#8a8a8a" stroke-width="0.9" stroke-opacity="0.6" fill="none"/>
<circle cx="75.4" cy="20.2" r="2.3" fill="#1a1a1a" filter="url(#bl)"/>
</g></g>
<linearGradient id="g25" x1="0" y1="0" x2="0" y2="1"><stop offset="0" stop-color="#ededed"/><stop offset="1" stop-color="#e3e3e3"/></linearGradient>
<g clip-path="url(#c25)"><rect x="552" y="684" width="108" height="98" fill="url(#g25)"/>
<g transform="translate(552,684)">
<g filter="url(#gsh)" opacity="0.22">
<path d="M28.2 6.2 L27.5 7.3 L26.7 8.8 L25.7 10.3 L24.6 12.0 L23.5 13.7 L22.4 15.3 L21.1 16.9 L19.2 19.0 L16.8 21.4 L14.1 24.2 L11.2 27.6 L8.7 31.6 L7.2 35.8 L6.4 39.9 L6.1 44.0 L6.3 48.0 L6.7 51.8 L7.7 56.1 L9.6 60.6 L11.9 64.4 L13.7 67.4 L14.6 69.7 L14.4 70.9 L13.9 70.7 L14.1 70.5 L14.5 71.2 L15.0 72.3 L15.5 73.7 L15.3 75.1 L15.1 76.2 L14.6 77.4 L13.1 79.2 L10.8 81.3 L8.4 83.3 L6.1 85.1 L4.4 86.4 L9.6 97.2 L11.5 96.8 L14.3 96.3 L17.8 95.6 L21.7 94.6 L25.7 93.0 L29.5 90.6 L32.5 87.7 L35.2 84.8 L37.9 81.6 L40.0 77.8 L41.4 73.5 L41.7 68.3 L40.2 62.9 L37.7 58.7 L35.7 55.5 L34.4 52.9 L34.0 51.0 L34.1 49.7 L34.1 48.1 L33.9 45.9 L33.8 43.7 L33.6 41.7 L33.5 39.7 L33.1 38.0 L32.5 36.1 L32.4 33.6 L32.9 30.6 L33.8 27.4 L35.0 24.2 L36.0 20.9 L36.6 17.9 L36.7 15.1 L36.6 12.7 L36.3 10.6 L36.0 9.0 L35.8 7.8Z" fill="#000"/>
<path d="M51.7 8.9 L51.6 9.8 L51.5 10.5 L51.0 10.8 L50.4 10.9 L49.9 11.2 L49.3 11.8 L48.3 13.0 L46.4 14.8 L43.9 17.3 L41.1 20.3 L38.1 24.2 L35.9 29.0 L35.0 34.2 L35.0 39.0 L35.5 43.4 L36.0 47.4 L36.6 51.0 L37.2 54.6 L38.2 58.6 L39.5 62.4 L40.4 65.4 L40.6 67.3 L40.5 67.8 L41.0 67.0 L42.4 66.9 L43.3 68.5 L42.6 70.3 L41.6 72.5 L40.4 74.7 L39.5 76.5 L39.3 77.7 L39.1 78.7 L38.6 79.8 L37.7 81.0 L36.7 82.0 L35.8 82.8 L39.4 92.4 L40.3 92.5 L41.7 92.8 L43.7 92.9 L46.3 92.6 L49.4 91.7 L52.3 90.3 L54.8 88.6 L57.5 86.8 L60.4 84.3 L63.4 81.1 L67.1 77.4 L70.2 72.0 L70.9 65.7 L69.8 60.5 L68.3 56.5 L67.1 53.3 L66.3 50.8 L65.8 48.4 L65.1 45.3 L64.2 41.8 L63.4 38.6 L62.7 35.8 L62.2 33.5 L61.5 32.2 L60.6 30.7 L60.0 28.3 L60.0 25.3 L60.5 22.1 L61.2 19.0 L61.9 16.0 L62.1 13.3 L61.8 11.1 L61.0 9.3 L60.2 8.1 L59.7 7.8 L59.5 7.7Z" fill="#000"/>
<path d="M66.9 10.0 L66.6 10.7 L66.2 11.5 L65.8 12.6 L65.2 13.9 L64.6 15.5 L63.9 17.2 L62.9 19.2 L61.6 21.7 L60.2 24.9 L58.9 28.8 L58.2 33.3 L58.8 38.1 L60.6 42.5 L62.8 46.3 L65.0 49.6 L67.0 52.7 L69.0 55.5 L71.1 58.5 L73.7 61.9 L76.7 65.1 L79.3 67.7 L81.2 69.7 L81.8 70.9 L80.8 70.8 L80.6 70.3 L81.2 70.7 L81.8 71.8 L82.1 73.3 L81.5 74.5 L81.0 75.6 L79.5 77.1 L76.4 79.0 L72.3 80.9 L68.0 82.7 L64.1 84.3 L61.4 85.4 L63.8 95.4 L66.6 95.2 L70.7 95.0 L75.7 94.8 L81.0 94.2 L86.4 93.2 L91.4 91.2 L95.6 88.2 L98.8 84.7 L102.1 81.1 L104.7 76.7 L106.1 71.6 L105.6 65.6 L102.7 60.1 L99.5 55.8 L96.7 52.2 L94.1 49.2 L92.0 46.7 L90.3 44.5 L88.6 42.0 L86.7 39.2 L85.0 36.8 L83.9 34.6 L83.3 32.7 L83.0 31.5 L82.4 30.4 L81.4 28.6 L80.4 26.1 L79.4 23.3 L78.6 20.3 L77.9 17.6 L77.2 15.5 L76.6 13.9 L76.0 12.6 L75.6 11.5 L75.2 10.7 L74.9 10.0Z" fill="#000"/>
</g>
<g filter="url(#shr)">
<path d="M30.7 6.7 L29.9 7.8 L28.8 9.2 L27.6 10.7 L26.2 12.4 L24.8 14.1 L23.4 15.7 L21.9 17.3 L19.8 19.3 L17.2 21.6 L14.3 24.3 L11.3 27.6 L8.7 31.6 L7.1 35.8 L6.3 39.9 L6.1 44.0 L6.2 48.0 L6.7 51.8 L7.7 56.1 L9.6 60.6 L11.9 64.4 L13.7 67.4 L14.6 69.7 L14.4 70.9 L13.9 70.7 L14.1 70.5 L14.5 71.2 L15.0 72.3 L15.5 73.7 L15.3 75.1 L15.1 76.2 L14.6 77.4 L13.1 79.2 L10.8 81.3 L8.4 83.3 L6.1 85.1 L4.4 86.4 L9.6 97.2 L11.5 96.8 L14.3 96.3 L17.8 95.6 L21.7 94.6 L25.7 93.0 L29.5 90.6 L32.5 87.7 L35.2 84.8 L37.9 81.6 L40.0 77.8 L41.4 73.5 L41.7 68.3 L40.2 62.9 L37.7 58.7 L35.7 55.5 L34.4 52.9 L34.0 51.0 L34.1 49.7 L34.1 48.1 L33.9 45.9 L33.8 43.7 L33.7 41.7 L33.5 39.7 L33.1 38.0 L32.4 36.1 L32.2 33.5 L32.5 30.4 L33.3 27.1 L34.2 23.8 L35.0 20.5 L35.3 17.5 L35.1 14.7 L34.7 12.3 L34.2 10.2 L33.7 8.5 L33.3 7.3Z" fill="#868686"/>
<path d="M7.5 43.5Q19.9 45.4 32.4 44.2M8.5 55.0Q21.1 54.4 33.3 50.8M13.5 67.6Q25.4 62.8 35.9 55.3M15.4 71.9Q28.1 71.0 40.2 67.1M15.1 73.2Q26.0 78.4 37.8 80.8M13.6 77.4Q19.0 86.2 26.7 93.0" stroke="#5a5a5a" stroke-width="0.9" stroke-opacity="0.22" fill="none"/>
</g>
<path d="M30.9 6.8 L30.2 7.8 L29.3 9.3 L28.3 10.9 L27.1 12.7 L25.8 14.5 L24.5 16.2 L22.9 18.4 L20.7 21.0 L18.4 23.8 L16.1 26.5 L14.1 28.9 L12.7 30.6 L29.1 39.0 L29.6 36.9 L30.4 34.0 L31.4 30.5 L32.3 26.7 L33.2 23.1 L33.9 20.0 L34.2 17.1 L34.2 14.5 L34.0 12.1 L33.6 10.1 L33.3 8.4 L33.1 7.2Z" fill="#ffffff" opacity="0.22" filter="url(#bl2)"/>
<path d="M29.2 18.1L29.7 3.8M29.2 18.1L37.0 7.7" stroke="#8a8a8a" stroke-width="0.9" stroke-opacity="0.6" fill="none"/>
<circle cx="29.2" cy="18.1" r="2.3" fill="#1a1a1a" filter="url(#bl)"/>
<g filter="url(#shr)">
<path d="M54.2 8.5 L53.9 9.2 L53.5 10.0 L52.9 10.5 L52.0 10.9 L51.2 11.4 L50.3 12.1 L49.0 13.3 L46.9 15.1 L44.3 17.4 L41.3 20.4 L38.2 24.2 L35.9 29.0 L34.9 34.2 L34.9 39.0 L35.4 43.4 L36.0 47.4 L36.6 51.0 L37.2 54.6 L38.2 58.6 L39.5 62.4 L40.4 65.4 L40.6 67.3 L40.5 67.8 L41.0 67.0 L42.4 66.9 L43.3 68.5 L42.6 70.3 L41.6 72.5 L40.4 74.7 L39.5 76.5 L39.3 77.7 L39.1 78.7 L38.6 79.8 L37.7 81.0 L36.7 82.0 L35.8 82.8 L39.4 92.4 L40.3 92.5 L41.7 92.8 L43.7 92.9 L46.3 92.6 L49.4 91.7 L52.3 90.3 L54.8 88.6 L57.5 86.8 L60.4 84.3 L63.4 81.1 L67.1 77.4 L70.2 72.0 L70.9 65.7 L69.8 60.5 L68.3 56.5 L67.1 53.3 L66.3 50.8 L65.8 48.4 L65.1 45.3 L64.2 41.8 L63.4 38.6 L62.8 35.7 L62.2 33.5 L61.5 32.2 L60.5 30.7 L59.8 28.2 L59.7 25.2 L60.0 21.9 L60.5 18.7 L60.9 15.7 L60.8 13.1 L60.2 11.1 L59.2 9.6 L58.2 8.7 L57.4 8.3 L57.0 8.1Z" fill="#868686"/>
<path d="M36.6 42.9Q49.6 42.5 62.3 39.0M38.2 54.1Q51.8 53.0 64.8 48.9M40.2 62.1Q53.7 59.3 66.4 53.7M42.2 69.1Q56.0 68.2 69.2 64.4M42.3 68.8Q52.6 76.1 64.4 80.8M40.9 72.3Q48.6 80.8 58.1 87.0" stroke="#5a5a5a" stroke-width="0.9" stroke-opacity="0.22" fill="none"/>
</g>
<path d="M54.5 8.5 L54.3 9.1 L54.0 9.9 L53.5 10.4 L52.8 11.0 L52.1 11.6 L51.3 12.6 L49.8 14.4 L47.8 16.9 L45.5 19.8 L43.3 22.6 L41.3 25.1 L39.9 26.8 L57.5 34.4 L57.8 32.2 L58.2 29.1 L58.8 25.4 L59.3 21.6 L59.7 18.1 L59.9 15.2 L59.9 12.9 L59.4 11.1 L58.6 9.7 L57.7 8.8 L57.1 8.4 L56.7 8.1Z" fill="#ffffff" opacity="0.22" filter="url(#bl2)"/>
<path d="M55.6 13.9L52.6 -0.1M55.6 13.9L60.6 1.9" stroke="#8a8a8a" stroke-width="0.9" stroke-opacity="0.6" fill="none"/>
<circle cx="55.6" cy="13.9" r="2.3" fill="#1a1a1a" filter="url(#bl)"/>
<g filter="url(#shr)">
<path d="M69.5 10.0 L69.0 10.7 L68.4 11.5 L67.7 12.6 L66.8 13.9 L65.9 15.5 L65.0 17.2 L63.8 19.2 L62.3 21.8 L60.6 25.0 L59.2 28.8 L58.4 33.2 L58.8 38.1 L60.5 42.6 L62.7 46.3 L65.0 49.6 L67.0 52.7 L69.0 55.5 L71.1 58.5 L73.7 61.9 L76.7 65.1 L79.3 67.7 L81.2 69.7 L81.8 70.9 L80.8 70.8 L80.6 70.3 L81.2 70.7 L81.8 71.8 L82.1 73.3 L81.5 74.5 L81.0 75.6 L79.5 77.1 L76.4 79.0 L72.3 80.9 L68.0 82.7 L64.1 84.3 L61.4 85.4 L63.8 95.4 L66.6 95.2 L70.7 95.0 L75.7 94.8 L81.0 94.2 L86.4 93.2 L91.4 91.2 L95.6 88.2 L98.8 84.7 L102.1 81.1 L104.7 76.7 L106.1 71.6 L105.6 65.6 L102.7 60.1 L99.5 55.8 L96.7 52.2 L94.1 49.2 L92.0 46.7 L90.3 44.5 L88.6 41.9 L86.7 39.2 L85.1 36.8 L83.9 34.5 L83.3 32.7 L83.0 31.5 L82.3 30.4 L81.2 28.6 L80.0 26.1 L78.8 23.2 L77.8 20.2 L76.8 17.6 L75.9 15.5 L75.0 13.9 L74.1 12.6 L73.4 11.5 L72.8 10.7 L72.3 10.0Z" fill="#868686"/>
<path d="M68.4 55.9Q79.7 50.0 89.1 41.5M76.1 65.5Q86.4 58.2 94.7 48.8M82.3 72.1Q93.0 66.8 102.1 58.9M81.8 72.0Q92.7 75.2 104.1 75.4M80.5 74.8Q87.6 82.5 96.6 87.9M75.9 78.6Q77.3 87.1 81.4 94.6" stroke="#5a5a5a" stroke-width="0.9" stroke-opacity="0.22" fill="none"/>
</g>
<path d="M69.8 10.0 L69.4 10.7 L68.9 11.5 L68.3 12.6 L67.6 13.9 L66.9 15.5 L66.1 17.4 L65.3 19.9 L64.2 23.1 L63.1 26.6 L62.0 29.9 L61.1 32.8 L60.5 34.8 L81.3 34.8 L80.7 32.8 L79.8 29.9 L78.7 26.6 L77.6 23.1 L76.5 19.9 L75.7 17.4 L74.9 15.5 L74.2 13.9 L73.5 12.6 L72.9 11.5 L72.4 10.7 L72.0 10.0Z" fill="#ffffff" opacity="0.22" filter="url(#bl2)"/>
<path d="M70.9 17.4L67.9 3.4M70.9 17.4L75.9 5.4" stroke="#8a8a8a" stroke-width="0.9" stroke-opacity="0.6" fill="none"/>
<circle cx="70.9" cy="17.4" r="2.3" fill="#1a1a1a" filter="url(#bl)"/>
</g></g>
<linearGradient id="g26" x1="0" y1="0" x2="0" y2="1"><stop offset="0" stop-color="#e9e9e9"/><stop offset="1" stop-color="#dfdfdf"/></linearGradient>
<g clip-path="url(#c26)"><rect x="660" y="684" width="115" height="98" fill="url(#g26)"/>
<g transform="translate(660,684)">
<g filter="url(#gsh)" opacity="0.22">
<path d="M51.9 3.4 L51.1 4.1 L50.3 4.9 L49.5 5.7 L48.4 6.6 L47.0 7.5 L45.5 8.3 L43.3 9.2 L40.2 10.4 L36.3 11.9 L32.1 14.1 L27.8 17.2 L23.4 21.6 L20.0 26.9 L18.6 32.3 L18.2 37.4 L18.5 42.0 L18.9 46.1 L19.6 50.3 L21.2 55.2 L23.4 59.5 L25.1 62.8 L26.0 65.2 L25.9 66.0 L26.1 65.4 L27.0 65.7 L27.8 67.3 L28.1 69.3 L27.6 71.0 L26.8 72.5 L26.2 73.6 L24.6 74.7 L21.3 75.7 L17.1 76.5 L12.7 77.0 L8.7 77.4 L5.9 77.8 L5.9 88.0 L8.5 88.4 L12.4 89.0 L17.1 89.7 L22.3 90.2 L27.7 90.2 L33.0 89.2 L37.7 87.0 L41.8 84.3 L45.2 80.9 L48.7 77.4 L51.7 73.3 L53.9 67.8 L53.9 61.3 L52.0 56.0 L50.2 51.9 L48.9 48.7 L48.5 46.3 L48.4 44.5 L48.1 41.8 L47.5 38.7 L47.1 36.0 L46.7 33.8 L46.0 32.5 L44.6 31.6 L43.8 30.4 L44.7 28.3 L46.6 25.6 L49.0 22.7 L51.6 19.7 L53.7 16.9 L55.2 14.3 L56.2 12.2 L56.9 10.3 L57.4 8.9 L57.6 7.8 L57.7 7.0Z" fill="#000"/>
<path d="M59.7 11.1 L59.3 11.8 L58.8 12.6 L58.1 13.5 L57.4 14.6 L56.6 16.0 L55.6 17.5 L54.4 19.4 L52.8 21.8 L50.9 24.7 L48.9 28.1 L47.0 32.0 L45.7 36.4 L45.3 40.9 L45.3 45.2 L45.7 49.2 L46.3 52.9 L46.8 56.2 L47.6 59.7 L49.3 63.6 L51.3 66.9 L52.5 69.1 L52.5 70.1 L52.1 69.2 L53.0 67.7 L54.2 68.3 L54.0 70.1 L52.8 72.2 L51.2 74.4 L49.3 76.6 L47.5 78.5 L45.2 80.3 L41.9 82.2 L38.0 84.0 L34.1 85.7 L30.7 87.2 L28.2 88.3 L31.0 98.1 L33.5 97.8 L37.2 97.4 L41.7 96.8 L46.6 96.0 L51.5 94.8 L56.1 93.1 L60.2 90.9 L63.9 88.4 L67.4 85.6 L70.7 82.3 L73.8 78.8 L77.2 74.3 L78.7 68.0 L77.3 62.4 L75.4 58.7 L74.1 56.0 L73.8 54.2 L73.8 52.7 L73.2 50.3 L72.4 47.3 L71.6 44.4 L70.9 41.7 L70.2 39.4 L69.7 37.6 L69.1 35.6 L68.6 33.1 L68.4 30.0 L68.5 26.8 L68.6 23.7 L68.8 20.9 L68.7 18.6 L68.5 16.7 L68.2 15.3 L67.9 14.1 L67.7 13.2 L67.5 12.5Z" fill="#000"/>
<path d="M79.4 16.7 L80.4 17.1 L81.6 17.4 L82.4 17.8 L82.3 18.2 L81.1 17.8 L79.1 16.9 L78.2 16.8 L76.9 18.5 L74.9 21.3 L72.6 25.0 L70.6 29.9 L70.1 35.7 L71.5 41.2 L73.4 45.7 L75.6 49.7 L77.7 53.3 L79.5 56.5 L81.4 59.4 L83.8 62.6 L86.3 65.3 L88.1 66.9 L89.0 67.4 L87.7 66.6 L87.4 63.7 L89.0 62.6 L89.4 63.5 L88.6 65.0 L87.2 66.7 L85.5 68.4 L84.1 69.9 L82.7 71.2 L80.8 72.6 L78.4 74.0 L76.0 75.3 L73.7 76.4 L72.1 77.3 L75.9 88.5 L77.6 88.3 L80.0 87.9 L83.1 87.4 L86.5 86.7 L90.1 85.6 L93.5 84.1 L96.5 82.3 L99.4 80.3 L102.2 77.9 L105.0 75.0 L108.1 71.7 L111.0 66.5 L110.4 59.8 L107.2 55.5 L105.3 52.4 L103.8 50.3 L102.9 48.8 L102.2 47.2 L101.0 44.5 L99.3 41.4 L97.8 38.4 L96.6 35.5 L95.9 33.3 L95.7 32.3 L95.0 31.6 L94.2 29.6 L93.7 26.6 L93.5 23.1 L93.6 19.4 L92.9 15.1 L89.7 11.5 L86.5 9.5 L83.9 9.2 L82.0 9.5 L80.9 9.8 L80.4 9.9Z" fill="#000"/>
</g>
<g filter="url(#shr)">
<path d="M53.8 4.6 L53.0 5.1 L51.9 5.8 L50.8 6.6 L49.5 7.4 L47.9 8.2 L46.1 9.0 L43.7 9.8 L40.5 10.8 L36.5 12.2 L32.3 14.2 L27.9 17.3 L23.4 21.6 L20.0 26.9 L18.5 32.3 L18.2 37.4 L18.4 42.0 L18.9 46.1 L19.6 50.3 L21.2 55.2 L23.4 59.5 L25.1 62.8 L26.0 65.2 L25.9 66.0 L26.1 65.4 L27.0 65.7 L27.8 67.3 L28.1 69.3 L27.6 71.0 L26.8 72.5 L26.2 73.6 L24.6 74.7 L21.3 75.7 L17.1 76.5 L12.7 77.0 L8.7 77.4 L5.9 77.8 L5.9 88.0 L8.5 88.4 L12.4 89.0 L17.1 89.7 L22.3 90.2 L27.7 90.2 L33.0 89.2 L37.7 87.0 L41.8 84.3 L45.2 80.9 L48.7 77.4 L51.7 73.3 L53.9 67.8 L53.9 61.3 L52.0 56.0 L50.2 51.9 L48.9 48.7 L48.5 46.3 L48.4 44.5 L48.1 41.8 L47.5 38.7 L47.1 36.0 L46.7 33.9 L46.1 32.5 L44.6 31.6 L43.8 30.3 L44.6 28.1 L46.4 25.3 L48.7 22.2 L51.1 19.2 L53.1 16.2 L54.4 13.6 L55.1 11.4 L55.5 9.5 L55.7 7.9 L55.8 6.7 L55.8 5.8Z" fill="#808080"/>
<path d="M19.8 41.5Q33.1 41.8 46.2 39.1M21.7 54.1Q35.2 52.2 48.0 47.4M26.8 65.7Q39.6 62.0 51.2 55.5M27.5 66.9Q39.0 70.9 51.2 72.1M25.8 72.6Q31.2 80.8 38.8 86.9M20.9 75.3Q20.3 83.1 22.7 90.6" stroke="#5a5a5a" stroke-width="0.9" stroke-opacity="0.22" fill="none"/>
</g>
<path d="M54.0 4.7 L53.2 5.3 L52.3 6.0 L51.3 6.9 L50.0 7.8 L48.5 8.7 L46.7 9.8 L44.1 11.2 L40.8 13.1 L37.1 15.1 L33.5 17.0 L30.4 18.8 L28.2 20.0 L39.8 33.2 L41.3 31.2 L43.4 28.4 L45.9 25.0 L48.4 21.5 L50.7 18.2 L52.5 15.4 L53.7 13.1 L54.6 11.0 L55.0 9.2 L55.3 7.7 L55.5 6.6 L55.6 5.7Z" fill="#ffffff" opacity="0.22" filter="url(#bl2)"/>
<path d="M49.6 12.6L55.2 -0.6M49.6 12.6L60.6 5.7" stroke="#8a8a8a" stroke-width="0.9" stroke-opacity="0.6" fill="none"/>
<circle cx="49.6" cy="12.6" r="2.3" fill="#1a1a1a" filter="url(#bl)"/>
<g filter="url(#shr)">
<path d="M62.2 11.6 L61.7 12.2 L60.9 12.9 L60.0 13.8 L58.9 14.9 L57.8 16.2 L56.6 17.8 L55.2 19.6 L53.4 22.0 L51.3 24.8 L49.1 28.2 L47.1 32.0 L45.7 36.4 L45.2 40.9 L45.2 45.2 L45.6 49.2 L46.2 52.9 L46.8 56.2 L47.6 59.7 L49.3 63.6 L51.3 66.9 L52.5 69.1 L52.5 70.1 L52.1 69.2 L53.0 67.7 L54.2 68.3 L54.0 70.1 L52.8 72.2 L51.2 74.4 L49.3 76.6 L47.5 78.5 L45.2 80.3 L41.9 82.2 L38.0 84.0 L34.1 85.7 L30.7 87.2 L28.2 88.3 L31.0 98.1 L33.5 97.8 L37.2 97.4 L41.7 96.8 L46.6 96.0 L51.5 94.8 L56.1 93.1 L60.2 90.9 L63.9 88.4 L67.4 85.6 L70.7 82.3 L73.8 78.8 L77.2 74.3 L78.7 68.0 L77.3 62.4 L75.4 58.7 L74.1 56.0 L73.8 54.2 L73.8 52.7 L73.2 50.3 L72.4 47.3 L71.6 44.4 L70.9 41.7 L70.3 39.4 L69.7 37.6 L69.0 35.6 L68.4 33.0 L68.0 29.9 L67.9 26.6 L67.9 23.5 L67.8 20.6 L67.5 18.3 L67.0 16.5 L66.4 14.9 L65.8 13.7 L65.3 12.8 L65.0 12.0Z" fill="#808080"/>
<path d="M47.8 56.0Q60.4 54.7 72.2 50.5M51.3 66.7Q63.3 62.8 74.1 56.2M53.6 71.0Q65.7 70.1 77.1 66.2M52.0 72.2Q59.2 80.0 68.2 85.6M48.6 76.5Q53.6 84.7 60.8 91.1M41.5 81.8Q42.8 89.6 46.9 96.3" stroke="#5a5a5a" stroke-width="0.9" stroke-opacity="0.22" fill="none"/>
</g>
<path d="M62.5 11.6 L62.0 12.2 L61.4 13.0 L60.6 13.9 L59.7 15.1 L58.8 16.5 L57.7 18.1 L56.3 20.5 L54.7 23.5 L52.9 26.8 L51.2 30.0 L49.7 32.8 L48.7 34.7 L66.7 39.3 L66.7 37.1 L66.8 34.0 L66.8 30.3 L66.8 26.6 L66.8 23.1 L66.7 20.3 L66.5 18.1 L66.2 16.3 L65.7 14.8 L65.3 13.6 L64.9 12.7 L64.7 12.0Z" fill="#ffffff" opacity="0.22" filter="url(#bl2)"/>
<path d="M62.2 19.2L61.9 4.9M62.2 19.2L69.3 8.3" stroke="#8a8a8a" stroke-width="0.9" stroke-opacity="0.6" fill="none"/>
<circle cx="62.2" cy="19.2" r="2.3" fill="#1a1a1a" filter="url(#bl)"/>
<g filter="url(#shr)">
<path d="M79.7 14.5 L80.6 15.0 L81.7 15.5 L82.7 16.2 L82.9 17.0 L82.0 17.2 L80.1 16.7 L79.0 17.0 L77.4 18.7 L75.3 21.5 L72.9 25.1 L70.7 29.9 L70.1 35.7 L71.4 41.2 L73.4 45.7 L75.6 49.7 L77.7 53.3 L79.5 56.5 L81.4 59.4 L83.8 62.6 L86.3 65.3 L88.1 66.9 L89.0 67.4 L87.7 66.6 L87.4 63.7 L89.0 62.6 L89.4 63.5 L88.6 65.0 L87.2 66.7 L85.5 68.4 L84.1 69.9 L82.7 71.2 L80.8 72.6 L78.4 74.0 L76.0 75.3 L73.7 76.4 L72.1 77.3 L75.9 88.5 L77.6 88.3 L80.0 87.9 L83.1 87.4 L86.5 86.7 L90.1 85.6 L93.5 84.1 L96.5 82.3 L99.4 80.3 L102.2 77.9 L105.0 75.0 L108.1 71.7 L111.0 66.5 L110.4 59.8 L107.2 55.5 L105.3 52.4 L103.8 50.3 L102.9 48.8 L102.2 47.2 L101.0 44.5 L99.3 41.4 L97.8 38.3 L96.7 35.5 L96.0 33.3 L95.7 32.3 L94.9 31.6 L93.9 29.6 L93.3 26.5 L93.0 22.9 L92.7 19.2 L91.9 15.3 L88.9 12.1 L85.9 10.7 L83.6 10.8 L81.9 11.3 L80.8 11.8 L80.1 12.1Z" fill="#808080"/>
<path d="M75.3 49.6Q87.3 45.4 98.1 38.5M80.8 59.4Q92.5 54.6 102.8 47.2M85.6 65.5Q96.0 58.9 104.5 50.0M88.5 66.2Q99.3 66.6 109.9 64.0M86.5 66.5Q92.2 74.5 100.0 80.4M82.1 71.0Q85.1 79.2 90.8 85.8" stroke="#5a5a5a" stroke-width="0.9" stroke-opacity="0.22" fill="none"/>
</g>
<path d="M79.8 14.2 L80.6 14.7 L81.7 15.1 L82.8 15.7 L83.2 16.4 L82.7 16.7 L81.3 16.7 L80.4 17.8 L79.0 20.4 L77.3 23.6 L75.6 26.9 L74.0 29.8 L72.9 31.9 L92.9 36.1 L92.7 33.9 L92.5 30.6 L92.3 26.7 L92.1 22.6 L91.6 18.8 L90.7 15.3 L88.2 12.6 L85.6 11.4 L83.5 11.4 L81.9 11.7 L80.8 12.2 L80.0 12.4Z" fill="#ffffff" opacity="0.22" filter="url(#bl2)"/>
<path d="M89.5 15.5L75.2 15.3M89.5 15.5L78.9 7.9" stroke="#8a8a8a" stroke-width="0.9" stroke-opacity="0.6" fill="none"/>
<circle cx="89.5" cy="15.5" r="2.3" fill="#1a1a1a" filter="url(#bl)"/>
</g></g>
<linearGradient id="g30" x1="0" y1="0" x2="0" y2="1"><stop offset="0" stop-color="#e9e9e9"/><stop offset="1" stop-color="#dfdfdf"/></linearGradient>
<g clip-path="url(#c30)"><rect x="50" y="782" width="100" height="97" fill="url(#g30)"/>
<g transform="translate(50,782)">
<g filter="url(#gsh)" opacity="0.22">
<path d="M11.8 7.5 L11.8 8.6 L11.8 10.1 L11.8 11.9 L12.0 14.0 L12.3 16.3 L12.9 18.7 L13.7 21.2 L14.5 23.8 L15.2 26.5 L15.8 29.0 L16.1 31.3 L16.5 33.6 L17.2 36.1 L18.0 38.5 L18.3 40.3 L18.2 41.5 L17.9 41.7 L18.3 41.0 L19.4 41.2 L18.6 42.6 L16.8 44.8 L14.3 47.6 L11.6 51.3 L8.5 55.5 L7.1 60.2 L6.7 64.3 L7.1 68.4 L8.0 72.1 L9.5 75.6 L11.8 79.0 L14.8 82.2 L17.7 84.7 L20.4 86.5 L22.7 87.7 L24.4 88.5 L25.5 89.0 L26.2 89.7 L27.0 90.8 L27.8 92.1 L28.7 93.3 L29.5 94.6 L30.2 95.5 L39.2 92.5 L39.2 91.5 L39.2 90.0 L39.1 88.1 L38.6 85.9 L37.7 83.5 L36.3 80.8 L34.5 78.1 L32.5 75.8 L30.8 73.8 L29.5 72.2 L29.0 71.1 L29.4 70.2 L30.0 69.0 L30.1 67.5 L30.2 66.1 L30.4 64.7 L30.4 63.5 L30.1 62.9 L29.4 61.9 L30.5 60.4 L32.5 58.1 L34.9 55.1 L37.8 51.4 L40.9 46.6 L41.7 41.0 L40.7 36.4 L39.1 32.8 L37.5 30.0 L36.2 27.7 L34.9 25.6 L33.2 23.2 L31.1 20.8 L29.1 18.7 L27.3 16.7 L25.7 15.0 L24.5 13.5 L23.5 12.0 L22.4 10.4 L21.4 8.9 L20.5 7.5 L19.7 6.2 L19.0 5.3Z" fill="#000"/>
<path d="M47.2 10.4 L46.8 10.9 L46.1 11.6 L45.1 12.7 L44.0 14.2 L42.9 16.1 L42.0 18.7 L41.6 21.6 L41.4 24.4 L41.1 27.0 L40.6 29.1 L40.0 30.5 L39.6 31.4 L39.3 32.7 L38.6 34.6 L37.5 37.0 L36.1 39.7 L34.5 42.5 L33.0 45.3 L31.9 47.9 L30.7 50.4 L29.3 53.1 L27.7 56.0 L26.1 59.1 L24.7 62.5 L23.8 66.0 L23.4 69.3 L23.3 72.4 L23.5 75.3 L24.0 77.9 L24.6 80.5 L25.5 83.2 L26.9 85.6 L28.3 87.7 L29.7 89.3 L30.7 90.6 L31.4 91.4 L40.6 88.8 L40.7 87.5 L40.8 85.8 L41.0 84.0 L41.4 82.2 L41.9 80.6 L42.4 79.1 L42.9 77.4 L43.2 75.5 L43.6 73.6 L44.0 71.9 L44.4 70.2 L44.7 68.7 L45.2 67.2 L45.9 65.2 L47.1 63.0 L48.7 60.5 L50.4 57.8 L52.0 55.1 L53.3 52.4 L54.7 49.6 L56.3 46.6 L58.0 43.3 L59.6 39.7 L60.8 35.6 L61.0 31.1 L60.1 27.2 L58.9 24.0 L57.6 21.6 L56.7 19.8 L56.0 18.7 L55.4 17.9 L54.9 16.8 L54.6 15.8 L54.4 14.7 L54.4 13.7 L54.4 12.8Z" fill="#000"/>
<path d="M74.1 12.5 L73.4 13.4 L72.2 14.7 L70.8 16.3 L69.1 18.1 L67.4 20.2 L65.6 22.5 L64.0 25.2 L62.7 27.9 L61.5 30.2 L60.4 32.0 L59.5 33.5 L58.9 34.8 L58.1 36.6 L57.0 38.9 L55.7 41.5 L54.2 44.2 L52.7 46.9 L51.3 49.2 L49.9 50.9 L48.2 52.9 L45.9 55.3 L43.5 58.2 L40.6 61.9 L37.8 66.7 L37.3 72.1 L38.6 76.7 L41.0 80.6 L44.0 83.6 L46.7 86.4 L49.8 88.9 L53.5 90.8 L57.3 92.1 L61.2 92.9 L64.9 93.4 L68.2 93.7 L71.3 93.8 L74.2 93.7 L76.9 93.2 L79.1 92.5 L80.9 91.8 L82.2 91.2 L83.1 90.8 L81.7 84.2 L80.5 84.3 L79.0 84.5 L77.5 84.6 L75.9 84.6 L74.4 84.3 L72.9 83.8 L70.8 82.8 L68.2 81.6 L65.6 80.1 L63.2 78.5 L61.5 77.1 L60.8 75.9 L60.5 74.9 L60.4 73.7 L61.1 72.3 L62.0 71.5 L62.7 71.5 L62.6 72.3 L61.5 72.6 L61.6 71.7 L63.0 70.0 L65.0 67.6 L67.4 64.7 L69.7 61.4 L71.6 58.4 L73.4 55.4 L75.3 52.4 L77.1 49.2 L78.7 45.9 L80.1 42.4 L81.0 38.6 L81.0 35.1 L80.5 32.1 L79.8 29.8 L79.0 28.0 L78.4 26.5 L78.2 24.7 L78.3 22.7 L78.7 20.7 L79.3 18.8 L79.8 17.1 L80.3 15.9Z" fill="#000"/>
</g>
<g filter="url(#shr)">
<path d="M14.1 6.8 L14.0 7.9 L13.8 9.5 L13.6 11.4 L13.4 13.5 L13.5 15.9 L13.8 18.3 L14.3 20.9 L15.0 23.6 L15.5 26.3 L16.0 28.9 L16.2 31.3 L16.5 33.6 L17.2 36.1 L18.0 38.5 L18.3 40.4 L18.2 41.5 L17.9 41.7 L18.3 41.0 L19.4 41.2 L18.6 42.6 L16.8 44.8 L14.3 47.6 L11.6 51.3 L8.5 55.5 L7.1 60.2 L6.7 64.3 L7.1 68.4 L8.0 72.1 L9.5 75.6 L11.8 79.0 L14.8 82.2 L17.7 84.7 L20.4 86.5 L22.7 87.7 L24.4 88.5 L25.5 89.0 L26.2 89.7 L27.0 90.8 L27.8 92.1 L28.7 93.3 L29.5 94.6 L30.2 95.5 L39.2 92.5 L39.2 91.5 L39.2 90.0 L39.1 88.1 L38.6 85.9 L37.7 83.5 L36.3 80.8 L34.5 78.1 L32.5 75.8 L30.8 73.8 L29.5 72.2 L29.0 71.1 L29.4 70.2 L30.0 69.0 L30.1 67.5 L30.2 66.1 L30.4 64.7 L30.4 63.5 L30.1 62.9 L29.4 61.9 L30.5 60.4 L32.5 58.1 L34.9 55.1 L37.8 51.4 L40.9 46.6 L41.7 41.0 L40.8 36.4 L39.2 32.8 L37.6 30.0 L36.2 27.7 L34.9 25.6 L33.1 23.2 L30.9 20.9 L28.8 18.9 L26.8 17.0 L25.1 15.3 L23.6 13.9 L22.3 12.4 L21.0 10.9 L19.7 9.4 L18.5 8.1 L17.4 6.9 L16.7 6.0Z" fill="#868686"/>
<path d="M19.2 42.9Q30.0 42.8 40.4 39.8M16.3 44.4Q23.6 52.6 33.0 58.5M11.7 50.2Q19.6 57.8 29.3 63.0M8.2 67.7Q18.7 68.7 29.2 66.7M11.4 78.1Q21.1 76.0 29.8 71.1M22.5 88.1Q28.8 82.7 32.7 75.3" stroke="#5a5a5a" stroke-width="0.9" stroke-opacity="0.22" fill="none"/>
</g>
<path d="M14.4 6.7 L14.3 7.8 L14.2 9.3 L14.2 11.2 L14.2 13.3 L14.3 15.5 L14.7 17.9 L15.3 20.4 L16.1 23.4 L16.9 26.4 L17.7 29.2 L18.4 31.6 L18.8 33.2 L32.6 26.0 L31.4 24.6 L29.8 22.7 L27.9 20.6 L25.9 18.3 L24.1 16.1 L22.7 14.3 L21.5 12.8 L20.2 11.2 L19.1 9.6 L18.0 8.2 L17.1 7.0 L16.4 6.1Z" fill="#ffffff" opacity="0.22" filter="url(#bl2)"/>
<path d="M18.7 16.1L11.4 3.8M18.7 16.1L19.6 3.1" stroke="#8a8a8a" stroke-width="0.9" stroke-opacity="0.6" fill="none"/>
<circle cx="18.7" cy="16.1" r="2.3" fill="#1a1a1a" filter="url(#bl)"/>
<g filter="url(#shr)">
<path d="M49.5 11.2 L48.9 11.7 L48.0 12.3 L46.8 13.2 L45.5 14.5 L44.1 16.3 L43.1 18.7 L42.4 21.5 L42.0 24.3 L41.5 26.9 L40.8 29.1 L40.1 30.5 L39.6 31.4 L39.2 32.6 L38.5 34.6 L37.5 37.0 L36.1 39.7 L34.5 42.5 L33.0 45.3 L31.9 47.9 L30.7 50.4 L29.3 53.1 L27.7 56.0 L26.1 59.1 L24.7 62.5 L23.8 66.0 L23.4 69.3 L23.3 72.4 L23.5 75.3 L24.0 77.9 L24.6 80.5 L25.5 83.2 L26.9 85.6 L28.3 87.7 L29.7 89.3 L30.7 90.6 L31.4 91.4 L40.6 88.8 L40.7 87.5 L40.8 85.8 L41.0 84.0 L41.4 82.2 L41.9 80.6 L42.4 79.1 L42.9 77.4 L43.2 75.5 L43.6 73.6 L44.0 71.9 L44.4 70.2 L44.7 68.7 L45.2 67.2 L45.9 65.2 L47.1 63.0 L48.7 60.5 L50.4 57.8 L52.0 55.1 L53.3 52.4 L54.7 49.6 L56.3 46.6 L58.0 43.3 L59.6 39.7 L60.8 35.6 L60.9 31.1 L59.9 27.2 L58.4 24.1 L57.0 21.7 L55.8 19.9 L54.9 18.7 L54.2 17.7 L53.4 16.5 L52.9 15.2 L52.5 14.0 L52.2 12.9 L52.1 12.0Z" fill="#868686"/>
<path d="M35.9 39.6Q44.7 46.0 54.9 49.7M32.9 45.3Q41.8 51.5 52.1 55.1M30.4 50.3Q38.9 56.8 49.0 60.7M26.5 58.8Q35.0 64.5 44.8 67.5M24.4 69.1Q33.4 72.0 43.0 72.1M24.9 77.8Q33.4 79.2 41.9 77.6" stroke="#5a5a5a" stroke-width="0.9" stroke-opacity="0.22" fill="none"/>
</g>
<path d="M49.8 11.3 L49.2 11.8 L48.4 12.5 L47.4 13.4 L46.3 14.7 L45.1 16.4 L44.2 18.6 L43.6 21.1 L43.0 24.1 L42.5 27.2 L42.1 30.2 L41.8 32.6 L41.5 34.3 L58.9 32.7 L58.3 31.0 L57.4 28.6 L56.4 25.9 L55.4 23.1 L54.5 20.6 L53.8 18.8 L53.2 17.5 L52.6 16.3 L52.2 15.0 L52.0 13.8 L51.9 12.8 L51.8 11.9Z" fill="#ffffff" opacity="0.22" filter="url(#bl2)"/>
<path d="M48.9 18.7L49.6 4.4M48.9 18.7L56.8 8.4" stroke="#8a8a8a" stroke-width="0.9" stroke-opacity="0.6" fill="none"/>
<circle cx="48.9" cy="18.7" r="2.3" fill="#1a1a1a" filter="url(#bl)"/>
<g filter="url(#shr)">
<path d="M76.1 13.6 L75.2 14.5 L73.9 15.6 L72.2 17.1 L70.4 18.7 L68.5 20.6 L66.6 22.8 L64.8 25.4 L63.3 27.9 L61.9 30.2 L60.6 32.1 L59.6 33.5 L58.9 34.8 L58.0 36.6 L56.9 38.9 L55.6 41.5 L54.2 44.2 L52.7 46.9 L51.3 49.2 L49.9 50.9 L48.2 52.9 L45.9 55.3 L43.5 58.2 L40.6 61.9 L37.8 66.7 L37.3 72.1 L38.6 76.7 L41.0 80.6 L44.0 83.6 L46.7 86.4 L49.8 88.9 L53.5 90.8 L57.3 92.1 L61.2 92.9 L64.9 93.4 L68.2 93.7 L71.3 93.8 L74.2 93.7 L76.9 93.2 L79.1 92.5 L80.9 91.8 L82.2 91.2 L83.1 90.8 L81.7 84.2 L80.5 84.3 L79.0 84.5 L77.5 84.6 L75.9 84.6 L74.4 84.3 L72.9 83.8 L70.8 82.8 L68.2 81.6 L65.6 80.1 L63.2 78.5 L61.5 77.1 L60.8 75.9 L60.5 74.9 L60.4 73.7 L61.1 72.3 L62.0 71.5 L62.7 71.5 L62.6 72.3 L61.5 72.6 L61.6 71.7 L63.0 70.0 L65.0 67.6 L67.4 64.7 L69.7 61.4 L71.6 58.4 L73.5 55.5 L75.3 52.4 L77.1 49.2 L78.7 45.9 L80.1 42.4 L80.9 38.6 L80.8 35.1 L80.1 32.1 L79.1 29.7 L78.2 27.8 L77.4 26.2 L77.1 24.3 L77.1 22.1 L77.3 19.9 L77.6 17.8 L78.0 16.1 L78.3 14.8Z" fill="#868686"/>
<path d="M52.2 46.6Q61.4 53.9 72.1 58.6M47.6 52.6Q55.6 61.4 65.6 68.0M41.1 60.7Q50.2 68.5 61.0 73.8M41.0 79.6Q51.5 77.9 61.1 73.2M52.7 90.8Q58.7 84.8 62.3 77.0M64.6 93.7Q68.0 87.9 68.5 81.3" stroke="#5a5a5a" stroke-width="0.9" stroke-opacity="0.22" fill="none"/>
</g>
<path d="M76.3 13.7 L75.5 14.6 L74.2 15.9 L72.7 17.4 L71.1 19.1 L69.3 21.0 L67.7 23.1 L66.1 25.6 L64.6 28.3 L63.2 31.1 L61.9 33.7 L60.9 35.7 L60.1 37.2 L78.9 40.0 L78.6 38.3 L78.2 36.0 L77.7 33.3 L77.1 30.6 L76.7 28.0 L76.3 25.9 L76.2 23.9 L76.4 21.7 L76.8 19.6 L77.3 17.6 L77.7 15.9 L78.1 14.7Z" fill="#ffffff" opacity="0.22" filter="url(#bl2)"/>
<path d="M71.4 24.5L75.7 10.8M71.4 24.5L81.6 16.5" stroke="#8a8a8a" stroke-width="0.9" stroke-opacity="0.6" fill="none"/>
<circle cx="71.4" cy="24.5" r="2.3" fill="#1a1a1a" filter="url(#bl)"/>
</g></g>
<linearGradient id="g31" x1="0" y1="0" x2="0" y2="1"><stop offset="0" stop-color="#ebebeb"/><stop offset="1" stop-color="#e1e1e1"/></linearGradient>
<g clip-path="url(#c31)"><rect x="150" y="782" width="99" height="97" fill="url(#g31)"/>
<g transform="translate(150,782)">
<g filter="url(#gsh)" opacity="0.22">
<path d="M22.7 3.9 L22.8 5.0 L23.0 6.4 L23.2 8.0 L23.4 9.9 L23.7 11.9 L24.0 14.1 L24.6 16.5 L25.2 19.0 L25.6 21.5 L25.7 23.9 L25.5 25.9 L25.2 27.9 L25.2 30.3 L25.2 32.7 L25.0 34.6 L24.7 35.8 L24.8 36.2 L25.9 36.4 L25.7 36.6 L24.0 37.7 L21.2 39.5 L17.7 41.7 L13.8 44.6 L10.3 48.0 L7.7 51.5 L5.6 54.9 L3.4 58.3 L1.4 62.0 L-0.1 66.3 L-0.5 71.5 L1.1 76.7 L4.0 80.5 L6.7 83.3 L9.1 85.7 L11.4 87.6 L13.5 89.3 L16.0 91.0 L18.8 92.5 L21.4 93.5 L23.8 94.3 L25.6 94.8 L26.9 95.2 L31.7 88.2 L30.7 87.0 L29.3 85.6 L27.9 83.9 L26.6 82.1 L25.5 80.5 L24.7 78.9 L23.6 77.0 L22.5 74.9 L21.6 73.1 L21.6 71.4 L22.6 70.6 L23.5 71.1 L23.7 71.4 L23.7 70.7 L24.2 69.2 L25.1 67.3 L26.6 65.5 L27.9 64.0 L29.3 62.7 L31.5 60.9 L34.6 58.7 L38.1 55.9 L41.9 52.3 L45.5 47.6 L48.6 42.5 L49.6 37.4 L49.2 32.9 L48.3 29.1 L47.3 26.0 L46.2 23.1 L44.6 20.0 L42.5 17.0 L40.5 14.6 L38.6 12.4 L37.0 10.6 L35.8 8.9 L34.6 7.3 L33.3 5.7 L32.1 4.2 L31.0 2.9 L30.1 1.9 L29.5 1.1Z" fill="#000"/>
<path d="M59.4 23.7 L58.9 24.2 L58.2 24.9 L57.4 25.8 L56.4 26.8 L55.3 27.9 L54.0 29.3 L52.5 31.1 L51.0 32.9 L49.6 34.5 L48.4 36.0 L47.4 37.3 L46.7 38.6 L45.3 39.9 L43.3 41.8 L41.0 44.2 L38.4 46.9 L35.8 50.0 L33.5 53.1 L31.8 55.9 L30.2 58.7 L28.3 61.7 L26.3 65.3 L24.7 69.9 L25.2 75.8 L28.6 80.6 L32.0 83.7 L35.0 85.9 L38.1 87.6 L40.9 88.8 L43.7 90.0 L46.7 91.0 L50.0 91.8 L53.1 92.3 L55.9 92.7 L58.2 93.0 L59.8 93.3 L62.4 85.1 L60.8 84.4 L58.7 83.4 L56.4 82.2 L54.0 80.9 L52.0 79.6 L50.5 78.2 L49.1 76.6 L47.5 74.9 L46.4 73.2 L45.9 71.8 L46.6 71.2 L48.6 72.0 L49.1 73.7 L48.9 73.8 L49.1 72.7 L49.9 70.9 L51.5 68.8 L53.1 66.7 L54.5 64.8 L56.3 62.7 L58.5 60.1 L60.9 57.2 L63.2 54.1 L65.3 50.6 L67.2 47.2 L68.3 44.0 L68.7 41.0 L68.6 38.4 L68.3 36.3 L68.0 34.7 L67.9 33.1 L67.9 31.5 L67.9 30.2 L67.9 29.0 L67.9 28.0 L68.0 27.3Z" fill="#000"/>
<path d="M73.8 15.9 L73.3 17.1 L72.6 18.8 L71.6 20.9 L70.6 23.4 L69.7 26.1 L69.0 29.2 L68.9 32.5 L69.1 35.5 L69.1 38.0 L68.6 40.0 L67.7 41.0 L67.0 41.4 L66.7 42.3 L66.3 43.8 L65.8 45.6 L65.3 47.7 L64.5 49.8 L64.1 51.7 L63.4 53.1 L61.8 54.8 L59.6 57.1 L57.1 60.0 L54.1 63.8 L50.9 69.5 L51.8 76.0 L54.8 80.4 L58.0 83.6 L61.2 86.4 L65.0 88.5 L69.6 89.8 L74.3 89.6 L78.2 88.4 L81.8 86.8 L85.0 85.0 L87.8 83.1 L90.2 81.1 L92.3 78.5 L94.0 75.8 L94.5 73.2 L94.4 71.3 L94.2 70.2 L94.1 69.6 L84.3 68.0 L83.9 69.1 L83.5 70.4 L83.2 71.3 L83.0 71.8 L83.3 71.9 L83.0 71.7 L81.6 72.0 L79.3 72.7 L76.8 73.3 L74.4 73.7 L72.8 73.5 L73.0 73.2 L73.8 72.9 L73.9 72.4 L73.8 71.6 L74.5 70.7 L75.9 70.8 L76.5 73.1 L74.8 74.6 L74.9 73.9 L76.4 72.1 L78.6 69.6 L81.2 66.4 L83.7 62.9 L85.7 59.8 L87.3 56.8 L88.7 53.6 L89.9 50.2 L90.7 46.6 L91.0 42.6 L90.1 38.3 L88.3 34.7 L86.4 32.3 L84.8 30.4 L83.7 29.2 L83.0 28.2 L82.4 26.9 L81.9 24.9 L81.7 22.7 L81.6 20.6 L81.6 18.7 L81.6 17.3Z" fill="#000"/>
</g>
<g filter="url(#shr)">
<path d="M24.9 3.0 L24.9 4.1 L24.8 5.6 L24.8 7.3 L24.8 9.3 L24.8 11.4 L24.9 13.7 L25.3 16.2 L25.7 18.8 L25.9 21.3 L26.0 23.8 L25.6 25.9 L25.2 27.9 L25.1 30.3 L25.1 32.7 L24.9 34.6 L24.7 35.8 L24.8 36.2 L25.9 36.4 L25.7 36.6 L24.0 37.7 L21.2 39.5 L17.7 41.7 L13.8 44.6 L10.3 48.0 L7.7 51.5 L5.6 54.9 L3.4 58.3 L1.4 62.0 L-0.1 66.3 L-0.5 71.5 L1.1 76.7 L4.0 80.5 L6.7 83.3 L9.1 85.7 L11.4 87.6 L13.5 89.3 L16.0 91.0 L18.8 92.5 L21.4 93.5 L23.8 94.3 L25.6 94.8 L26.9 95.2 L31.7 88.2 L30.7 87.0 L29.3 85.6 L27.9 83.9 L26.6 82.1 L25.5 80.5 L24.7 78.9 L23.6 77.0 L22.5 74.9 L21.6 73.1 L21.6 71.4 L22.6 70.6 L23.5 71.1 L23.7 71.4 L23.7 70.7 L24.2 69.2 L25.1 67.3 L26.6 65.5 L27.9 64.0 L29.3 62.7 L31.5 60.9 L34.6 58.7 L38.1 55.9 L41.9 52.3 L45.5 47.6 L48.6 42.5 L49.6 37.4 L49.3 32.9 L48.4 29.1 L47.3 26.0 L46.2 23.1 L44.5 20.0 L42.3 17.1 L40.1 14.7 L38.1 12.7 L36.4 10.9 L34.9 9.3 L33.5 7.8 L31.9 6.3 L30.5 4.9 L29.2 3.7 L28.1 2.7 L27.3 2.0Z" fill="#828282"/>
<path d="M24.8 37.7Q35.2 43.4 46.6 46.3M20.7 39.0Q26.7 49.9 35.1 59.2M10.3 47.0Q18.0 57.0 27.9 65.0M3.5 57.7Q13.0 65.0 24.1 69.8M0.8 70.0Q11.3 72.8 22.2 72.6M8.6 85.8Q16.7 81.5 23.0 74.8" stroke="#5a5a5a" stroke-width="0.9" stroke-opacity="0.22" fill="none"/>
</g>
<path d="M25.2 2.9 L25.2 4.0 L25.3 5.4 L25.4 7.1 L25.5 9.0 L25.6 11.1 L25.8 13.2 L26.2 15.6 L26.6 18.5 L27.1 21.5 L27.5 24.4 L27.9 26.9 L28.2 28.6 L43.2 22.4 L42.2 21.0 L40.7 19.0 L39.0 16.6 L37.2 14.1 L35.5 11.8 L34.0 9.8 L32.6 8.1 L31.2 6.6 L29.9 5.2 L28.7 3.9 L27.8 2.9 L27.0 2.1Z" fill="#ffffff" opacity="0.22" filter="url(#bl2)"/>
<path d="M29.9 11.5L21.7 -0.2M29.9 11.5L29.8 -1.5" stroke="#8a8a8a" stroke-width="0.9" stroke-opacity="0.6" fill="none"/>
<circle cx="29.9" cy="11.5" r="2.3" fill="#1a1a1a" filter="url(#bl)"/>
<g filter="url(#shr)">
<path d="M62.2 24.9 L61.5 25.3 L60.5 25.9 L59.4 26.6 L58.0 27.4 L56.6 28.4 L55.1 29.7 L53.3 31.4 L51.6 33.1 L50.0 34.7 L48.6 36.1 L47.5 37.4 L46.7 38.6 L45.2 39.9 L43.3 41.8 L40.9 44.2 L38.4 46.9 L35.8 50.0 L33.5 53.1 L31.8 55.9 L30.2 58.7 L28.3 61.7 L26.3 65.3 L24.7 69.9 L25.2 75.8 L28.6 80.6 L32.0 83.7 L35.0 85.9 L38.1 87.6 L40.9 88.8 L43.7 90.0 L46.7 91.0 L50.0 91.8 L53.1 92.3 L55.9 92.7 L58.2 93.0 L59.8 93.3 L62.4 85.1 L60.8 84.4 L58.7 83.4 L56.4 82.2 L54.0 80.9 L52.0 79.6 L50.5 78.2 L49.1 76.6 L47.5 74.9 L46.4 73.2 L45.9 71.8 L46.6 71.2 L48.6 72.0 L49.1 73.7 L48.9 73.8 L49.1 72.7 L49.9 70.9 L51.5 68.8 L53.1 66.7 L54.5 64.8 L56.3 62.7 L58.6 60.2 L60.9 57.3 L63.3 54.1 L65.3 50.6 L67.1 47.2 L68.0 43.9 L68.2 40.8 L68.0 38.2 L67.4 36.1 L66.9 34.3 L66.6 32.5 L66.3 30.9 L66.0 29.3 L65.6 28.0 L65.4 27.0 L65.2 26.1Z" fill="#828282"/>
<path d="M38.0 46.3Q46.3 55.9 56.7 63.3M33.1 52.4Q42.4 61.1 53.5 67.4M28.3 61.2Q37.9 68.5 49.0 73.3M26.1 73.7Q36.9 75.4 47.7 74.1M37.6 87.8Q44.0 82.2 48.0 74.7M46.3 91.2Q50.7 86.0 52.5 79.4" stroke="#5a5a5a" stroke-width="0.9" stroke-opacity="0.22" fill="none"/>
</g>
<path d="M62.5 25.0 L61.9 25.5 L61.0 26.1 L60.0 26.9 L58.9 27.8 L57.6 28.9 L56.3 30.1 L54.8 31.7 L53.1 33.7 L51.3 35.9 L49.5 38.0 L48.1 39.8 L47.0 41.0 L65.0 48.2 L65.1 46.5 L65.2 44.2 L65.4 41.5 L65.5 38.7 L65.7 36.1 L65.7 33.9 L65.6 32.1 L65.5 30.5 L65.3 29.1 L65.1 27.8 L65.0 26.8 L64.9 26.0Z" fill="#ffffff" opacity="0.22" filter="url(#bl2)"/>
<path d="M62.4 31.8L62.3 17.5M62.4 31.8L69.7 21.1" stroke="#8a8a8a" stroke-width="0.9" stroke-opacity="0.6" fill="none"/>
<circle cx="62.4" cy="31.8" r="2.3" fill="#1a1a1a" filter="url(#bl)"/>
<g filter="url(#shr)">
<path d="M76.3 16.4 L75.7 17.5 L74.7 19.2 L73.5 21.2 L72.2 23.6 L71.0 26.2 L70.1 29.1 L69.7 32.3 L69.7 35.3 L69.4 37.9 L68.8 39.9 L67.8 41.0 L67.0 41.4 L66.6 42.2 L66.2 43.8 L65.8 45.6 L65.2 47.7 L64.5 49.8 L64.1 51.7 L63.4 53.1 L61.8 54.8 L59.6 57.1 L57.1 60.0 L54.1 63.8 L50.9 69.5 L51.8 76.0 L54.8 80.4 L58.0 83.6 L61.2 86.4 L65.0 88.5 L69.6 89.8 L74.3 89.6 L78.2 88.4 L81.8 86.8 L85.0 85.0 L87.8 83.1 L90.2 81.1 L92.3 78.5 L94.0 75.8 L94.5 73.2 L94.4 71.3 L94.2 70.2 L94.1 69.6 L84.3 68.0 L83.9 69.1 L83.5 70.4 L83.2 71.3 L83.0 71.8 L83.3 71.9 L83.0 71.7 L81.6 72.0 L79.3 72.7 L76.8 73.3 L74.4 73.7 L72.8 73.5 L73.0 73.2 L73.8 72.9 L73.9 72.4 L73.8 71.6 L74.5 70.7 L75.9 70.8 L76.5 73.1 L74.8 74.6 L74.9 73.9 L76.4 72.1 L78.6 69.6 L81.2 66.4 L83.7 62.9 L85.8 59.8 L87.3 56.8 L88.8 53.6 L90.0 50.2 L90.7 46.6 L91.0 42.6 L90.0 38.3 L88.0 34.8 L86.0 32.4 L84.2 30.6 L82.9 29.4 L81.9 28.3 L81.1 26.8 L80.4 24.7 L79.9 22.4 L79.5 20.2 L79.3 18.3 L79.1 16.8Z" fill="#828282"/>
<path d="M64.5 50.1Q74.5 56.2 85.8 59.5M61.2 54.5Q69.3 63.3 79.3 69.9M54.7 62.5Q63.6 70.4 74.2 75.9M54.3 79.3Q65.1 77.0 75.0 71.8M67.9 89.9Q72.7 82.1 74.7 73.1M81.6 87.3Q80.7 79.6 76.9 72.8" stroke="#5a5a5a" stroke-width="0.9" stroke-opacity="0.22" fill="none"/>
</g>
<path d="M76.6 16.4 L76.0 17.6 L75.1 19.3 L74.1 21.4 L73.0 23.7 L72.0 26.2 L71.3 28.9 L70.8 31.9 L70.6 34.9 L70.5 37.9 L70.3 40.6 L70.2 42.8 L70.0 44.3 L88.0 39.7 L87.1 38.2 L85.8 36.4 L84.3 34.3 L82.9 32.2 L81.7 30.1 L80.7 28.5 L80.1 26.7 L79.5 24.6 L79.2 22.3 L79.0 20.1 L78.9 18.2 L78.8 16.8Z" fill="#ffffff" opacity="0.22" filter="url(#bl2)"/>
<path d="M75.2 28.7L75.1 14.4M75.2 28.7L82.5 18.0" stroke="#8a8a8a" stroke-width="0.9" stroke-opacity="0.6" fill="none"/>
<circle cx="75.2" cy="28.7" r="2.3" fill="#1a1a1a" filter="url(#bl)"/>
</g></g>
<linearGradient id="g32" x1="0" y1="0" x2="0" y2="1"><stop offset="0" stop-color="#ededed"/><stop offset="1" stop-color="#e3e3e3"/></linearGradient>
<g clip-path="url(#c32)"><rect x="249" y="782" width="99" height="97" fill="url(#g32)"/>
<g transform="translate(249,782)">
<g filter="url(#gsh)" opacity="0.22">
<path d="M34.3 5.7 L33.9 6.7 L33.3 7.9 L32.6 9.3 L31.8 10.8 L30.9 12.4 L29.9 13.9 L28.6 15.6 L26.8 17.5 L24.8 19.8 L22.5 22.4 L20.3 25.4 L18.3 28.8 L17.0 32.3 L16.0 35.8 L15.2 39.5 L14.7 43.2 L14.3 46.9 L14.0 50.9 L14.2 55.3 L14.8 59.3 L15.3 62.2 L15.5 64.0 L15.6 64.3 L16.4 63.7 L17.4 64.4 L17.5 66.1 L16.9 67.7 L16.2 69.0 L16.2 69.7 L17.6 69.8 L19.3 70.2 L19.0 70.5 L17.7 70.1 L16.0 69.2 L14.4 68.2 L13.2 67.5 L13.1 66.9 L12.6 65.8 L11.8 64.3 L11.1 62.5 L10.5 60.6 L10.0 59.3 L0.2 60.5 L-0.0 61.7 L-0.3 63.5 L-0.6 66.0 L-0.5 68.9 L0.2 72.1 L2.0 75.1 L3.7 77.9 L5.6 80.5 L8.0 83.1 L11.0 85.5 L15.0 87.5 L20.6 88.2 L25.8 86.8 L29.8 84.5 L33.1 81.8 L36.1 78.7 L39.1 75.5 L42.2 71.3 L43.8 65.8 L43.7 60.9 L42.9 57.3 L42.3 54.5 L42.1 52.6 L42.0 51.1 L42.0 48.9 L42.2 46.1 L42.5 43.2 L42.7 40.3 L42.9 37.4 L42.9 34.8 L42.6 32.4 L42.3 29.7 L42.2 26.7 L42.3 23.7 L42.5 20.7 L42.7 17.9 L42.8 15.3 L42.7 13.0 L42.6 11.0 L42.4 9.3 L42.2 8.0 L42.1 7.1Z" fill="#000"/>
<path d="M55.9 2.5 L55.6 3.6 L55.3 5.0 L54.9 6.3 L54.3 7.5 L53.6 8.7 L53.0 9.9 L51.9 11.5 L50.1 13.5 L47.8 16.0 L45.0 18.9 L42.2 22.4 L39.7 26.5 L38.1 30.9 L37.3 35.1 L36.9 39.1 L36.8 43.0 L36.9 46.5 L37.3 50.3 L38.2 54.4 L39.5 58.3 L40.6 61.4 L41.3 63.7 L41.6 65.0 L41.8 65.6 L42.2 66.6 L42.7 68.1 L43.1 69.6 L43.6 71.3 L43.3 72.7 L42.9 73.8 L41.9 75.1 L39.7 76.9 L36.8 78.7 L33.7 80.5 L30.9 82.0 L28.9 83.1 L32.3 92.7 L34.4 92.3 L37.6 91.9 L41.4 91.2 L45.6 90.3 L49.8 88.9 L53.9 86.8 L57.2 84.1 L59.9 81.2 L62.8 78.2 L65.0 74.8 L66.7 71.1 L67.8 66.8 L67.9 61.9 L67.0 57.5 L66.0 53.8 L65.3 50.8 L64.9 48.5 L64.7 46.5 L64.4 44.0 L64.0 41.1 L63.6 38.5 L63.2 36.0 L62.8 33.9 L62.3 32.1 L61.8 30.1 L61.8 27.3 L62.4 24.2 L63.3 20.9 L64.4 17.6 L65.4 14.3 L65.9 11.2 L65.7 8.4 L65.2 6.2 L64.7 4.5 L64.2 3.3 L63.9 2.5Z" fill="#000"/>
<path d="M64.8 5.0 L64.5 5.8 L64.0 6.9 L63.5 8.3 L62.9 10.2 L62.5 12.4 L62.1 14.9 L61.8 17.7 L61.5 20.7 L61.2 24.1 L61.1 27.6 L61.1 31.2 L61.4 34.7 L61.7 38.1 L62.2 41.5 L63.0 45.2 L64.2 49.1 L65.8 53.0 L68.4 57.0 L71.5 61.2 L74.7 64.7 L77.5 67.5 L79.7 69.7 L80.8 70.8 L79.7 70.9 L79.3 70.0 L79.8 70.0 L80.5 70.8 L80.9 72.2 L80.5 73.7 L80.0 74.9 L79.4 76.0 L78.2 77.5 L76.3 79.1 L74.0 80.7 L71.6 82.2 L69.4 83.6 L67.5 84.6 L65.4 85.4 L63.2 86.1 L61.2 86.7 L59.3 87.1 L57.9 87.5 L59.3 95.9 L60.6 95.9 L62.4 95.8 L64.8 95.8 L67.4 95.6 L70.3 95.3 L73.2 94.8 L76.0 94.3 L79.2 93.8 L82.6 93.0 L86.2 92.0 L89.8 90.4 L93.2 88.1 L96.0 85.4 L98.5 82.6 L101.3 79.3 L103.6 75.2 L104.7 70.1 L103.7 64.1 L100.3 59.1 L97.4 54.9 L94.6 51.6 L92.2 48.8 L90.4 46.7 L89.6 45.0 L89.2 42.9 L88.4 40.4 L87.5 37.7 L86.4 34.9 L85.2 31.8 L83.8 28.9 L82.5 26.1 L81.1 23.3 L79.6 20.4 L78.2 17.7 L76.9 15.2 L75.9 13.1 L75.1 11.4 L74.4 9.9 L73.9 8.5 L73.4 7.3 L73.1 6.1 L72.8 5.2Z" fill="#000"/>
</g>
<g filter="url(#shr)">
<path d="M36.8 6.2 L36.2 7.1 L35.4 8.3 L34.5 9.6 L33.4 11.1 L32.2 12.7 L30.9 14.2 L29.3 15.9 L27.4 17.7 L25.1 19.9 L22.7 22.4 L20.4 25.4 L18.3 28.8 L16.9 32.3 L15.9 35.8 L15.2 39.5 L14.7 43.2 L14.3 46.9 L14.0 50.9 L14.2 55.3 L14.8 59.3 L15.3 62.2 L15.5 64.0 L15.6 64.3 L16.4 63.7 L17.4 64.4 L17.5 66.1 L16.9 67.7 L16.2 69.0 L16.2 69.7 L17.6 69.8 L19.3 70.2 L19.0 70.5 L17.7 70.1 L16.0 69.2 L14.4 68.2 L13.2 67.5 L13.1 66.9 L12.6 65.8 L11.8 64.3 L11.1 62.5 L10.5 60.6 L10.0 59.3 L0.2 60.5 L-0.0 61.7 L-0.3 63.5 L-0.6 66.0 L-0.5 68.9 L0.2 72.1 L2.0 75.1 L3.7 77.9 L5.6 80.5 L8.0 83.1 L11.0 85.5 L15.0 87.5 L20.6 88.2 L25.8 86.8 L29.8 84.5 L33.1 81.8 L36.1 78.7 L39.1 75.5 L42.2 71.3 L43.8 65.8 L43.7 60.9 L42.9 57.3 L42.3 54.5 L42.1 52.6 L42.0 51.1 L42.1 48.9 L42.3 46.1 L42.6 43.2 L42.8 40.3 L43.0 37.4 L42.9 34.8 L42.5 32.3 L42.1 29.6 L41.9 26.6 L41.8 23.5 L41.7 20.4 L41.7 17.6 L41.6 15.0 L41.2 12.7 L40.7 10.7 L40.3 9.0 L39.9 7.6 L39.6 6.6Z" fill="#868686"/>
<path d="M15.7 46.8Q28.0 49.4 40.7 49.0M16.0 58.8Q28.8 58.4 41.2 55.0M17.0 65.7Q29.8 66.6 42.5 64.4M16.6 66.3Q26.0 73.7 37.0 78.5M15.5 69.8Q17.7 79.5 22.7 88.2M16.0 68.7Q9.7 73.9 5.6 81.0" stroke="#5a5a5a" stroke-width="0.9" stroke-opacity="0.22" fill="none"/>
</g>
<path d="M37.1 6.2 L36.6 7.1 L35.9 8.3 L35.1 9.7 L34.2 11.3 L33.1 12.9 L31.9 14.6 L30.4 16.7 L28.5 19.2 L26.5 21.9 L24.4 24.5 L22.7 26.8 L21.4 28.4 L39.8 35.2 L39.8 33.2 L40.0 30.3 L40.2 27.0 L40.4 23.4 L40.6 20.1 L40.7 17.2 L40.6 14.8 L40.4 12.5 L40.1 10.6 L39.8 8.9 L39.5 7.6 L39.3 6.6Z" fill="#ffffff" opacity="0.22" filter="url(#bl2)"/>
<path d="M36.3 15.9L36.1 1.6M36.3 15.9L43.6 5.1" stroke="#8a8a8a" stroke-width="0.9" stroke-opacity="0.6" fill="none"/>
<circle cx="36.3" cy="15.9" r="2.3" fill="#1a1a1a" filter="url(#bl)"/>
<g filter="url(#shr)">
<path d="M58.5 2.5 L58.0 3.5 L57.5 4.8 L56.8 6.2 L55.9 7.6 L54.9 9.0 L53.9 10.3 L52.6 11.8 L50.6 13.8 L48.1 16.2 L45.2 19.0 L42.3 22.4 L39.7 26.5 L38.1 30.9 L37.2 35.1 L36.8 39.2 L36.8 43.0 L36.9 46.5 L37.3 50.3 L38.2 54.4 L39.5 58.3 L40.6 61.4 L41.3 63.7 L41.6 65.0 L41.8 65.6 L42.2 66.6 L42.7 68.1 L43.1 69.6 L43.6 71.3 L43.3 72.7 L42.9 73.8 L41.9 75.1 L39.7 76.9 L36.8 78.7 L33.7 80.5 L30.9 82.0 L28.9 83.1 L32.3 92.7 L34.4 92.3 L37.6 91.9 L41.4 91.2 L45.6 90.3 L49.8 88.9 L53.9 86.8 L57.2 84.1 L59.9 81.2 L62.8 78.2 L65.0 74.8 L66.7 71.1 L67.8 66.8 L67.9 61.9 L67.0 57.5 L66.0 53.8 L65.3 50.8 L64.9 48.5 L64.7 46.5 L64.5 44.0 L64.1 41.1 L63.7 38.5 L63.3 36.0 L62.9 33.9 L62.3 32.1 L61.7 30.0 L61.6 27.2 L62.0 24.0 L62.8 20.6 L63.8 17.2 L64.5 13.9 L64.6 10.9 L64.1 8.3 L63.4 6.2 L62.5 4.6 L61.8 3.4 L61.3 2.5Z" fill="#868686"/>
<path d="M38.1 42.7Q50.5 43.6 62.7 41.4M38.5 49.7Q51.2 49.9 63.5 47.1M41.4 61.3Q53.7 59.0 65.2 54.0M43.1 66.6Q54.8 67.7 66.5 65.8M42.8 71.6Q51.1 77.6 60.7 80.8M41.1 75.1Q44.7 82.9 50.7 89.0" stroke="#5a5a5a" stroke-width="0.9" stroke-opacity="0.22" fill="none"/>
</g>
<path d="M58.8 2.5 L58.4 3.5 L58.0 4.8 L57.4 6.2 L56.7 7.7 L55.9 9.2 L54.9 10.7 L53.5 12.7 L51.4 15.4 L49.1 18.3 L46.8 21.2 L44.8 23.7 L43.3 25.5 L58.7 33.1 L59.2 31.0 L60.0 27.9 L61.0 24.3 L62.0 20.4 L62.9 16.7 L63.5 13.5 L63.6 10.7 L63.3 8.3 L62.7 6.2 L62.0 4.6 L61.4 3.4 L61.0 2.5Z" fill="#ffffff" opacity="0.22" filter="url(#bl2)"/>
<path d="M59.2 12.1L57.2 -2.1M59.2 12.1L65.1 0.5" stroke="#8a8a8a" stroke-width="0.9" stroke-opacity="0.6" fill="none"/>
<circle cx="59.2" cy="12.1" r="2.3" fill="#1a1a1a" filter="url(#bl)"/>
<g filter="url(#shr)">
<path d="M67.4 5.1 L66.9 5.9 L66.2 7.0 L65.4 8.4 L64.5 10.2 L63.7 12.3 L63.2 14.8 L62.6 17.5 L62.1 20.6 L61.6 24.0 L61.3 27.6 L61.2 31.2 L61.4 34.7 L61.7 38.1 L62.1 41.5 L62.9 45.2 L64.1 49.1 L65.8 53.0 L68.4 57.0 L71.5 61.2 L74.7 64.7 L77.5 67.5 L79.7 69.7 L80.8 70.8 L79.7 70.9 L79.3 70.0 L79.8 70.0 L80.5 70.8 L80.9 72.2 L80.5 73.7 L80.0 74.9 L79.4 76.0 L78.2 77.5 L76.3 79.1 L74.0 80.7 L71.6 82.2 L69.4 83.6 L67.5 84.6 L65.4 85.4 L63.2 86.1 L61.2 86.7 L59.3 87.1 L57.9 87.5 L59.3 95.9 L60.6 95.9 L62.4 95.8 L64.8 95.8 L67.4 95.6 L70.3 95.3 L73.2 94.8 L76.0 94.3 L79.2 93.8 L82.6 93.0 L86.2 92.0 L89.8 90.4 L93.2 88.1 L96.0 85.4 L98.5 82.6 L101.3 79.3 L103.6 75.2 L104.7 70.1 L103.7 64.1 L100.3 59.1 L97.4 54.9 L94.6 51.6 L92.2 48.8 L90.4 46.7 L89.6 45.0 L89.2 42.9 L88.5 40.4 L87.5 37.7 L86.4 34.8 L85.2 31.8 L83.8 28.9 L82.4 26.1 L80.8 23.3 L79.2 20.5 L77.6 17.8 L76.1 15.3 L74.8 13.2 L73.8 11.5 L72.8 9.9 L72.0 8.5 L71.2 7.2 L70.7 6.0 L70.2 5.1Z" fill="#868686"/>
<path d="M65.9 52.5Q78.1 49.3 89.2 43.4M73.9 65.0Q84.4 57.9 92.9 48.6M81.0 72.1Q91.4 66.1 100.1 57.7M80.5 71.7Q90.4 76.5 101.3 78.4M78.5 76.1Q83.5 84.2 90.7 90.3M73.7 80.4Q75.2 87.8 79.4 94.1" stroke="#5a5a5a" stroke-width="0.9" stroke-opacity="0.22" fill="none"/>
</g>
<path d="M67.7 5.1 L67.3 5.9 L66.7 7.0 L66.0 8.4 L65.4 10.1 L64.8 12.2 L64.3 14.7 L64.1 17.6 L63.9 21.2 L63.7 25.0 L63.6 28.6 L63.5 31.6 L63.4 33.7 L81.8 29.9 L80.8 27.9 L79.5 25.1 L77.9 22.0 L76.3 18.7 L74.8 15.7 L73.7 13.3 L72.8 11.6 L72.0 10.0 L71.3 8.5 L70.7 7.2 L70.3 6.0 L69.9 5.1Z" fill="#ffffff" opacity="0.22" filter="url(#bl2)"/>
<path d="M68.8 14.0L65.8 0.0M68.8 14.0L73.8 2.0" stroke="#8a8a8a" stroke-width="0.9" stroke-opacity="0.6" fill="none"/>
<circle cx="68.8" cy="14" r="2.3" fill="#1a1a1a" filter="url(#bl)"/>
</g></g>
<linearGradient id="g33" x1="0" y1="0" x2="0" y2="1"><stop offset="0" stop-color="#e9e9e9"/><stop offset="1" stop-color="#dfdfdf"/></linearGradient>
<g clip-path="url(#c33)"><rect x="348" y="782" width="103" height="97" fill="url(#g33)"/>
<g transform="translate(348,782)">
<g filter="url(#gsh)" opacity="0.22">
<path d="M31.8 2.8 L31.5 4.5 L31.1 6.7 L30.6 9.0 L29.9 11.2 L29.0 12.8 L28.5 13.5 L27.8 13.8 L25.8 14.3 L23.0 15.1 L19.5 16.7 L15.7 19.6 L11.4 23.6 L8.5 28.1 L6.9 32.6 L6.1 37.1 L5.9 41.7 L6.2 46.2 L7.2 51.0 L9.3 55.7 L11.9 59.7 L14.4 62.9 L16.3 65.5 L17.6 67.7 L18.7 69.9 L20.6 72.5 L22.5 75.0 L23.6 76.9 L23.4 77.7 L22.7 75.5 L26.0 71.3 L28.3 69.8 L28.2 70.6 L26.6 72.0 L24.3 73.3 L21.8 74.5 L19.7 75.4 L17.7 75.9 L15.1 76.0 L12.3 75.8 L9.5 75.4 L7.0 75.0 L5.1 74.8 L2.9 83.0 L4.5 83.7 L6.8 84.7 L9.6 86.0 L12.9 87.2 L16.4 88.3 L20.1 89.0 L23.8 89.3 L27.6 89.4 L31.7 89.2 L35.9 88.5 L40.5 86.9 L45.6 82.5 L49.7 74.8 L48.0 68.7 L45.7 65.0 L44.0 62.2 L43.0 59.9 L42.3 57.5 L40.8 54.7 L39.0 51.8 L37.8 49.2 L37.2 47.0 L37.4 45.4 L37.8 44.4 L37.9 43.2 L37.9 41.3 L37.9 39.3 L37.8 37.5 L37.5 35.8 L36.4 34.8 L35.0 33.9 L35.1 32.5 L36.1 30.1 L37.8 27.1 L39.7 23.6 L41.7 19.7 L42.7 15.6 L42.4 11.9 L41.7 8.7 L40.9 6.0 L40.2 4.0 L39.8 2.6Z" fill="#000"/>
<path d="M38.9 5.3 L39.1 7.1 L39.5 9.5 L39.8 12.2 L39.9 15.0 L39.7 17.6 L39.1 19.3 L38.2 20.4 L37.3 21.7 L36.0 23.5 L34.5 26.0 L33.0 29.3 L32.1 33.0 L31.6 36.4 L31.4 39.7 L31.4 43.4 L31.9 47.4 L33.1 51.7 L35.5 56.3 L38.9 60.6 L41.9 64.5 L44.6 67.4 L46.5 69.6 L47.4 70.5 L46.0 70.5 L45.6 69.7 L46.3 69.8 L47.3 70.5 L48.3 71.8 L48.9 73.5 L48.8 74.5 L48.4 75.5 L47.2 76.8 L45.2 78.2 L42.7 79.7 L40.0 81.1 L37.5 82.5 L35.2 83.8 L32.8 85.0 L30.2 86.1 L27.9 87.2 L25.8 88.0 L24.2 88.7 L26.2 96.9 L27.8 96.8 L30.0 96.7 L32.8 96.6 L35.8 96.3 L39.0 95.9 L42.1 95.3 L45.0 94.6 L48.2 93.9 L51.7 92.9 L55.3 91.6 L59.0 89.8 L62.6 87.3 L65.6 84.3 L68.7 81.3 L71.6 77.7 L73.7 73.2 L74.6 68.1 L73.4 62.1 L69.6 56.9 L66.5 52.7 L63.7 49.6 L61.3 47.2 L59.8 45.6 L59.9 44.5 L60.3 43.5 L60.0 41.9 L59.7 40.1 L59.2 37.9 L58.7 35.5 L58.1 33.4 L57.4 31.9 L56.7 30.3 L56.3 28.0 L56.1 25.0 L55.8 21.6 L54.9 17.9 L53.4 14.4 L51.7 11.4 L49.9 8.6 L48.2 6.1 L46.8 4.1 L45.9 2.7Z" fill="#000"/>
<path d="M57.0 11.4 L57.7 12.8 L58.5 14.6 L59.4 16.5 L60.2 18.6 L60.3 20.6 L59.8 22.2 L58.9 23.6 L58.0 25.6 L57.1 28.4 L56.4 32.0 L56.3 36.5 L57.5 41.2 L59.7 45.3 L62.0 48.7 L64.1 52.0 L66.2 54.9 L68.2 57.6 L70.3 60.4 L72.9 63.6 L75.6 66.7 L78.2 69.4 L80.2 71.7 L81.4 73.1 L80.7 73.8 L80.2 73.8 L80.4 73.7 L81.1 73.7 L82.3 74.1 L83.5 74.9 L83.7 75.5 L83.5 76.3 L82.3 77.6 L80.2 79.0 L77.5 80.5 L74.5 81.9 L71.6 83.1 L68.5 84.1 L65.0 85.0 L61.3 85.8 L57.8 86.4 L54.8 86.9 L52.5 87.3 L53.5 95.7 L55.6 95.7 L58.7 95.6 L62.4 95.5 L66.4 95.3 L70.5 95.1 L74.2 94.7 L77.7 94.3 L81.3 93.9 L85.1 93.4 L89.0 92.6 L92.9 91.2 L96.7 88.9 L99.9 85.9 L103.2 82.7 L105.7 78.6 L106.9 74.0 L106.7 69.1 L104.9 64.2 L101.6 59.9 L98.8 56.1 L95.9 52.9 L93.1 50.1 L90.8 47.8 L88.9 45.6 L87.0 43.1 L85.0 40.6 L83.1 38.3 L81.6 36.3 L80.8 34.3 L80.5 33.0 L80.2 32.0 L79.4 30.4 L78.5 27.9 L77.5 24.8 L76.2 21.2 L74.2 17.6 L71.7 14.7 L69.2 12.4 L67.0 10.5 L65.0 9.1 L63.4 8.0 L62.4 7.2Z" fill="#000"/>
</g>
<g filter="url(#shr)">
<path d="M34.4 2.7 L33.9 4.3 L33.3 6.5 L32.6 9.0 L31.6 11.3 L30.4 13.1 L29.5 14.0 L28.4 14.4 L26.2 14.7 L23.3 15.5 L19.7 16.9 L15.7 19.7 L11.4 23.6 L8.4 28.1 L6.8 32.6 L6.0 37.1 L5.8 41.7 L6.2 46.2 L7.2 51.0 L9.3 55.7 L11.9 59.7 L14.4 62.9 L16.3 65.5 L17.6 67.7 L18.7 69.9 L20.6 72.5 L22.5 75.0 L23.6 76.9 L23.4 77.7 L22.7 75.5 L26.0 71.3 L28.3 69.8 L28.2 70.6 L26.6 72.0 L24.3 73.3 L21.8 74.5 L19.7 75.4 L17.7 75.9 L15.1 76.0 L12.3 75.8 L9.5 75.4 L7.0 75.0 L5.1 74.8 L2.9 83.0 L4.5 83.7 L6.8 84.7 L9.6 86.0 L12.9 87.2 L16.4 88.3 L20.1 89.0 L23.8 89.3 L27.6 89.4 L31.7 89.2 L35.9 88.5 L40.5 86.9 L45.6 82.5 L49.7 74.8 L48.0 68.7 L45.7 65.0 L44.0 62.2 L43.0 59.9 L42.3 57.5 L40.8 54.7 L39.0 51.8 L37.8 49.2 L37.2 47.0 L37.4 45.4 L37.8 44.4 L38.0 43.2 L38.0 41.3 L38.0 39.4 L37.9 37.5 L37.6 35.8 L36.4 34.8 L34.9 33.9 L34.9 32.3 L35.8 29.8 L37.3 26.6 L39.1 23.0 L40.7 19.2 L41.3 15.3 L40.7 11.8 L39.7 8.8 L38.7 6.2 L37.8 4.1 L37.2 2.7Z" fill="#7a7a7a"/>
<path d="M7.7 45.5Q22.2 46.2 36.5 43.9M11.6 59.2Q25.2 54.7 37.6 47.5M17.4 68.3Q30.0 62.5 41.0 54.2M23.6 77.5Q35.4 72.3 45.7 64.5M27.2 70.5Q30.7 80.3 36.9 88.7M21.5 74.1Q21.3 82.2 24.1 89.7" stroke="#5a5a5a" stroke-width="0.9" stroke-opacity="0.22" fill="none"/>
</g>
<path d="M34.7 2.7 L34.3 4.3 L33.9 6.5 L33.3 8.9 L32.5 11.3 L31.5 13.3 L30.6 14.6 L29.2 15.7 L26.8 17.0 L24.0 18.4 L21.2 19.7 L18.5 21.0 L16.6 22.0 L31.2 36.4 L31.9 34.7 L33.2 32.2 L34.9 29.1 L36.7 25.7 L38.2 22.1 L39.6 18.6 L40.2 15.1 L39.8 11.8 L39.0 8.8 L38.2 6.2 L37.4 4.1 L36.9 2.7Z" fill="#ffffff" opacity="0.22" filter="url(#bl2)"/>
<path d="M35.1 16.6L32.8 2.5M35.1 16.6L40.7 4.9" stroke="#8a8a8a" stroke-width="0.9" stroke-opacity="0.6" fill="none"/>
<circle cx="35.1" cy="16.6" r="2.3" fill="#1a1a1a" filter="url(#bl)"/>
<g filter="url(#shr)">
<path d="M41.2 4.4 L41.2 6.2 L41.4 8.7 L41.5 11.6 L41.5 14.5 L41.0 17.2 L40.3 19.2 L39.2 20.5 L38.0 21.8 L36.5 23.6 L34.8 26.1 L33.2 29.3 L32.1 33.0 L31.6 36.4 L31.3 39.7 L31.3 43.4 L31.9 47.4 L33.1 51.7 L35.5 56.3 L38.9 60.6 L41.9 64.5 L44.6 67.4 L46.5 69.6 L47.4 70.5 L46.0 70.5 L45.6 69.7 L46.3 69.8 L47.3 70.5 L48.3 71.8 L48.9 73.5 L48.8 74.5 L48.4 75.5 L47.2 76.8 L45.2 78.2 L42.7 79.7 L40.0 81.1 L37.5 82.5 L35.2 83.8 L32.8 85.0 L30.2 86.1 L27.9 87.2 L25.8 88.0 L24.2 88.7 L26.2 96.9 L27.8 96.8 L30.0 96.7 L32.8 96.6 L35.8 96.3 L39.0 95.9 L42.1 95.3 L45.0 94.6 L48.2 93.9 L51.7 92.9 L55.3 91.6 L59.0 89.8 L62.6 87.3 L65.6 84.3 L68.7 81.3 L71.6 77.7 L73.7 73.2 L74.6 68.1 L73.4 62.1 L69.6 56.9 L66.5 52.7 L63.7 49.6 L61.3 47.2 L59.8 45.6 L59.9 44.5 L60.3 43.5 L60.1 41.9 L59.7 40.1 L59.3 37.9 L58.7 35.5 L58.1 33.4 L57.3 31.9 L56.5 30.2 L55.8 27.8 L55.4 24.9 L54.8 21.5 L53.7 18.0 L52.1 14.8 L50.1 11.9 L48.1 9.2 L46.2 6.9 L44.7 4.9 L43.6 3.6Z" fill="#7a7a7a"/>
<path d="M33.7 50.7Q47.0 49.0 59.6 44.5M44.0 68.0Q55.1 59.6 64.2 49.0M47.4 72.0Q60.3 67.7 72.0 60.6M48.1 72.6Q58.0 78.0 69.0 80.5M46.5 76.6Q50.0 85.0 55.9 91.8M39.8 80.7Q41.1 88.4 45.2 95.0" stroke="#5a5a5a" stroke-width="0.9" stroke-opacity="0.22" fill="none"/>
</g>
<path d="M41.4 4.4 L41.6 6.1 L41.9 8.5 L42.2 11.3 L42.3 14.3 L42.1 17.0 L41.6 19.1 L40.8 20.9 L39.7 23.1 L38.4 25.4 L37.1 27.7 L35.9 29.8 L35.0 31.4 L55.2 35.0 L54.9 33.5 L54.6 31.2 L54.3 28.2 L53.9 24.9 L53.3 21.5 L52.4 18.1 L51.0 15.0 L49.2 12.1 L47.4 9.4 L45.8 7.0 L44.4 5.1 L43.4 3.6Z" fill="#ffffff" opacity="0.22" filter="url(#bl2)"/>
<path d="M48.4 18.6L40.3 6.8M48.4 18.6L48.5 5.6" stroke="#8a8a8a" stroke-width="0.9" stroke-opacity="0.6" fill="none"/>
<circle cx="48.4" cy="18.6" r="2.3" fill="#1a1a1a" filter="url(#bl)"/>
<g filter="url(#shr)">
<path d="M58.8 10.0 L59.3 11.5 L60.0 13.3 L60.7 15.5 L61.4 17.7 L61.5 20.0 L60.8 21.9 L59.8 23.5 L58.8 25.6 L57.6 28.4 L56.7 32.0 L56.4 36.5 L57.5 41.2 L59.6 45.3 L61.9 48.8 L64.0 52.0 L66.1 54.9 L68.2 57.6 L70.3 60.4 L72.9 63.6 L75.6 66.7 L78.2 69.4 L80.2 71.7 L81.4 73.1 L80.7 73.8 L80.2 73.8 L80.4 73.7 L81.1 73.7 L82.3 74.1 L83.5 74.9 L83.7 75.5 L83.5 76.3 L82.3 77.6 L80.2 79.0 L77.5 80.5 L74.5 81.9 L71.6 83.1 L68.5 84.1 L65.0 85.0 L61.3 85.8 L57.8 86.4 L54.8 86.9 L52.5 87.3 L53.5 95.7 L55.6 95.7 L58.7 95.6 L62.4 95.5 L66.4 95.3 L70.5 95.1 L74.2 94.7 L77.7 94.3 L81.3 93.9 L85.1 93.4 L89.0 92.6 L92.9 91.2 L96.7 88.9 L99.9 85.9 L103.2 82.7 L105.7 78.6 L106.9 74.0 L106.7 69.1 L104.9 64.2 L101.6 59.9 L98.8 56.1 L95.9 52.9 L93.1 50.1 L90.8 47.8 L88.9 45.6 L87.0 43.1 L85.0 40.6 L83.2 38.3 L81.7 36.2 L80.9 34.3 L80.5 33.0 L80.1 32.0 L79.1 30.4 L78.0 27.9 L76.7 24.8 L75.2 21.3 L73.2 17.9 L70.6 15.2 L68.0 13.2 L65.7 11.6 L63.6 10.3 L61.8 9.3 L60.6 8.6Z" fill="#7a7a7a"/>
<path d="M69.6 60.6Q80.5 54.2 89.6 45.4M77.8 70.1Q88.1 62.3 96.3 52.3M81.6 74.9Q93.5 70.3 104.0 63.1M82.5 75.5Q91.0 81.7 100.9 85.3M79.8 78.7Q81.2 86.7 85.5 93.7M71.4 82.8Q71.4 89.3 74.4 95.0" stroke="#5a5a5a" stroke-width="0.9" stroke-opacity="0.22" fill="none"/>
</g>
<path d="M59.0 9.9 L59.5 11.2 L60.4 13.0 L61.2 15.1 L62.0 17.3 L62.4 19.5 L62.1 21.5 L61.6 23.8 L61.0 26.6 L60.3 29.8 L59.6 33.0 L59.0 35.8 L58.7 37.9 L79.3 36.3 L78.7 34.5 L77.7 31.8 L76.6 28.5 L75.3 24.9 L73.7 21.4 L71.9 18.3 L69.6 15.7 L67.4 13.7 L65.2 12.0 L63.2 10.6 L61.6 9.5 L60.4 8.7Z" fill="#ffffff" opacity="0.22" filter="url(#bl2)"/>
<path d="M69.0 19.9L57.5 11.4M69.0 19.9L64.8 7.6" stroke="#8a8a8a" stroke-width="0.9" stroke-opacity="0.6" fill="none"/>
<circle cx="69" cy="19.9" r="2.3" fill="#1a1a1a" filter="url(#bl)"/>
</g></g>
<linearGradient id="g34" x1="0" y1="0" x2="0" y2="1"><stop offset="0" stop-color="#ebebeb"/><stop offset="1" stop-color="#e1e1e1"/></linearGradient>
<g clip-path="url(#c34)"><rect x="451" y="782" width="101" height="97" fill="url(#g34)"/>
<g transform="translate(451,782)">
<g filter="url(#gsh)" opacity="0.22">
<path d="M41.6 5.7 L40.8 6.5 L39.9 7.6 L39.0 8.6 L38.1 9.8 L36.8 10.8 L35.3 11.7 L33.3 12.5 L30.5 13.6 L27.1 15.1 L23.2 17.1 L19.3 20.0 L15.5 23.8 L12.1 28.0 L9.9 32.3 L8.5 36.8 L7.7 41.2 L7.3 45.4 L7.1 49.9 L7.7 54.9 L8.9 59.5 L10.1 63.0 L10.8 65.7 L11.0 67.3 L11.0 68.0 L11.3 69.1 L11.6 70.8 L11.9 72.7 L12.2 74.6 L12.5 76.4 L13.2 77.9 L13.5 78.8 L13.4 80.1 L12.6 81.7 L11.6 83.3 L10.4 84.9 L9.5 86.2 L16.5 95.8 L17.7 95.6 L19.5 95.2 L22.0 94.5 L24.9 93.3 L28.0 91.3 L31.0 88.5 L33.8 85.7 L35.9 82.7 L37.8 79.4 L39.3 75.7 L40.4 71.8 L41.0 67.2 L40.5 62.2 L39.2 57.8 L38.0 54.5 L37.3 51.9 L37.1 50.2 L37.1 48.9 L37.1 46.9 L37.2 44.4 L37.3 41.9 L37.4 39.7 L37.2 37.7 L36.5 36.0 L36.5 34.5 L37.4 32.4 L39.1 29.7 L41.1 26.8 L43.3 23.9 L45.3 20.9 L46.7 18.2 L47.7 15.8 L48.5 13.8 L49.1 12.1 L49.3 10.8 L49.4 9.9Z" fill="#000"/>
<path d="M47.0 8.9 L46.7 9.5 L46.3 10.0 L45.9 10.4 L45.3 11.0 L44.7 12.0 L43.8 13.3 L42.7 15.2 L41.1 17.6 L39.3 20.7 L37.5 24.3 L36.0 28.4 L35.1 32.7 L34.9 36.9 L35.2 40.9 L35.8 45.0 L36.8 49.1 L38.2 53.1 L40.4 57.3 L43.6 61.4 L46.5 65.0 L49.1 67.7 L50.8 69.6 L50.9 70.4 L49.6 69.2 L50.0 67.5 L51.1 67.6 L51.5 68.8 L50.8 70.2 L49.7 71.9 L48.6 73.5 L47.5 74.9 L45.9 76.5 L43.9 78.2 L41.6 79.9 L39.2 81.4 L37.1 82.8 L35.1 83.8 L33.0 84.7 L30.7 85.4 L28.6 85.9 L26.7 86.4 L25.3 86.8 L26.7 95.2 L28.0 95.1 L29.9 95.1 L32.3 95.0 L35.0 94.8 L38.0 94.5 L40.9 94.0 L43.8 93.5 L47.0 92.9 L50.4 92.1 L53.8 91.0 L57.4 89.6 L60.6 87.7 L63.5 85.7 L66.1 83.3 L68.7 80.4 L71.7 77.1 L74.5 72.5 L75.2 66.0 L72.4 60.0 L69.2 55.9 L66.8 52.7 L64.8 50.1 L63.5 48.4 L63.6 46.7 L63.6 44.9 L63.1 42.4 L62.7 39.8 L62.2 37.2 L61.7 34.5 L61.1 32.3 L60.4 30.1 L59.6 27.4 L58.9 24.3 L58.4 21.1 L57.9 18.0 L57.6 15.3 L57.1 13.2 L56.6 11.7 L56.1 10.6 L55.7 9.8 L55.3 9.4 L55.0 9.1Z" fill="#000"/>
<path d="M74.0 4.7 L74.4 5.6 L74.9 6.5 L74.9 7.1 L74.1 7.5 L73.1 7.4 L72.5 7.2 L71.9 8.1 L70.3 10.1 L68.1 12.8 L65.4 16.1 L62.7 20.2 L60.9 25.2 L60.5 30.2 L60.9 34.7 L61.9 38.9 L63.4 42.9 L65.1 46.6 L67.7 50.4 L70.8 54.6 L74.3 58.1 L77.3 60.7 L79.4 62.5 L80.2 63.1 L78.5 62.4 L78.5 60.9 L79.3 61.3 L79.7 62.9 L79.2 64.8 L78.0 66.8 L76.9 68.5 L75.7 70.0 L73.8 71.9 L71.2 73.8 L68.3 75.7 L65.5 77.4 L63.0 78.9 L60.9 80.0 L59.0 80.9 L57.2 81.6 L55.4 82.1 L53.8 82.5 L52.6 82.9 L54.0 91.3 L55.2 91.3 L56.8 91.2 L58.9 91.2 L61.3 91.0 L64.1 90.7 L67.0 90.1 L70.1 89.4 L73.6 88.7 L77.5 87.7 L81.6 86.5 L85.7 84.7 L89.5 82.3 L92.7 79.6 L95.5 76.6 L98.4 73.1 L101.4 69.2 L103.6 64.0 L103.5 57.2 L99.7 51.4 L96.4 46.9 L93.3 43.7 L90.8 41.1 L89.1 39.3 L88.3 38.0 L88.0 36.0 L87.1 33.7 L86.4 31.5 L85.8 29.5 L85.3 27.8 L84.7 26.8 L83.9 25.7 L83.5 23.3 L83.7 20.2 L84.4 16.8 L85.3 13.4 L86.1 9.8 L85.7 6.2 L83.9 3.4 L81.9 1.8 L80.6 0.9 L79.8 0.6 L79.4 0.5Z" fill="#000"/>
</g>
<g filter="url(#shr)">
<path d="M44.1 7.1 L43.2 7.8 L42.1 8.6 L40.8 9.6 L39.5 10.6 L37.8 11.6 L36.1 12.4 L33.9 13.1 L30.9 14.1 L27.3 15.4 L23.4 17.3 L19.3 20.1 L15.5 23.8 L12.0 27.9 L9.8 32.3 L8.4 36.8 L7.6 41.2 L7.3 45.4 L7.1 49.9 L7.7 54.9 L8.9 59.5 L10.1 63.0 L10.8 65.7 L11.0 67.3 L11.0 68.0 L11.3 69.1 L11.6 70.8 L11.9 72.7 L12.2 74.6 L12.5 76.4 L13.2 77.9 L13.5 78.8 L13.4 80.1 L12.6 81.7 L11.6 83.3 L10.4 84.9 L9.5 86.2 L16.5 95.8 L17.7 95.6 L19.5 95.2 L22.0 94.5 L24.9 93.3 L28.0 91.3 L31.0 88.5 L33.8 85.7 L35.9 82.7 L37.8 79.4 L39.3 75.7 L40.4 71.8 L41.0 67.2 L40.5 62.2 L39.2 57.8 L38.0 54.5 L37.3 51.9 L37.1 50.2 L37.1 48.9 L37.1 46.9 L37.2 44.4 L37.4 41.9 L37.5 39.7 L37.3 37.7 L36.5 36.0 L36.4 34.4 L37.3 32.2 L38.8 29.4 L40.7 26.4 L42.8 23.3 L44.5 20.2 L45.7 17.4 L46.3 14.9 L46.8 12.8 L46.9 11.0 L46.9 9.6 L46.9 8.5Z" fill="#848484"/>
<path d="M9.8 36.5Q22.6 40.8 36.1 42.2M8.8 45.1Q22.1 47.7 35.6 47.2M9.8 58.7Q23.4 57.1 36.4 52.6M12.4 68.0Q26.1 66.2 39.0 61.5M12.7 71.5Q25.3 74.8 38.2 75.0M12.5 77.0Q22.6 82.5 33.8 85.2" stroke="#5a5a5a" stroke-width="0.9" stroke-opacity="0.22" fill="none"/>
</g>
<path d="M44.4 7.2 L43.6 7.9 L42.6 8.9 L41.4 9.9 L40.1 11.1 L38.6 12.2 L36.8 13.2 L34.4 14.6 L31.3 16.4 L27.9 18.3 L24.5 20.1 L21.6 21.8 L19.5 22.9 L32.5 36.9 L33.7 35.0 L35.6 32.2 L37.8 29.0 L40.0 25.5 L42.1 22.2 L43.8 19.4 L44.9 16.8 L45.7 14.5 L46.2 12.5 L46.4 10.8 L46.5 9.4 L46.6 8.4Z" fill="#ffffff" opacity="0.22" filter="url(#bl2)"/>
<path d="M40.3 16.3L45.0 2.8M40.3 16.3L50.8 8.7" stroke="#8a8a8a" stroke-width="0.9" stroke-opacity="0.6" fill="none"/>
<circle cx="40.3" cy="16.3" r="2.3" fill="#1a1a1a" filter="url(#bl)"/>
<g filter="url(#shr)">
<path d="M49.6 9.0 L49.1 9.4 L48.5 9.9 L47.8 10.5 L46.9 11.1 L45.9 12.1 L44.9 13.5 L43.5 15.3 L41.7 17.8 L39.8 20.8 L37.8 24.3 L36.1 28.4 L35.1 32.7 L34.9 36.9 L35.1 41.0 L35.7 45.0 L36.8 49.1 L38.2 53.1 L40.4 57.3 L43.6 61.4 L46.5 65.0 L49.1 67.7 L50.8 69.6 L50.9 70.4 L49.6 69.2 L50.0 67.5 L51.1 67.6 L51.5 68.8 L50.8 70.2 L49.7 71.9 L48.6 73.5 L47.5 74.9 L45.9 76.5 L43.9 78.2 L41.6 79.9 L39.2 81.4 L37.1 82.8 L35.1 83.8 L33.0 84.7 L30.7 85.4 L28.6 85.9 L26.7 86.4 L25.3 86.8 L26.7 95.2 L28.0 95.1 L29.9 95.1 L32.3 95.0 L35.0 94.8 L38.0 94.5 L40.9 94.0 L43.8 93.5 L47.0 92.9 L50.4 92.1 L53.8 91.0 L57.4 89.6 L60.6 87.7 L63.5 85.7 L66.1 83.3 L68.7 80.4 L71.7 77.1 L74.5 72.5 L75.2 66.0 L72.4 60.0 L69.2 55.9 L66.8 52.7 L64.8 50.1 L63.5 48.4 L63.6 46.7 L63.6 44.9 L63.2 42.4 L62.7 39.8 L62.3 37.1 L61.7 34.5 L61.1 32.3 L60.3 30.1 L59.4 27.4 L58.5 24.2 L57.8 21.0 L57.1 17.8 L56.5 15.1 L55.8 13.1 L55.0 11.6 L54.2 10.6 L53.5 9.9 L52.9 9.4 L52.4 9.0Z" fill="#848484"/>
<path d="M40.2 56.3Q52.5 53.4 63.8 47.7M48.6 68.3Q58.9 61.3 67.2 52.1M51.2 71.1Q62.8 69.0 73.6 64.1M50.0 70.2Q57.5 77.9 66.9 83.3M46.7 74.8Q51.2 83.2 58.1 89.7M39.0 81.1Q40.1 88.0 44.0 93.8" stroke="#5a5a5a" stroke-width="0.9" stroke-opacity="0.22" fill="none"/>
</g>
<path d="M49.9 9.0 L49.5 9.4 L49.0 9.9 L48.4 10.5 L47.7 11.2 L46.9 12.2 L46.0 13.7 L44.8 16.0 L43.3 19.1 L41.7 22.6 L40.2 26.0 L38.9 29.0 L37.9 31.0 L58.3 34.0 L58.0 31.8 L57.5 28.6 L57.0 24.8 L56.5 21.0 L55.9 17.6 L55.4 14.9 L54.8 13.0 L54.2 11.6 L53.6 10.6 L53.0 9.9 L52.5 9.4 L52.1 9.0Z" fill="#ffffff" opacity="0.22" filter="url(#bl2)"/>
<path d="M50.7 14.3L48.5 0.2M50.7 14.3L56.4 2.6" stroke="#8a8a8a" stroke-width="0.9" stroke-opacity="0.6" fill="none"/>
<circle cx="50.7" cy="14.3" r="2.3" fill="#1a1a1a" filter="url(#bl)"/>
<g filter="url(#shr)">
<path d="M75.8 3.3 L75.9 4.2 L76.2 5.2 L76.2 6.1 L75.5 6.9 L74.4 7.3 L73.6 7.4 L72.6 8.4 L70.8 10.4 L68.4 13.0 L65.6 16.2 L62.8 20.2 L60.9 25.2 L60.4 30.2 L60.8 34.7 L61.9 39.0 L63.3 42.9 L65.1 46.6 L67.7 50.4 L70.8 54.6 L74.3 58.1 L77.3 60.7 L79.4 62.5 L80.2 63.1 L78.5 62.4 L78.5 60.9 L79.3 61.3 L79.7 62.9 L79.2 64.8 L78.0 66.8 L76.9 68.5 L75.7 70.0 L73.8 71.9 L71.2 73.8 L68.3 75.7 L65.5 77.4 L63.0 78.9 L60.9 80.0 L59.0 80.9 L57.2 81.6 L55.4 82.1 L53.8 82.5 L52.6 82.9 L54.0 91.3 L55.2 91.3 L56.8 91.2 L58.9 91.2 L61.3 91.0 L64.1 90.7 L67.0 90.1 L70.1 89.4 L73.6 88.7 L77.5 87.7 L81.6 86.5 L85.7 84.7 L89.5 82.3 L92.7 79.6 L95.5 76.6 L98.4 73.1 L101.4 69.2 L103.6 64.0 L103.5 57.2 L99.7 51.4 L96.4 46.9 L93.3 43.7 L90.8 41.1 L89.1 39.3 L88.3 38.0 L88.0 36.0 L87.2 33.7 L86.5 31.5 L85.9 29.5 L85.4 27.8 L84.7 26.8 L83.8 25.6 L83.2 23.2 L83.4 20.0 L83.9 16.5 L84.6 13.1 L85.0 9.6 L84.4 6.3 L82.6 4.0 L80.7 2.8 L79.2 2.2 L78.3 2.0 L77.6 1.9Z" fill="#848484"/>
<path d="M66.7 49.9Q78.7 45.5 89.3 38.5M76.9 61.3Q86.4 53.2 93.7 43.1M80.2 64.2Q91.6 61.2 101.8 55.4M78.4 64.9Q86.5 71.9 96.3 76.4M74.9 70.0Q79.5 78.3 86.5 84.7M68.1 75.3Q69.6 82.8 73.9 89.0" stroke="#5a5a5a" stroke-width="0.9" stroke-opacity="0.22" fill="none"/>
</g>
<path d="M75.9 3.2 L76.1 4.0 L76.5 4.9 L76.6 5.8 L76.2 6.6 L75.4 7.2 L74.7 7.7 L73.6 9.4 L71.9 12.0 L69.8 15.1 L67.7 18.1 L65.8 20.8 L64.5 22.7 L81.1 29.3 L81.4 27.1 L81.9 23.9 L82.6 20.2 L83.3 16.2 L83.7 12.5 L83.9 9.3 L83.4 6.4 L81.9 4.3 L80.2 3.1 L78.9 2.5 L78.0 2.2 L77.5 2.0Z" fill="#ffffff" opacity="0.22" filter="url(#bl2)"/>
<path d="M79.3 8.5L70.9 -3.1M79.3 8.5L79.0 -4.5" stroke="#8a8a8a" stroke-width="0.9" stroke-opacity="0.6" fill="none"/>
<circle cx="79.3" cy="8.5" r="2.3" fill="#1a1a1a" filter="url(#bl)"/>
</g></g>
<linearGradient id="g35" x1="0" y1="0" x2="0" y2="1"><stop offset="0" stop-color="#ededed"/><stop offset="1" stop-color="#e3e3e3"/></linearGradient>
<g clip-path="url(#c35)"><rect x="552" y="782" width="108" height="97" fill="url(#g35)"/>
<g transform="translate(552,782)">
<g filter="url(#gsh)" opacity="0.22">
<path d="M22.4 2.9 L22.1 4.0 L21.8 5.5 L21.5 7.1 L20.9 8.8 L20.3 10.6 L19.5 12.4 L18.4 14.2 L16.9 16.5 L15.1 19.2 L13.2 22.5 L11.5 26.5 L10.6 30.8 L10.4 34.8 L10.6 38.8 L11.3 43.0 L12.5 47.3 L14.3 51.6 L17.2 56.0 L20.5 60.4 L24.0 64.2 L27.1 67.1 L29.5 69.2 L30.7 70.3 L29.9 70.5 L29.0 69.9 L29.2 69.8 L30.0 70.0 L30.9 70.9 L31.7 72.2 L31.9 73.1 L31.7 74.0 L30.5 75.5 L28.5 77.2 L26.0 78.9 L23.4 80.6 L21.1 82.2 L19.2 83.6 L17.5 84.7 L15.9 85.7 L14.5 86.6 L13.2 87.3 L12.3 87.9 L15.5 95.7 L16.6 95.5 L17.9 95.2 L19.7 94.7 L21.7 94.2 L23.9 93.6 L26.1 93.0 L28.6 92.4 L31.5 91.8 L34.9 90.9 L38.6 89.8 L42.3 88.1 L45.9 85.5 L48.8 82.4 L51.8 79.4 L54.2 75.6 L55.7 70.9 L55.7 65.8 L53.5 60.3 L49.8 55.6 L46.4 51.8 L43.3 49.0 L40.7 46.8 L39.0 45.2 L38.4 44.0 L38.6 42.3 L38.4 40.2 L38.0 37.8 L37.6 35.3 L37.2 32.7 L36.6 30.4 L35.9 28.5 L35.1 26.2 L34.4 23.4 L33.9 20.3 L33.6 17.1 L33.3 14.0 L32.8 11.2 L32.3 8.8 L31.7 6.8 L31.2 5.0 L30.7 3.7 L30.4 2.7Z" fill="#000"/>
<path d="M54.4 2.2 L54.2 3.0 L53.9 3.8 L53.5 4.2 L53.0 4.6 L52.4 5.1 L51.7 5.9 L50.5 7.3 L48.7 9.0 L46.6 11.2 L44.2 13.8 L41.9 16.6 L40.0 19.5 L38.6 22.1 L37.2 25.0 L35.6 28.6 L34.1 32.9 L33.2 38.2 L33.9 44.5 L36.8 50.2 L40.2 54.5 L42.8 58.3 L45.2 61.3 L46.8 63.5 L46.9 65.2 L46.9 66.4 L47.1 67.5 L47.2 67.9 L47.5 68.1 L48.1 68.4 L48.8 69.0 L49.5 70.2 L49.7 72.1 L49.3 74.2 L48.5 76.3 L47.7 78.3 L47.0 79.7 L46.5 80.7 L45.7 81.7 L44.4 82.6 L42.9 83.5 L41.5 84.3 L40.4 85.0 L43.0 93.0 L44.1 93.0 L45.7 92.9 L47.8 92.7 L50.3 92.3 L53.1 91.4 L56.0 89.9 L58.5 88.1 L61.0 86.2 L63.4 83.9 L65.9 81.4 L68.5 78.7 L70.8 75.6 L72.4 72.2 L73.3 68.6 L73.4 64.9 L72.8 61.3 L71.7 58.0 L69.9 54.4 L67.1 50.7 L64.6 47.0 L62.2 43.9 L60.3 41.4 L59.9 39.4 L60.7 38.9 L61.0 39.1 L60.9 38.2 L61.0 36.4 L61.5 33.9 L62.4 30.8 L63.0 27.7 L63.2 24.9 L63.2 22.0 L63.4 18.9 L63.7 15.7 L64.0 12.8 L64.3 10.1 L64.5 7.6 L64.2 5.5 L63.7 3.8 L63.1 2.6 L62.7 2.1 L62.4 1.8Z" fill="#000"/>
<path d="M75.7 2.6 L75.8 3.5 L75.8 4.4 L75.5 5.1 L75.0 5.9 L74.4 6.7 L73.7 7.8 L72.8 9.6 L71.5 12.3 L69.8 15.6 L68.1 19.4 L66.7 23.8 L65.9 28.4 L66.0 32.8 L66.6 36.7 L67.7 40.6 L69.1 44.1 L70.9 47.5 L73.5 51.1 L76.7 55.1 L80.2 58.3 L83.1 60.5 L85.0 61.9 L85.4 61.9 L83.2 60.0 L83.8 57.8 L84.8 58.5 L84.5 60.3 L83.2 62.4 L81.5 64.7 L80.0 66.7 L78.5 68.6 L76.6 70.5 L74.3 72.5 L71.8 74.5 L69.2 76.4 L66.9 78.0 L65.0 79.4 L63.1 80.5 L61.3 81.5 L59.6 82.3 L58.2 83.0 L57.0 83.6 L59.8 91.6 L60.9 91.4 L62.5 91.1 L64.5 90.7 L66.8 90.2 L69.4 89.6 L72.1 88.8 L74.8 88.0 L78.0 87.1 L81.5 86.0 L85.2 84.6 L89.0 82.9 L92.4 80.7 L95.5 78.2 L98.4 75.5 L101.4 72.3 L104.5 68.7 L107.7 64.0 L108.8 56.8 L104.8 50.2 L101.4 45.7 L98.2 42.6 L95.6 40.3 L94.0 38.8 L93.3 37.9 L93.0 36.3 L92.3 34.3 L91.7 32.4 L91.1 30.6 L90.5 28.8 L89.9 27.2 L89.2 25.4 L88.6 22.6 L88.2 19.3 L88.1 15.7 L87.9 12.1 L87.7 8.8 L87.0 6.0 L86.0 3.8 L84.9 2.1 L83.8 1.1 L83.2 0.5 L82.9 0.2Z" fill="#000"/>
</g>
<g filter="url(#shr)">
<path d="M25.0 2.8 L24.6 3.9 L24.0 5.4 L23.3 7.0 L22.5 8.8 L21.6 10.7 L20.5 12.5 L19.2 14.4 L17.5 16.6 L15.5 19.3 L13.4 22.6 L11.6 26.5 L10.6 30.8 L10.3 34.8 L10.5 38.8 L11.2 43.0 L12.4 47.3 L14.3 51.6 L17.2 56.0 L20.5 60.4 L24.0 64.2 L27.1 67.1 L29.5 69.2 L30.7 70.3 L29.9 70.5 L29.0 69.9 L29.2 69.8 L30.0 70.0 L30.9 70.9 L31.7 72.2 L31.9 73.1 L31.7 74.0 L30.5 75.5 L28.5 77.2 L26.0 78.9 L23.4 80.6 L21.1 82.2 L19.2 83.6 L17.5 84.7 L15.9 85.7 L14.5 86.6 L13.2 87.3 L12.3 87.9 L15.5 95.7 L16.6 95.5 L17.9 95.2 L19.7 94.7 L21.7 94.2 L23.9 93.6 L26.1 93.0 L28.6 92.4 L31.5 91.8 L34.9 90.9 L38.6 89.8 L42.3 88.1 L45.9 85.5 L48.8 82.4 L51.8 79.4 L54.2 75.6 L55.7 70.9 L55.7 65.8 L53.5 60.3 L49.8 55.6 L46.4 51.8 L43.3 49.0 L40.7 46.8 L39.0 45.2 L38.4 44.0 L38.7 42.3 L38.4 40.2 L38.1 37.8 L37.7 35.3 L37.2 32.7 L36.6 30.4 L35.8 28.5 L34.8 26.2 L34.0 23.3 L33.4 20.2 L32.8 17.0 L32.3 13.9 L31.5 11.2 L30.7 8.8 L29.8 6.8 L29.0 5.1 L28.3 3.8 L27.8 2.8Z" fill="#8e8e8e"/>
<path d="M14.5 50.8Q26.9 48.4 38.4 43.1M23.2 64.4Q33.4 56.6 41.5 46.6M29.4 70.1Q39.1 61.5 46.5 51.0M30.5 70.9Q42.5 71.9 54.4 69.8M30.8 73.6Q38.0 80.5 47.0 85.0M25.8 78.6Q27.4 85.9 31.7 92.1" stroke="#5a5a5a" stroke-width="0.9" stroke-opacity="0.22" fill="none"/>
</g>
<path d="M25.3 2.8 L24.9 3.9 L24.5 5.3 L24.0 7.0 L23.3 8.8 L22.6 10.8 L21.7 12.7 L20.5 15.1 L19.0 18.1 L17.4 21.3 L15.8 24.3 L14.5 27.0 L13.5 28.9 L33.7 32.3 L33.4 30.3 L33.0 27.3 L32.6 23.8 L32.1 20.2 L31.6 16.7 L31.1 13.7 L30.5 11.1 L29.9 8.8 L29.2 6.8 L28.5 5.1 L27.9 3.8 L27.5 2.8Z" fill="#ffffff" opacity="0.22" filter="url(#bl2)"/>
<path d="M26.4 13.2L23.4 -0.8M26.4 13.2L31.4 1.2" stroke="#8a8a8a" stroke-width="0.9" stroke-opacity="0.6" fill="none"/>
<circle cx="26.4" cy="13.2" r="2.3" fill="#1a1a1a" filter="url(#bl)"/>
<g filter="url(#shr)">
<path d="M57.0 2.1 L56.6 2.7 L56.1 3.5 L55.4 4.2 L54.5 4.8 L53.6 5.4 L52.6 6.3 L51.2 7.5 L49.3 9.3 L46.9 11.4 L44.5 13.8 L42.0 16.7 L40.0 19.5 L38.6 22.1 L37.2 25.0 L35.6 28.6 L34.0 32.9 L33.1 38.2 L33.9 44.5 L36.8 50.2 L40.2 54.5 L42.8 58.3 L45.2 61.3 L46.8 63.5 L46.9 65.2 L46.9 66.4 L47.1 67.5 L47.2 67.9 L47.5 68.1 L48.1 68.4 L48.8 69.0 L49.5 70.2 L49.7 72.1 L49.3 74.2 L48.5 76.3 L47.7 78.3 L47.0 79.7 L46.5 80.7 L45.7 81.7 L44.4 82.6 L42.9 83.5 L41.5 84.3 L40.4 85.0 L43.0 93.0 L44.1 93.0 L45.7 92.9 L47.8 92.7 L50.3 92.3 L53.1 91.4 L56.0 89.9 L58.5 88.1 L61.0 86.2 L63.4 83.9 L65.9 81.4 L68.5 78.7 L70.8 75.6 L72.4 72.2 L73.3 68.6 L73.4 64.9 L72.8 61.3 L71.7 58.0 L69.9 54.4 L67.1 50.7 L64.6 47.0 L62.2 43.9 L60.3 41.4 L59.9 39.4 L60.7 38.9 L61.0 39.1 L60.9 38.2 L61.0 36.4 L61.6 33.9 L62.4 30.8 L63.0 27.7 L63.1 24.8 L63.0 21.9 L63.0 18.7 L63.1 15.5 L63.3 12.5 L63.4 9.7 L63.2 7.4 L62.7 5.4 L61.8 3.9 L61.0 2.9 L60.3 2.4 L59.8 1.9Z" fill="#8e8e8e"/>
<path d="M34.6 37.1Q46.9 40.1 59.6 40.2M39.2 54.4Q51.0 49.2 61.2 41.5M46.6 64.5Q57.8 58.3 67.3 49.7M48.2 67.8Q60.4 65.8 71.7 60.9M49.2 70.0Q59.5 73.8 70.4 74.6M48.0 76.3Q53.8 82.5 61.5 86.2" stroke="#5a5a5a" stroke-width="0.9" stroke-opacity="0.22" fill="none"/>
</g>
<path d="M57.3 2.1 L56.9 2.7 L56.6 3.4 L56.0 4.1 L55.4 4.8 L54.6 5.6 L53.7 6.6 L52.3 8.3 L50.3 10.7 L48.1 13.3 L46.0 16.0 L44.1 18.2 L42.7 19.8 L60.3 27.4 L60.5 25.4 L60.9 22.4 L61.3 19.0 L61.8 15.4 L62.1 12.1 L62.3 9.4 L62.3 7.2 L61.8 5.3 L61.2 3.9 L60.5 3.0 L59.9 2.4 L59.5 1.9Z" fill="#ffffff" opacity="0.22" filter="url(#bl2)"/>
<path d="M58.4 5.6L55.4 -8.4M58.4 5.6L63.4 -6.4" stroke="#8a8a8a" stroke-width="0.9" stroke-opacity="0.6" fill="none"/>
<circle cx="58.4" cy="5.6" r="2.3" fill="#1a1a1a" filter="url(#bl)"/>
<g filter="url(#shr)">
<path d="M78.0 1.8 L77.9 2.6 L77.7 3.6 L77.2 4.6 L76.5 5.6 L75.7 6.6 L74.8 7.9 L73.6 9.7 L72.1 12.4 L70.3 15.7 L68.4 19.5 L66.8 23.8 L65.9 28.4 L66.0 32.8 L66.5 36.8 L67.6 40.6 L69.1 44.2 L70.9 47.5 L73.5 51.1 L76.7 55.1 L80.2 58.3 L83.1 60.5 L85.0 61.9 L85.4 61.9 L83.2 60.0 L83.8 57.8 L84.8 58.5 L84.5 60.3 L83.2 62.4 L81.5 64.7 L80.0 66.7 L78.5 68.6 L76.6 70.5 L74.3 72.5 L71.8 74.5 L69.2 76.4 L66.9 78.0 L65.0 79.4 L63.1 80.5 L61.3 81.5 L59.6 82.3 L58.2 83.0 L57.0 83.6 L59.8 91.6 L60.9 91.4 L62.5 91.1 L64.5 90.7 L66.8 90.2 L69.4 89.6 L72.1 88.8 L74.8 88.0 L78.0 87.1 L81.5 86.0 L85.2 84.6 L89.0 82.9 L92.4 80.7 L95.5 78.2 L98.4 75.5 L101.4 72.3 L104.5 68.7 L107.7 64.0 L108.8 56.8 L104.8 50.2 L101.4 45.7 L98.2 42.6 L95.6 40.3 L94.0 38.8 L93.3 37.9 L93.0 36.3 L92.4 34.3 L91.8 32.4 L91.2 30.6 L90.5 28.8 L89.9 27.2 L89.1 25.3 L88.4 22.6 L87.8 19.2 L87.5 15.5 L87.1 12.0 L86.6 8.7 L85.7 6.0 L84.5 4.0 L83.2 2.7 L82.0 1.8 L81.1 1.4 L80.6 1.0Z" fill="#8e8e8e"/>
<path d="M72.4 50.6Q84.1 45.8 94.4 38.4M82.8 61.1Q91.8 52.5 98.5 42.0M85.0 62.5Q96.5 59.8 107.0 54.3M82.5 62.3Q89.9 70.1 99.1 75.6M77.8 68.4Q82.6 76.7 89.7 83.0M71.5 74.2Q73.6 81.5 78.3 87.4" stroke="#5a5a5a" stroke-width="0.9" stroke-opacity="0.22" fill="none"/>
</g>
<path d="M78.3 1.7 L78.2 2.5 L78.1 3.4 L77.8 4.4 L77.3 5.4 L76.7 6.6 L76.0 8.0 L75.0 10.4 L73.6 13.7 L72.2 17.4 L70.7 21.0 L69.4 24.1 L68.5 26.3 L87.3 29.3 L87.1 26.9 L86.9 23.6 L86.6 19.6 L86.3 15.5 L85.9 11.7 L85.4 8.6 L84.7 6.1 L83.7 4.2 L82.6 2.9 L81.5 2.0 L80.8 1.5 L80.3 1.1Z" fill="#ffffff" opacity="0.22" filter="url(#bl2)"/>
<path d="M80.7 8.3L75.0 -4.8M80.7 8.3L83.2 -4.5" stroke="#8a8a8a" stroke-width="0.9" stroke-opacity="0.6" fill="none"/>
<circle cx="80.7" cy="8.3" r="2.3" fill="#1a1a1a" filter="url(#bl)"/>
</g></g>
<linearGradient id="g36" x1="0" y1="0" x2="0" y2="1"><stop offset="0" stop-color="#ebebeb"/><stop offset="1" stop-color="#e1e1e1"/></linearGradient>
<g clip-path="url(#c36)"><rect x="660" y="782" width="115" height="97" fill="url(#g36)"/>
<g transform="translate(660,782)">
<g filter="url(#gsh)" opacity="0.22">
<path d="M39.2 6.4 L38.6 7.3 L37.9 8.4 L37.2 9.6 L36.5 10.7 L35.6 12.0 L34.6 13.3 L33.2 14.8 L30.8 16.7 L28.1 19.0 L25.1 21.8 L21.8 25.1 L18.7 29.1 L16.7 33.5 L15.6 37.8 L15.1 42.2 L15.1 46.6 L15.5 50.8 L16.7 55.5 L19.3 60.4 L22.3 64.4 L24.4 67.7 L25.7 70.2 L25.3 71.4 L24.5 70.0 L25.3 68.9 L26.3 69.9 L26.7 71.5 L26.2 72.9 L25.9 73.8 L26.6 74.0 L27.7 74.3 L27.1 74.5 L25.3 74.3 L22.8 73.7 L20.1 72.9 L17.6 72.2 L15.5 71.7 L13.5 71.2 L11.5 70.6 L9.5 69.9 L7.9 69.3 L6.6 68.9 L2.2 76.1 L3.1 77.0 L4.3 78.2 L5.9 79.8 L7.8 81.4 L9.9 83.1 L12.0 84.6 L14.0 86.0 L16.4 87.6 L19.3 89.4 L22.8 91.0 L27.2 92.1 L32.6 91.8 L37.4 89.7 L41.1 87.0 L44.4 83.8 L47.8 80.2 L50.9 75.7 L52.5 69.2 L50.5 62.4 L47.3 57.9 L44.8 54.4 L42.9 51.6 L42.3 49.4 L42.5 48.1 L42.4 46.5 L42.0 44.2 L41.7 42.0 L41.4 39.8 L41.0 37.8 L40.5 36.1 L39.9 34.2 L40.0 31.5 L41.2 28.6 L42.6 25.5 L44.0 22.3 L45.4 19.3 L46.3 16.6 L46.8 14.2 L47.0 12.1 L46.9 10.4 L46.8 9.2 L46.6 8.4Z" fill="#000"/>
<path d="M59.9 2.5 L60.0 3.8 L60.2 5.3 L60.1 6.8 L59.7 8.2 L59.2 9.2 L58.6 10.0 L57.6 11.3 L55.8 13.3 L53.4 15.7 L50.5 18.5 L47.3 21.8 L44.7 25.5 L42.8 29.1 L41.4 32.7 L40.2 36.6 L39.4 41.0 L39.1 45.9 L39.8 51.4 L42.2 56.9 L45.1 61.4 L47.5 64.9 L48.9 67.9 L49.0 69.7 L48.4 69.8 L48.6 69.9 L49.1 71.1 L49.6 72.7 L50.0 74.6 L49.9 76.5 L49.6 77.7 L49.2 78.9 L47.6 80.6 L45.2 82.5 L42.6 84.3 L40.1 85.8 L38.2 87.0 L41.8 96.6 L43.7 96.4 L46.6 96.1 L50.2 95.7 L54.3 95.0 L58.6 93.5 L62.8 91.1 L66.0 88.0 L69.0 84.8 L71.9 81.3 L74.3 77.1 L75.8 72.3 L76.0 66.4 L73.9 60.4 L70.9 55.9 L68.4 52.3 L66.8 49.3 L66.4 47.1 L66.8 46.2 L67.0 45.3 L67.0 43.6 L67.1 41.6 L67.3 39.1 L67.6 36.4 L67.7 33.7 L67.6 31.1 L67.8 28.0 L68.5 24.5 L69.5 20.9 L70.7 17.3 L71.6 13.6 L71.7 9.8 L70.9 6.7 L69.7 4.3 L68.6 2.5 L67.8 1.3 L67.3 0.5Z" fill="#000"/>
<path d="M88.6 6.6 L88.5 7.6 L88.5 8.8 L88.2 9.9 L87.7 10.8 L87.1 11.5 L86.5 12.2 L85.7 13.3 L84.2 15.0 L82.2 17.2 L79.8 19.7 L77.2 22.7 L75.0 26.0 L73.4 29.2 L71.8 32.5 L70.3 36.4 L69.1 41.0 L68.6 46.2 L70.0 52.5 L73.9 58.0 L77.4 62.4 L80.5 65.6 L82.7 67.8 L83.2 69.0 L81.9 68.2 L82.2 67.5 L82.6 68.8 L82.5 71.1 L81.7 73.6 L80.5 75.8 L79.7 77.4 L79.1 78.5 L77.5 80.0 L75.2 81.6 L72.6 83.1 L70.1 84.4 L68.3 85.4 L70.9 95.2 L72.8 95.2 L75.5 95.3 L79.1 95.3 L83.1 94.9 L87.6 93.8 L91.9 91.4 L95.4 88.4 L98.4 85.1 L101.5 81.4 L104.5 77.1 L106.8 72.0 L107.5 65.0 L104.4 58.3 L100.8 53.6 L97.9 50.0 L95.6 47.3 L94.6 45.7 L95.8 45.1 L96.3 45.0 L96.1 43.8 L96.0 41.7 L96.1 39.0 L96.4 36.0 L96.6 33.2 L96.5 30.7 L96.6 28.1 L97.0 25.1 L97.8 22.1 L98.7 19.1 L99.5 16.0 L99.6 12.9 L99.1 10.2 L98.2 8.2 L97.4 6.7 L96.7 5.8 L96.4 5.2Z" fill="#000"/>
</g>
<g filter="url(#shr)">
<path d="M41.6 7.1 L40.9 7.9 L40.0 8.9 L39.0 10.0 L37.9 11.2 L36.7 12.5 L35.5 13.8 L33.7 15.2 L31.3 17.0 L28.4 19.2 L25.3 21.9 L21.9 25.1 L18.7 29.1 L16.7 33.5 L15.5 37.8 L15.0 42.2 L15.0 46.6 L15.5 50.8 L16.7 55.5 L19.3 60.4 L22.3 64.4 L24.4 67.7 L25.7 70.2 L25.3 71.4 L24.5 70.0 L25.3 68.9 L26.3 69.9 L26.7 71.5 L26.2 72.9 L25.9 73.8 L26.6 74.0 L27.7 74.3 L27.1 74.5 L25.3 74.3 L22.8 73.7 L20.1 72.9 L17.6 72.2 L15.5 71.7 L13.5 71.2 L11.5 70.6 L9.5 69.9 L7.9 69.3 L6.6 68.9 L2.2 76.1 L3.1 77.0 L4.3 78.2 L5.9 79.8 L7.8 81.4 L9.9 83.1 L12.0 84.6 L14.0 86.0 L16.4 87.6 L19.3 89.4 L22.8 91.0 L27.2 92.1 L32.6 91.8 L37.4 89.7 L41.1 87.0 L44.4 83.8 L47.8 80.2 L50.9 75.7 L52.5 69.2 L50.5 62.4 L47.3 57.9 L44.8 54.4 L42.9 51.6 L42.3 49.4 L42.5 48.1 L42.4 46.5 L42.1 44.2 L41.8 42.0 L41.5 39.8 L41.1 37.8 L40.5 36.1 L39.8 34.1 L39.9 31.4 L40.9 28.4 L42.1 25.2 L43.4 21.9 L44.5 18.8 L45.2 16.1 L45.4 13.7 L45.2 11.6 L44.8 10.0 L44.5 8.7 L44.2 7.7Z" fill="#7e7e7e"/>
<path d="M16.6 50.2Q29.2 50.1 41.3 47.1M21.5 64.4Q33.3 59.3 43.7 51.6M26.5 72.6Q38.6 68.3 49.4 61.2M25.9 70.8Q36.5 76.4 48.2 79.3M24.8 74.3Q28.3 83.6 34.4 91.5M22.9 73.3Q18.3 80.1 16.3 88.1" stroke="#5a5a5a" stroke-width="0.9" stroke-opacity="0.22" fill="none"/>
</g>
<path d="M41.9 7.1 L41.2 8.0 L40.5 9.0 L39.6 10.2 L38.6 11.5 L37.5 12.8 L36.3 14.3 L34.5 16.3 L32.1 18.8 L29.4 21.6 L26.7 24.2 L24.4 26.5 L22.8 28.1 L36.4 37.1 L37.2 35.0 L38.5 32.0 L39.9 28.5 L41.3 24.7 L42.7 21.2 L43.7 18.3 L44.4 15.7 L44.6 13.5 L44.6 11.5 L44.3 9.9 L44.1 8.6 L43.9 7.7Z" fill="#ffffff" opacity="0.22" filter="url(#bl2)"/>
<path d="M40.0 16.3L41.5 2.1M40.0 16.3L48.5 6.4" stroke="#8a8a8a" stroke-width="0.9" stroke-opacity="0.6" fill="none"/>
<circle cx="40" cy="16.3" r="2.3" fill="#1a1a1a" filter="url(#bl)"/>
<g filter="url(#shr)">
<path d="M62.3 1.9 L62.2 3.1 L62.1 4.7 L61.9 6.3 L61.3 8.0 L60.5 9.3 L59.6 10.3 L58.3 11.7 L56.3 13.6 L53.7 15.9 L50.6 18.6 L47.4 21.9 L44.7 25.5 L42.8 29.1 L41.3 32.6 L40.1 36.6 L39.3 41.0 L39.1 45.9 L39.8 51.4 L42.2 56.9 L45.1 61.4 L47.5 64.9 L48.9 67.9 L49.0 69.7 L48.4 69.8 L48.6 69.9 L49.1 71.1 L49.6 72.7 L50.0 74.6 L49.9 76.5 L49.6 77.7 L49.2 78.9 L47.6 80.6 L45.2 82.5 L42.6 84.3 L40.1 85.8 L38.2 87.0 L41.8 96.6 L43.7 96.4 L46.6 96.1 L50.2 95.7 L54.3 95.0 L58.6 93.5 L62.8 91.1 L66.0 88.0 L69.0 84.8 L71.9 81.3 L74.3 77.1 L75.8 72.3 L76.0 66.4 L73.9 60.4 L70.9 55.9 L68.4 52.3 L66.8 49.3 L66.4 47.1 L66.8 46.2 L67.0 45.3 L67.0 43.6 L67.1 41.6 L67.4 39.1 L67.7 36.4 L67.7 33.7 L67.5 31.1 L67.6 27.9 L68.2 24.4 L69.1 20.7 L70.0 17.0 L70.6 13.3 L70.4 9.8 L69.3 6.9 L67.9 4.7 L66.6 3.1 L65.6 2.0 L64.9 1.1Z" fill="#7e7e7e"/>
<path d="M40.7 40.5Q53.0 43.8 65.6 44.1M42.1 55.7Q54.7 53.5 66.4 48.4M47.0 65.3Q58.7 59.9 68.9 52.0M50.0 71.1Q62.6 69.6 74.4 65.1M49.8 73.5Q60.3 78.4 71.8 80.4M48.5 78.2Q55.3 85.6 63.9 90.6" stroke="#5a5a5a" stroke-width="0.9" stroke-opacity="0.22" fill="none"/>
</g>
<path d="M62.6 1.8 L62.5 3.0 L62.6 4.5 L62.5 6.2 L62.1 7.9 L61.4 9.3 L60.6 10.6 L59.3 12.5 L57.2 15.2 L54.7 18.1 L52.1 20.9 L49.8 23.5 L48.1 25.3 L64.3 33.9 L64.8 31.7 L65.7 28.5 L66.8 24.6 L68.0 20.5 L68.9 16.6 L69.6 13.0 L69.4 9.7 L68.5 7.0 L67.3 4.9 L66.2 3.3 L65.2 2.1 L64.6 1.2Z" fill="#ffffff" opacity="0.22" filter="url(#bl2)"/>
<path d="M65.1 11.8L60.1 -1.6M65.1 11.8L68.3 -0.8" stroke="#8a8a8a" stroke-width="0.9" stroke-opacity="0.6" fill="none"/>
<circle cx="65.1" cy="11.8" r="2.3" fill="#1a1a1a" filter="url(#bl)"/>
<g filter="url(#shr)">
<path d="M91.1 6.1 L90.9 7.1 L90.5 8.3 L90.0 9.6 L89.2 10.7 L88.4 11.7 L87.5 12.5 L86.4 13.7 L84.7 15.3 L82.5 17.4 L80.0 19.8 L77.3 22.8 L75.0 26.0 L73.3 29.2 L71.8 32.5 L70.3 36.4 L69.1 41.0 L68.6 46.2 L70.0 52.5 L73.9 58.0 L77.4 62.4 L80.5 65.6 L82.7 67.8 L83.2 69.0 L81.9 68.2 L82.2 67.5 L82.6 68.8 L82.5 71.1 L81.7 73.6 L80.5 75.8 L79.7 77.4 L79.1 78.5 L77.5 80.0 L75.2 81.6 L72.6 83.1 L70.1 84.4 L68.3 85.4 L70.9 95.2 L72.8 95.2 L75.5 95.3 L79.1 95.3 L83.1 94.9 L87.6 93.8 L91.9 91.4 L95.4 88.4 L98.4 85.1 L101.5 81.4 L104.5 77.1 L106.8 72.0 L107.5 65.0 L104.4 58.3 L100.8 53.6 L97.9 50.0 L95.6 47.3 L94.6 45.7 L95.8 45.1 L96.3 45.0 L96.2 43.8 L96.1 41.7 L96.2 39.1 L96.5 36.0 L96.6 33.2 L96.4 30.7 L96.4 28.0 L96.7 25.0 L97.3 21.9 L98.0 18.8 L98.5 15.7 L98.4 12.8 L97.5 10.3 L96.4 8.5 L95.3 7.2 L94.4 6.3 L93.9 5.7Z" fill="#7e7e7e"/>
<path d="M70.0 45.1Q82.4 47.1 95.0 46.2M76.5 62.4Q87.4 56.0 96.5 47.3M82.6 68.8Q92.7 61.8 100.9 52.7M83.0 69.0Q94.4 71.2 106.0 70.4M81.0 73.7Q89.3 80.6 99.2 85.0M78.6 77.6Q84.8 85.5 93.0 91.2" stroke="#5a5a5a" stroke-width="0.9" stroke-opacity="0.22" fill="none"/>
</g>
<path d="M91.4 6.1 L91.2 7.0 L91.0 8.2 L90.6 9.5 L90.1 10.7 L89.4 11.8 L88.6 12.9 L87.4 14.5 L85.6 16.8 L83.5 19.4 L81.3 22.0 L79.4 24.2 L78.1 25.8 L93.5 33.4 L93.9 31.5 L94.6 28.6 L95.4 25.3 L96.2 21.8 L96.9 18.4 L97.4 15.3 L97.4 12.6 L96.7 10.4 L95.8 8.6 L94.8 7.3 L94.1 6.4 L93.6 5.7Z" fill="#ffffff" opacity="0.22" filter="url(#bl2)"/>
<path d="M94.0 14.1L88.5 0.9M94.0 14.1L96.8 1.4" stroke="#8a8a8a" stroke-width="0.9" stroke-opacity="0.6" fill="none"/>
<circle cx="94" cy="14.1" r="2.3" fill="#1a1a1a" filter="url(#bl)"/>
</g></g>
<text x="11" y="489" font-size="21" font-weight="bold">(b)</text>
<text x="0" y="530.5" font-size="16" textLength="40.6" lengthAdjust="spacingAndGlyphs">-11 °C</text>
<text x="0" y="644.5" font-size="16" textLength="40.6" lengthAdjust="spacingAndGlyphs">-18 °C</text>
<text x="0" y="744" font-size="16" textLength="40.6" lengthAdjust="spacingAndGlyphs">-26 °C</text>
<text x="0" y="838.4" font-size="16" textLength="40.6" lengthAdjust="spacingAndGlyphs">-37 °C</text>
<text x="89.6" y="900.5" text-anchor="middle" font-size="16">0 d</text>
<text x="192.2" y="900.5" text-anchor="middle" font-size="16">20 d</text>
<text x="295.8" y="900.5" text-anchor="middle" font-size="16">40 d</text>
<text x="397" y="900.5" text-anchor="middle" font-size="16">60 d</text>
<text x="499" y="900.5" text-anchor="middle" font-size="16">80 d</text>
<text x="615" y="900.5" text-anchor="middle" font-size="16">100 d</text>
<text x="715.7" y="900.5" text-anchor="middle" font-size="16">120 d</text>
</svg>
</body></html>
